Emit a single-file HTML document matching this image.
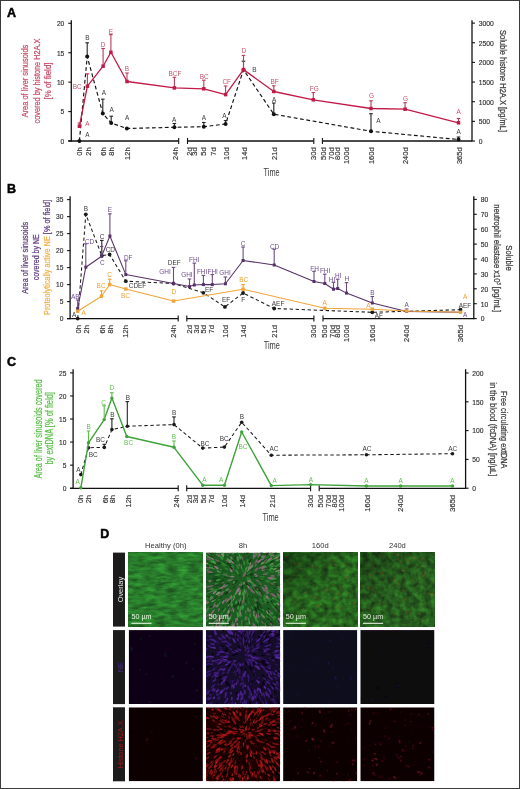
<!DOCTYPE html>
<html><head><meta charset="utf-8"><style>
html,body{margin:0;padding:0;background:#fff;}
body{width:520px;height:789px;overflow:hidden;position:relative;}
svg{display:block;position:absolute;left:0;top:0;will-change:transform;}
.frame{position:absolute;left:0;top:0;width:518px;height:787px;border:1px solid #3a3a3a;}
</style></head><body>
<svg width="520" height="789" viewBox="0 0 520 789" font-family='"Liberation Sans", sans-serif'>
<rect width="520" height="789" fill="#fff"/>
<text x="11.5" y="16.5" font-size="12.5" fill="#000" text-anchor="middle" font-weight="bold" stroke="#000" stroke-width="0.5">A</text>
<line x1="71.3" y1="20.3" x2="71.3" y2="141.6" stroke="#111" stroke-width="1.3" stroke-linecap="butt"/>
<line x1="68.3" y1="23.3" x2="71.3" y2="23.3" stroke="#111" stroke-width="1.1" stroke-linecap="butt"/>
<text x="64.3" y="26.1" font-size="8" fill="#2a2a2a" text-anchor="end" textLength="7.4" lengthAdjust="spacingAndGlyphs" stroke="#2a2a2a" stroke-width="0.15">20</text>
<line x1="68.3" y1="52.73" x2="71.3" y2="52.73" stroke="#111" stroke-width="1.1" stroke-linecap="butt"/>
<text x="64.3" y="55.53" font-size="8" fill="#2a2a2a" text-anchor="end" textLength="7.4" lengthAdjust="spacingAndGlyphs" stroke="#2a2a2a" stroke-width="0.15">15</text>
<line x1="68.3" y1="82.15" x2="71.3" y2="82.15" stroke="#111" stroke-width="1.1" stroke-linecap="butt"/>
<text x="64.3" y="84.95" font-size="8" fill="#2a2a2a" text-anchor="end" textLength="7.4" lengthAdjust="spacingAndGlyphs" stroke="#2a2a2a" stroke-width="0.15">10</text>
<line x1="68.3" y1="111.58" x2="71.3" y2="111.58" stroke="#111" stroke-width="1.1" stroke-linecap="butt"/>
<text x="64.3" y="114.38" font-size="8" fill="#2a2a2a" text-anchor="end" textLength="3.7" lengthAdjust="spacingAndGlyphs" stroke="#2a2a2a" stroke-width="0.15">5</text>
<line x1="68.3" y1="141" x2="71.3" y2="141" stroke="#111" stroke-width="1.1" stroke-linecap="butt"/>
<text x="64.3" y="143.8" font-size="8" fill="#2a2a2a" text-anchor="end" textLength="3.7" lengthAdjust="spacingAndGlyphs" stroke="#2a2a2a" stroke-width="0.15">0</text>
<line x1="472" y1="20.3" x2="472" y2="141.6" stroke="#111" stroke-width="1.3" stroke-linecap="butt"/>
<line x1="472" y1="23.1" x2="475" y2="23.1" stroke="#111" stroke-width="1.1" stroke-linecap="butt"/>
<text x="478.7" y="25.9" font-size="8" fill="#2a2a2a" text-anchor="start" textLength="15" lengthAdjust="spacingAndGlyphs" stroke="#2a2a2a" stroke-width="0.15">3000</text>
<line x1="472" y1="42.75" x2="475" y2="42.75" stroke="#111" stroke-width="1.1" stroke-linecap="butt"/>
<text x="478.7" y="45.55" font-size="8" fill="#2a2a2a" text-anchor="start" textLength="15" lengthAdjust="spacingAndGlyphs" stroke="#2a2a2a" stroke-width="0.15">2500</text>
<line x1="472" y1="62.4" x2="475" y2="62.4" stroke="#111" stroke-width="1.1" stroke-linecap="butt"/>
<text x="478.7" y="65.2" font-size="8" fill="#2a2a2a" text-anchor="start" textLength="15" lengthAdjust="spacingAndGlyphs" stroke="#2a2a2a" stroke-width="0.15">2000</text>
<line x1="472" y1="82.05" x2="475" y2="82.05" stroke="#111" stroke-width="1.1" stroke-linecap="butt"/>
<text x="478.7" y="84.85" font-size="8" fill="#2a2a2a" text-anchor="start" textLength="15" lengthAdjust="spacingAndGlyphs" stroke="#2a2a2a" stroke-width="0.15">1500</text>
<line x1="472" y1="101.7" x2="475" y2="101.7" stroke="#111" stroke-width="1.1" stroke-linecap="butt"/>
<text x="478.7" y="104.5" font-size="8" fill="#2a2a2a" text-anchor="start" textLength="15" lengthAdjust="spacingAndGlyphs" stroke="#2a2a2a" stroke-width="0.15">1000</text>
<line x1="472" y1="121.35" x2="475" y2="121.35" stroke="#111" stroke-width="1.1" stroke-linecap="butt"/>
<text x="478.7" y="124.15" font-size="8" fill="#2a2a2a" text-anchor="start" textLength="11.25" lengthAdjust="spacingAndGlyphs" stroke="#2a2a2a" stroke-width="0.15">500</text>
<line x1="472" y1="141" x2="475" y2="141" stroke="#111" stroke-width="1.1" stroke-linecap="butt"/>
<text x="478.7" y="143.8" font-size="8" fill="#2a2a2a" text-anchor="start" textLength="3.75" lengthAdjust="spacingAndGlyphs" stroke="#2a2a2a" stroke-width="0.15">0</text>
<line x1="68.2" y1="141" x2="178.7" y2="141" stroke="#111" stroke-width="1.3" stroke-linecap="butt"/>
<line x1="187.5" y1="141" x2="313.8" y2="141" stroke="#111" stroke-width="1.3" stroke-linecap="butt"/>
<line x1="322.4" y1="141" x2="472" y2="141" stroke="#111" stroke-width="1.3" stroke-linecap="butt"/>
<line x1="178.7" y1="138" x2="178.7" y2="144" stroke="#111" stroke-width="1.1" stroke-linecap="butt"/>
<line x1="187.5" y1="138" x2="187.5" y2="144" stroke="#111" stroke-width="1.1" stroke-linecap="butt"/>
<line x1="313.8" y1="138" x2="313.8" y2="144" stroke="#111" stroke-width="1.1" stroke-linecap="butt"/>
<line x1="322.4" y1="138" x2="322.4" y2="144" stroke="#111" stroke-width="1.1" stroke-linecap="butt"/>
<text transform="translate(81.8,147.4) rotate(-90)" font-size="7.5" fill="#333" text-anchor="end" stroke="#333" stroke-width="0.15">0h</text>
<text transform="translate(91,147.4) rotate(-90)" font-size="7.5" fill="#333" text-anchor="end" stroke="#333" stroke-width="0.15">2h</text>
<text transform="translate(106.1,147.4) rotate(-90)" font-size="7.5" fill="#333" text-anchor="end" stroke="#333" stroke-width="0.15">6h</text>
<text transform="translate(113.8,147.4) rotate(-90)" font-size="7.5" fill="#333" text-anchor="end" stroke="#333" stroke-width="0.15">8h</text>
<text transform="translate(129.9,147.4) rotate(-90)" font-size="7.5" fill="#333" text-anchor="end" stroke="#333" stroke-width="0.15">12h</text>
<text transform="translate(178,147.4) rotate(-90)" font-size="7.5" fill="#333" text-anchor="end" stroke="#333" stroke-width="0.15">24h</text>
<text transform="translate(191.8,147.4) rotate(-90)" font-size="7.5" fill="#333" text-anchor="end" stroke="#333" stroke-width="0.15">2d</text>
<text transform="translate(197.2,147.4) rotate(-90)" font-size="7.5" fill="#333" text-anchor="end" stroke="#333" stroke-width="0.15">3d</text>
<text transform="translate(206.4,147.4) rotate(-90)" font-size="7.5" fill="#333" text-anchor="end" stroke="#333" stroke-width="0.15">5d</text>
<text transform="translate(215.5,147.4) rotate(-90)" font-size="7.5" fill="#333" text-anchor="end" stroke="#333" stroke-width="0.15">7d</text>
<text transform="translate(228.9,147.4) rotate(-90)" font-size="7.5" fill="#333" text-anchor="end" stroke="#333" stroke-width="0.15">10d</text>
<text transform="translate(247,147.4) rotate(-90)" font-size="7.5" fill="#333" text-anchor="end" stroke="#333" stroke-width="0.15">14d</text>
<text transform="translate(277.2,147.4) rotate(-90)" font-size="7.5" fill="#333" text-anchor="end" stroke="#333" stroke-width="0.15">21d</text>
<text transform="translate(316,147.4) rotate(-90)" font-size="7.5" fill="#333" text-anchor="end" stroke="#333" stroke-width="0.15">30d</text>
<text transform="translate(326.1,147.4) rotate(-90)" font-size="7.5" fill="#333" text-anchor="end" stroke="#333" stroke-width="0.15">50d</text>
<text transform="translate(333.8,147.4) rotate(-90)" font-size="7.5" fill="#333" text-anchor="end" stroke="#333" stroke-width="0.15">70d</text>
<text transform="translate(339.6,147.4) rotate(-90)" font-size="7.5" fill="#333" text-anchor="end" stroke="#333" stroke-width="0.15">80d</text>
<text transform="translate(348.8,147.4) rotate(-90)" font-size="7.5" fill="#333" text-anchor="end" stroke="#333" stroke-width="0.15">100d</text>
<text transform="translate(373.8,147.4) rotate(-90)" font-size="7.5" fill="#333" text-anchor="end" stroke="#333" stroke-width="0.15">160d</text>
<text transform="translate(408.2,147.4) rotate(-90)" font-size="7.5" fill="#333" text-anchor="end" stroke="#333" stroke-width="0.15">240d</text>
<text transform="translate(461.5,147.4) rotate(-90)" font-size="7.5" fill="#333" text-anchor="end" stroke="#333" stroke-width="0.15">365d</text>
<text x="271.6" y="176" font-size="10" fill="#3a3a3a" text-anchor="middle" textLength="16" lengthAdjust="spacingAndGlyphs">Time</text>
<text transform="translate(28.2,81) rotate(-90)" font-size="9" fill="#c8506a" text-anchor="middle" textLength="72.6" lengthAdjust="spacingAndGlyphs" stroke="#c8506a" stroke-width="0.25">Area of liver sinusoids</text>
<text transform="translate(39.5,81) rotate(-90)" font-size="9" fill="#c8506a" text-anchor="middle" textLength="85" lengthAdjust="spacingAndGlyphs" stroke="#c8506a" stroke-width="0.25">covered by histone H2A.X</text>
<text transform="translate(50.6,81) rotate(-90)" font-size="9" fill="#c8506a" text-anchor="middle" textLength="37" lengthAdjust="spacingAndGlyphs" stroke="#c8506a" stroke-width="0.25">[% of field]</text>
<text transform="translate(500.1,81) rotate(90)" font-size="9.8" fill="#3a3a3a" text-anchor="middle" textLength="102" lengthAdjust="spacingAndGlyphs" stroke="#3a3a3a" stroke-width="0.25">Soluble histone H2A.X [pg/mL]</text>
<polyline points="79.4,141 87.2,56.5 102.8,113.5 111.2,123 126.9,128.5 174.4,127.3 203.8,126.7 225.6,124 243.5,69.8 273.8,114.2 371,131.3 458.5,139.5" fill="none" stroke="#111" stroke-width="1.15" stroke-linejoin="round" stroke-dasharray="3.8 2.6"/>
<line x1="87.2" y1="56.5" x2="87.2" y2="42.8" stroke="#222" stroke-width="1.1" stroke-linecap="butt"/>
<line x1="85.4" y1="42.8" x2="89" y2="42.8" stroke="#222" stroke-width="1.1" stroke-linecap="butt"/>
<line x1="102.8" y1="113.5" x2="102.8" y2="99.2" stroke="#222" stroke-width="1.1" stroke-linecap="butt"/>
<line x1="101" y1="99.2" x2="104.6" y2="99.2" stroke="#222" stroke-width="1.1" stroke-linecap="butt"/>
<line x1="111.2" y1="123" x2="111.2" y2="116.2" stroke="#222" stroke-width="1.1" stroke-linecap="butt"/>
<line x1="109.4" y1="116.2" x2="113" y2="116.2" stroke="#222" stroke-width="1.1" stroke-linecap="butt"/>
<line x1="174.4" y1="127.3" x2="174.4" y2="123.5" stroke="#222" stroke-width="1.1" stroke-linecap="butt"/>
<line x1="172.6" y1="123.5" x2="176.2" y2="123.5" stroke="#222" stroke-width="1.1" stroke-linecap="butt"/>
<line x1="203.8" y1="126.7" x2="203.8" y2="122.5" stroke="#222" stroke-width="1.1" stroke-linecap="butt"/>
<line x1="202" y1="122.5" x2="205.6" y2="122.5" stroke="#222" stroke-width="1.1" stroke-linecap="butt"/>
<line x1="225.6" y1="124" x2="225.6" y2="120.6" stroke="#222" stroke-width="1.1" stroke-linecap="butt"/>
<line x1="223.8" y1="120.6" x2="227.4" y2="120.6" stroke="#222" stroke-width="1.1" stroke-linecap="butt"/>
<line x1="243.5" y1="69.8" x2="243.5" y2="61.2" stroke="#222" stroke-width="1.1" stroke-linecap="butt"/>
<line x1="241.7" y1="61.2" x2="245.3" y2="61.2" stroke="#222" stroke-width="1.1" stroke-linecap="butt"/>
<line x1="273.8" y1="114.2" x2="273.8" y2="103" stroke="#222" stroke-width="1.1" stroke-linecap="butt"/>
<line x1="272" y1="103" x2="275.6" y2="103" stroke="#222" stroke-width="1.1" stroke-linecap="butt"/>
<line x1="371" y1="131.3" x2="371" y2="113.7" stroke="#222" stroke-width="1.1" stroke-linecap="butt"/>
<line x1="369.2" y1="113.7" x2="372.8" y2="113.7" stroke="#222" stroke-width="1.1" stroke-linecap="butt"/>
<line x1="458.5" y1="139.5" x2="458.5" y2="137" stroke="#222" stroke-width="1.1" stroke-linecap="butt"/>
<line x1="456.7" y1="137" x2="460.3" y2="137" stroke="#222" stroke-width="1.1" stroke-linecap="butt"/>
<circle cx="79.4" cy="141" r="2" fill="#111"/>
<circle cx="87.2" cy="56.5" r="2" fill="#111"/>
<circle cx="102.8" cy="113.5" r="2" fill="#111"/>
<circle cx="111.2" cy="123" r="2" fill="#111"/>
<circle cx="126.9" cy="128.5" r="2" fill="#111"/>
<circle cx="174.4" cy="127.3" r="2" fill="#111"/>
<circle cx="203.8" cy="126.7" r="2" fill="#111"/>
<circle cx="225.6" cy="124" r="2" fill="#111"/>
<circle cx="243.5" cy="69.8" r="2" fill="#111"/>
<circle cx="273.8" cy="114.2" r="2" fill="#111"/>
<circle cx="371" cy="131.3" r="2" fill="#111"/>
<circle cx="458.5" cy="139.5" r="2" fill="#111"/>
<text x="87.5" y="137.2" font-size="7.5" fill="#3a3a3a" text-anchor="middle" textLength="4.3" lengthAdjust="spacingAndGlyphs">A</text>
<text x="87.5" y="40" font-size="7.5" fill="#3a3a3a" text-anchor="middle" textLength="4.3" lengthAdjust="spacingAndGlyphs">B</text>
<text x="103.8" y="95" font-size="7.5" fill="#3a3a3a" text-anchor="middle" textLength="4.3" lengthAdjust="spacingAndGlyphs">A</text>
<text x="111.7" y="111.8" font-size="7.5" fill="#3a3a3a" text-anchor="middle" textLength="4.3" lengthAdjust="spacingAndGlyphs">A</text>
<text x="127.1" y="120" font-size="7.5" fill="#3a3a3a" text-anchor="middle" textLength="4.3" lengthAdjust="spacingAndGlyphs">A</text>
<text x="174.2" y="121.5" font-size="7.5" fill="#3a3a3a" text-anchor="middle" textLength="4.3" lengthAdjust="spacingAndGlyphs">A</text>
<text x="203.8" y="119.6" font-size="7.5" fill="#3a3a3a" text-anchor="middle" textLength="4.3" lengthAdjust="spacingAndGlyphs">A</text>
<text x="224.5" y="117.7" font-size="7.5" fill="#3a3a3a" text-anchor="middle" textLength="4.3" lengthAdjust="spacingAndGlyphs">A</text>
<text x="254.5" y="71.5" font-size="7.5" fill="#3a3a3a" text-anchor="middle" textLength="4.3" lengthAdjust="spacingAndGlyphs">B</text>
<text x="274.2" y="101.5" font-size="7.5" fill="#3a3a3a" text-anchor="middle" textLength="4.3" lengthAdjust="spacingAndGlyphs">A</text>
<text x="378.5" y="123.3" font-size="7.5" fill="#3a3a3a" text-anchor="middle" textLength="4.3" lengthAdjust="spacingAndGlyphs">A</text>
<text x="458.6" y="133.8" font-size="7.5" fill="#3a3a3a" text-anchor="middle" textLength="4.3" lengthAdjust="spacingAndGlyphs">A</text>
<polyline points="79.4,126.2 87.4,86.2 103.1,66.2 110.9,52.3 127,81.5 174.4,87.9 203.8,88.8 225.6,94.6 243.5,69.6 273.8,91.5 313.3,99.8 371,108.5 405.1,109.2 458.5,122.8" fill="none" stroke="#c01a46" stroke-width="1.3" stroke-linejoin="round"/>
<line x1="79.4" y1="126.2" x2="79.4" y2="123" stroke="#b83a5a" stroke-width="1.1" stroke-linecap="butt"/>
<line x1="77.6" y1="123" x2="81.2" y2="123" stroke="#b83a5a" stroke-width="1.1" stroke-linecap="butt"/>
<line x1="87.4" y1="86.2" x2="87.4" y2="73.8" stroke="#b83a5a" stroke-width="1.1" stroke-linecap="butt"/>
<line x1="85.6" y1="73.8" x2="89.2" y2="73.8" stroke="#b83a5a" stroke-width="1.1" stroke-linecap="butt"/>
<line x1="103.1" y1="66.2" x2="103.1" y2="48.5" stroke="#b83a5a" stroke-width="1.1" stroke-linecap="butt"/>
<line x1="101.3" y1="48.5" x2="104.9" y2="48.5" stroke="#b83a5a" stroke-width="1.1" stroke-linecap="butt"/>
<line x1="110.9" y1="52.3" x2="110.9" y2="34.6" stroke="#b83a5a" stroke-width="1.1" stroke-linecap="butt"/>
<line x1="109.1" y1="34.6" x2="112.7" y2="34.6" stroke="#b83a5a" stroke-width="1.1" stroke-linecap="butt"/>
<line x1="127" y1="81.5" x2="127" y2="73" stroke="#b83a5a" stroke-width="1.1" stroke-linecap="butt"/>
<line x1="125.2" y1="73" x2="128.8" y2="73" stroke="#b83a5a" stroke-width="1.1" stroke-linecap="butt"/>
<line x1="174.4" y1="87.9" x2="174.4" y2="77.3" stroke="#b83a5a" stroke-width="1.1" stroke-linecap="butt"/>
<line x1="172.6" y1="77.3" x2="176.2" y2="77.3" stroke="#b83a5a" stroke-width="1.1" stroke-linecap="butt"/>
<line x1="203.8" y1="88.8" x2="203.8" y2="80.2" stroke="#b83a5a" stroke-width="1.1" stroke-linecap="butt"/>
<line x1="202" y1="80.2" x2="205.6" y2="80.2" stroke="#b83a5a" stroke-width="1.1" stroke-linecap="butt"/>
<line x1="225.6" y1="94.6" x2="225.6" y2="86" stroke="#b83a5a" stroke-width="1.1" stroke-linecap="butt"/>
<line x1="223.8" y1="86" x2="227.4" y2="86" stroke="#b83a5a" stroke-width="1.1" stroke-linecap="butt"/>
<line x1="243.5" y1="69.6" x2="243.5" y2="55.4" stroke="#b83a5a" stroke-width="1.1" stroke-linecap="butt"/>
<line x1="241.7" y1="55.4" x2="245.3" y2="55.4" stroke="#b83a5a" stroke-width="1.1" stroke-linecap="butt"/>
<line x1="273.8" y1="91.5" x2="273.8" y2="85.8" stroke="#b83a5a" stroke-width="1.1" stroke-linecap="butt"/>
<line x1="272" y1="85.8" x2="275.6" y2="85.8" stroke="#b83a5a" stroke-width="1.1" stroke-linecap="butt"/>
<line x1="313.3" y1="99.8" x2="313.3" y2="92.5" stroke="#b83a5a" stroke-width="1.1" stroke-linecap="butt"/>
<line x1="311.5" y1="92.5" x2="315.1" y2="92.5" stroke="#b83a5a" stroke-width="1.1" stroke-linecap="butt"/>
<line x1="371" y1="108.5" x2="371" y2="100.8" stroke="#b83a5a" stroke-width="1.1" stroke-linecap="butt"/>
<line x1="369.2" y1="100.8" x2="372.8" y2="100.8" stroke="#b83a5a" stroke-width="1.1" stroke-linecap="butt"/>
<line x1="405.1" y1="109.2" x2="405.1" y2="102.7" stroke="#b83a5a" stroke-width="1.1" stroke-linecap="butt"/>
<line x1="403.3" y1="102.7" x2="406.9" y2="102.7" stroke="#b83a5a" stroke-width="1.1" stroke-linecap="butt"/>
<line x1="458.5" y1="122.8" x2="458.5" y2="118.5" stroke="#b83a5a" stroke-width="1.1" stroke-linecap="butt"/>
<line x1="456.7" y1="118.5" x2="460.3" y2="118.5" stroke="#b83a5a" stroke-width="1.1" stroke-linecap="butt"/>
<rect x="77.65" y="124.45" width="3.5" height="3.5" fill="#c01a46"/>
<rect x="85.65" y="84.45" width="3.5" height="3.5" fill="#c01a46"/>
<rect x="101.35" y="64.45" width="3.5" height="3.5" fill="#c01a46"/>
<rect x="109.15" y="50.55" width="3.5" height="3.5" fill="#c01a46"/>
<rect x="125.25" y="79.75" width="3.5" height="3.5" fill="#c01a46"/>
<rect x="172.65" y="86.15" width="3.5" height="3.5" fill="#c01a46"/>
<rect x="202.05" y="87.05" width="3.5" height="3.5" fill="#c01a46"/>
<rect x="223.85" y="92.85" width="3.5" height="3.5" fill="#c01a46"/>
<rect x="241.75" y="67.85" width="3.5" height="3.5" fill="#c01a46"/>
<rect x="272.05" y="89.75" width="3.5" height="3.5" fill="#c01a46"/>
<rect x="311.55" y="98.05" width="3.5" height="3.5" fill="#c01a46"/>
<rect x="369.25" y="106.75" width="3.5" height="3.5" fill="#c01a46"/>
<rect x="403.35" y="107.45" width="3.5" height="3.5" fill="#c01a46"/>
<rect x="456.75" y="121.05" width="3.5" height="3.5" fill="#c01a46"/>
<text x="87.5" y="126" font-size="7.5" fill="#c8506a" text-anchor="middle" textLength="4.3" lengthAdjust="spacingAndGlyphs">A</text>
<text x="77.2" y="88.5" font-size="7.5" fill="#c8506a" text-anchor="middle" textLength="8.96" lengthAdjust="spacingAndGlyphs">BC</text>
<text x="103.1" y="46.9" font-size="7.5" fill="#c8506a" text-anchor="middle" textLength="4.66" lengthAdjust="spacingAndGlyphs">D</text>
<text x="110.8" y="33.5" font-size="7.5" fill="#c8506a" text-anchor="middle" textLength="4.3" lengthAdjust="spacingAndGlyphs">E</text>
<text x="127" y="71" font-size="7.5" fill="#c8506a" text-anchor="middle" textLength="4.3" lengthAdjust="spacingAndGlyphs">B</text>
<text x="175" y="75.8" font-size="7.5" fill="#c8506a" text-anchor="middle" textLength="12.9" lengthAdjust="spacingAndGlyphs">BCF</text>
<text x="204.3" y="78.8" font-size="7.5" fill="#c8506a" text-anchor="middle" textLength="8.96" lengthAdjust="spacingAndGlyphs">BC</text>
<text x="226.7" y="84" font-size="7.5" fill="#c8506a" text-anchor="middle" textLength="8.6" lengthAdjust="spacingAndGlyphs">CF</text>
<text x="244" y="52.7" font-size="7.5" fill="#c8506a" text-anchor="middle" textLength="4.66" lengthAdjust="spacingAndGlyphs">D</text>
<text x="274.7" y="83.8" font-size="7.5" fill="#c8506a" text-anchor="middle" textLength="8.24" lengthAdjust="spacingAndGlyphs">BF</text>
<text x="314.3" y="90.6" font-size="7.5" fill="#c8506a" text-anchor="middle" textLength="8.96" lengthAdjust="spacingAndGlyphs">FG</text>
<text x="371.4" y="97.7" font-size="7.5" fill="#c8506a" text-anchor="middle" textLength="5.02" lengthAdjust="spacingAndGlyphs">G</text>
<text x="405.5" y="101.2" font-size="7.5" fill="#c8506a" text-anchor="middle" textLength="5.02" lengthAdjust="spacingAndGlyphs">G</text>
<text x="458.6" y="113.8" font-size="7.5" fill="#c8506a" text-anchor="middle" textLength="4.3" lengthAdjust="spacingAndGlyphs">A</text>
<text x="11.4" y="192.6" font-size="12.5" fill="#000" text-anchor="middle" font-weight="bold" stroke="#000" stroke-width="0.5">B</text>
<line x1="70.1" y1="196.2" x2="70.1" y2="319.2" stroke="#111" stroke-width="1.3" stroke-linecap="butt"/>
<line x1="67.1" y1="199.6" x2="70.1" y2="199.6" stroke="#111" stroke-width="1.1" stroke-linecap="butt"/>
<text x="63.5" y="202.4" font-size="8" fill="#2a2a2a" text-anchor="end" textLength="7.4" lengthAdjust="spacingAndGlyphs" stroke="#2a2a2a" stroke-width="0.15">35</text>
<line x1="67.1" y1="216.6" x2="70.1" y2="216.6" stroke="#111" stroke-width="1.1" stroke-linecap="butt"/>
<text x="63.5" y="219.4" font-size="8" fill="#2a2a2a" text-anchor="end" textLength="7.4" lengthAdjust="spacingAndGlyphs" stroke="#2a2a2a" stroke-width="0.15">30</text>
<line x1="67.1" y1="233.6" x2="70.1" y2="233.6" stroke="#111" stroke-width="1.1" stroke-linecap="butt"/>
<text x="63.5" y="236.4" font-size="8" fill="#2a2a2a" text-anchor="end" textLength="7.4" lengthAdjust="spacingAndGlyphs" stroke="#2a2a2a" stroke-width="0.15">25</text>
<line x1="67.1" y1="250.6" x2="70.1" y2="250.6" stroke="#111" stroke-width="1.1" stroke-linecap="butt"/>
<text x="63.5" y="253.4" font-size="8" fill="#2a2a2a" text-anchor="end" textLength="7.4" lengthAdjust="spacingAndGlyphs" stroke="#2a2a2a" stroke-width="0.15">20</text>
<line x1="67.1" y1="267.6" x2="70.1" y2="267.6" stroke="#111" stroke-width="1.1" stroke-linecap="butt"/>
<text x="63.5" y="270.4" font-size="8" fill="#2a2a2a" text-anchor="end" textLength="7.4" lengthAdjust="spacingAndGlyphs" stroke="#2a2a2a" stroke-width="0.15">15</text>
<line x1="67.1" y1="284.6" x2="70.1" y2="284.6" stroke="#111" stroke-width="1.1" stroke-linecap="butt"/>
<text x="63.5" y="287.4" font-size="8" fill="#2a2a2a" text-anchor="end" textLength="7.4" lengthAdjust="spacingAndGlyphs" stroke="#2a2a2a" stroke-width="0.15">10</text>
<line x1="67.1" y1="301.6" x2="70.1" y2="301.6" stroke="#111" stroke-width="1.1" stroke-linecap="butt"/>
<text x="63.5" y="304.4" font-size="8" fill="#2a2a2a" text-anchor="end" textLength="3.7" lengthAdjust="spacingAndGlyphs" stroke="#2a2a2a" stroke-width="0.15">5</text>
<line x1="67.1" y1="318.6" x2="70.1" y2="318.6" stroke="#111" stroke-width="1.1" stroke-linecap="butt"/>
<text x="63.5" y="321.4" font-size="8" fill="#2a2a2a" text-anchor="end" textLength="3.7" lengthAdjust="spacingAndGlyphs" stroke="#2a2a2a" stroke-width="0.15">0</text>
<line x1="473.8" y1="196.2" x2="473.8" y2="319.2" stroke="#111" stroke-width="1.3" stroke-linecap="butt"/>
<line x1="473.8" y1="199.4" x2="476.8" y2="199.4" stroke="#111" stroke-width="1.1" stroke-linecap="butt"/>
<text x="480.8" y="202.2" font-size="8" fill="#2a2a2a" text-anchor="start" textLength="7.5" lengthAdjust="spacingAndGlyphs" stroke="#2a2a2a" stroke-width="0.15">80</text>
<line x1="473.8" y1="214.3" x2="476.8" y2="214.3" stroke="#111" stroke-width="1.1" stroke-linecap="butt"/>
<text x="480.8" y="217.1" font-size="8" fill="#2a2a2a" text-anchor="start" textLength="7.5" lengthAdjust="spacingAndGlyphs" stroke="#2a2a2a" stroke-width="0.15">70</text>
<line x1="473.8" y1="229.2" x2="476.8" y2="229.2" stroke="#111" stroke-width="1.1" stroke-linecap="butt"/>
<text x="480.8" y="232" font-size="8" fill="#2a2a2a" text-anchor="start" textLength="7.5" lengthAdjust="spacingAndGlyphs" stroke="#2a2a2a" stroke-width="0.15">60</text>
<line x1="473.8" y1="244.1" x2="476.8" y2="244.1" stroke="#111" stroke-width="1.1" stroke-linecap="butt"/>
<text x="480.8" y="246.9" font-size="8" fill="#2a2a2a" text-anchor="start" textLength="7.5" lengthAdjust="spacingAndGlyphs" stroke="#2a2a2a" stroke-width="0.15">50</text>
<line x1="473.8" y1="259" x2="476.8" y2="259" stroke="#111" stroke-width="1.1" stroke-linecap="butt"/>
<text x="480.8" y="261.8" font-size="8" fill="#2a2a2a" text-anchor="start" textLength="7.5" lengthAdjust="spacingAndGlyphs" stroke="#2a2a2a" stroke-width="0.15">40</text>
<line x1="473.8" y1="273.9" x2="476.8" y2="273.9" stroke="#111" stroke-width="1.1" stroke-linecap="butt"/>
<text x="480.8" y="276.7" font-size="8" fill="#2a2a2a" text-anchor="start" textLength="7.5" lengthAdjust="spacingAndGlyphs" stroke="#2a2a2a" stroke-width="0.15">30</text>
<line x1="473.8" y1="288.8" x2="476.8" y2="288.8" stroke="#111" stroke-width="1.1" stroke-linecap="butt"/>
<text x="480.8" y="291.6" font-size="8" fill="#2a2a2a" text-anchor="start" textLength="7.5" lengthAdjust="spacingAndGlyphs" stroke="#2a2a2a" stroke-width="0.15">20</text>
<line x1="473.8" y1="303.7" x2="476.8" y2="303.7" stroke="#111" stroke-width="1.1" stroke-linecap="butt"/>
<text x="480.8" y="306.5" font-size="8" fill="#2a2a2a" text-anchor="start" textLength="7.5" lengthAdjust="spacingAndGlyphs" stroke="#2a2a2a" stroke-width="0.15">10</text>
<line x1="473.8" y1="318.6" x2="476.8" y2="318.6" stroke="#111" stroke-width="1.1" stroke-linecap="butt"/>
<text x="480.8" y="321.4" font-size="8" fill="#2a2a2a" text-anchor="start" textLength="3.75" lengthAdjust="spacingAndGlyphs" stroke="#2a2a2a" stroke-width="0.15">0</text>
<line x1="67" y1="318.6" x2="178.2" y2="318.6" stroke="#111" stroke-width="1.3" stroke-linecap="butt"/>
<line x1="186.8" y1="318.6" x2="313.9" y2="318.6" stroke="#111" stroke-width="1.3" stroke-linecap="butt"/>
<line x1="323" y1="318.6" x2="473.8" y2="318.6" stroke="#111" stroke-width="1.3" stroke-linecap="butt"/>
<line x1="178.2" y1="315.6" x2="178.2" y2="321.6" stroke="#111" stroke-width="1.1" stroke-linecap="butt"/>
<line x1="186.8" y1="315.6" x2="186.8" y2="321.6" stroke="#111" stroke-width="1.1" stroke-linecap="butt"/>
<line x1="313.9" y1="315.6" x2="313.9" y2="321.6" stroke="#111" stroke-width="1.1" stroke-linecap="butt"/>
<line x1="323" y1="315.6" x2="323" y2="321.6" stroke="#111" stroke-width="1.1" stroke-linecap="butt"/>
<text transform="translate(80.6,325.2) rotate(-90)" font-size="7.5" fill="#333" text-anchor="end" stroke="#333" stroke-width="0.15">0h</text>
<text transform="translate(88.9,325.2) rotate(-90)" font-size="7.5" fill="#333" text-anchor="end" stroke="#333" stroke-width="0.15">2h</text>
<text transform="translate(105.1,325.2) rotate(-90)" font-size="7.5" fill="#333" text-anchor="end" stroke="#333" stroke-width="0.15">6h</text>
<text transform="translate(112.6,325.2) rotate(-90)" font-size="7.5" fill="#333" text-anchor="end" stroke="#333" stroke-width="0.15">8h</text>
<text transform="translate(128.4,325.2) rotate(-90)" font-size="7.5" fill="#333" text-anchor="end" stroke="#333" stroke-width="0.15">12h</text>
<text transform="translate(176.4,325.2) rotate(-90)" font-size="7.5" fill="#333" text-anchor="end" stroke="#333" stroke-width="0.15">24h</text>
<text transform="translate(191.6,325.2) rotate(-90)" font-size="7.5" fill="#333" text-anchor="end" stroke="#333" stroke-width="0.15">2d</text>
<text transform="translate(198.5,325.2) rotate(-90)" font-size="7.5" fill="#333" text-anchor="end" stroke="#333" stroke-width="0.15">3d</text>
<text transform="translate(205.9,325.2) rotate(-90)" font-size="7.5" fill="#333" text-anchor="end" stroke="#333" stroke-width="0.15">5d</text>
<text transform="translate(214.3,325.2) rotate(-90)" font-size="7.5" fill="#333" text-anchor="end" stroke="#333" stroke-width="0.15">7d</text>
<text transform="translate(227.9,325.2) rotate(-90)" font-size="7.5" fill="#333" text-anchor="end" stroke="#333" stroke-width="0.15">10d</text>
<text transform="translate(245.6,325.2) rotate(-90)" font-size="7.5" fill="#333" text-anchor="end" stroke="#333" stroke-width="0.15">14d</text>
<text transform="translate(277.4,325.2) rotate(-90)" font-size="7.5" fill="#333" text-anchor="end" stroke="#333" stroke-width="0.15">21d</text>
<text transform="translate(316.4,325.2) rotate(-90)" font-size="7.5" fill="#333" text-anchor="end" stroke="#333" stroke-width="0.15">30d</text>
<text transform="translate(327.2,325.2) rotate(-90)" font-size="7.5" fill="#333" text-anchor="end" stroke="#333" stroke-width="0.15">50d</text>
<text transform="translate(335.1,325.2) rotate(-90)" font-size="7.5" fill="#333" text-anchor="end" stroke="#333" stroke-width="0.15">70d</text>
<text transform="translate(340.2,325.2) rotate(-90)" font-size="7.5" fill="#333" text-anchor="end" stroke="#333" stroke-width="0.15">80d</text>
<text transform="translate(348.6,325.2) rotate(-90)" font-size="7.5" fill="#333" text-anchor="end" stroke="#333" stroke-width="0.15">100d</text>
<text transform="translate(374.9,325.2) rotate(-90)" font-size="7.5" fill="#333" text-anchor="end" stroke="#333" stroke-width="0.15">160d</text>
<text transform="translate(409.2,325.2) rotate(-90)" font-size="7.5" fill="#333" text-anchor="end" stroke="#333" stroke-width="0.15">240d</text>
<text transform="translate(463.1,325.2) rotate(-90)" font-size="7.5" fill="#333" text-anchor="end" stroke="#333" stroke-width="0.15">365d</text>
<text x="271.8" y="349" font-size="10" fill="#3a3a3a" text-anchor="middle" textLength="16.3" lengthAdjust="spacingAndGlyphs">Time</text>
<text transform="translate(27.8,257.8) rotate(-90)" font-size="9" fill="#5e3d7e" text-anchor="middle" textLength="72" lengthAdjust="spacingAndGlyphs" stroke="#5e3d7e" stroke-width="0.25">Area of liver sinusoids</text>
<text transform="translate(39.3,257.3) rotate(-90)" font-size="9" fill="#5e3d7e" text-anchor="middle" textLength="46" lengthAdjust="spacingAndGlyphs" stroke="#5e3d7e" stroke-width="0.25">covered by NE</text>
<text transform="translate(49.6,315) rotate(-90)" font-size="9" text-anchor="start" stroke-width="0.25" textLength="115.2" lengthAdjust="spacingAndGlyphs"><tspan fill="#f4b04a" stroke="#f4b04a">Proteolytically active NE</tspan><tspan fill="#5e3d7e" stroke="#5e3d7e"> [% of field]</tspan></text>
<text transform="translate(494.1,258.2) rotate(90)" font-size="9.8" fill="#3a3a3a" text-anchor="middle" textLength="108" lengthAdjust="spacingAndGlyphs" stroke="#3a3a3a" stroke-width="0.25">neutrophil elastase x10<tspan font-size="5" dy="-3">3</tspan><tspan dy="3"> [pg/mL]</tspan></text>
<text transform="translate(505.6,258) rotate(90)" font-size="9.8" fill="#3a3a3a" text-anchor="middle" textLength="25.4" lengthAdjust="spacingAndGlyphs" stroke="#3a3a3a" stroke-width="0.25">Soluble</text>
<polyline points="77.7,318.6 85.8,214.3 101.8,255.7 109.6,254.5 125.8,281.2 173.5,283.5 203.4,292.8 224.9,306.9 243.1,293 274.2,308.5 372.3,312.3 460.5,309.7" fill="none" stroke="#1a1a1a" stroke-width="1.05" stroke-linejoin="round" stroke-dasharray="3.4 2.6"/>
<line x1="101.8" y1="255.7" x2="101.8" y2="240.4" stroke="#222" stroke-width="1.1" stroke-linecap="butt"/>
<line x1="100" y1="240.4" x2="103.6" y2="240.4" stroke="#222" stroke-width="1.1" stroke-linecap="butt"/>
<circle cx="77.7" cy="318.6" r="1.9" fill="#1a1a1a"/>
<circle cx="85.8" cy="214.3" r="1.9" fill="#1a1a1a"/>
<circle cx="101.8" cy="255.7" r="1.9" fill="#1a1a1a"/>
<circle cx="109.6" cy="254.5" r="1.9" fill="#1a1a1a"/>
<circle cx="125.8" cy="281.2" r="1.9" fill="#1a1a1a"/>
<circle cx="173.5" cy="283.5" r="1.9" fill="#1a1a1a"/>
<circle cx="203.4" cy="292.8" r="1.9" fill="#1a1a1a"/>
<circle cx="224.9" cy="306.9" r="1.9" fill="#1a1a1a"/>
<circle cx="243.1" cy="293" r="1.9" fill="#1a1a1a"/>
<circle cx="274.2" cy="308.5" r="1.9" fill="#1a1a1a"/>
<circle cx="372.3" cy="312.3" r="1.9" fill="#1a1a1a"/>
<circle cx="460.5" cy="309.7" r="1.9" fill="#1a1a1a"/>
<text x="74.2" y="316.5" font-size="7.5" fill="#3a3a3a" text-anchor="middle" textLength="4.3" lengthAdjust="spacingAndGlyphs">A</text>
<text x="85.9" y="211" font-size="7.5" fill="#3a3a3a" text-anchor="middle" textLength="4.3" lengthAdjust="spacingAndGlyphs">B</text>
<text x="102" y="239" font-size="7.5" fill="#3a3a3a" text-anchor="middle" textLength="4.66" lengthAdjust="spacingAndGlyphs">C</text>
<text x="110.3" y="251.8" font-size="7.5" fill="#3a3a3a" text-anchor="middle" textLength="9.31" lengthAdjust="spacingAndGlyphs">CD</text>
<text x="137.5" y="288" font-size="7.5" fill="#3a3a3a" text-anchor="middle" textLength="17.56" lengthAdjust="spacingAndGlyphs">CDEF</text>
<text x="174.2" y="265.4" font-size="7.5" fill="#3a3a3a" text-anchor="middle" textLength="12.9" lengthAdjust="spacingAndGlyphs">DEF</text>
<text x="209.2" y="291.8" font-size="7.5" fill="#3a3a3a" text-anchor="middle" textLength="8.24" lengthAdjust="spacingAndGlyphs">EF</text>
<text x="226.1" y="302.3" font-size="7.5" fill="#3a3a3a" text-anchor="middle" textLength="8.24" lengthAdjust="spacingAndGlyphs">EF</text>
<text x="243.2" y="301.5" font-size="7.5" fill="#3a3a3a" text-anchor="middle" textLength="3.94" lengthAdjust="spacingAndGlyphs">F</text>
<text x="278.1" y="306" font-size="7.5" fill="#3a3a3a" text-anchor="middle" textLength="12.55" lengthAdjust="spacingAndGlyphs">AEF</text>
<text x="378.8" y="317.7" font-size="7.5" fill="#3a3a3a" text-anchor="middle" textLength="8.24" lengthAdjust="spacingAndGlyphs">AF</text>
<text x="465" y="307.7" font-size="7.5" fill="#3a3a3a" text-anchor="middle" textLength="12.55" lengthAdjust="spacingAndGlyphs">AEF</text>
<polyline points="77.7,308.5 85.8,267.2 101.6,256.2 109.9,236 125.8,274.6 173.5,283.5 189.5,286.6 194.3,285 203.4,284.6 212.3,284.6 225.4,283.8 243.1,260.5 274.2,265 314,281.5 324.8,283.5 333.5,289.2 337.7,288.5 346.5,293.1 372.3,303 406.6,311.5 460.5,312.3" fill="none" stroke="#553068" stroke-width="1.05" stroke-linejoin="round"/>
<line x1="77.7" y1="308.5" x2="77.7" y2="300" stroke="#6a4a84" stroke-width="1.1" stroke-linecap="butt"/>
<line x1="75.9" y1="300" x2="79.5" y2="300" stroke="#6a4a84" stroke-width="1.1" stroke-linecap="butt"/>
<line x1="85.8" y1="267.2" x2="85.8" y2="243.8" stroke="#6a4a84" stroke-width="1.1" stroke-linecap="butt"/>
<line x1="84" y1="243.8" x2="87.6" y2="243.8" stroke="#6a4a84" stroke-width="1.1" stroke-linecap="butt"/>
<line x1="101.6" y1="256.2" x2="101.6" y2="246.5" stroke="#6a4a84" stroke-width="1.1" stroke-linecap="butt"/>
<line x1="99.8" y1="246.5" x2="103.4" y2="246.5" stroke="#6a4a84" stroke-width="1.1" stroke-linecap="butt"/>
<line x1="109.9" y1="236" x2="109.9" y2="213.8" stroke="#6a4a84" stroke-width="1.1" stroke-linecap="butt"/>
<line x1="108.1" y1="213.8" x2="111.7" y2="213.8" stroke="#6a4a84" stroke-width="1.1" stroke-linecap="butt"/>
<line x1="125.8" y1="274.6" x2="125.8" y2="260.8" stroke="#6a4a84" stroke-width="1.1" stroke-linecap="butt"/>
<line x1="124" y1="260.8" x2="127.6" y2="260.8" stroke="#6a4a84" stroke-width="1.1" stroke-linecap="butt"/>
<line x1="173.5" y1="283.5" x2="173.5" y2="267.4" stroke="#6a4a84" stroke-width="1.1" stroke-linecap="butt"/>
<line x1="171.7" y1="267.4" x2="175.3" y2="267.4" stroke="#6a4a84" stroke-width="1.1" stroke-linecap="butt"/>
<line x1="189.5" y1="286.6" x2="189.5" y2="279" stroke="#6a4a84" stroke-width="1.1" stroke-linecap="butt"/>
<line x1="187.7" y1="279" x2="191.3" y2="279" stroke="#6a4a84" stroke-width="1.1" stroke-linecap="butt"/>
<line x1="194.3" y1="285" x2="194.3" y2="263.1" stroke="#6a4a84" stroke-width="1.1" stroke-linecap="butt"/>
<line x1="192.5" y1="263.1" x2="196.1" y2="263.1" stroke="#6a4a84" stroke-width="1.1" stroke-linecap="butt"/>
<line x1="203.4" y1="284.6" x2="203.4" y2="275.4" stroke="#6a4a84" stroke-width="1.1" stroke-linecap="butt"/>
<line x1="201.6" y1="275.4" x2="205.2" y2="275.4" stroke="#6a4a84" stroke-width="1.1" stroke-linecap="butt"/>
<line x1="212.3" y1="284.6" x2="212.3" y2="274.6" stroke="#6a4a84" stroke-width="1.1" stroke-linecap="butt"/>
<line x1="210.5" y1="274.6" x2="214.1" y2="274.6" stroke="#6a4a84" stroke-width="1.1" stroke-linecap="butt"/>
<line x1="225.4" y1="283.8" x2="225.4" y2="277" stroke="#6a4a84" stroke-width="1.1" stroke-linecap="butt"/>
<line x1="223.6" y1="277" x2="227.2" y2="277" stroke="#6a4a84" stroke-width="1.1" stroke-linecap="butt"/>
<line x1="243.1" y1="260.5" x2="243.1" y2="247" stroke="#6a4a84" stroke-width="1.1" stroke-linecap="butt"/>
<line x1="241.3" y1="247" x2="244.9" y2="247" stroke="#6a4a84" stroke-width="1.1" stroke-linecap="butt"/>
<line x1="274.2" y1="265" x2="274.2" y2="249.2" stroke="#6a4a84" stroke-width="1.1" stroke-linecap="butt"/>
<line x1="272.4" y1="249.2" x2="276" y2="249.2" stroke="#6a4a84" stroke-width="1.1" stroke-linecap="butt"/>
<line x1="314" y1="281.5" x2="314" y2="271.3" stroke="#6a4a84" stroke-width="1.1" stroke-linecap="butt"/>
<line x1="312.2" y1="271.3" x2="315.8" y2="271.3" stroke="#6a4a84" stroke-width="1.1" stroke-linecap="butt"/>
<line x1="324.8" y1="283.5" x2="324.8" y2="274.2" stroke="#6a4a84" stroke-width="1.1" stroke-linecap="butt"/>
<line x1="323" y1="274.2" x2="326.6" y2="274.2" stroke="#6a4a84" stroke-width="1.1" stroke-linecap="butt"/>
<line x1="333.5" y1="289.2" x2="333.5" y2="282.3" stroke="#6a4a84" stroke-width="1.1" stroke-linecap="butt"/>
<line x1="331.7" y1="282.3" x2="335.3" y2="282.3" stroke="#6a4a84" stroke-width="1.1" stroke-linecap="butt"/>
<line x1="337.7" y1="288.5" x2="337.7" y2="279.2" stroke="#6a4a84" stroke-width="1.1" stroke-linecap="butt"/>
<line x1="335.9" y1="279.2" x2="339.5" y2="279.2" stroke="#6a4a84" stroke-width="1.1" stroke-linecap="butt"/>
<line x1="346.5" y1="293.1" x2="346.5" y2="282.6" stroke="#6a4a84" stroke-width="1.1" stroke-linecap="butt"/>
<line x1="344.7" y1="282.6" x2="348.3" y2="282.6" stroke="#6a4a84" stroke-width="1.1" stroke-linecap="butt"/>
<line x1="372.3" y1="303" x2="372.3" y2="296.5" stroke="#6a4a84" stroke-width="1.1" stroke-linecap="butt"/>
<line x1="370.5" y1="296.5" x2="374.1" y2="296.5" stroke="#6a4a84" stroke-width="1.1" stroke-linecap="butt"/>
<line x1="406.6" y1="311.5" x2="406.6" y2="309" stroke="#6a4a84" stroke-width="1.1" stroke-linecap="butt"/>
<line x1="404.8" y1="309" x2="408.4" y2="309" stroke="#6a4a84" stroke-width="1.1" stroke-linecap="butt"/>
<rect x="76.2" y="307" width="3" height="3" fill="#553068"/>
<rect x="84.3" y="265.7" width="3" height="3" fill="#553068"/>
<rect x="100.1" y="254.7" width="3" height="3" fill="#553068"/>
<rect x="108.4" y="234.5" width="3" height="3" fill="#553068"/>
<rect x="124.3" y="273.1" width="3" height="3" fill="#553068"/>
<rect x="172" y="282" width="3" height="3" fill="#553068"/>
<rect x="188" y="285.1" width="3" height="3" fill="#553068"/>
<rect x="192.8" y="283.5" width="3" height="3" fill="#553068"/>
<rect x="201.9" y="283.1" width="3" height="3" fill="#553068"/>
<rect x="210.8" y="283.1" width="3" height="3" fill="#553068"/>
<rect x="223.9" y="282.3" width="3" height="3" fill="#553068"/>
<rect x="241.6" y="259" width="3" height="3" fill="#553068"/>
<rect x="272.7" y="263.5" width="3" height="3" fill="#553068"/>
<rect x="312.5" y="280" width="3" height="3" fill="#553068"/>
<rect x="323.3" y="282" width="3" height="3" fill="#553068"/>
<rect x="332" y="287.7" width="3" height="3" fill="#553068"/>
<rect x="336.2" y="287" width="3" height="3" fill="#553068"/>
<rect x="345" y="291.6" width="3" height="3" fill="#553068"/>
<rect x="370.8" y="301.5" width="3" height="3" fill="#553068"/>
<rect x="405.1" y="310" width="3" height="3" fill="#553068"/>
<rect x="459" y="310.8" width="3" height="3" fill="#553068"/>
<text x="75.3" y="298.5" font-size="7.5" fill="#6e4e8c" text-anchor="middle" textLength="8.6" lengthAdjust="spacingAndGlyphs">AB</text>
<text x="89.6" y="244.2" font-size="7.5" fill="#6e4e8c" text-anchor="middle" textLength="9.31" lengthAdjust="spacingAndGlyphs">CD</text>
<text x="102.3" y="264.6" font-size="7.5" fill="#6e4e8c" text-anchor="middle" textLength="4.66" lengthAdjust="spacingAndGlyphs">C</text>
<text x="109.8" y="212.3" font-size="7.5" fill="#6e4e8c" text-anchor="middle" textLength="4.3" lengthAdjust="spacingAndGlyphs">E</text>
<text x="128.2" y="259.7" font-size="7.5" fill="#6e4e8c" text-anchor="middle" textLength="8.6" lengthAdjust="spacingAndGlyphs">DF</text>
<text x="165" y="274.2" font-size="7.5" fill="#6e4e8c" text-anchor="middle" textLength="11.47" lengthAdjust="spacingAndGlyphs">GHI</text>
<text x="186.9" y="277.4" font-size="7.5" fill="#6e4e8c" text-anchor="middle" textLength="11.47" lengthAdjust="spacingAndGlyphs">GHI</text>
<text x="194.3" y="262" font-size="7.5" fill="#6e4e8c" text-anchor="middle" textLength="10.39" lengthAdjust="spacingAndGlyphs">FHI</text>
<text x="202.1" y="274.3" font-size="7.5" fill="#6e4e8c" text-anchor="middle" textLength="10.39" lengthAdjust="spacingAndGlyphs">FHI</text>
<text x="212.7" y="274.3" font-size="7.5" fill="#6e4e8c" text-anchor="middle" textLength="10.39" lengthAdjust="spacingAndGlyphs">FHI</text>
<text x="225" y="275.4" font-size="7.5" fill="#6e4e8c" text-anchor="middle" textLength="11.47" lengthAdjust="spacingAndGlyphs">GHI</text>
<text x="243.1" y="246.2" font-size="7.5" fill="#6e4e8c" text-anchor="middle" textLength="4.66" lengthAdjust="spacingAndGlyphs">C</text>
<text x="274.6" y="249.2" font-size="7.5" fill="#6e4e8c" text-anchor="middle" textLength="9.31" lengthAdjust="spacingAndGlyphs">CD</text>
<text x="314.5" y="271.3" font-size="7.5" fill="#6e4e8c" text-anchor="middle" textLength="8.6" lengthAdjust="spacingAndGlyphs">FH</text>
<text x="325.1" y="273.1" font-size="7.5" fill="#6e4e8c" text-anchor="middle" textLength="10.39" lengthAdjust="spacingAndGlyphs">FHI</text>
<text x="332" y="281.5" font-size="7.5" fill="#6e4e8c" text-anchor="middle" textLength="6.45" lengthAdjust="spacingAndGlyphs">HI</text>
<text x="338.3" y="278" font-size="7.5" fill="#6e4e8c" text-anchor="middle" textLength="6.45" lengthAdjust="spacingAndGlyphs">HI</text>
<text x="347" y="280.8" font-size="7.5" fill="#6e4e8c" text-anchor="middle" textLength="4.66" lengthAdjust="spacingAndGlyphs">H</text>
<text x="372.3" y="295" font-size="7.5" fill="#6e4e8c" text-anchor="middle" textLength="4.3" lengthAdjust="spacingAndGlyphs">B</text>
<text x="406.7" y="307" font-size="7.5" fill="#6e4e8c" text-anchor="middle" textLength="4.3" lengthAdjust="spacingAndGlyphs">A</text>
<text x="465.2" y="316.5" font-size="7.5" fill="#6e4e8c" text-anchor="middle" textLength="4.3" lengthAdjust="spacingAndGlyphs">A</text>
<polyline points="77.7,311.2 101.5,296.2 109.7,284.6 125.8,289 173.5,301.1 243.1,289.2 324.8,308.2 372.3,309.2 406.6,311 460.5,312.3" fill="none" stroke="#f0a43a" stroke-width="1.05" stroke-linejoin="round"/>
<line x1="101.5" y1="296.2" x2="101.5" y2="290.8" stroke="#f0a030" stroke-width="1.1" stroke-linecap="butt"/>
<line x1="99.7" y1="290.8" x2="103.3" y2="290.8" stroke="#f0a030" stroke-width="1.1" stroke-linecap="butt"/>
<line x1="109.7" y1="284.6" x2="109.7" y2="279.2" stroke="#f0a030" stroke-width="1.1" stroke-linecap="butt"/>
<line x1="107.9" y1="279.2" x2="111.5" y2="279.2" stroke="#f0a030" stroke-width="1.1" stroke-linecap="butt"/>
<line x1="243.1" y1="289.2" x2="243.1" y2="284.6" stroke="#f0a030" stroke-width="1.1" stroke-linecap="butt"/>
<line x1="241.3" y1="284.6" x2="244.9" y2="284.6" stroke="#f0a030" stroke-width="1.1" stroke-linecap="butt"/>
<rect x="76" y="309.5" width="3.4" height="3.4" fill="#f0a43a"/>
<rect x="99.8" y="294.5" width="3.4" height="3.4" fill="#f0a43a"/>
<rect x="108" y="282.9" width="3.4" height="3.4" fill="#f0a43a"/>
<rect x="124.1" y="287.3" width="3.4" height="3.4" fill="#f0a43a"/>
<rect x="171.8" y="299.4" width="3.4" height="3.4" fill="#f0a43a"/>
<rect x="241.4" y="287.5" width="3.4" height="3.4" fill="#f0a43a"/>
<rect x="323.1" y="306.5" width="3.4" height="3.4" fill="#f0a43a"/>
<rect x="370.6" y="307.5" width="3.4" height="3.4" fill="#f0a43a"/>
<rect x="404.9" y="309.3" width="3.4" height="3.4" fill="#f0a43a"/>
<rect x="458.8" y="310.6" width="3.4" height="3.4" fill="#f0a43a"/>
<text x="83.6" y="314.6" font-size="7.5" fill="#f0a030" text-anchor="middle" textLength="4.3" lengthAdjust="spacingAndGlyphs">A</text>
<text x="101.1" y="287.7" font-size="7.5" fill="#f0a030" text-anchor="middle" textLength="8.96" lengthAdjust="spacingAndGlyphs">BC</text>
<text x="109.7" y="277" font-size="7.5" fill="#f0a030" text-anchor="middle" textLength="4.66" lengthAdjust="spacingAndGlyphs">C</text>
<text x="125.4" y="298.2" font-size="7.5" fill="#f0a030" text-anchor="middle" textLength="8.96" lengthAdjust="spacingAndGlyphs">BC</text>
<text x="173.8" y="293.8" font-size="7.5" fill="#f0a030" text-anchor="middle" textLength="4.66" lengthAdjust="spacingAndGlyphs">D</text>
<text x="243.8" y="282.3" font-size="7.5" fill="#f0a030" text-anchor="middle" textLength="8.96" lengthAdjust="spacingAndGlyphs">BC</text>
<text x="324.6" y="304.6" font-size="7.5" fill="#f0a030" text-anchor="middle" textLength="4.3" lengthAdjust="spacingAndGlyphs">A</text>
<text x="368.3" y="307.7" font-size="7.5" fill="#f0a030" text-anchor="middle" textLength="4.3" lengthAdjust="spacingAndGlyphs">A</text>
<text x="465.2" y="299" font-size="7.5" fill="#f0a030" text-anchor="middle" textLength="4.3" lengthAdjust="spacingAndGlyphs">A</text>
<text x="11.4" y="366.1" font-size="12.5" fill="#000" text-anchor="middle" font-weight="bold" stroke="#000" stroke-width="0.5">C</text>
<line x1="73.1" y1="369.2" x2="73.1" y2="488.8" stroke="#111" stroke-width="1.3" stroke-linecap="butt"/>
<line x1="70.1" y1="372.9" x2="73.1" y2="372.9" stroke="#111" stroke-width="1.1" stroke-linecap="butt"/>
<text x="66.5" y="375.7" font-size="8" fill="#2a2a2a" text-anchor="end" textLength="7.4" lengthAdjust="spacingAndGlyphs" stroke="#2a2a2a" stroke-width="0.15">25</text>
<line x1="70.1" y1="395.96" x2="73.1" y2="395.96" stroke="#111" stroke-width="1.1" stroke-linecap="butt"/>
<text x="66.5" y="398.76" font-size="8" fill="#2a2a2a" text-anchor="end" textLength="7.4" lengthAdjust="spacingAndGlyphs" stroke="#2a2a2a" stroke-width="0.15">20</text>
<line x1="70.1" y1="419.02" x2="73.1" y2="419.02" stroke="#111" stroke-width="1.1" stroke-linecap="butt"/>
<text x="66.5" y="421.82" font-size="8" fill="#2a2a2a" text-anchor="end" textLength="7.4" lengthAdjust="spacingAndGlyphs" stroke="#2a2a2a" stroke-width="0.15">15</text>
<line x1="70.1" y1="442.08" x2="73.1" y2="442.08" stroke="#111" stroke-width="1.1" stroke-linecap="butt"/>
<text x="66.5" y="444.88" font-size="8" fill="#2a2a2a" text-anchor="end" textLength="7.4" lengthAdjust="spacingAndGlyphs" stroke="#2a2a2a" stroke-width="0.15">10</text>
<line x1="70.1" y1="465.14" x2="73.1" y2="465.14" stroke="#111" stroke-width="1.1" stroke-linecap="butt"/>
<text x="66.5" y="467.94" font-size="8" fill="#2a2a2a" text-anchor="end" textLength="3.7" lengthAdjust="spacingAndGlyphs" stroke="#2a2a2a" stroke-width="0.15">5</text>
<line x1="70.1" y1="488.2" x2="73.1" y2="488.2" stroke="#111" stroke-width="1.1" stroke-linecap="butt"/>
<text x="66.5" y="491" font-size="8" fill="#2a2a2a" text-anchor="end" textLength="3.7" lengthAdjust="spacingAndGlyphs" stroke="#2a2a2a" stroke-width="0.15">0</text>
<line x1="465.6" y1="369.2" x2="465.6" y2="488.8" stroke="#111" stroke-width="1.3" stroke-linecap="butt"/>
<line x1="465.6" y1="373" x2="468.6" y2="373" stroke="#111" stroke-width="1.1" stroke-linecap="butt"/>
<text x="472.2" y="375.8" font-size="8" fill="#2a2a2a" text-anchor="start" textLength="11.25" lengthAdjust="spacingAndGlyphs" stroke="#2a2a2a" stroke-width="0.15">200</text>
<line x1="465.6" y1="401.8" x2="468.6" y2="401.8" stroke="#111" stroke-width="1.1" stroke-linecap="butt"/>
<text x="472.2" y="404.6" font-size="8" fill="#2a2a2a" text-anchor="start" textLength="11.25" lengthAdjust="spacingAndGlyphs" stroke="#2a2a2a" stroke-width="0.15">150</text>
<line x1="465.6" y1="430.6" x2="468.6" y2="430.6" stroke="#111" stroke-width="1.1" stroke-linecap="butt"/>
<text x="472.2" y="433.4" font-size="8" fill="#2a2a2a" text-anchor="start" textLength="11.25" lengthAdjust="spacingAndGlyphs" stroke="#2a2a2a" stroke-width="0.15">100</text>
<line x1="465.6" y1="459.4" x2="468.6" y2="459.4" stroke="#111" stroke-width="1.1" stroke-linecap="butt"/>
<text x="472.2" y="462.2" font-size="8" fill="#2a2a2a" text-anchor="start" textLength="7.5" lengthAdjust="spacingAndGlyphs" stroke="#2a2a2a" stroke-width="0.15">50</text>
<line x1="465.6" y1="488.2" x2="468.6" y2="488.2" stroke="#111" stroke-width="1.1" stroke-linecap="butt"/>
<text x="472.2" y="491" font-size="8" fill="#2a2a2a" text-anchor="start" textLength="3.75" lengthAdjust="spacingAndGlyphs" stroke="#2a2a2a" stroke-width="0.15">0</text>
<line x1="70" y1="488.3" x2="178.2" y2="488.3" stroke="#111" stroke-width="1.3" stroke-linecap="butt"/>
<line x1="186.7" y1="488.3" x2="310.6" y2="488.3" stroke="#111" stroke-width="1.3" stroke-linecap="butt"/>
<line x1="319.2" y1="488.3" x2="465.6" y2="488.3" stroke="#111" stroke-width="1.3" stroke-linecap="butt"/>
<line x1="178.2" y1="485.3" x2="178.2" y2="491.3" stroke="#111" stroke-width="1.1" stroke-linecap="butt"/>
<line x1="186.7" y1="485.3" x2="186.7" y2="491.3" stroke="#111" stroke-width="1.1" stroke-linecap="butt"/>
<line x1="310.6" y1="485.3" x2="310.6" y2="491.3" stroke="#111" stroke-width="1.1" stroke-linecap="butt"/>
<line x1="319.2" y1="485.3" x2="319.2" y2="491.3" stroke="#111" stroke-width="1.1" stroke-linecap="butt"/>
<text transform="translate(83.1,495) rotate(-90)" font-size="7.5" fill="#333" text-anchor="end" stroke="#333" stroke-width="0.15">0h</text>
<text transform="translate(90.6,495) rotate(-90)" font-size="7.5" fill="#333" text-anchor="end" stroke="#333" stroke-width="0.15">2h</text>
<text transform="translate(107.6,495) rotate(-90)" font-size="7.5" fill="#333" text-anchor="end" stroke="#333" stroke-width="0.15">6h</text>
<text transform="translate(115.1,495) rotate(-90)" font-size="7.5" fill="#333" text-anchor="end" stroke="#333" stroke-width="0.15">8h</text>
<text transform="translate(131.3,495) rotate(-90)" font-size="7.5" fill="#333" text-anchor="end" stroke="#333" stroke-width="0.15">12h</text>
<text transform="translate(178.8,495) rotate(-90)" font-size="7.5" fill="#333" text-anchor="end" stroke="#333" stroke-width="0.15">24h</text>
<text transform="translate(192.1,495) rotate(-90)" font-size="7.5" fill="#333" text-anchor="end" stroke="#333" stroke-width="0.15">2d</text>
<text transform="translate(198.1,495) rotate(-90)" font-size="7.5" fill="#333" text-anchor="end" stroke="#333" stroke-width="0.15">3d</text>
<text transform="translate(205.6,495) rotate(-90)" font-size="7.5" fill="#333" text-anchor="end" stroke="#333" stroke-width="0.15">5d</text>
<text transform="translate(213.8,495) rotate(-90)" font-size="7.5" fill="#333" text-anchor="end" stroke="#333" stroke-width="0.15">7d</text>
<text transform="translate(227.1,495) rotate(-90)" font-size="7.5" fill="#333" text-anchor="end" stroke="#333" stroke-width="0.15">10d</text>
<text transform="translate(244.6,495) rotate(-90)" font-size="7.5" fill="#333" text-anchor="end" stroke="#333" stroke-width="0.15">14d</text>
<text transform="translate(275.1,495) rotate(-90)" font-size="7.5" fill="#333" text-anchor="end" stroke="#333" stroke-width="0.15">21d</text>
<text transform="translate(313.2,495) rotate(-90)" font-size="7.5" fill="#333" text-anchor="end" stroke="#333" stroke-width="0.15">30d</text>
<text transform="translate(322.5,495) rotate(-90)" font-size="7.5" fill="#333" text-anchor="end" stroke="#333" stroke-width="0.15">50d</text>
<text transform="translate(330.5,495) rotate(-90)" font-size="7.5" fill="#333" text-anchor="end" stroke="#333" stroke-width="0.15">70d</text>
<text transform="translate(337.4,495) rotate(-90)" font-size="7.5" fill="#333" text-anchor="end" stroke="#333" stroke-width="0.15">80d</text>
<text transform="translate(344.3,495) rotate(-90)" font-size="7.5" fill="#333" text-anchor="end" stroke="#333" stroke-width="0.15">100d</text>
<text transform="translate(369.6,495) rotate(-90)" font-size="7.5" fill="#333" text-anchor="end" stroke="#333" stroke-width="0.15">160d</text>
<text transform="translate(403.2,495) rotate(-90)" font-size="7.5" fill="#333" text-anchor="end" stroke="#333" stroke-width="0.15">240d</text>
<text transform="translate(455.1,495) rotate(-90)" font-size="7.5" fill="#333" text-anchor="end" stroke="#333" stroke-width="0.15">365d</text>
<text x="270.6" y="521.3" font-size="10" fill="#3a3a3a" text-anchor="middle" textLength="16.3" lengthAdjust="spacingAndGlyphs">Time</text>
<text transform="translate(41.9,429) rotate(-90)" font-size="10" fill="#5cbf4a" text-anchor="middle" textLength="99" lengthAdjust="spacingAndGlyphs" stroke="#5cbf4a" stroke-width="0.25">Area of liver sinusoids covered</text>
<text transform="translate(52.6,428.4) rotate(-90)" font-size="10" fill="#5cbf4a" text-anchor="middle" textLength="72.4" lengthAdjust="spacingAndGlyphs" stroke="#5cbf4a" stroke-width="0.25">by extDNA [% of field]</text>
<text transform="translate(489.9,429.3) rotate(90)" font-size="9.8" fill="#3a3a3a" text-anchor="middle" textLength="94.2" lengthAdjust="spacingAndGlyphs" stroke="#3a3a3a" stroke-width="0.25">in the blood (fcDNA) [ng/µL]</text>
<text transform="translate(501.3,429.7) rotate(90)" font-size="9.8" fill="#3a3a3a" text-anchor="middle" textLength="77.4" lengthAdjust="spacingAndGlyphs" stroke="#3a3a3a" stroke-width="0.25">Free circulating extDNA</text>
<polyline points="80.8,474.6 88.5,447.7 104.3,447.4 111.9,429.6 127.3,426.2 174,424.6 202.7,448.1 224.4,447.1 241.7,422.3 271.3,455.2 366.4,454.8 452.5,453.7" fill="none" stroke="#1a1a1a" stroke-width="1.05" stroke-linejoin="round" stroke-dasharray="3.4 2.6"/>
<line x1="104.3" y1="447.4" x2="104.3" y2="444.3" stroke="#222" stroke-width="1.1" stroke-linecap="butt"/>
<line x1="102.5" y1="444.3" x2="106.1" y2="444.3" stroke="#222" stroke-width="1.1" stroke-linecap="butt"/>
<line x1="111.9" y1="429.6" x2="111.9" y2="418.8" stroke="#222" stroke-width="1.1" stroke-linecap="butt"/>
<line x1="110.1" y1="418.8" x2="113.7" y2="418.8" stroke="#222" stroke-width="1.1" stroke-linecap="butt"/>
<line x1="127.3" y1="426.2" x2="127.3" y2="401.6" stroke="#222" stroke-width="1.1" stroke-linecap="butt"/>
<line x1="125.5" y1="401.6" x2="129.1" y2="401.6" stroke="#222" stroke-width="1.1" stroke-linecap="butt"/>
<line x1="174" y1="424.6" x2="174" y2="416.9" stroke="#222" stroke-width="1.1" stroke-linecap="butt"/>
<line x1="172.2" y1="416.9" x2="175.8" y2="416.9" stroke="#222" stroke-width="1.1" stroke-linecap="butt"/>
<circle cx="80.8" cy="474.6" r="1.8" fill="#1a1a1a"/>
<circle cx="88.5" cy="447.7" r="1.8" fill="#1a1a1a"/>
<circle cx="104.3" cy="447.4" r="1.8" fill="#1a1a1a"/>
<circle cx="111.9" cy="429.6" r="1.8" fill="#1a1a1a"/>
<circle cx="127.3" cy="426.2" r="1.8" fill="#1a1a1a"/>
<circle cx="174" cy="424.6" r="1.8" fill="#1a1a1a"/>
<circle cx="202.7" cy="448.1" r="1.8" fill="#1a1a1a"/>
<circle cx="224.4" cy="447.1" r="1.8" fill="#1a1a1a"/>
<circle cx="241.7" cy="422.3" r="1.8" fill="#1a1a1a"/>
<circle cx="271.3" cy="455.2" r="1.8" fill="#1a1a1a"/>
<circle cx="366.4" cy="454.8" r="1.8" fill="#1a1a1a"/>
<circle cx="452.5" cy="453.7" r="1.8" fill="#1a1a1a"/>
<text x="78.5" y="471.5" font-size="7.5" fill="#3a3a3a" text-anchor="middle" textLength="4.3" lengthAdjust="spacingAndGlyphs">A</text>
<text x="93.3" y="457" font-size="7.5" fill="#3a3a3a" text-anchor="middle" textLength="8.96" lengthAdjust="spacingAndGlyphs">BC</text>
<text x="100.4" y="442.3" font-size="7.5" fill="#3a3a3a" text-anchor="middle" textLength="8.96" lengthAdjust="spacingAndGlyphs">BC</text>
<text x="112.3" y="417.3" font-size="7.5" fill="#3a3a3a" text-anchor="middle" textLength="4.3" lengthAdjust="spacingAndGlyphs">B</text>
<text x="127.9" y="400" font-size="7.5" fill="#3a3a3a" text-anchor="middle" textLength="4.3" lengthAdjust="spacingAndGlyphs">B</text>
<text x="174.1" y="415" font-size="7.5" fill="#3a3a3a" text-anchor="middle" textLength="4.3" lengthAdjust="spacingAndGlyphs">B</text>
<text x="205" y="445.8" font-size="7.5" fill="#3a3a3a" text-anchor="middle" textLength="8.96" lengthAdjust="spacingAndGlyphs">BC</text>
<text x="224.2" y="441" font-size="7.5" fill="#3a3a3a" text-anchor="middle" textLength="8.96" lengthAdjust="spacingAndGlyphs">BC</text>
<text x="241.9" y="418.5" font-size="7.5" fill="#3a3a3a" text-anchor="middle" textLength="4.3" lengthAdjust="spacingAndGlyphs">B</text>
<text x="274" y="451" font-size="7.5" fill="#3a3a3a" text-anchor="middle" textLength="8.96" lengthAdjust="spacingAndGlyphs">AC</text>
<text x="366.9" y="451" font-size="7.5" fill="#3a3a3a" text-anchor="middle" textLength="8.96" lengthAdjust="spacingAndGlyphs">AC</text>
<text x="452.7" y="451" font-size="7.5" fill="#3a3a3a" text-anchor="middle" textLength="8.96" lengthAdjust="spacingAndGlyphs">AC</text>
<polyline points="80.8,487.8 88.5,442.8 104.2,419.6 111.9,398.1 126.8,436.5 174,447.3 202.7,485.2 224.4,485.2 241.7,432 271.3,485.6 310.6,484.6 366.4,486 400.6,486 452.5,486" fill="none" stroke="#3fa23a" stroke-width="1.4" stroke-linejoin="round"/>
<line x1="88.5" y1="442.8" x2="88.5" y2="431" stroke="#5cbf4a" stroke-width="1.1" stroke-linecap="butt"/>
<line x1="86.7" y1="431" x2="90.3" y2="431" stroke="#5cbf4a" stroke-width="1.1" stroke-linecap="butt"/>
<line x1="104.2" y1="419.6" x2="104.2" y2="405.8" stroke="#5cbf4a" stroke-width="1.1" stroke-linecap="butt"/>
<line x1="102.4" y1="405.8" x2="106" y2="405.8" stroke="#5cbf4a" stroke-width="1.1" stroke-linecap="butt"/>
<line x1="111.9" y1="398.1" x2="111.9" y2="392.7" stroke="#5cbf4a" stroke-width="1.1" stroke-linecap="butt"/>
<line x1="110.1" y1="392.7" x2="113.7" y2="392.7" stroke="#5cbf4a" stroke-width="1.1" stroke-linecap="butt"/>
<line x1="174" y1="447.3" x2="174" y2="441" stroke="#5cbf4a" stroke-width="1.1" stroke-linecap="butt"/>
<line x1="172.2" y1="441" x2="175.8" y2="441" stroke="#5cbf4a" stroke-width="1.1" stroke-linecap="butt"/>
<circle cx="80.8" cy="487.8" r="1.7" fill="#3fa23a"/>
<circle cx="88.5" cy="442.8" r="1.7" fill="#3fa23a"/>
<circle cx="104.2" cy="419.6" r="1.7" fill="#3fa23a"/>
<circle cx="111.9" cy="398.1" r="1.7" fill="#3fa23a"/>
<circle cx="126.8" cy="436.5" r="1.7" fill="#3fa23a"/>
<circle cx="174" cy="447.3" r="1.7" fill="#3fa23a"/>
<circle cx="202.7" cy="485.2" r="1.7" fill="#3fa23a"/>
<circle cx="224.4" cy="485.2" r="1.7" fill="#3fa23a"/>
<circle cx="241.7" cy="432" r="1.7" fill="#3fa23a"/>
<circle cx="271.3" cy="485.6" r="1.7" fill="#3fa23a"/>
<circle cx="310.6" cy="484.6" r="1.7" fill="#3fa23a"/>
<circle cx="366.4" cy="486" r="1.7" fill="#3fa23a"/>
<circle cx="400.6" cy="486" r="1.7" fill="#3fa23a"/>
<circle cx="452.5" cy="486" r="1.7" fill="#3fa23a"/>
<text x="77.7" y="483.8" font-size="7.5" fill="#5cbf4a" text-anchor="middle" textLength="4.3" lengthAdjust="spacingAndGlyphs">A</text>
<text x="88.6" y="429" font-size="7.5" fill="#5cbf4a" text-anchor="middle" textLength="4.3" lengthAdjust="spacingAndGlyphs">B</text>
<text x="103.5" y="405.3" font-size="7.5" fill="#5cbf4a" text-anchor="middle" textLength="4.66" lengthAdjust="spacingAndGlyphs">C</text>
<text x="111.9" y="390" font-size="7.5" fill="#5cbf4a" text-anchor="middle" textLength="4.66" lengthAdjust="spacingAndGlyphs">D</text>
<text x="128.6" y="445.4" font-size="7.5" fill="#5cbf4a" text-anchor="middle" textLength="8.96" lengthAdjust="spacingAndGlyphs">BC</text>
<text x="174" y="439" font-size="7.5" fill="#5cbf4a" text-anchor="middle" textLength="4.3" lengthAdjust="spacingAndGlyphs">B</text>
<text x="204.5" y="482.3" font-size="7.5" fill="#5cbf4a" text-anchor="middle" textLength="4.3" lengthAdjust="spacingAndGlyphs">A</text>
<text x="221.1" y="482.3" font-size="7.5" fill="#5cbf4a" text-anchor="middle" textLength="4.3" lengthAdjust="spacingAndGlyphs">A</text>
<text x="243" y="449.2" font-size="7.5" fill="#5cbf4a" text-anchor="middle" textLength="8.96" lengthAdjust="spacingAndGlyphs">BC</text>
<text x="274.6" y="483" font-size="7.5" fill="#5cbf4a" text-anchor="middle" textLength="4.3" lengthAdjust="spacingAndGlyphs">A</text>
<text x="310.9" y="481.7" font-size="7.5" fill="#5cbf4a" text-anchor="middle" textLength="4.3" lengthAdjust="spacingAndGlyphs">A</text>
<text x="366.4" y="482.5" font-size="7.5" fill="#5cbf4a" text-anchor="middle" textLength="4.3" lengthAdjust="spacingAndGlyphs">A</text>
<text x="400.6" y="482.5" font-size="7.5" fill="#5cbf4a" text-anchor="middle" textLength="4.3" lengthAdjust="spacingAndGlyphs">A</text>
<text x="452.5" y="482.5" font-size="7.5" fill="#5cbf4a" text-anchor="middle" textLength="4.3" lengthAdjust="spacingAndGlyphs">A</text>
<text x="104.8" y="538.2" font-size="12.5" fill="#000" text-anchor="middle" font-weight="bold" stroke="#000" stroke-width="0.5">D</text>
<text x="165.8" y="547.8" font-size="7.6" fill="#333" text-anchor="middle">Healthy (0h)</text>
<text x="243.1" y="547.8" font-size="7.6" fill="#333" text-anchor="middle">8h</text>
<text x="320.2" y="547.8" font-size="7.6" fill="#333" text-anchor="middle">160d</text>
<text x="397.4" y="547.8" font-size="7.6" fill="#333" text-anchor="middle">240d</text>
<rect x="113" y="552.6" width="12" height="74" fill="#1c1c1c"/>
<rect x="113" y="630.1" width="12" height="74" fill="#1c1c1c"/>
<rect x="113" y="707.3" width="12" height="74" fill="#1c1c1c"/>
<text transform="translate(123.2,589.6) rotate(-90)" font-size="7.4" fill="#e8e8e8" text-anchor="middle">Overlay</text>
<text transform="translate(123.2,667.1) rotate(-90)" font-size="7.4" fill="#4a2a80" text-anchor="middle">NE</text>
<text transform="translate(123.2,744.3) rotate(-90)" font-size="7.4" fill="#a01818" text-anchor="middle" textLength="47.8" lengthAdjust="spacingAndGlyphs">Histone H2A.X</text>
<defs><clipPath id="c00"><rect x="128.7" y="552.6" width="74.2" height="74"/></clipPath><clipPath id="c01"><rect x="128.7" y="630.1" width="74.2" height="74"/></clipPath><clipPath id="c02"><rect x="128.7" y="707.3" width="74.2" height="74"/></clipPath><clipPath id="c10"><rect x="206" y="552.6" width="74.2" height="74"/></clipPath><clipPath id="c11"><rect x="206" y="630.1" width="74.2" height="74"/></clipPath><clipPath id="c12"><rect x="206" y="707.3" width="74.2" height="74"/></clipPath><clipPath id="c20"><rect x="283.1" y="552.6" width="74.2" height="74"/></clipPath><clipPath id="c21"><rect x="283.1" y="630.1" width="74.2" height="74"/></clipPath><clipPath id="c22"><rect x="283.1" y="707.3" width="74.2" height="74"/></clipPath><clipPath id="c30"><rect x="360.3" y="552.6" width="74.2" height="74"/></clipPath><clipPath id="c31"><rect x="360.3" y="630.1" width="74.2" height="74"/></clipPath><clipPath id="c32"><rect x="360.3" y="707.3" width="74.2" height="74"/></clipPath><filter id="soft" x="-5%" y="-5%" width="110%" height="110%"><feGaussianBlur stdDeviation="0.35"/></filter></defs>
<filter id="t00" x="0" y="0" width="1" height="1" filterUnits="objectBoundingBox" color-interpolation-filters="sRGB"><feTurbulence type="fractalNoise" baseFrequency="0.09 0.28" numOctaves="3" seed="4"/><feColorMatrix type="matrix" values="0.12 0 0 0 0.1  0.45 0 0 0 0.26  0.12 0 0 0 0.11  0 0 0 0 1"/></filter>
<rect x="128.7" y="552.6" width="74.2" height="74" filter="url(#t00)"/>
<g clip-path="url(#c10)"><g filter="url(#soft)"><rect x="206" y="552.6" width="74.2" height="74" fill="#1f5c23"/><ellipse cx="229" cy="561.7" rx="2.5" ry="0.6" transform="rotate(-130 229 561.7)" fill="#8a6074" fill-opacity="0.8"/><ellipse cx="276" cy="566.8" rx="1.5" ry="0.7" transform="rotate(-25 276 566.8)" fill="#a87898" fill-opacity="0.7"/><ellipse cx="269.3" cy="559.5" rx="1.7" ry="0.8" transform="rotate(-21 269.3 559.5)" fill="#40a842" fill-opacity="0.8"/><ellipse cx="207" cy="567.3" rx="2.4" ry="0.6" transform="rotate(-166 207 567.3)" fill="#a87898" fill-opacity="0.6"/><ellipse cx="227.7" cy="614.9" rx="1.6" ry="0.8" transform="rotate(116 227.7 614.9)" fill="#8a6074" fill-opacity="0.6"/><ellipse cx="260.1" cy="594.7" rx="2.5" ry="0.8" transform="rotate(46 260.1 594.7)" fill="#8a6074" fill-opacity="0.7"/><ellipse cx="277.1" cy="578.5" rx="1.8" ry="0.6" transform="rotate(9 277.1 578.5)" fill="#174a1a" fill-opacity="0.8"/><ellipse cx="245.1" cy="619.6" rx="2.7" ry="0.7" transform="rotate(101 245.1 619.6)" fill="#174a1a" fill-opacity="0.7"/><ellipse cx="216.2" cy="577" rx="3.1" ry="0.7" transform="rotate(-164 216.2 577)" fill="#174a1a" fill-opacity="0.8"/><ellipse cx="249" cy="619.6" rx="1.9" ry="0.9" transform="rotate(84 249 619.6)" fill="#40a842" fill-opacity="0.8"/><ellipse cx="208.5" cy="557.1" rx="1.8" ry="0.9" transform="rotate(-162 208.5 557.1)" fill="#9a6a80" fill-opacity="0.8"/><ellipse cx="282.6" cy="615.4" rx="1.8" ry="0.7" transform="rotate(48 282.6 615.4)" fill="#123a16" fill-opacity="0.9"/><ellipse cx="231.5" cy="598.5" rx="2.2" ry="0.6" transform="rotate(112 231.5 598.5)" fill="#34943a" fill-opacity="0.7"/><ellipse cx="276.5" cy="589.3" rx="1.6" ry="0.7" transform="rotate(12 276.5 589.3)" fill="#3a9e3c" fill-opacity="0.8"/><ellipse cx="272.3" cy="571.9" rx="2.1" ry="0.7" transform="rotate(0 272.3 571.9)" fill="#34943a" fill-opacity="0.6"/><ellipse cx="217.1" cy="568.2" rx="1.7" ry="0.8" transform="rotate(-157 217.1 568.2)" fill="#9a6a80" fill-opacity="0.6"/><ellipse cx="214.7" cy="592.4" rx="2.5" ry="0.7" transform="rotate(141 214.7 592.4)" fill="#a87898" fill-opacity="0.9"/><ellipse cx="255.5" cy="608.8" rx="2.2" ry="0.9" transform="rotate(81 255.5 608.8)" fill="#0e2c10" fill-opacity="0.8"/><ellipse cx="234.5" cy="581.5" rx="1.5" ry="0.8" transform="rotate(142 234.5 581.5)" fill="#174a1a" fill-opacity="0.9"/><ellipse cx="238.3" cy="558.4" rx="2.4" ry="0.6" transform="rotate(-101 238.3 558.4)" fill="#a87898" fill-opacity="0.6"/><ellipse cx="232.2" cy="551.6" rx="3" ry="0.8" transform="rotate(-123 232.2 551.6)" fill="#9a6a80" fill-opacity="0.9"/><ellipse cx="251.3" cy="587.5" rx="1.5" ry="0.8" transform="rotate(64 251.3 587.5)" fill="#2a8030" fill-opacity="0.7"/><ellipse cx="209.9" cy="557.8" rx="2" ry="0.7" transform="rotate(-139 209.9 557.8)" fill="#3a9e3c" fill-opacity="0.7"/><ellipse cx="219.5" cy="625.8" rx="2" ry="0.9" transform="rotate(128 219.5 625.8)" fill="#a87898" fill-opacity="0.7"/><ellipse cx="254.6" cy="556.9" rx="2.9" ry="0.8" transform="rotate(-48 254.6 556.9)" fill="#8a6074" fill-opacity="0.8"/><ellipse cx="245.7" cy="611.9" rx="1.9" ry="0.7" transform="rotate(94 245.7 611.9)" fill="#34943a" fill-opacity="0.8"/><ellipse cx="268.6" cy="608.8" rx="1.7" ry="0.8" transform="rotate(46 268.6 608.8)" fill="#123a16" fill-opacity="0.9"/><ellipse cx="266.4" cy="587.4" rx="1.7" ry="0.8" transform="rotate(18 266.4 587.4)" fill="#8a6074" fill-opacity="0.9"/><ellipse cx="232.2" cy="567.2" rx="1.7" ry="0.6" transform="rotate(-144 232.2 567.2)" fill="#40a842" fill-opacity="0.9"/><ellipse cx="251.9" cy="549.8" rx="3" ry="0.7" transform="rotate(-67 251.9 549.8)" fill="#0e2c10" fill-opacity="0.6"/><ellipse cx="234.2" cy="606.5" rx="1.7" ry="1" transform="rotate(105 234.2 606.5)" fill="#0e2c10" fill-opacity="0.7"/><ellipse cx="267.2" cy="627.3" rx="2.1" ry="0.7" transform="rotate(77 267.2 627.3)" fill="#3a9e3c" fill-opacity="0.6"/><ellipse cx="213.2" cy="561.7" rx="3" ry="0.9" transform="rotate(-162 213.2 561.7)" fill="#40a842" fill-opacity="0.9"/><ellipse cx="255.7" cy="577.6" rx="2.3" ry="0.6" transform="rotate(-14 255.7 577.6)" fill="#0e2c10" fill-opacity="0.6"/><ellipse cx="263.1" cy="560.7" rx="3.2" ry="0.6" transform="rotate(-28 263.1 560.7)" fill="#123a16" fill-opacity="0.6"/><ellipse cx="226.5" cy="568.8" rx="2.4" ry="0.7" transform="rotate(-154 226.5 568.8)" fill="#3a9e3c" fill-opacity="0.6"/><ellipse cx="262.3" cy="621.4" rx="2.6" ry="0.9" transform="rotate(66 262.3 621.4)" fill="#a87898" fill-opacity="0.6"/><ellipse cx="215.2" cy="590.4" rx="3" ry="0.9" transform="rotate(158 215.2 590.4)" fill="#3a9e3c" fill-opacity="0.6"/><ellipse cx="241" cy="607.6" rx="2.4" ry="0.7" transform="rotate(94 241 607.6)" fill="#a87898" fill-opacity="0.7"/><ellipse cx="265.3" cy="620.3" rx="1.4" ry="0.6" transform="rotate(48 265.3 620.3)" fill="#174a1a" fill-opacity="0.7"/><ellipse cx="248.1" cy="610.4" rx="3" ry="0.7" transform="rotate(84 248.1 610.4)" fill="#a87898" fill-opacity="0.8"/><ellipse cx="219" cy="571.8" rx="2.3" ry="0.9" transform="rotate(-166 219 571.8)" fill="#34943a" fill-opacity="0.8"/><ellipse cx="273.3" cy="625" rx="1.8" ry="0.8" transform="rotate(70 273.3 625)" fill="#2a8030" fill-opacity="0.6"/><ellipse cx="212.8" cy="585" rx="1.4" ry="0.7" transform="rotate(153 212.8 585)" fill="#0e2c10" fill-opacity="0.7"/><ellipse cx="212.8" cy="611.8" rx="3.1" ry="0.8" transform="rotate(127 212.8 611.8)" fill="#9a6a80" fill-opacity="0.9"/><ellipse cx="280.6" cy="567.2" rx="3.1" ry="0.7" transform="rotate(-15 280.6 567.2)" fill="#0e2c10" fill-opacity="0.8"/><ellipse cx="215.9" cy="584.1" rx="2.3" ry="0.7" transform="rotate(157 215.9 584.1)" fill="#8a6074" fill-opacity="0.6"/><ellipse cx="232.3" cy="576.6" rx="2.2" ry="0.9" transform="rotate(-178 232.3 576.6)" fill="#a87898" fill-opacity="0.8"/><ellipse cx="244.1" cy="554.7" rx="3.2" ry="0.9" transform="rotate(-73 244.1 554.7)" fill="#174a1a" fill-opacity="0.6"/><ellipse cx="224.8" cy="622.1" rx="1.6" ry="0.9" transform="rotate(121 224.8 622.1)" fill="#0e2c10" fill-opacity="0.8"/><ellipse cx="223.7" cy="561.5" rx="3" ry="0.8" transform="rotate(-134 223.7 561.5)" fill="#174a1a" fill-opacity="0.6"/><ellipse cx="267.1" cy="564.3" rx="3" ry="0.7" transform="rotate(-43 267.1 564.3)" fill="#174a1a" fill-opacity="0.8"/><ellipse cx="209.7" cy="618.1" rx="1.4" ry="0.9" transform="rotate(128 209.7 618.1)" fill="#8a6074" fill-opacity="0.9"/><ellipse cx="236.5" cy="622.8" rx="2.5" ry="0.6" transform="rotate(104 236.5 622.8)" fill="#174a1a" fill-opacity="0.9"/><ellipse cx="224" cy="564.1" rx="3.1" ry="0.8" transform="rotate(-143 224 564.1)" fill="#34943a" fill-opacity="0.7"/><ellipse cx="243.1" cy="563.8" rx="2" ry="0.6" transform="rotate(-97 243.1 563.8)" fill="#123a16" fill-opacity="0.6"/><ellipse cx="243.6" cy="627.8" rx="2.3" ry="0.7" transform="rotate(87 243.6 627.8)" fill="#0e2c10" fill-opacity="0.8"/><ellipse cx="237.7" cy="589.2" rx="2.9" ry="0.7" transform="rotate(114 237.7 589.2)" fill="#34943a" fill-opacity="0.9"/><ellipse cx="230.5" cy="616.2" rx="2.6" ry="0.8" transform="rotate(105 230.5 616.2)" fill="#8a6074" fill-opacity="0.9"/><ellipse cx="270.1" cy="550.7" rx="2.5" ry="0.9" transform="rotate(-46 270.1 550.7)" fill="#123a16" fill-opacity="0.6"/><ellipse cx="270.5" cy="619.2" rx="2.6" ry="0.7" transform="rotate(48 270.5 619.2)" fill="#9a6a80" fill-opacity="0.6"/><ellipse cx="217.9" cy="571.1" rx="1.3" ry="0.7" transform="rotate(-170 217.9 571.1)" fill="#a87898" fill-opacity="0.7"/><ellipse cx="205.8" cy="620.2" rx="1.7" ry="0.6" transform="rotate(126 205.8 620.2)" fill="#174a1a" fill-opacity="0.7"/><ellipse cx="243.3" cy="565.7" rx="2.3" ry="0.6" transform="rotate(-95 243.3 565.7)" fill="#174a1a" fill-opacity="0.6"/><ellipse cx="250.1" cy="581.1" rx="1.9" ry="0.8" transform="rotate(14 250.1 581.1)" fill="#a87898" fill-opacity="0.8"/><ellipse cx="215.5" cy="621" rx="2.8" ry="0.8" transform="rotate(130 215.5 621)" fill="#2a8030" fill-opacity="0.6"/><ellipse cx="261.1" cy="601.1" rx="1.4" ry="0.9" transform="rotate(64 261.1 601.1)" fill="#0e2c10" fill-opacity="0.7"/><ellipse cx="259.2" cy="590" rx="3" ry="0.9" transform="rotate(39 259.2 590)" fill="#123a16" fill-opacity="0.8"/><ellipse cx="249.8" cy="621" rx="2.6" ry="0.9" transform="rotate(72 249.8 621)" fill="#123a16" fill-opacity="0.6"/><ellipse cx="254.1" cy="626.4" rx="2" ry="0.8" transform="rotate(63 254.1 626.4)" fill="#123a16" fill-opacity="0.8"/><ellipse cx="257.6" cy="588.7" rx="1.3" ry="0.9" transform="rotate(44 257.6 588.7)" fill="#a87898" fill-opacity="0.9"/><ellipse cx="210.4" cy="591.7" rx="2.7" ry="0.8" transform="rotate(165 210.4 591.7)" fill="#9a6a80" fill-opacity="0.6"/><ellipse cx="263.7" cy="568.1" rx="2.5" ry="0.8" transform="rotate(-14 263.7 568.1)" fill="#174a1a" fill-opacity="0.7"/><ellipse cx="257.8" cy="611" rx="2.5" ry="0.8" transform="rotate(53 257.8 611)" fill="#3a9e3c" fill-opacity="0.7"/><ellipse cx="255.3" cy="605" rx="2.5" ry="0.6" transform="rotate(65 255.3 605)" fill="#2a8030" fill-opacity="0.6"/><ellipse cx="256.9" cy="605" rx="2.6" ry="0.7" transform="rotate(63 256.9 605)" fill="#2a8030" fill-opacity="0.7"/><ellipse cx="264.5" cy="629.1" rx="2.3" ry="0.7" transform="rotate(54 264.5 629.1)" fill="#2a8030" fill-opacity="0.6"/><ellipse cx="239.8" cy="615.2" rx="3.1" ry="0.8" transform="rotate(87 239.8 615.2)" fill="#34943a" fill-opacity="0.9"/><ellipse cx="277.6" cy="555.6" rx="1.5" ry="0.9" transform="rotate(-39 277.6 555.6)" fill="#8a6074" fill-opacity="0.6"/><ellipse cx="268.8" cy="590.3" rx="3" ry="0.9" transform="rotate(18 268.8 590.3)" fill="#2a8030" fill-opacity="0.7"/><ellipse cx="215.8" cy="625.6" rx="2.6" ry="0.7" transform="rotate(126 215.8 625.6)" fill="#9a9a7a" fill-opacity="0.7"/><ellipse cx="228.3" cy="616.8" rx="1.3" ry="0.9" transform="rotate(120 228.3 616.8)" fill="#174a1a" fill-opacity="0.9"/><ellipse cx="218.7" cy="550.5" rx="2.7" ry="0.7" transform="rotate(-144 218.7 550.5)" fill="#9a9a7a" fill-opacity="0.9"/><ellipse cx="250.3" cy="578.5" rx="2.1" ry="0.7" transform="rotate(-6 250.3 578.5)" fill="#174a1a" fill-opacity="0.6"/><ellipse cx="256.1" cy="600.4" rx="1.6" ry="1" transform="rotate(58 256.1 600.4)" fill="#8a6074" fill-opacity="0.6"/><ellipse cx="232.9" cy="626.1" rx="3" ry="0.9" transform="rotate(105 232.9 626.1)" fill="#a87898" fill-opacity="0.7"/><ellipse cx="260.7" cy="553.6" rx="2.7" ry="0.8" transform="rotate(-46 260.7 553.6)" fill="#0e2c10" fill-opacity="0.9"/><ellipse cx="241.9" cy="622.6" rx="2.3" ry="0.6" transform="rotate(88 241.9 622.6)" fill="#9a6a80" fill-opacity="0.7"/><ellipse cx="262.3" cy="627.7" rx="1.8" ry="0.8" transform="rotate(62 262.3 627.7)" fill="#a87898" fill-opacity="0.8"/><ellipse cx="212.6" cy="601.1" rx="1.4" ry="0.8" transform="rotate(151 212.6 601.1)" fill="#a87898" fill-opacity="0.6"/><ellipse cx="275.7" cy="629.3" rx="2.2" ry="0.6" transform="rotate(48 275.7 629.3)" fill="#174a1a" fill-opacity="0.6"/><ellipse cx="247.6" cy="575.1" rx="2" ry="0.9" transform="rotate(-37 247.6 575.1)" fill="#123a16" fill-opacity="0.8"/><ellipse cx="236.1" cy="582.7" rx="2.3" ry="0.7" transform="rotate(138 236.1 582.7)" fill="#123a16" fill-opacity="0.7"/><ellipse cx="249.1" cy="578.4" rx="2.6" ry="0.8" transform="rotate(16 249.1 578.4)" fill="#34943a" fill-opacity="0.6"/><ellipse cx="274.9" cy="580.4" rx="2.5" ry="0.7" transform="rotate(0 274.9 580.4)" fill="#123a16" fill-opacity="0.6"/><ellipse cx="237.1" cy="610.7" rx="2.8" ry="1" transform="rotate(99 237.1 610.7)" fill="#174a1a" fill-opacity="0.7"/><ellipse cx="277.3" cy="615.6" rx="2.9" ry="1" transform="rotate(40 277.3 615.6)" fill="#174a1a" fill-opacity="0.6"/><ellipse cx="215.2" cy="627.4" rx="1.5" ry="0.9" transform="rotate(125 215.2 627.4)" fill="#2a8030" fill-opacity="0.6"/><ellipse cx="265.3" cy="549.7" rx="1.5" ry="0.8" transform="rotate(-65 265.3 549.7)" fill="#9a6a80" fill-opacity="0.9"/><ellipse cx="253.2" cy="591.9" rx="2.1" ry="0.9" transform="rotate(42 253.2 591.9)" fill="#9a6a80" fill-opacity="0.7"/><ellipse cx="249.7" cy="580.6" rx="1.7" ry="0.8" transform="rotate(9 249.7 580.6)" fill="#9a6a80" fill-opacity="0.9"/><ellipse cx="225.3" cy="574.9" rx="2.9" ry="0.7" transform="rotate(-170 225.3 574.9)" fill="#a87898" fill-opacity="0.6"/><ellipse cx="280" cy="606" rx="1.9" ry="0.6" transform="rotate(37 280 606)" fill="#0e2c10" fill-opacity="0.8"/><ellipse cx="209.5" cy="567.8" rx="2.1" ry="0.7" transform="rotate(-163 209.5 567.8)" fill="#8a6074" fill-opacity="0.8"/><ellipse cx="232.1" cy="581.3" rx="1.3" ry="0.7" transform="rotate(171 232.1 581.3)" fill="#174a1a" fill-opacity="0.6"/><ellipse cx="280.8" cy="574.5" rx="2.9" ry="0.7" transform="rotate(-12 280.8 574.5)" fill="#9a6a80" fill-opacity="0.6"/><ellipse cx="253" cy="598.4" rx="3" ry="0.8" transform="rotate(76 253 598.4)" fill="#123a16" fill-opacity="0.9"/><ellipse cx="214.7" cy="581.1" rx="1.7" ry="1" transform="rotate(162 214.7 581.1)" fill="#123a16" fill-opacity="0.8"/><ellipse cx="217.8" cy="585.6" rx="2.7" ry="0.7" transform="rotate(150 217.8 585.6)" fill="#174a1a" fill-opacity="0.9"/><ellipse cx="229.4" cy="564.4" rx="3.1" ry="0.9" transform="rotate(-149 229.4 564.4)" fill="#0e2c10" fill-opacity="0.8"/><ellipse cx="270.3" cy="628.4" rx="2.1" ry="0.6" transform="rotate(49 270.3 628.4)" fill="#174a1a" fill-opacity="0.7"/><ellipse cx="279.6" cy="559.5" rx="3.1" ry="0.6" transform="rotate(-30 279.6 559.5)" fill="#9a6a80" fill-opacity="0.8"/><ellipse cx="237.7" cy="553.5" rx="2.2" ry="0.7" transform="rotate(-89 237.7 553.5)" fill="#34943a" fill-opacity="0.7"/><ellipse cx="262.1" cy="587.6" rx="2.5" ry="0.7" transform="rotate(31 262.1 587.6)" fill="#9a9a7a" fill-opacity="0.6"/><ellipse cx="205.8" cy="554.6" rx="3" ry="0.7" transform="rotate(-140 205.8 554.6)" fill="#40a842" fill-opacity="0.7"/><ellipse cx="224.8" cy="626.2" rx="2.5" ry="0.7" transform="rotate(116 224.8 626.2)" fill="#8a6074" fill-opacity="0.9"/><ellipse cx="226.9" cy="607.3" rx="2.4" ry="0.9" transform="rotate(131 226.9 607.3)" fill="#174a1a" fill-opacity="0.6"/><ellipse cx="221.8" cy="587.6" rx="3.1" ry="1" transform="rotate(151 221.8 587.6)" fill="#9a6a80" fill-opacity="0.9"/><ellipse cx="268.3" cy="560.2" rx="2.2" ry="0.6" transform="rotate(-21 268.3 560.2)" fill="#9a6a80" fill-opacity="0.8"/><ellipse cx="265" cy="598.2" rx="1.9" ry="0.7" transform="rotate(38 265 598.2)" fill="#40a842" fill-opacity="0.6"/><ellipse cx="218.8" cy="609.8" rx="1.8" ry="0.6" transform="rotate(112 218.8 609.8)" fill="#a87898" fill-opacity="0.7"/><ellipse cx="215.9" cy="583.7" rx="1.5" ry="0.6" transform="rotate(171 215.9 583.7)" fill="#34943a" fill-opacity="0.6"/><ellipse cx="243" cy="606.4" rx="2.1" ry="0.7" transform="rotate(87 243 606.4)" fill="#40a842" fill-opacity="0.9"/><ellipse cx="221.8" cy="592.7" rx="2.8" ry="0.9" transform="rotate(152 221.8 592.7)" fill="#9a6a80" fill-opacity="0.7"/><ellipse cx="248.5" cy="579.4" rx="2.7" ry="0.6" transform="rotate(11 248.5 579.4)" fill="#34943a" fill-opacity="0.6"/><ellipse cx="225.6" cy="622.2" rx="1.7" ry="0.6" transform="rotate(103 225.6 622.2)" fill="#34943a" fill-opacity="0.7"/><ellipse cx="221.6" cy="614.3" rx="2.5" ry="1" transform="rotate(108 221.6 614.3)" fill="#2a8030" fill-opacity="0.9"/><ellipse cx="221.5" cy="585.5" rx="2" ry="0.9" transform="rotate(151 221.5 585.5)" fill="#123a16" fill-opacity="0.6"/><ellipse cx="281" cy="596.3" rx="3.1" ry="0.7" transform="rotate(37 281 596.3)" fill="#2a8030" fill-opacity="0.8"/><ellipse cx="265.2" cy="602.8" rx="1.3" ry="0.8" transform="rotate(54 265.2 602.8)" fill="#8a6074" fill-opacity="0.6"/><ellipse cx="232.6" cy="560.9" rx="1.7" ry="0.7" transform="rotate(-119 232.6 560.9)" fill="#0e2c10" fill-opacity="0.9"/><ellipse cx="268.3" cy="615.1" rx="2.1" ry="0.7" transform="rotate(59 268.3 615.1)" fill="#174a1a" fill-opacity="0.6"/><ellipse cx="266.8" cy="593.4" rx="1.4" ry="0.6" transform="rotate(30 266.8 593.4)" fill="#a87898" fill-opacity="0.6"/><ellipse cx="245.8" cy="601.8" rx="2.1" ry="0.7" transform="rotate(97 245.8 601.8)" fill="#0e2c10" fill-opacity="0.7"/><ellipse cx="279.4" cy="574.6" rx="2.4" ry="0.7" transform="rotate(-7 279.4 574.6)" fill="#8a6074" fill-opacity="0.8"/><ellipse cx="234.3" cy="582" rx="3.1" ry="0.7" transform="rotate(142 234.3 582)" fill="#174a1a" fill-opacity="0.8"/><ellipse cx="235.6" cy="620.2" rx="2.2" ry="0.6" transform="rotate(85 235.6 620.2)" fill="#a87898" fill-opacity="0.6"/><ellipse cx="267.7" cy="581.3" rx="2.4" ry="1" transform="rotate(15 267.7 581.3)" fill="#3a9e3c" fill-opacity="0.6"/><ellipse cx="225.7" cy="591.3" rx="3.1" ry="0.6" transform="rotate(141 225.7 591.3)" fill="#34943a" fill-opacity="0.7"/><ellipse cx="270.2" cy="553.1" rx="3" ry="0.7" transform="rotate(-38 270.2 553.1)" fill="#0e2c10" fill-opacity="0.7"/><ellipse cx="275.5" cy="599.2" rx="2.9" ry="0.6" transform="rotate(42 275.5 599.2)" fill="#34943a" fill-opacity="0.8"/><ellipse cx="252.3" cy="565.3" rx="2.2" ry="0.8" transform="rotate(-66 252.3 565.3)" fill="#a87898" fill-opacity="0.6"/><ellipse cx="231.8" cy="561.6" rx="3.1" ry="0.9" transform="rotate(-134 231.8 561.6)" fill="#a87898" fill-opacity="0.8"/><ellipse cx="256.9" cy="603" rx="1.9" ry="0.7" transform="rotate(59 256.9 603)" fill="#0e2c10" fill-opacity="0.8"/><ellipse cx="255.1" cy="574.3" rx="1.8" ry="0.7" transform="rotate(-19 255.1 574.3)" fill="#a87898" fill-opacity="0.7"/><ellipse cx="204.9" cy="599.1" rx="2.2" ry="0.7" transform="rotate(158 204.9 599.1)" fill="#2a8030" fill-opacity="0.8"/><ellipse cx="268" cy="581.6" rx="1.4" ry="0.7" transform="rotate(5 268 581.6)" fill="#2a8030" fill-opacity="0.7"/><ellipse cx="255.7" cy="552.9" rx="1.5" ry="1" transform="rotate(-68 255.7 552.9)" fill="#a87898" fill-opacity="0.6"/><ellipse cx="263.3" cy="621.2" rx="2.5" ry="0.9" transform="rotate(50 263.3 621.2)" fill="#174a1a" fill-opacity="0.9"/><ellipse cx="261.7" cy="614.8" rx="1.7" ry="1" transform="rotate(63 261.7 614.8)" fill="#3a9e3c" fill-opacity="0.8"/><ellipse cx="260.8" cy="567.3" rx="2.9" ry="0.8" transform="rotate(-37 260.8 567.3)" fill="#8a6074" fill-opacity="0.9"/><ellipse cx="225.1" cy="614.9" rx="1.6" ry="0.8" transform="rotate(128 225.1 614.9)" fill="#34943a" fill-opacity="0.8"/><ellipse cx="252.4" cy="568.6" rx="2" ry="0.6" transform="rotate(-46 252.4 568.6)" fill="#0e2c10" fill-opacity="0.9"/><ellipse cx="257.5" cy="621.2" rx="1.6" ry="0.9" transform="rotate(60 257.5 621.2)" fill="#a87898" fill-opacity="0.6"/><ellipse cx="271.8" cy="626.9" rx="2.2" ry="0.8" transform="rotate(65 271.8 626.9)" fill="#174a1a" fill-opacity="0.6"/><ellipse cx="246" cy="618.1" rx="2.7" ry="0.7" transform="rotate(82 246 618.1)" fill="#8a6074" fill-opacity="0.8"/><ellipse cx="231.9" cy="610.8" rx="2.1" ry="0.6" transform="rotate(115 231.9 610.8)" fill="#123a16" fill-opacity="0.7"/><ellipse cx="244.4" cy="574.4" rx="3.1" ry="0.9" transform="rotate(-53 244.4 574.4)" fill="#8a6074" fill-opacity="0.8"/><ellipse cx="262.9" cy="567.3" rx="1.9" ry="0.8" transform="rotate(-29 262.9 567.3)" fill="#8a6074" fill-opacity="0.9"/><ellipse cx="213.6" cy="567.8" rx="2.5" ry="0.6" transform="rotate(-176 213.6 567.8)" fill="#8a6074" fill-opacity="0.7"/><ellipse cx="245" cy="592.3" rx="2.1" ry="0.7" transform="rotate(71 245 592.3)" fill="#8a6074" fill-opacity="0.8"/><ellipse cx="241.1" cy="560.4" rx="3.1" ry="0.7" transform="rotate(-106 241.1 560.4)" fill="#174a1a" fill-opacity="0.6"/><ellipse cx="214.6" cy="602.8" rx="1.8" ry="0.9" transform="rotate(152 214.6 602.8)" fill="#123a16" fill-opacity="0.8"/><ellipse cx="248.1" cy="577.6" rx="2.5" ry="0.7" transform="rotate(13 248.1 577.6)" fill="#2a8030" fill-opacity="0.6"/><ellipse cx="275.5" cy="553.1" rx="2.3" ry="0.7" transform="rotate(-44 275.5 553.1)" fill="#123a16" fill-opacity="0.9"/><ellipse cx="211.4" cy="598.6" rx="2.5" ry="0.6" transform="rotate(143 211.4 598.6)" fill="#a87898" fill-opacity="0.8"/><ellipse cx="243.7" cy="600.9" rx="2.8" ry="0.6" transform="rotate(82 243.7 600.9)" fill="#9a6a80" fill-opacity="0.8"/><ellipse cx="282.7" cy="607.5" rx="2.2" ry="0.8" transform="rotate(33 282.7 607.5)" fill="#9a9a7a" fill-opacity="0.8"/><ellipse cx="240.3" cy="608.9" rx="2.2" ry="0.7" transform="rotate(83 240.3 608.9)" fill="#34943a" fill-opacity="0.8"/><ellipse cx="212.9" cy="620.9" rx="3.1" ry="1" transform="rotate(117 212.9 620.9)" fill="#123a16" fill-opacity="0.6"/><ellipse cx="247.4" cy="584.5" rx="2.8" ry="0.8" transform="rotate(50 247.4 584.5)" fill="#0e2c10" fill-opacity="0.9"/><ellipse cx="274.7" cy="556.4" rx="2.3" ry="0.6" transform="rotate(-21 274.7 556.4)" fill="#34943a" fill-opacity="0.9"/><ellipse cx="262.8" cy="575.7" rx="3" ry="0.7" transform="rotate(-13 262.8 575.7)" fill="#0e2c10" fill-opacity="0.9"/><ellipse cx="281.7" cy="616.9" rx="2.3" ry="0.8" transform="rotate(46 281.7 616.9)" fill="#123a16" fill-opacity="0.9"/><ellipse cx="238.1" cy="607.6" rx="2.4" ry="0.7" transform="rotate(90 238.1 607.6)" fill="#40a842" fill-opacity="0.8"/><ellipse cx="248.3" cy="563.3" rx="1.4" ry="0.6" transform="rotate(-65 248.3 563.3)" fill="#3a9e3c" fill-opacity="0.7"/><ellipse cx="214.4" cy="551.9" rx="1.4" ry="0.9" transform="rotate(-134 214.4 551.9)" fill="#174a1a" fill-opacity="0.8"/><ellipse cx="208.3" cy="596.8" rx="2" ry="0.9" transform="rotate(160 208.3 596.8)" fill="#0e2c10" fill-opacity="0.6"/><ellipse cx="272.6" cy="622.8" rx="3.1" ry="0.6" transform="rotate(47 272.6 622.8)" fill="#174a1a" fill-opacity="0.6"/><ellipse cx="279.1" cy="622.5" rx="2.7" ry="0.6" transform="rotate(58 279.1 622.5)" fill="#0e2c10" fill-opacity="0.7"/><ellipse cx="211" cy="557.4" rx="2.7" ry="0.6" transform="rotate(-153 211 557.4)" fill="#9a9a7a" fill-opacity="0.6"/><ellipse cx="231.1" cy="624" rx="1.4" ry="0.9" transform="rotate(116 231.1 624)" fill="#40a842" fill-opacity="0.7"/><ellipse cx="271.3" cy="599.1" rx="1.4" ry="0.7" transform="rotate(35 271.3 599.1)" fill="#174a1a" fill-opacity="0.7"/><ellipse cx="259.5" cy="592.6" rx="1.7" ry="0.9" transform="rotate(30 259.5 592.6)" fill="#9a6a80" fill-opacity="0.6"/><ellipse cx="203.1" cy="565.8" rx="2.7" ry="1" transform="rotate(-178 203.1 565.8)" fill="#2a8030" fill-opacity="0.6"/><ellipse cx="258.8" cy="615.6" rx="3.1" ry="0.8" transform="rotate(81 258.8 615.6)" fill="#a87898" fill-opacity="0.6"/><ellipse cx="278.7" cy="572.3" rx="1.7" ry="0.9" transform="rotate(-8 278.7 572.3)" fill="#174a1a" fill-opacity="0.9"/><ellipse cx="264.5" cy="588.8" rx="3.2" ry="0.8" transform="rotate(15 264.5 588.8)" fill="#8a6074" fill-opacity="0.7"/><ellipse cx="235.2" cy="581.2" rx="3" ry="0.6" transform="rotate(167 235.2 581.2)" fill="#123a16" fill-opacity="0.7"/><ellipse cx="227.3" cy="583.8" rx="2.3" ry="0.6" transform="rotate(172 227.3 583.8)" fill="#0e2c10" fill-opacity="0.6"/><ellipse cx="240" cy="592.1" rx="2.7" ry="0.9" transform="rotate(106 240 592.1)" fill="#8a6074" fill-opacity="0.8"/><ellipse cx="244.8" cy="619" rx="2.2" ry="0.8" transform="rotate(82 244.8 619)" fill="#2a8030" fill-opacity="0.7"/><ellipse cx="265" cy="595.9" rx="1.5" ry="0.8" transform="rotate(51 265 595.9)" fill="#34943a" fill-opacity="0.7"/><ellipse cx="224.5" cy="610" rx="2.9" ry="0.8" transform="rotate(126 224.5 610)" fill="#34943a" fill-opacity="0.8"/><ellipse cx="251.4" cy="577.5" rx="1.7" ry="1" transform="rotate(-7 251.4 577.5)" fill="#174a1a" fill-opacity="0.6"/><ellipse cx="255.8" cy="565.2" rx="1.6" ry="0.6" transform="rotate(-50 255.8 565.2)" fill="#9a6a80" fill-opacity="0.7"/><ellipse cx="218.7" cy="600.6" rx="1.5" ry="0.6" transform="rotate(133 218.7 600.6)" fill="#123a16" fill-opacity="0.6"/><ellipse cx="271.5" cy="584.5" rx="1.7" ry="1" transform="rotate(7 271.5 584.5)" fill="#123a16" fill-opacity="0.6"/><ellipse cx="251.4" cy="582" rx="2.7" ry="1" transform="rotate(25 251.4 582)" fill="#40a842" fill-opacity="0.8"/><ellipse cx="254.9" cy="617.3" rx="2.6" ry="0.8" transform="rotate(84 254.9 617.3)" fill="#0e2c10" fill-opacity="0.8"/><ellipse cx="271.4" cy="604" rx="2.5" ry="0.8" transform="rotate(37 271.4 604)" fill="#0e2c10" fill-opacity="0.8"/><ellipse cx="274.8" cy="569" rx="2.1" ry="0.9" transform="rotate(-25 274.8 569)" fill="#9a9a7a" fill-opacity="0.7"/><ellipse cx="204.6" cy="618.3" rx="2.3" ry="0.8" transform="rotate(144 204.6 618.3)" fill="#0e2c10" fill-opacity="0.7"/><ellipse cx="203.9" cy="616.1" rx="3" ry="0.6" transform="rotate(127 203.9 616.1)" fill="#34943a" fill-opacity="0.6"/><ellipse cx="265.7" cy="624.8" rx="2.3" ry="0.6" transform="rotate(66 265.7 624.8)" fill="#a87898" fill-opacity="0.6"/><ellipse cx="241.2" cy="550.9" rx="2.8" ry="0.7" transform="rotate(-98 241.2 550.9)" fill="#2a8030" fill-opacity="0.6"/><ellipse cx="257.9" cy="581" rx="2.7" ry="0.6" transform="rotate(27 257.9 581)" fill="#8a6074" fill-opacity="0.8"/><ellipse cx="223.2" cy="580.1" rx="1.4" ry="0.6" transform="rotate(185 223.2 580.1)" fill="#0e2c10" fill-opacity="0.8"/><ellipse cx="231.2" cy="570.8" rx="1.7" ry="0.9" transform="rotate(-136 231.2 570.8)" fill="#a87898" fill-opacity="0.9"/><ellipse cx="282.7" cy="626.5" rx="2.2" ry="0.6" transform="rotate(63 282.7 626.5)" fill="#174a1a" fill-opacity="0.8"/><ellipse cx="253.9" cy="587.1" rx="2.4" ry="0.7" transform="rotate(55 253.9 587.1)" fill="#8a6074" fill-opacity="0.8"/><ellipse cx="269.6" cy="613.2" rx="2.1" ry="1" transform="rotate(61 269.6 613.2)" fill="#0e2c10" fill-opacity="0.6"/><ellipse cx="269.9" cy="578" rx="2.9" ry="0.7" transform="rotate(-2 269.9 578)" fill="#9a6a80" fill-opacity="0.9"/><ellipse cx="257.4" cy="588.1" rx="2.8" ry="0.9" transform="rotate(31 257.4 588.1)" fill="#0e2c10" fill-opacity="0.7"/><ellipse cx="241.5" cy="583.9" rx="2.5" ry="0.8" transform="rotate(99 241.5 583.9)" fill="#9a6a80" fill-opacity="0.8"/><ellipse cx="207.6" cy="615.8" rx="3" ry="0.9" transform="rotate(122 207.6 615.8)" fill="#8a6074" fill-opacity="0.8"/><ellipse cx="204.2" cy="550.5" rx="3.1" ry="0.8" transform="rotate(-152 204.2 550.5)" fill="#174a1a" fill-opacity="0.8"/><ellipse cx="271.5" cy="564.5" rx="2.2" ry="0.9" transform="rotate(-33 271.5 564.5)" fill="#9a9a7a" fill-opacity="0.8"/><ellipse cx="216.5" cy="620.9" rx="2.5" ry="0.9" transform="rotate(126 216.5 620.9)" fill="#a87898" fill-opacity="0.8"/><ellipse cx="270.3" cy="565.4" rx="2.6" ry="0.8" transform="rotate(-16 270.3 565.4)" fill="#2a8030" fill-opacity="0.8"/><ellipse cx="212.4" cy="559.1" rx="2.1" ry="0.9" transform="rotate(-149 212.4 559.1)" fill="#a87898" fill-opacity="0.6"/><ellipse cx="240.5" cy="561.2" rx="2.2" ry="0.8" transform="rotate(-97 240.5 561.2)" fill="#123a16" fill-opacity="0.6"/><ellipse cx="228.7" cy="605.3" rx="2.2" ry="0.7" transform="rotate(116 228.7 605.3)" fill="#9a9a7a" fill-opacity="0.7"/><ellipse cx="280" cy="555.6" rx="2.5" ry="0.8" transform="rotate(-44 280 555.6)" fill="#40a842" fill-opacity="0.6"/><ellipse cx="262.1" cy="629.5" rx="2.8" ry="0.6" transform="rotate(69 262.1 629.5)" fill="#3a9e3c" fill-opacity="0.6"/><ellipse cx="260.6" cy="599.6" rx="1.9" ry="0.9" transform="rotate(47 260.6 599.6)" fill="#2a8030" fill-opacity="0.8"/><ellipse cx="247.4" cy="622.6" rx="1.8" ry="0.7" transform="rotate(76 247.4 622.6)" fill="#123a16" fill-opacity="0.8"/><ellipse cx="226.5" cy="615.8" rx="2.1" ry="0.8" transform="rotate(106 226.5 615.8)" fill="#a87898" fill-opacity="0.7"/><ellipse cx="219.3" cy="589" rx="1.5" ry="0.6" transform="rotate(160 219.3 589)" fill="#3a9e3c" fill-opacity="0.8"/><ellipse cx="253.9" cy="612.3" rx="1.4" ry="0.9" transform="rotate(84 253.9 612.3)" fill="#a87898" fill-opacity="0.8"/><ellipse cx="235" cy="558.3" rx="1.4" ry="0.9" transform="rotate(-113 235 558.3)" fill="#0e2c10" fill-opacity="0.6"/><ellipse cx="243.2" cy="593.1" rx="2" ry="0.6" transform="rotate(94 243.2 593.1)" fill="#40a842" fill-opacity="0.9"/><ellipse cx="209.7" cy="552.8" rx="2.5" ry="0.8" transform="rotate(-153 209.7 552.8)" fill="#0e2c10" fill-opacity="0.6"/><ellipse cx="206" cy="611.6" rx="3" ry="0.8" transform="rotate(133 206 611.6)" fill="#3a9e3c" fill-opacity="0.8"/><ellipse cx="248.1" cy="570.2" rx="1.9" ry="0.7" transform="rotate(-60 248.1 570.2)" fill="#9a9a7a" fill-opacity="0.7"/><ellipse cx="249.4" cy="622.7" rx="2.2" ry="0.8" transform="rotate(91 249.4 622.7)" fill="#9a9a7a" fill-opacity="0.8"/><ellipse cx="276.7" cy="585.3" rx="1.3" ry="0.7" transform="rotate(15 276.7 585.3)" fill="#0e2c10" fill-opacity="0.9"/><ellipse cx="241.1" cy="582.6" rx="1.5" ry="0.8" transform="rotate(101 241.1 582.6)" fill="#3a9e3c" fill-opacity="0.8"/><ellipse cx="237.2" cy="550.3" rx="2.6" ry="1" transform="rotate(-91 237.2 550.3)" fill="#34943a" fill-opacity="0.9"/><ellipse cx="213.3" cy="551" rx="2.7" ry="0.7" transform="rotate(-131 213.3 551)" fill="#3a9e3c" fill-opacity="0.9"/><ellipse cx="232.3" cy="609.4" rx="2.6" ry="0.6" transform="rotate(116 232.3 609.4)" fill="#9a6a80" fill-opacity="0.8"/><ellipse cx="259.9" cy="586.4" rx="3.1" ry="0.7" transform="rotate(41 259.9 586.4)" fill="#123a16" fill-opacity="0.6"/><ellipse cx="204.2" cy="601.7" rx="2.9" ry="0.6" transform="rotate(142 204.2 601.7)" fill="#40a842" fill-opacity="0.6"/><ellipse cx="272" cy="588.5" rx="1.4" ry="0.7" transform="rotate(22 272 588.5)" fill="#2a8030" fill-opacity="0.7"/><ellipse cx="216.4" cy="626.9" rx="1.5" ry="1" transform="rotate(108 216.4 626.9)" fill="#9a9a7a" fill-opacity="0.7"/><ellipse cx="265.4" cy="585.8" rx="1.8" ry="0.9" transform="rotate(15 265.4 585.8)" fill="#9a6a80" fill-opacity="0.6"/><ellipse cx="281.1" cy="605.9" rx="2.9" ry="0.7" transform="rotate(39 281.1 605.9)" fill="#123a16" fill-opacity="0.8"/><ellipse cx="251.2" cy="574.3" rx="2.1" ry="0.9" transform="rotate(-25 251.2 574.3)" fill="#0e2c10" fill-opacity="0.7"/><ellipse cx="264.9" cy="568.3" rx="2.2" ry="0.9" transform="rotate(-28 264.9 568.3)" fill="#9a6a80" fill-opacity="0.7"/><ellipse cx="250" cy="614.9" rx="3" ry="0.6" transform="rotate(89 250 614.9)" fill="#40a842" fill-opacity="0.6"/><ellipse cx="281.2" cy="613.4" rx="2.3" ry="0.9" transform="rotate(43 281.2 613.4)" fill="#a87898" fill-opacity="0.6"/><ellipse cx="247.4" cy="613.4" rx="1.7" ry="0.9" transform="rotate(95 247.4 613.4)" fill="#34943a" fill-opacity="0.7"/><ellipse cx="207.6" cy="581.2" rx="2.6" ry="1" transform="rotate(176 207.6 581.2)" fill="#123a16" fill-opacity="0.8"/><ellipse cx="239.9" cy="556.6" rx="2.8" ry="0.9" transform="rotate(-106 239.9 556.6)" fill="#40a842" fill-opacity="0.7"/><ellipse cx="223.8" cy="616.3" rx="1.9" ry="0.8" transform="rotate(107 223.8 616.3)" fill="#34943a" fill-opacity="0.6"/><ellipse cx="217.5" cy="605.7" rx="2" ry="0.8" transform="rotate(129 217.5 605.7)" fill="#a87898" fill-opacity="0.8"/><ellipse cx="222.8" cy="623.4" rx="2.2" ry="0.9" transform="rotate(109 222.8 623.4)" fill="#2a8030" fill-opacity="0.8"/><ellipse cx="215.5" cy="597.4" rx="2" ry="0.8" transform="rotate(129 215.5 597.4)" fill="#123a16" fill-opacity="0.6"/><ellipse cx="272.8" cy="594.8" rx="2.4" ry="0.6" transform="rotate(42 272.8 594.8)" fill="#9a6a80" fill-opacity="0.7"/><ellipse cx="278.9" cy="611" rx="2.9" ry="1" transform="rotate(35 278.9 611)" fill="#123a16" fill-opacity="0.7"/><ellipse cx="282.8" cy="579.9" rx="1.4" ry="0.6" transform="rotate(0 282.8 579.9)" fill="#2a8030" fill-opacity="0.7"/><ellipse cx="270.8" cy="621.2" rx="2.9" ry="0.8" transform="rotate(70 270.8 621.2)" fill="#174a1a" fill-opacity="0.6"/><ellipse cx="248.3" cy="600.9" rx="3.1" ry="0.9" transform="rotate(74 248.3 600.9)" fill="#2a8030" fill-opacity="0.8"/><ellipse cx="232.7" cy="568.4" rx="2.7" ry="0.6" transform="rotate(-124 232.7 568.4)" fill="#8a6074" fill-opacity="0.6"/><ellipse cx="247.3" cy="551.8" rx="3" ry="0.7" transform="rotate(-80 247.3 551.8)" fill="#0e2c10" fill-opacity="0.8"/><ellipse cx="241.8" cy="557.7" rx="1.9" ry="0.6" transform="rotate(-102 241.8 557.7)" fill="#9a6a80" fill-opacity="0.8"/><ellipse cx="238.4" cy="601.8" rx="2.2" ry="0.7" transform="rotate(97 238.4 601.8)" fill="#8a6074" fill-opacity="0.7"/><ellipse cx="216.5" cy="568.7" rx="1.6" ry="0.9" transform="rotate(-175 216.5 568.7)" fill="#34943a" fill-opacity="0.8"/><ellipse cx="215.6" cy="616.2" rx="1.4" ry="0.8" transform="rotate(121 215.6 616.2)" fill="#3a9e3c" fill-opacity="0.8"/><ellipse cx="279.8" cy="623.7" rx="2" ry="0.6" transform="rotate(38 279.8 623.7)" fill="#8a6074" fill-opacity="0.7"/><ellipse cx="221.8" cy="558.8" rx="2" ry="0.7" transform="rotate(-131 221.8 558.8)" fill="#3a9e3c" fill-opacity="0.8"/><ellipse cx="247.4" cy="561.2" rx="3" ry="0.7" transform="rotate(-77 247.4 561.2)" fill="#3a9e3c" fill-opacity="0.6"/><ellipse cx="248.8" cy="573.3" rx="2.8" ry="0.7" transform="rotate(-48 248.8 573.3)" fill="#2a8030" fill-opacity="0.9"/><ellipse cx="212.2" cy="627.9" rx="1.4" ry="1" transform="rotate(126 212.2 627.9)" fill="#34943a" fill-opacity="0.7"/><ellipse cx="270" cy="559.1" rx="2.7" ry="1" transform="rotate(-36 270 559.1)" fill="#9a6a80" fill-opacity="0.9"/><ellipse cx="277.2" cy="557.4" rx="1.8" ry="1" transform="rotate(-43 277.2 557.4)" fill="#9a6a80" fill-opacity="0.6"/><ellipse cx="254.3" cy="585" rx="2.3" ry="0.8" transform="rotate(31 254.3 585)" fill="#a87898" fill-opacity="0.7"/><ellipse cx="231.9" cy="552.8" rx="2.1" ry="0.7" transform="rotate(-123 231.9 552.8)" fill="#3a9e3c" fill-opacity="0.7"/><ellipse cx="221.5" cy="563.7" rx="2.4" ry="0.9" transform="rotate(-135 221.5 563.7)" fill="#2a8030" fill-opacity="0.8"/><ellipse cx="217.1" cy="560.6" rx="2.6" ry="0.8" transform="rotate(-155 217.1 560.6)" fill="#9a6a80" fill-opacity="0.6"/><ellipse cx="208.3" cy="608.2" rx="2.1" ry="0.9" transform="rotate(125 208.3 608.2)" fill="#8a6074" fill-opacity="0.7"/><ellipse cx="270.5" cy="618.8" rx="2.2" ry="0.6" transform="rotate(68 270.5 618.8)" fill="#2a8030" fill-opacity="0.6"/><ellipse cx="256.4" cy="569.5" rx="2.4" ry="1" transform="rotate(-45 256.4 569.5)" fill="#8a6074" fill-opacity="0.8"/><ellipse cx="271.8" cy="578.1" rx="3.1" ry="1" transform="rotate(-11 271.8 578.1)" fill="#8a6074" fill-opacity="0.8"/><ellipse cx="268.5" cy="618.8" rx="1.9" ry="0.9" transform="rotate(54 268.5 618.8)" fill="#123a16" fill-opacity="0.7"/><ellipse cx="211.6" cy="608.1" rx="2.1" ry="0.6" transform="rotate(144 211.6 608.1)" fill="#3a9e3c" fill-opacity="0.6"/><ellipse cx="280.6" cy="567.5" rx="1.6" ry="0.6" transform="rotate(-22 280.6 567.5)" fill="#123a16" fill-opacity="0.6"/><ellipse cx="277.3" cy="608.7" rx="1.8" ry="0.9" transform="rotate(46 277.3 608.7)" fill="#2a8030" fill-opacity="0.7"/><ellipse cx="259.4" cy="557.8" rx="3" ry="0.9" transform="rotate(-64 259.4 557.8)" fill="#174a1a" fill-opacity="0.7"/><ellipse cx="250" cy="610.5" rx="1.5" ry="0.6" transform="rotate(89 250 610.5)" fill="#a87898" fill-opacity="0.8"/><ellipse cx="272.1" cy="561.4" rx="2.4" ry="0.9" transform="rotate(-39 272.1 561.4)" fill="#123a16" fill-opacity="0.9"/><ellipse cx="234.2" cy="583.2" rx="2.9" ry="0.8" transform="rotate(144 234.2 583.2)" fill="#123a16" fill-opacity="0.8"/><ellipse cx="230.2" cy="568.8" rx="1.9" ry="0.7" transform="rotate(-131 230.2 568.8)" fill="#8a6074" fill-opacity="0.8"/><ellipse cx="271" cy="553.9" rx="2.3" ry="1" transform="rotate(-27 271 553.9)" fill="#34943a" fill-opacity="0.9"/><ellipse cx="256.2" cy="550.5" rx="1.5" ry="0.6" transform="rotate(-69 256.2 550.5)" fill="#34943a" fill-opacity="0.7"/><ellipse cx="204.7" cy="560.8" rx="3.1" ry="0.9" transform="rotate(-143 204.7 560.8)" fill="#0e2c10" fill-opacity="0.6"/><ellipse cx="281.6" cy="627.5" rx="1.4" ry="0.9" transform="rotate(55 281.6 627.5)" fill="#0e2c10" fill-opacity="0.8"/><ellipse cx="253.4" cy="614.1" rx="1.4" ry="0.6" transform="rotate(62 253.4 614.1)" fill="#123a16" fill-opacity="0.7"/><ellipse cx="279.3" cy="572.6" rx="1.9" ry="0.8" transform="rotate(-19 279.3 572.6)" fill="#40a842" fill-opacity="0.9"/><ellipse cx="276.9" cy="621.7" rx="1.5" ry="0.8" transform="rotate(65 276.9 621.7)" fill="#2a8030" fill-opacity="0.6"/><ellipse cx="213.5" cy="573.1" rx="2.1" ry="0.7" transform="rotate(-178 213.5 573.1)" fill="#174a1a" fill-opacity="0.8"/><ellipse cx="226" cy="585.9" rx="2.6" ry="0.6" transform="rotate(150 226 585.9)" fill="#a87898" fill-opacity="0.8"/><ellipse cx="240" cy="593.4" rx="2.5" ry="0.8" transform="rotate(95 240 593.4)" fill="#34943a" fill-opacity="0.7"/><ellipse cx="218.1" cy="593.3" rx="3.1" ry="0.7" transform="rotate(160 218.1 593.3)" fill="#3a9e3c" fill-opacity="0.9"/><ellipse cx="222.1" cy="594.1" rx="2.2" ry="0.7" transform="rotate(156 222.1 594.1)" fill="#9a6a80" fill-opacity="0.6"/><ellipse cx="204.7" cy="593.7" rx="2.5" ry="0.7" transform="rotate(161 204.7 593.7)" fill="#a87898" fill-opacity="0.7"/><ellipse cx="238.3" cy="608.4" rx="1.5" ry="0.7" transform="rotate(112 238.3 608.4)" fill="#3a9e3c" fill-opacity="0.7"/><ellipse cx="256.6" cy="560.8" rx="1.7" ry="0.8" transform="rotate(-57 256.6 560.8)" fill="#a87898" fill-opacity="0.6"/><ellipse cx="271.7" cy="623.4" rx="3.2" ry="0.7" transform="rotate(61 271.7 623.4)" fill="#0e2c10" fill-opacity="0.9"/><ellipse cx="213.2" cy="619.3" rx="1.3" ry="0.9" transform="rotate(128 213.2 619.3)" fill="#2a8030" fill-opacity="0.7"/><ellipse cx="282.6" cy="561.6" rx="2.9" ry="0.7" transform="rotate(-18 282.6 561.6)" fill="#174a1a" fill-opacity="0.7"/><ellipse cx="239.3" cy="586.2" rx="2.7" ry="0.7" transform="rotate(110 239.3 586.2)" fill="#a87898" fill-opacity="0.8"/><ellipse cx="255" cy="550.1" rx="2.7" ry="1" transform="rotate(-69 255 550.1)" fill="#9a6a80" fill-opacity="0.6"/><ellipse cx="227.4" cy="561.2" rx="2.4" ry="0.8" transform="rotate(-145 227.4 561.2)" fill="#8a6074" fill-opacity="0.7"/><ellipse cx="270.6" cy="616.7" rx="3.1" ry="0.6" transform="rotate(52 270.6 616.7)" fill="#123a16" fill-opacity="0.6"/><ellipse cx="223.6" cy="621.3" rx="1.9" ry="0.8" transform="rotate(108 223.6 621.3)" fill="#40a842" fill-opacity="0.9"/><ellipse cx="244.5" cy="591" rx="2.6" ry="0.7" transform="rotate(79 244.5 591)" fill="#40a842" fill-opacity="0.8"/><ellipse cx="239.3" cy="550.4" rx="1.4" ry="0.7" transform="rotate(-100 239.3 550.4)" fill="#a87898" fill-opacity="0.7"/><ellipse cx="248" cy="595.5" rx="3" ry="1" transform="rotate(73 248 595.5)" fill="#2a8030" fill-opacity="0.8"/><ellipse cx="275.1" cy="596.6" rx="2.6" ry="0.9" transform="rotate(18 275.1 596.6)" fill="#8a6074" fill-opacity="0.7"/><ellipse cx="281.5" cy="615.7" rx="2.3" ry="0.6" transform="rotate(56 281.5 615.7)" fill="#8a6074" fill-opacity="0.8"/><ellipse cx="282.4" cy="620.7" rx="2.1" ry="0.6" transform="rotate(41 282.4 620.7)" fill="#a87898" fill-opacity="0.6"/><ellipse cx="274.6" cy="582.6" rx="1.4" ry="0.8" transform="rotate(-2 274.6 582.6)" fill="#40a842" fill-opacity="0.9"/><ellipse cx="254" cy="553" rx="2.1" ry="0.9" transform="rotate(-71 254 553)" fill="#a87898" fill-opacity="0.6"/><ellipse cx="227.4" cy="617" rx="2.4" ry="0.9" transform="rotate(102 227.4 617)" fill="#2a8030" fill-opacity="0.8"/><ellipse cx="248.5" cy="619.3" rx="3" ry="0.8" transform="rotate(71 248.5 619.3)" fill="#34943a" fill-opacity="0.7"/><ellipse cx="212.7" cy="562.1" rx="2.7" ry="0.6" transform="rotate(-164 212.7 562.1)" fill="#3a9e3c" fill-opacity="0.9"/><ellipse cx="242.3" cy="587" rx="2.1" ry="0.9" transform="rotate(98 242.3 587)" fill="#0e2c10" fill-opacity="0.8"/><ellipse cx="228.9" cy="606.8" rx="2" ry="0.6" transform="rotate(108 228.9 606.8)" fill="#174a1a" fill-opacity="0.9"/><ellipse cx="279" cy="554.6" rx="1.7" ry="0.8" transform="rotate(-46 279 554.6)" fill="#34943a" fill-opacity="0.9"/><ellipse cx="249.7" cy="626.4" rx="2.1" ry="0.8" transform="rotate(74 249.7 626.4)" fill="#123a16" fill-opacity="0.6"/><ellipse cx="250.1" cy="563.5" rx="1.3" ry="0.9" transform="rotate(-64 250.1 563.5)" fill="#9a9a7a" fill-opacity="0.8"/><ellipse cx="280" cy="589.2" rx="3.1" ry="0.7" transform="rotate(14 280 589.2)" fill="#40a842" fill-opacity="0.6"/><ellipse cx="227.8" cy="619.6" rx="2.2" ry="0.9" transform="rotate(102 227.8 619.6)" fill="#3a9e3c" fill-opacity="0.6"/><ellipse cx="233.4" cy="550.2" rx="3" ry="0.7" transform="rotate(-113 233.4 550.2)" fill="#8a6074" fill-opacity="0.7"/><ellipse cx="233.9" cy="581.9" rx="1.4" ry="0.6" transform="rotate(164 233.9 581.9)" fill="#8a6074" fill-opacity="0.7"/><ellipse cx="234.1" cy="587" rx="2" ry="0.7" transform="rotate(127 234.1 587)" fill="#123a16" fill-opacity="0.7"/><ellipse cx="215.5" cy="606.1" rx="1.5" ry="0.7" transform="rotate(144 215.5 606.1)" fill="#3a9e3c" fill-opacity="0.7"/><ellipse cx="240.5" cy="613.2" rx="1.8" ry="0.7" transform="rotate(85 240.5 613.2)" fill="#9a9a7a" fill-opacity="0.7"/><ellipse cx="279.9" cy="566.2" rx="3.1" ry="0.8" transform="rotate(-25 279.9 566.2)" fill="#2a8030" fill-opacity="0.8"/><ellipse cx="278.6" cy="629.4" rx="2.4" ry="0.7" transform="rotate(70 278.6 629.4)" fill="#a87898" fill-opacity="0.6"/><ellipse cx="251.8" cy="566.6" rx="3" ry="0.6" transform="rotate(-51 251.8 566.6)" fill="#a87898" fill-opacity="0.8"/><ellipse cx="262" cy="610.8" rx="1.4" ry="0.9" transform="rotate(49 262 610.8)" fill="#123a16" fill-opacity="0.7"/><ellipse cx="209.9" cy="563.8" rx="2.9" ry="0.7" transform="rotate(-152 209.9 563.8)" fill="#174a1a" fill-opacity="0.6"/><ellipse cx="276.3" cy="614" rx="2.7" ry="0.6" transform="rotate(54 276.3 614)" fill="#174a1a" fill-opacity="0.6"/><ellipse cx="213.1" cy="606.9" rx="1.8" ry="0.7" transform="rotate(147 213.1 606.9)" fill="#0e2c10" fill-opacity="0.9"/><ellipse cx="272.1" cy="560.2" rx="1.8" ry="0.6" transform="rotate(-25 272.1 560.2)" fill="#0e2c10" fill-opacity="0.8"/><ellipse cx="274.9" cy="551.6" rx="2.6" ry="0.8" transform="rotate(-24 274.9 551.6)" fill="#9a9a7a" fill-opacity="0.7"/><ellipse cx="253.4" cy="564.1" rx="1.5" ry="1" transform="rotate(-45 253.4 564.1)" fill="#0e2c10" fill-opacity="0.6"/><ellipse cx="206.2" cy="562.6" rx="1.7" ry="0.7" transform="rotate(-161 206.2 562.6)" fill="#123a16" fill-opacity="0.7"/><ellipse cx="253.5" cy="624.9" rx="2.4" ry="0.7" transform="rotate(77 253.5 624.9)" fill="#a87898" fill-opacity="0.6"/><ellipse cx="237.9" cy="604.3" rx="2" ry="0.6" transform="rotate(110 237.9 604.3)" fill="#0e2c10" fill-opacity="0.7"/><ellipse cx="206.4" cy="617.9" rx="2.5" ry="0.6" transform="rotate(124 206.4 617.9)" fill="#174a1a" fill-opacity="0.6"/><ellipse cx="228.5" cy="611.8" rx="2" ry="1" transform="rotate(110 228.5 611.8)" fill="#9a9a7a" fill-opacity="0.9"/><ellipse cx="252.3" cy="567.3" rx="2.3" ry="0.7" transform="rotate(-34 252.3 567.3)" fill="#2a8030" fill-opacity="0.9"/><ellipse cx="258.5" cy="608.7" rx="2.9" ry="0.8" transform="rotate(62 258.5 608.7)" fill="#123a16" fill-opacity="0.8"/><ellipse cx="219.5" cy="603.4" rx="2.9" ry="0.9" transform="rotate(131 219.5 603.4)" fill="#34943a" fill-opacity="0.6"/><ellipse cx="259.4" cy="614.1" rx="1.8" ry="0.8" transform="rotate(79 259.4 614.1)" fill="#0e2c10" fill-opacity="0.6"/><ellipse cx="223.9" cy="626.7" rx="1.6" ry="0.7" transform="rotate(99 223.9 626.7)" fill="#0e2c10" fill-opacity="0.7"/><ellipse cx="214" cy="606.2" rx="2.6" ry="0.7" transform="rotate(127 214 606.2)" fill="#a87898" fill-opacity="0.8"/><ellipse cx="213.7" cy="600.9" rx="2.6" ry="0.6" transform="rotate(147 213.7 600.9)" fill="#40a842" fill-opacity="0.7"/><ellipse cx="229.8" cy="614.8" rx="2.3" ry="0.9" transform="rotate(99 229.8 614.8)" fill="#0e2c10" fill-opacity="0.6"/><ellipse cx="281.5" cy="616.8" rx="2.1" ry="0.6" transform="rotate(51 281.5 616.8)" fill="#123a16" fill-opacity="0.7"/><ellipse cx="219.6" cy="554.4" rx="1.8" ry="0.6" transform="rotate(-129 219.6 554.4)" fill="#2a8030" fill-opacity="0.9"/><ellipse cx="215.9" cy="585.2" rx="2.4" ry="0.7" transform="rotate(166 215.9 585.2)" fill="#123a16" fill-opacity="0.6"/><ellipse cx="282.6" cy="609.6" rx="1.5" ry="0.9" transform="rotate(53 282.6 609.6)" fill="#40a842" fill-opacity="0.6"/><ellipse cx="254.7" cy="626.1" rx="2.2" ry="0.9" transform="rotate(71 254.7 626.1)" fill="#8a6074" fill-opacity="0.9"/><ellipse cx="254.7" cy="599.8" rx="3.1" ry="0.8" transform="rotate(54 254.7 599.8)" fill="#34943a" fill-opacity="0.6"/><ellipse cx="262.9" cy="551.6" rx="2.1" ry="0.6" transform="rotate(-56 262.9 551.6)" fill="#0e2c10" fill-opacity="0.7"/><ellipse cx="274.8" cy="604.2" rx="1.5" ry="0.9" transform="rotate(34 274.8 604.2)" fill="#40a842" fill-opacity="0.7"/><ellipse cx="217.8" cy="615.6" rx="1.9" ry="0.7" transform="rotate(125 217.8 615.6)" fill="#8a6074" fill-opacity="0.8"/><ellipse cx="223.3" cy="554.2" rx="1.5" ry="0.9" transform="rotate(-117 223.3 554.2)" fill="#9a9a7a" fill-opacity="0.9"/><ellipse cx="278.8" cy="589.2" rx="2.2" ry="0.6" transform="rotate(11 278.8 589.2)" fill="#40a842" fill-opacity="0.8"/><ellipse cx="214.4" cy="567.8" rx="1.6" ry="0.8" transform="rotate(-164 214.4 567.8)" fill="#123a16" fill-opacity="0.8"/><ellipse cx="241.4" cy="567.1" rx="2" ry="0.6" transform="rotate(-95 241.4 567.1)" fill="#a87898" fill-opacity="0.7"/><ellipse cx="225.7" cy="602.5" rx="2.3" ry="0.7" transform="rotate(119 225.7 602.5)" fill="#2a8030" fill-opacity="0.6"/><ellipse cx="279.7" cy="563.7" rx="2.7" ry="0.7" transform="rotate(-35 279.7 563.7)" fill="#40a842" fill-opacity="0.8"/><ellipse cx="248.5" cy="587.1" rx="2.3" ry="0.8" transform="rotate(57 248.5 587.1)" fill="#a87898" fill-opacity="0.9"/><ellipse cx="272.4" cy="627.5" rx="3.1" ry="0.8" transform="rotate(68 272.4 627.5)" fill="#123a16" fill-opacity="0.8"/><ellipse cx="229.6" cy="602.3" rx="2.4" ry="0.7" transform="rotate(114 229.6 602.3)" fill="#0e2c10" fill-opacity="0.8"/><ellipse cx="227" cy="577.1" rx="3" ry="0.6" transform="rotate(-187 227 577.1)" fill="#0e2c10" fill-opacity="0.8"/><ellipse cx="258.4" cy="561.4" rx="2.4" ry="0.8" transform="rotate(-33 258.4 561.4)" fill="#8a6074" fill-opacity="0.7"/><ellipse cx="248.3" cy="581.3" rx="1.5" ry="0.6" transform="rotate(46 248.3 581.3)" fill="#a87898" fill-opacity="0.8"/><ellipse cx="220.7" cy="616.6" rx="2.5" ry="0.6" transform="rotate(124 220.7 616.6)" fill="#2a8030" fill-opacity="0.6"/><ellipse cx="239.7" cy="592.9" rx="2.6" ry="0.9" transform="rotate(114 239.7 592.9)" fill="#40a842" fill-opacity="0.6"/><ellipse cx="235.7" cy="555.5" rx="2.1" ry="0.9" transform="rotate(-106 235.7 555.5)" fill="#174a1a" fill-opacity="0.8"/><ellipse cx="280" cy="590.8" rx="2.2" ry="0.9" transform="rotate(20 280 590.8)" fill="#34943a" fill-opacity="0.7"/><ellipse cx="265.2" cy="560.5" rx="2.8" ry="0.6" transform="rotate(-45 265.2 560.5)" fill="#8a6074" fill-opacity="0.6"/><ellipse cx="259.3" cy="626.1" rx="2.2" ry="0.6" transform="rotate(60 259.3 626.1)" fill="#174a1a" fill-opacity="0.8"/><ellipse cx="272.9" cy="594.6" rx="3" ry="0.9" transform="rotate(19 272.9 594.6)" fill="#8a6074" fill-opacity="0.8"/><ellipse cx="262" cy="550.5" rx="1.8" ry="0.7" transform="rotate(-54 262 550.5)" fill="#a87898" fill-opacity="0.9"/><ellipse cx="260.9" cy="553.1" rx="2.4" ry="0.6" transform="rotate(-52 260.9 553.1)" fill="#40a842" fill-opacity="0.6"/><ellipse cx="277.2" cy="603.6" rx="1.8" ry="0.6" transform="rotate(35 277.2 603.6)" fill="#40a842" fill-opacity="0.7"/><ellipse cx="266.5" cy="588.6" rx="1.4" ry="0.7" transform="rotate(14 266.5 588.6)" fill="#9a6a80" fill-opacity="0.9"/><ellipse cx="256.7" cy="616.5" rx="2.4" ry="0.7" transform="rotate(85 256.7 616.5)" fill="#9a6a80" fill-opacity="0.9"/><ellipse cx="204.1" cy="577" rx="1.6" ry="0.8" transform="rotate(-167 204.1 577)" fill="#123a16" fill-opacity="0.6"/><ellipse cx="252.8" cy="601.2" rx="2.4" ry="0.9" transform="rotate(81 252.8 601.2)" fill="#2a8030" fill-opacity="0.7"/><ellipse cx="273" cy="598.5" rx="1.4" ry="0.7" transform="rotate(26 273 598.5)" fill="#3a9e3c" fill-opacity="0.8"/><ellipse cx="206.5" cy="563.2" rx="2" ry="0.8" transform="rotate(-156 206.5 563.2)" fill="#9a9a7a" fill-opacity="0.9"/><ellipse cx="228.2" cy="576.4" rx="2.2" ry="0.7" transform="rotate(-183 228.2 576.4)" fill="#40a842" fill-opacity="0.6"/><ellipse cx="214.7" cy="603.3" rx="1.8" ry="0.7" transform="rotate(137 214.7 603.3)" fill="#9a6a80" fill-opacity="0.7"/><ellipse cx="249" cy="596.4" rx="1.6" ry="0.9" transform="rotate(84 249 596.4)" fill="#174a1a" fill-opacity="0.9"/><ellipse cx="265.1" cy="600.2" rx="2.5" ry="0.7" transform="rotate(39 265.1 600.2)" fill="#34943a" fill-opacity="0.9"/><ellipse cx="278.3" cy="604.1" rx="1.9" ry="0.9" transform="rotate(44 278.3 604.1)" fill="#a87898" fill-opacity="0.8"/><ellipse cx="222.7" cy="619.4" rx="2.7" ry="0.7" transform="rotate(122 222.7 619.4)" fill="#0e2c10" fill-opacity="0.7"/><ellipse cx="282.3" cy="588.1" rx="2" ry="0.7" transform="rotate(7 282.3 588.1)" fill="#8a6074" fill-opacity="0.6"/><ellipse cx="219.5" cy="620.7" rx="2.6" ry="0.7" transform="rotate(115 219.5 620.7)" fill="#9a6a80" fill-opacity="0.9"/><ellipse cx="250.1" cy="561.1" rx="2.7" ry="0.7" transform="rotate(-64 250.1 561.1)" fill="#0e2c10" fill-opacity="0.9"/><ellipse cx="230.3" cy="623.3" rx="2.4" ry="0.6" transform="rotate(95 230.3 623.3)" fill="#40a842" fill-opacity="0.7"/><ellipse cx="240.5" cy="627.2" rx="2.6" ry="0.9" transform="rotate(105 240.5 627.2)" fill="#2a8030" fill-opacity="0.7"/><ellipse cx="217.1" cy="621.4" rx="2.3" ry="0.9" transform="rotate(124 217.1 621.4)" fill="#34943a" fill-opacity="0.8"/><ellipse cx="220.5" cy="581.6" rx="1.7" ry="0.8" transform="rotate(180 220.5 581.6)" fill="#0e2c10" fill-opacity="0.6"/><ellipse cx="222.4" cy="554.1" rx="1.5" ry="0.6" transform="rotate(-144 222.4 554.1)" fill="#40a842" fill-opacity="0.7"/><ellipse cx="214" cy="564.7" rx="2.3" ry="0.9" transform="rotate(-151 214 564.7)" fill="#123a16" fill-opacity="0.6"/><ellipse cx="229.2" cy="609.5" rx="2.5" ry="0.7" transform="rotate(118 229.2 609.5)" fill="#8a6074" fill-opacity="0.6"/><ellipse cx="272.2" cy="613.3" rx="1.5" ry="0.8" transform="rotate(58 272.2 613.3)" fill="#40a842" fill-opacity="0.7"/><ellipse cx="278.4" cy="619.5" rx="1.3" ry="0.7" transform="rotate(54 278.4 619.5)" fill="#8a6074" fill-opacity="0.6"/><ellipse cx="252.2" cy="607.5" rx="1.9" ry="0.6" transform="rotate(62 252.2 607.5)" fill="#3a9e3c" fill-opacity="0.7"/><ellipse cx="270.4" cy="578.2" rx="2" ry="0.7" transform="rotate(6 270.4 578.2)" fill="#a87898" fill-opacity="0.6"/><ellipse cx="281.7" cy="595.6" rx="1.7" ry="0.8" transform="rotate(34 281.7 595.6)" fill="#2a8030" fill-opacity="0.8"/><ellipse cx="265.2" cy="574.3" rx="2.8" ry="1" transform="rotate(-9 265.2 574.3)" fill="#9a6a80" fill-opacity="0.7"/><ellipse cx="245.5" cy="571.5" rx="1.8" ry="0.8" transform="rotate(-79 245.5 571.5)" fill="#8a6074" fill-opacity="0.6"/><ellipse cx="253.4" cy="581.7" rx="3.2" ry="1" transform="rotate(25 253.4 581.7)" fill="#174a1a" fill-opacity="0.6"/><ellipse cx="243.2" cy="594" rx="1.6" ry="1" transform="rotate(85 243.2 594)" fill="#3a9e3c" fill-opacity="0.9"/><ellipse cx="272.8" cy="618.1" rx="2.8" ry="0.8" transform="rotate(49 272.8 618.1)" fill="#34943a" fill-opacity="0.7"/><ellipse cx="272" cy="566.7" rx="3" ry="1" transform="rotate(-24 272 566.7)" fill="#34943a" fill-opacity="0.7"/><ellipse cx="275.5" cy="558.2" rx="2.7" ry="0.6" transform="rotate(-26 275.5 558.2)" fill="#9a9a7a" fill-opacity="0.8"/><ellipse cx="231.1" cy="567.8" rx="2" ry="1" transform="rotate(-144 231.1 567.8)" fill="#0e2c10" fill-opacity="0.8"/><ellipse cx="221" cy="569.8" rx="1.8" ry="0.7" transform="rotate(-168 221 569.8)" fill="#34943a" fill-opacity="0.7"/><ellipse cx="237.1" cy="571.9" rx="3" ry="0.8" transform="rotate(-121 237.1 571.9)" fill="#3a9e3c" fill-opacity="0.7"/><ellipse cx="277.9" cy="611.1" rx="3.1" ry="0.6" transform="rotate(37 277.9 611.1)" fill="#174a1a" fill-opacity="0.7"/><ellipse cx="241.9" cy="620.9" rx="1.6" ry="0.9" transform="rotate(94 241.9 620.9)" fill="#2a8030" fill-opacity="0.6"/><ellipse cx="207.2" cy="612.2" rx="2.9" ry="0.9" transform="rotate(122 207.2 612.2)" fill="#2a8030" fill-opacity="0.6"/><ellipse cx="272.3" cy="629.2" rx="1.9" ry="0.6" transform="rotate(48 272.3 629.2)" fill="#123a16" fill-opacity="0.6"/><ellipse cx="227.3" cy="589.8" rx="2" ry="0.9" transform="rotate(141 227.3 589.8)" fill="#9a9a7a" fill-opacity="0.6"/><ellipse cx="230.2" cy="623.1" rx="2.7" ry="0.9" transform="rotate(120 230.2 623.1)" fill="#123a16" fill-opacity="0.8"/><ellipse cx="219.2" cy="599.8" rx="1.3" ry="0.6" transform="rotate(139 219.2 599.8)" fill="#40a842" fill-opacity="0.7"/><ellipse cx="211.4" cy="551.2" rx="3.2" ry="0.7" transform="rotate(-128 211.4 551.2)" fill="#174a1a" fill-opacity="0.9"/><ellipse cx="280.8" cy="591.6" rx="1.3" ry="0.7" transform="rotate(21 280.8 591.6)" fill="#0e2c10" fill-opacity="0.8"/><ellipse cx="243.2" cy="558.6" rx="2" ry="0.8" transform="rotate(-76 243.2 558.6)" fill="#8a6074" fill-opacity="0.9"/><ellipse cx="271.4" cy="627.4" rx="1.7" ry="0.6" transform="rotate(66 271.4 627.4)" fill="#123a16" fill-opacity="0.6"/><ellipse cx="208.5" cy="553.1" rx="2.3" ry="0.7" transform="rotate(-142 208.5 553.1)" fill="#8a6074" fill-opacity="0.6"/><ellipse cx="229.1" cy="552.9" rx="2.2" ry="0.7" transform="rotate(-124 229.1 552.9)" fill="#9a9a7a" fill-opacity="0.9"/><ellipse cx="273.1" cy="607" rx="2.1" ry="0.7" transform="rotate(41 273.1 607)" fill="#3a9e3c" fill-opacity="0.7"/><ellipse cx="233.9" cy="582.4" rx="1.6" ry="1" transform="rotate(137 233.9 582.4)" fill="#40a842" fill-opacity="0.7"/><ellipse cx="282.3" cy="605.1" rx="2.7" ry="1" transform="rotate(44 282.3 605.1)" fill="#0e2c10" fill-opacity="0.6"/><ellipse cx="270.6" cy="612.3" rx="3" ry="0.6" transform="rotate(57 270.6 612.3)" fill="#8a6074" fill-opacity="0.8"/><ellipse cx="238.5" cy="603" rx="2.2" ry="0.8" transform="rotate(99 238.5 603)" fill="#0e2c10" fill-opacity="0.8"/><ellipse cx="243.9" cy="597" rx="3.2" ry="0.7" transform="rotate(91 243.9 597)" fill="#9a9a7a" fill-opacity="0.7"/><ellipse cx="208.1" cy="627.7" rx="1.8" ry="0.8" transform="rotate(134 208.1 627.7)" fill="#174a1a" fill-opacity="0.8"/><ellipse cx="246.6" cy="567.5" rx="2.5" ry="0.7" transform="rotate(-58 246.6 567.5)" fill="#2a8030" fill-opacity="0.9"/><ellipse cx="230.9" cy="596.8" rx="2.4" ry="1" transform="rotate(109 230.9 596.8)" fill="#a87898" fill-opacity="0.7"/><ellipse cx="219.4" cy="563.1" rx="2" ry="0.9" transform="rotate(-158 219.4 563.1)" fill="#0e2c10" fill-opacity="0.7"/><ellipse cx="254.4" cy="615.8" rx="3" ry="0.9" transform="rotate(59 254.4 615.8)" fill="#9a9a7a" fill-opacity="0.7"/><ellipse cx="272.3" cy="583.8" rx="2.1" ry="0.9" transform="rotate(8 272.3 583.8)" fill="#8a6074" fill-opacity="0.7"/><ellipse cx="267.4" cy="591.3" rx="2.2" ry="0.6" transform="rotate(26 267.4 591.3)" fill="#2a8030" fill-opacity="0.8"/><ellipse cx="239" cy="587.9" rx="2.8" ry="0.9" transform="rotate(100 239 587.9)" fill="#0e2c10" fill-opacity="0.6"/><ellipse cx="242.2" cy="602.4" rx="2.5" ry="0.8" transform="rotate(100 242.2 602.4)" fill="#9a6a80" fill-opacity="0.6"/><ellipse cx="219.1" cy="595.2" rx="1.4" ry="0.6" transform="rotate(150 219.1 595.2)" fill="#9a6a80" fill-opacity="0.9"/><ellipse cx="223.5" cy="570.8" rx="2.1" ry="0.8" transform="rotate(-161 223.5 570.8)" fill="#174a1a" fill-opacity="0.6"/><ellipse cx="236.9" cy="613" rx="2.5" ry="0.7" transform="rotate(86 236.9 613)" fill="#2a8030" fill-opacity="0.7"/><ellipse cx="206.3" cy="609.8" rx="3.1" ry="0.7" transform="rotate(141 206.3 609.8)" fill="#9a6a80" fill-opacity="0.7"/><ellipse cx="233.9" cy="595.9" rx="3.1" ry="0.6" transform="rotate(130 233.9 595.9)" fill="#40a842" fill-opacity="0.7"/><ellipse cx="256.4" cy="576" rx="1.4" ry="0.9" transform="rotate(-10 256.4 576)" fill="#a87898" fill-opacity="0.7"/><ellipse cx="278" cy="601" rx="2.8" ry="0.6" transform="rotate(35 278 601)" fill="#2a8030" fill-opacity="0.8"/><ellipse cx="238" cy="629.2" rx="1.6" ry="0.6" transform="rotate(92 238 629.2)" fill="#3a9e3c" fill-opacity="0.7"/><ellipse cx="269.1" cy="603.2" rx="2.7" ry="0.7" transform="rotate(30 269.1 603.2)" fill="#0e2c10" fill-opacity="0.7"/><ellipse cx="229.5" cy="580.6" rx="2.2" ry="0.6" transform="rotate(177 229.5 580.6)" fill="#40a842" fill-opacity="0.8"/><ellipse cx="211.2" cy="556.7" rx="2.7" ry="0.8" transform="rotate(-160 211.2 556.7)" fill="#0e2c10" fill-opacity="0.6"/><ellipse cx="229.9" cy="618.6" rx="2.3" ry="0.9" transform="rotate(117 229.9 618.6)" fill="#3a9e3c" fill-opacity="0.9"/><ellipse cx="268.5" cy="619.4" rx="1.6" ry="0.7" transform="rotate(59 268.5 619.4)" fill="#123a16" fill-opacity="0.6"/><ellipse cx="246.2" cy="591.2" rx="1.5" ry="0.7" transform="rotate(81 246.2 591.2)" fill="#9a6a80" fill-opacity="0.7"/><ellipse cx="244" cy="583.2" rx="1.4" ry="0.7" transform="rotate(91 244 583.2)" fill="#9a9a7a" fill-opacity="0.8"/><ellipse cx="223.6" cy="565.8" rx="1.4" ry="0.8" transform="rotate(-152 223.6 565.8)" fill="#2a8030" fill-opacity="0.8"/><ellipse cx="259.9" cy="560.9" rx="3.1" ry="0.7" transform="rotate(-45 259.9 560.9)" fill="#a87898" fill-opacity="0.8"/><ellipse cx="261.5" cy="550.3" rx="1.4" ry="1" transform="rotate(-46 261.5 550.3)" fill="#123a16" fill-opacity="0.6"/><ellipse cx="266.8" cy="572.9" rx="2.7" ry="0.9" transform="rotate(-8 266.8 572.9)" fill="#2a8030" fill-opacity="0.7"/><ellipse cx="261.4" cy="565.9" rx="1.7" ry="0.6" transform="rotate(-21 261.4 565.9)" fill="#174a1a" fill-opacity="0.6"/><ellipse cx="272.2" cy="555.4" rx="2.4" ry="0.6" transform="rotate(-24 272.2 555.4)" fill="#a87898" fill-opacity="0.8"/><ellipse cx="216.2" cy="567.3" rx="2.7" ry="0.9" transform="rotate(-149 216.2 567.3)" fill="#a87898" fill-opacity="0.8"/><ellipse cx="214.7" cy="623" rx="1.7" ry="0.6" transform="rotate(109 214.7 623)" fill="#174a1a" fill-opacity="0.9"/><ellipse cx="236.3" cy="602.3" rx="1.8" ry="1" transform="rotate(110 236.3 602.3)" fill="#3a9e3c" fill-opacity="0.9"/><ellipse cx="277.1" cy="560.3" rx="1.6" ry="0.8" transform="rotate(-19 277.1 560.3)" fill="#40a842" fill-opacity="0.8"/><ellipse cx="259.7" cy="607.1" rx="1.9" ry="0.7" transform="rotate(61 259.7 607.1)" fill="#34943a" fill-opacity="0.6"/><ellipse cx="267.1" cy="628" rx="2" ry="0.6" transform="rotate(60 267.1 628)" fill="#0e2c10" fill-opacity="0.7"/><ellipse cx="255.5" cy="605.1" rx="1.7" ry="0.6" transform="rotate(56 255.5 605.1)" fill="#8a6074" fill-opacity="0.8"/><ellipse cx="212.2" cy="615.9" rx="1.5" ry="1" transform="rotate(143 212.2 615.9)" fill="#a87898" fill-opacity="0.7"/><ellipse cx="226.3" cy="577.4" rx="2.7" ry="0.8" transform="rotate(-166 226.3 577.4)" fill="#174a1a" fill-opacity="0.6"/><ellipse cx="225.5" cy="573.8" rx="2.4" ry="0.9" transform="rotate(-176 225.5 573.8)" fill="#2a8030" fill-opacity="0.6"/><ellipse cx="274.6" cy="617.2" rx="1.7" ry="1" transform="rotate(37 274.6 617.2)" fill="#40a842" fill-opacity="0.6"/><ellipse cx="203.1" cy="565.1" rx="1.6" ry="0.7" transform="rotate(-172 203.1 565.1)" fill="#8a6074" fill-opacity="0.7"/><ellipse cx="222.8" cy="609" rx="1.6" ry="0.9" transform="rotate(116 222.8 609)" fill="#174a1a" fill-opacity="0.8"/><ellipse cx="239.5" cy="609.4" rx="1.5" ry="0.6" transform="rotate(93 239.5 609.4)" fill="#123a16" fill-opacity="0.6"/><ellipse cx="244.2" cy="557.4" rx="2.5" ry="0.6" transform="rotate(-84 244.2 557.4)" fill="#8a6074" fill-opacity="0.6"/><ellipse cx="261.4" cy="608.3" rx="2" ry="0.8" transform="rotate(46 261.4 608.3)" fill="#123a16" fill-opacity="0.8"/><ellipse cx="273" cy="588" rx="1.6" ry="0.6" transform="rotate(30 273 588)" fill="#174a1a" fill-opacity="0.6"/><ellipse cx="224.7" cy="592.9" rx="1.9" ry="0.7" transform="rotate(142 224.7 592.9)" fill="#123a16" fill-opacity="0.7"/><ellipse cx="232.4" cy="565.4" rx="2.1" ry="0.6" transform="rotate(-142 232.4 565.4)" fill="#34943a" fill-opacity="0.8"/><ellipse cx="245.9" cy="568.8" rx="1.5" ry="0.6" transform="rotate(-85 245.9 568.8)" fill="#40a842" fill-opacity="0.6"/><ellipse cx="262.6" cy="556.6" rx="1.6" ry="0.9" transform="rotate(-32 262.6 556.6)" fill="#9a9a7a" fill-opacity="0.7"/><ellipse cx="244.6" cy="573" rx="3" ry="0.6" transform="rotate(-69 244.6 573)" fill="#34943a" fill-opacity="0.6"/><ellipse cx="265.2" cy="590.6" rx="2.9" ry="0.9" transform="rotate(17 265.2 590.6)" fill="#8a6074" fill-opacity="0.9"/><ellipse cx="206.3" cy="599.1" rx="2.6" ry="0.9" transform="rotate(144 206.3 599.1)" fill="#2a8030" fill-opacity="0.8"/><ellipse cx="217.7" cy="575" rx="3.1" ry="0.9" transform="rotate(-188 217.7 575)" fill="#34943a" fill-opacity="0.6"/><ellipse cx="244" cy="563" rx="2.8" ry="0.9" transform="rotate(-94 244 563)" fill="#34943a" fill-opacity="0.8"/><ellipse cx="259.8" cy="555" rx="1.3" ry="0.9" transform="rotate(-67 259.8 555)" fill="#a87898" fill-opacity="0.8"/><ellipse cx="275.8" cy="609.7" rx="2.5" ry="0.6" transform="rotate(48 275.8 609.7)" fill="#8a6074" fill-opacity="0.8"/><ellipse cx="210.4" cy="607" rx="2" ry="0.6" transform="rotate(151 210.4 607)" fill="#0e2c10" fill-opacity="0.8"/><ellipse cx="242.8" cy="570.3" rx="2.6" ry="0.7" transform="rotate(-105 242.8 570.3)" fill="#2a8030" fill-opacity="0.8"/><ellipse cx="267.3" cy="596.8" rx="2.1" ry="0.9" transform="rotate(46 267.3 596.8)" fill="#a87898" fill-opacity="0.7"/><ellipse cx="280.1" cy="592.1" rx="3.1" ry="0.6" transform="rotate(35 280.1 592.1)" fill="#9a6a80" fill-opacity="0.8"/><ellipse cx="271" cy="568.8" rx="2.4" ry="0.8" transform="rotate(-6 271 568.8)" fill="#40a842" fill-opacity="0.9"/><ellipse cx="258" cy="606.4" rx="2" ry="0.9" transform="rotate(71 258 606.4)" fill="#0e2c10" fill-opacity="0.8"/><ellipse cx="230.5" cy="579.9" rx="3.1" ry="0.7" transform="rotate(174 230.5 579.9)" fill="#8a6074" fill-opacity="0.8"/><ellipse cx="275.5" cy="583.7" rx="1.9" ry="0.7" transform="rotate(13 275.5 583.7)" fill="#174a1a" fill-opacity="0.9"/><ellipse cx="241.1" cy="582.5" rx="1.9" ry="0.6" transform="rotate(112 241.1 582.5)" fill="#174a1a" fill-opacity="0.7"/><ellipse cx="270.7" cy="599.1" rx="1.9" ry="0.6" transform="rotate(30 270.7 599.1)" fill="#2a8030" fill-opacity="0.7"/><ellipse cx="246.2" cy="568.9" rx="1.7" ry="0.8" transform="rotate(-73 246.2 568.9)" fill="#3a9e3c" fill-opacity="0.7"/><ellipse cx="229.7" cy="561.7" rx="1.6" ry="0.7" transform="rotate(-120 229.7 561.7)" fill="#9a9a7a" fill-opacity="0.7"/><ellipse cx="228.5" cy="619.7" rx="2.8" ry="0.8" transform="rotate(119 228.5 619.7)" fill="#3a9e3c" fill-opacity="0.7"/><ellipse cx="203.7" cy="617.9" rx="1.5" ry="0.7" transform="rotate(136 203.7 617.9)" fill="#0e2c10" fill-opacity="0.6"/><ellipse cx="231.3" cy="557.7" rx="2.4" ry="0.9" transform="rotate(-120 231.3 557.7)" fill="#9a9a7a" fill-opacity="0.6"/><ellipse cx="263.4" cy="569.9" rx="2.1" ry="0.8" transform="rotate(-25 263.4 569.9)" fill="#9a6a80" fill-opacity="0.9"/><ellipse cx="232" cy="602.5" rx="2.5" ry="0.7" transform="rotate(114 232 602.5)" fill="#0e2c10" fill-opacity="0.6"/><ellipse cx="255.5" cy="589.1" rx="2.6" ry="0.6" transform="rotate(53 255.5 589.1)" fill="#0e2c10" fill-opacity="0.6"/><ellipse cx="233.2" cy="574.5" rx="2.3" ry="0.6" transform="rotate(-159 233.2 574.5)" fill="#2a8030" fill-opacity="0.6"/><ellipse cx="229.1" cy="560.6" rx="3.1" ry="1" transform="rotate(-139 229.1 560.6)" fill="#40a842" fill-opacity="0.9"/><ellipse cx="243.7" cy="629.4" rx="1.6" ry="0.8" transform="rotate(103 243.7 629.4)" fill="#0e2c10" fill-opacity="0.8"/><ellipse cx="226.4" cy="593.1" rx="2.1" ry="1" transform="rotate(141 226.4 593.1)" fill="#0e2c10" fill-opacity="0.8"/><ellipse cx="242.5" cy="627.6" rx="2" ry="1" transform="rotate(85 242.5 627.6)" fill="#40a842" fill-opacity="0.7"/><ellipse cx="206.9" cy="592.2" rx="3" ry="0.6" transform="rotate(167 206.9 592.2)" fill="#123a16" fill-opacity="0.6"/><ellipse cx="262.2" cy="563.3" rx="1.9" ry="0.6" transform="rotate(-42 262.2 563.3)" fill="#9a9a7a" fill-opacity="0.8"/><ellipse cx="231.9" cy="605.1" rx="1.8" ry="1" transform="rotate(111 231.9 605.1)" fill="#40a842" fill-opacity="0.7"/><ellipse cx="238.2" cy="558.3" rx="1.8" ry="0.7" transform="rotate(-107 238.2 558.3)" fill="#2a8030" fill-opacity="0.6"/><ellipse cx="219.4" cy="622.3" rx="2.2" ry="0.9" transform="rotate(121 219.4 622.3)" fill="#8a6074" fill-opacity="0.6"/><ellipse cx="225.4" cy="592.5" rx="2.6" ry="0.9" transform="rotate(137 225.4 592.5)" fill="#174a1a" fill-opacity="0.6"/><ellipse cx="232.1" cy="623" rx="2.3" ry="0.7" transform="rotate(107 232.1 623)" fill="#9a6a80" fill-opacity="0.7"/><ellipse cx="203.9" cy="592.2" rx="2.6" ry="0.7" transform="rotate(162 203.9 592.2)" fill="#8a6074" fill-opacity="0.6"/><ellipse cx="222.5" cy="555.2" rx="2.3" ry="0.9" transform="rotate(-127 222.5 555.2)" fill="#9a9a7a" fill-opacity="0.8"/><ellipse cx="260.1" cy="624" rx="1.6" ry="0.6" transform="rotate(76 260.1 624)" fill="#174a1a" fill-opacity="0.8"/><ellipse cx="234.6" cy="624.8" rx="2.7" ry="0.7" transform="rotate(96 234.6 624.8)" fill="#8a6074" fill-opacity="0.7"/><ellipse cx="217.9" cy="619.3" rx="2.3" ry="0.8" transform="rotate(126 217.9 619.3)" fill="#9a6a80" fill-opacity="0.6"/><ellipse cx="230.2" cy="554.9" rx="2.1" ry="0.8" transform="rotate(-108 230.2 554.9)" fill="#0e2c10" fill-opacity="0.6"/><ellipse cx="237.7" cy="566.7" rx="2.7" ry="0.9" transform="rotate(-110 237.7 566.7)" fill="#3a9e3c" fill-opacity="0.6"/><ellipse cx="256.9" cy="609.9" rx="2.3" ry="1" transform="rotate(78 256.9 609.9)" fill="#0e2c10" fill-opacity="0.7"/><ellipse cx="226.1" cy="601.4" rx="3" ry="0.7" transform="rotate(137 226.1 601.4)" fill="#174a1a" fill-opacity="0.8"/><ellipse cx="251.5" cy="590.3" rx="2.5" ry="1" transform="rotate(50 251.5 590.3)" fill="#8a6074" fill-opacity="0.8"/><ellipse cx="281.2" cy="613.8" rx="2" ry="0.9" transform="rotate(30 281.2 613.8)" fill="#8a6074" fill-opacity="0.6"/><ellipse cx="239.7" cy="610.7" rx="2.1" ry="0.8" transform="rotate(109 239.7 610.7)" fill="#40a842" fill-opacity="0.7"/><ellipse cx="267.8" cy="552.8" rx="2.9" ry="0.6" transform="rotate(-53 267.8 552.8)" fill="#0e2c10" fill-opacity="0.9"/><ellipse cx="280.4" cy="592.1" rx="1.7" ry="0.8" transform="rotate(30 280.4 592.1)" fill="#9a6a80" fill-opacity="0.8"/><ellipse cx="267.9" cy="592.6" rx="1.4" ry="0.9" transform="rotate(16 267.9 592.6)" fill="#a87898" fill-opacity="0.6"/><ellipse cx="233" cy="626" rx="1.8" ry="0.6" transform="rotate(90 233 626)" fill="#9a9a7a" fill-opacity="0.7"/><ellipse cx="250.2" cy="567.7" rx="2.9" ry="1" transform="rotate(-44 250.2 567.7)" fill="#a87898" fill-opacity="0.7"/><ellipse cx="282.1" cy="555.3" rx="2.2" ry="0.6" transform="rotate(-31 282.1 555.3)" fill="#0e2c10" fill-opacity="0.9"/><ellipse cx="252.5" cy="564.9" rx="2.5" ry="0.6" transform="rotate(-63 252.5 564.9)" fill="#34943a" fill-opacity="0.6"/><ellipse cx="275" cy="550.9" rx="2.8" ry="0.9" transform="rotate(-32 275 550.9)" fill="#9a6a80" fill-opacity="0.6"/><ellipse cx="263.6" cy="616.6" rx="1.9" ry="0.9" transform="rotate(47 263.6 616.6)" fill="#40a842" fill-opacity="0.8"/><ellipse cx="208" cy="566.1" rx="1.3" ry="0.9" transform="rotate(-155 208 566.1)" fill="#0e2c10" fill-opacity="0.7"/><ellipse cx="247.7" cy="599.8" rx="2.4" ry="0.7" transform="rotate(73 247.7 599.8)" fill="#174a1a" fill-opacity="0.6"/><ellipse cx="217" cy="578" rx="3" ry="0.9" transform="rotate(177 217 578)" fill="#174a1a" fill-opacity="0.7"/><ellipse cx="271.8" cy="578.7" rx="3" ry="0.8" transform="rotate(-10 271.8 578.7)" fill="#8a6074" fill-opacity="0.8"/><ellipse cx="241.2" cy="615.4" rx="1.5" ry="0.6" transform="rotate(94 241.2 615.4)" fill="#a87898" fill-opacity="0.7"/><ellipse cx="231.4" cy="602.1" rx="3.1" ry="0.6" transform="rotate(108 231.4 602.1)" fill="#a87898" fill-opacity="0.7"/><ellipse cx="261.7" cy="580.3" rx="2.8" ry="0.9" transform="rotate(-2 261.7 580.3)" fill="#123a16" fill-opacity="0.6"/><ellipse cx="261.4" cy="592.1" rx="1.4" ry="0.9" transform="rotate(52 261.4 592.1)" fill="#174a1a" fill-opacity="0.7"/><ellipse cx="206.5" cy="620.7" rx="2.3" ry="0.6" transform="rotate(124 206.5 620.7)" fill="#40a842" fill-opacity="0.7"/><ellipse cx="240" cy="611.1" rx="3" ry="0.6" transform="rotate(86 240 611.1)" fill="#8a6074" fill-opacity="0.7"/><ellipse cx="211.3" cy="596.9" rx="1.5" ry="0.6" transform="rotate(147 211.3 596.9)" fill="#40a842" fill-opacity="0.9"/><ellipse cx="258" cy="622.7" rx="2.7" ry="0.8" transform="rotate(78 258 622.7)" fill="#2a8030" fill-opacity="0.6"/><ellipse cx="255.3" cy="618.6" rx="3.2" ry="0.9" transform="rotate(72 255.3 618.6)" fill="#2a8030" fill-opacity="0.8"/><ellipse cx="212.5" cy="589.4" rx="2" ry="0.9" transform="rotate(167 212.5 589.4)" fill="#34943a" fill-opacity="0.6"/><ellipse cx="248.4" cy="609.2" rx="1.7" ry="0.9" transform="rotate(84 248.4 609.2)" fill="#34943a" fill-opacity="0.6"/><ellipse cx="281.3" cy="613.8" rx="1.4" ry="0.6" transform="rotate(35 281.3 613.8)" fill="#34943a" fill-opacity="0.8"/><ellipse cx="206.5" cy="594.1" rx="2.4" ry="0.7" transform="rotate(141 206.5 594.1)" fill="#2a8030" fill-opacity="0.6"/><ellipse cx="263.7" cy="557.9" rx="3.1" ry="0.9" transform="rotate(-52 263.7 557.9)" fill="#a87898" fill-opacity="0.6"/><ellipse cx="244.1" cy="558.1" rx="2.8" ry="1" transform="rotate(-74 244.1 558.1)" fill="#123a16" fill-opacity="0.6"/><ellipse cx="205.4" cy="601.5" rx="1.5" ry="0.8" transform="rotate(150 205.4 601.5)" fill="#a87898" fill-opacity="0.6"/><ellipse cx="207.3" cy="593.2" rx="1.9" ry="0.7" transform="rotate(141 207.3 593.2)" fill="#34943a" fill-opacity="0.6"/><ellipse cx="269.5" cy="614.5" rx="2.2" ry="0.6" transform="rotate(58 269.5 614.5)" fill="#34943a" fill-opacity="0.8"/><ellipse cx="281.9" cy="598.6" rx="1.5" ry="0.8" transform="rotate(33 281.9 598.6)" fill="#174a1a" fill-opacity="0.8"/><ellipse cx="271.1" cy="617.5" rx="1.5" ry="0.7" transform="rotate(48 271.1 617.5)" fill="#9a6a80" fill-opacity="0.6"/><ellipse cx="251.6" cy="627.9" rx="2.8" ry="0.6" transform="rotate(67 251.6 627.9)" fill="#174a1a" fill-opacity="0.8"/><ellipse cx="264.5" cy="566.7" rx="2" ry="1" transform="rotate(-14 264.5 566.7)" fill="#40a842" fill-opacity="0.8"/><ellipse cx="276.5" cy="608.2" rx="2.8" ry="1" transform="rotate(52 276.5 608.2)" fill="#123a16" fill-opacity="0.8"/><ellipse cx="213.8" cy="622.5" rx="2.8" ry="0.6" transform="rotate(126 213.8 622.5)" fill="#9a6a80" fill-opacity="0.7"/><ellipse cx="259.7" cy="569.8" rx="1.9" ry="0.7" transform="rotate(-30 259.7 569.8)" fill="#174a1a" fill-opacity="0.6"/><ellipse cx="216.1" cy="625.3" rx="2.5" ry="0.8" transform="rotate(123 216.1 625.3)" fill="#8a6074" fill-opacity="0.6"/><ellipse cx="223" cy="582.6" rx="1.3" ry="0.7" transform="rotate(177 223 582.6)" fill="#8a6074" fill-opacity="0.6"/><ellipse cx="264.8" cy="568.7" rx="2" ry="0.6" transform="rotate(-32 264.8 568.7)" fill="#123a16" fill-opacity="0.8"/><ellipse cx="228.2" cy="599.8" rx="2" ry="0.8" transform="rotate(137 228.2 599.8)" fill="#3a9e3c" fill-opacity="0.6"/><ellipse cx="207.3" cy="602.7" rx="1.8" ry="1" transform="rotate(157 207.3 602.7)" fill="#a87898" fill-opacity="0.8"/><ellipse cx="280.6" cy="556.8" rx="1.7" ry="0.7" transform="rotate(-16 280.6 556.8)" fill="#123a16" fill-opacity="0.8"/><ellipse cx="237.6" cy="559.1" rx="3.1" ry="0.8" transform="rotate(-102 237.6 559.1)" fill="#3a9e3c" fill-opacity="0.8"/><ellipse cx="262.8" cy="609.9" rx="1.8" ry="0.7" transform="rotate(44 262.8 609.9)" fill="#34943a" fill-opacity="0.8"/><ellipse cx="252.6" cy="602.1" rx="2.7" ry="0.6" transform="rotate(55 252.6 602.1)" fill="#174a1a" fill-opacity="0.8"/><ellipse cx="227.4" cy="554.7" rx="1.4" ry="0.6" transform="rotate(-128 227.4 554.7)" fill="#3a9e3c" fill-opacity="0.7"/><ellipse cx="260.9" cy="601.5" rx="2.3" ry="0.9" transform="rotate(65 260.9 601.5)" fill="#2a8030" fill-opacity="0.6"/><ellipse cx="211" cy="573.9" rx="2.1" ry="0.9" transform="rotate(-174 211 573.9)" fill="#174a1a" fill-opacity="0.9"/><ellipse cx="239.9" cy="575.4" rx="1.7" ry="0.7" transform="rotate(-135 239.9 575.4)" fill="#174a1a" fill-opacity="0.8"/><ellipse cx="267.4" cy="603.3" rx="1.8" ry="0.6" transform="rotate(37 267.4 603.3)" fill="#174a1a" fill-opacity="0.6"/><ellipse cx="255.9" cy="596.6" rx="2.6" ry="0.6" transform="rotate(45 255.9 596.6)" fill="#174a1a" fill-opacity="0.8"/><ellipse cx="207.6" cy="569.9" rx="1.5" ry="0.8" transform="rotate(-180 207.6 569.9)" fill="#9a6a80" fill-opacity="0.6"/><ellipse cx="271.4" cy="560" rx="3.1" ry="0.7" transform="rotate(-25 271.4 560)" fill="#3a9e3c" fill-opacity="0.7"/><ellipse cx="262.1" cy="579.2" rx="1.6" ry="0.8" transform="rotate(16 262.1 579.2)" fill="#3a9e3c" fill-opacity="0.6"/><ellipse cx="233.5" cy="610.8" rx="1.7" ry="0.6" transform="rotate(97 233.5 610.8)" fill="#9a9a7a" fill-opacity="0.8"/><ellipse cx="222.3" cy="621" rx="1.8" ry="0.6" transform="rotate(103 222.3 621)" fill="#9a9a7a" fill-opacity="0.8"/><ellipse cx="221.8" cy="552" rx="2.1" ry="0.6" transform="rotate(-130 221.8 552)" fill="#2a8030" fill-opacity="0.6"/><ellipse cx="212.4" cy="588" rx="1.6" ry="0.7" transform="rotate(159 212.4 588)" fill="#174a1a" fill-opacity="0.6"/><ellipse cx="224.3" cy="585.1" rx="1.8" ry="0.7" transform="rotate(144 224.3 585.1)" fill="#a87898" fill-opacity="0.6"/><ellipse cx="262.7" cy="594.6" rx="3" ry="1" transform="rotate(51 262.7 594.6)" fill="#174a1a" fill-opacity="0.6"/><ellipse cx="237.6" cy="554.1" rx="2.3" ry="0.8" transform="rotate(-108 237.6 554.1)" fill="#174a1a" fill-opacity="0.6"/><ellipse cx="224.3" cy="623.5" rx="2.2" ry="0.9" transform="rotate(99 224.3 623.5)" fill="#2a8030" fill-opacity="0.8"/><ellipse cx="210.9" cy="572.1" rx="2.8" ry="0.6" transform="rotate(-164 210.9 572.1)" fill="#2a8030" fill-opacity="0.7"/><ellipse cx="217.4" cy="550.5" rx="2.5" ry="0.8" transform="rotate(-147 217.4 550.5)" fill="#2a8030" fill-opacity="0.8"/><ellipse cx="205.6" cy="601.5" rx="2.8" ry="0.8" transform="rotate(136 205.6 601.5)" fill="#8a6074" fill-opacity="0.6"/><ellipse cx="267.5" cy="625.2" rx="2.7" ry="0.9" transform="rotate(58 267.5 625.2)" fill="#0e2c10" fill-opacity="0.6"/><ellipse cx="221.2" cy="597.4" rx="3" ry="0.6" transform="rotate(129 221.2 597.4)" fill="#123a16" fill-opacity="0.6"/><ellipse cx="281.2" cy="616.7" rx="1.9" ry="0.7" transform="rotate(36 281.2 616.7)" fill="#174a1a" fill-opacity="0.7"/><ellipse cx="257.5" cy="550.6" rx="3.1" ry="0.7" transform="rotate(-62 257.5 550.6)" fill="#a87898" fill-opacity="0.8"/><ellipse cx="262.5" cy="603.4" rx="1.7" ry="1" transform="rotate(43 262.5 603.4)" fill="#2a8030" fill-opacity="0.6"/><ellipse cx="283.2" cy="586.1" rx="1.7" ry="1" transform="rotate(6 283.2 586.1)" fill="#9a9a7a" fill-opacity="0.6"/><ellipse cx="236.1" cy="606.3" rx="2.4" ry="0.9" transform="rotate(95 236.1 606.3)" fill="#123a16" fill-opacity="0.6"/><ellipse cx="268.1" cy="598.1" rx="2.2" ry="0.8" transform="rotate(35 268.1 598.1)" fill="#9a6a80" fill-opacity="0.6"/><ellipse cx="212.7" cy="626.4" rx="1.6" ry="0.6" transform="rotate(122 212.7 626.4)" fill="#40a842" fill-opacity="0.7"/><ellipse cx="263.4" cy="563" rx="2.1" ry="0.6" transform="rotate(-25 263.4 563)" fill="#9a9a7a" fill-opacity="0.6"/><ellipse cx="248.7" cy="567.4" rx="1.6" ry="0.9" transform="rotate(-46 248.7 567.4)" fill="#9a9a7a" fill-opacity="0.6"/><ellipse cx="237.9" cy="615.2" rx="3.1" ry="1" transform="rotate(84 237.9 615.2)" fill="#3a9e3c" fill-opacity="0.9"/><ellipse cx="236.7" cy="592" rx="2.9" ry="0.9" transform="rotate(118 236.7 592)" fill="#a87898" fill-opacity="0.8"/><ellipse cx="238.8" cy="589.6" rx="2.3" ry="0.9" transform="rotate(105 238.8 589.6)" fill="#a87898" fill-opacity="0.9"/><ellipse cx="218.5" cy="555.7" rx="3" ry="0.8" transform="rotate(-147 218.5 555.7)" fill="#9a6a80" fill-opacity="0.8"/><ellipse cx="236" cy="626.1" rx="1.8" ry="0.9" transform="rotate(104 236 626.1)" fill="#123a16" fill-opacity="0.8"/><ellipse cx="240.8" cy="603.4" rx="2.8" ry="0.6" transform="rotate(94 240.8 603.4)" fill="#0e2c10" fill-opacity="0.8"/><ellipse cx="279.7" cy="620.8" rx="2.2" ry="0.7" transform="rotate(63 279.7 620.8)" fill="#9a9a7a" fill-opacity="0.6"/><ellipse cx="280.9" cy="593" rx="2.1" ry="0.6" transform="rotate(29 280.9 593)" fill="#8a6074" fill-opacity="0.8"/><ellipse cx="231.8" cy="602.7" rx="2.8" ry="0.6" transform="rotate(105 231.8 602.7)" fill="#34943a" fill-opacity="0.9"/><ellipse cx="212.1" cy="590.4" rx="3" ry="0.8" transform="rotate(161 212.1 590.4)" fill="#2a8030" fill-opacity="0.8"/><ellipse cx="278.6" cy="595.8" rx="2" ry="0.9" transform="rotate(25 278.6 595.8)" fill="#3a9e3c" fill-opacity="0.8"/><ellipse cx="258.6" cy="603.7" rx="2.8" ry="0.7" transform="rotate(47 258.6 603.7)" fill="#0e2c10" fill-opacity="0.8"/><ellipse cx="270" cy="601" rx="2.5" ry="0.9" transform="rotate(54 270 601)" fill="#34943a" fill-opacity="0.7"/><ellipse cx="271.2" cy="601.5" rx="1.6" ry="0.6" transform="rotate(38 271.2 601.5)" fill="#0e2c10" fill-opacity="0.9"/><ellipse cx="250.2" cy="565.5" rx="1.3" ry="0.8" transform="rotate(-52 250.2 565.5)" fill="#9a6a80" fill-opacity="0.6"/><ellipse cx="267" cy="616.6" rx="1.5" ry="0.7" transform="rotate(48 267 616.6)" fill="#3a9e3c" fill-opacity="0.6"/><ellipse cx="260" cy="628.6" rx="1.3" ry="0.6" transform="rotate(84 260 628.6)" fill="#34943a" fill-opacity="0.6"/><ellipse cx="229.9" cy="591.4" rx="1.9" ry="0.7" transform="rotate(132 229.9 591.4)" fill="#9a6a80" fill-opacity="0.7"/><ellipse cx="277.4" cy="570.7" rx="1.8" ry="0.6" transform="rotate(-24 277.4 570.7)" fill="#9a6a80" fill-opacity="0.6"/><ellipse cx="272.6" cy="575.9" rx="2.3" ry="0.6" transform="rotate(0 272.6 575.9)" fill="#a87898" fill-opacity="0.8"/><ellipse cx="263.3" cy="616.7" rx="2.1" ry="0.7" transform="rotate(48 263.3 616.7)" fill="#9a6a80" fill-opacity="0.8"/><ellipse cx="267.3" cy="557.1" rx="2.4" ry="0.6" transform="rotate(-33 267.3 557.1)" fill="#2a8030" fill-opacity="0.8"/><ellipse cx="221.5" cy="557.1" rx="2.6" ry="0.8" transform="rotate(-147 221.5 557.1)" fill="#34943a" fill-opacity="0.9"/><ellipse cx="220.3" cy="616.8" rx="2.2" ry="0.9" transform="rotate(120 220.3 616.8)" fill="#a87898" fill-opacity="0.7"/><ellipse cx="261.1" cy="552.1" rx="2.7" ry="0.6" transform="rotate(-60 261.1 552.1)" fill="#0e2c10" fill-opacity="0.8"/><ellipse cx="239.4" cy="565" rx="1.6" ry="1" transform="rotate(-90 239.4 565)" fill="#9a6a80" fill-opacity="0.6"/><ellipse cx="208" cy="586.6" rx="1.9" ry="0.9" transform="rotate(170 208 586.6)" fill="#9a6a80" fill-opacity="0.7"/><ellipse cx="244.9" cy="574.1" rx="2.8" ry="0.7" transform="rotate(-67 244.9 574.1)" fill="#8a6074" fill-opacity="0.7"/><ellipse cx="215.1" cy="624.1" rx="3" ry="0.8" transform="rotate(111 215.1 624.1)" fill="#174a1a" fill-opacity="0.8"/><ellipse cx="260.6" cy="619.2" rx="2.6" ry="0.8" transform="rotate(61 260.6 619.2)" fill="#174a1a" fill-opacity="0.6"/><ellipse cx="208.6" cy="580.6" rx="2.2" ry="0.7" transform="rotate(180 208.6 580.6)" fill="#34943a" fill-opacity="0.7"/><ellipse cx="271.4" cy="624.6" rx="2.1" ry="0.9" transform="rotate(59 271.4 624.6)" fill="#8a6074" fill-opacity="0.8"/><ellipse cx="211.4" cy="586.1" rx="2.5" ry="0.7" transform="rotate(151 211.4 586.1)" fill="#a87898" fill-opacity="0.6"/><ellipse cx="240.4" cy="599.1" rx="1.9" ry="0.6" transform="rotate(104 240.4 599.1)" fill="#8a6074" fill-opacity="0.7"/><ellipse cx="209.9" cy="581.1" rx="1.5" ry="1" transform="rotate(160 209.9 581.1)" fill="#9a6a80" fill-opacity="0.9"/><ellipse cx="256.8" cy="592" rx="2.6" ry="0.7" transform="rotate(55 256.8 592)" fill="#40a842" fill-opacity="0.8"/><ellipse cx="216.6" cy="563.5" rx="2.8" ry="0.7" transform="rotate(-156 216.6 563.5)" fill="#174a1a" fill-opacity="0.9"/><ellipse cx="239.7" cy="593.8" rx="1.5" ry="1" transform="rotate(114 239.7 593.8)" fill="#9a9a7a" fill-opacity="0.7"/><ellipse cx="279.7" cy="597.9" rx="1.8" ry="0.8" transform="rotate(35 279.7 597.9)" fill="#3a9e3c" fill-opacity="0.8"/><ellipse cx="276.4" cy="588.9" rx="2.9" ry="0.8" transform="rotate(27 276.4 588.9)" fill="#123a16" fill-opacity="0.6"/><ellipse cx="240.6" cy="628.8" rx="1.6" ry="0.9" transform="rotate(87 240.6 628.8)" fill="#3a9e3c" fill-opacity="0.8"/><ellipse cx="271.1" cy="604.2" rx="2.6" ry="0.6" transform="rotate(28 271.1 604.2)" fill="#34943a" fill-opacity="0.8"/><ellipse cx="203.8" cy="610.7" rx="2.5" ry="1" transform="rotate(153 203.8 610.7)" fill="#8a6074" fill-opacity="0.6"/><ellipse cx="228.5" cy="620.1" rx="3.1" ry="0.7" transform="rotate(112 228.5 620.1)" fill="#9a9a7a" fill-opacity="0.7"/><ellipse cx="211.8" cy="567.8" rx="3" ry="0.7" transform="rotate(-158 211.8 567.8)" fill="#40a842" fill-opacity="0.8"/><ellipse cx="222.6" cy="623.2" rx="2.8" ry="1" transform="rotate(120 222.6 623.2)" fill="#3a9e3c" fill-opacity="0.8"/><ellipse cx="223.3" cy="602.1" rx="2" ry="0.9" transform="rotate(117 223.3 602.1)" fill="#a87898" fill-opacity="0.8"/><ellipse cx="256.8" cy="554" rx="3" ry="0.6" transform="rotate(-65 256.8 554)" fill="#3a9e3c" fill-opacity="0.9"/><ellipse cx="279.6" cy="619.5" rx="2.3" ry="1" transform="rotate(57 279.6 619.5)" fill="#a87898" fill-opacity="0.9"/><ellipse cx="278.9" cy="587.2" rx="2.2" ry="0.9" transform="rotate(25 278.9 587.2)" fill="#8a6074" fill-opacity="0.7"/><ellipse cx="208.1" cy="559.1" rx="3" ry="1" transform="rotate(-166 208.1 559.1)" fill="#8a6074" fill-opacity="0.6"/><ellipse cx="208.4" cy="608.9" rx="1.7" ry="0.8" transform="rotate(134 208.4 608.9)" fill="#2a8030" fill-opacity="0.9"/><ellipse cx="227.9" cy="600.2" rx="3" ry="0.8" transform="rotate(135 227.9 600.2)" fill="#9a6a80" fill-opacity="0.8"/><ellipse cx="231.3" cy="622.8" rx="2.4" ry="1" transform="rotate(116 231.3 622.8)" fill="#174a1a" fill-opacity="0.7"/><ellipse cx="236.4" cy="620" rx="2.6" ry="0.6" transform="rotate(94 236.4 620)" fill="#8a6074" fill-opacity="0.9"/><ellipse cx="255.8" cy="618.7" rx="2.5" ry="0.8" transform="rotate(71 255.8 618.7)" fill="#40a842" fill-opacity="0.7"/><ellipse cx="260.5" cy="583.9" rx="1.5" ry="0.8" transform="rotate(29 260.5 583.9)" fill="#8a6074" fill-opacity="0.6"/><ellipse cx="266.7" cy="597.9" rx="1.4" ry="0.7" transform="rotate(53 266.7 597.9)" fill="#9a9a7a" fill-opacity="0.6"/><ellipse cx="254.1" cy="555.8" rx="2.1" ry="0.7" transform="rotate(-48 254.1 555.8)" fill="#a87898" fill-opacity="0.8"/><ellipse cx="218" cy="593.3" rx="2.3" ry="0.9" transform="rotate(137 218 593.3)" fill="#9a9a7a" fill-opacity="0.9"/><ellipse cx="248" cy="613.2" rx="1.6" ry="1" transform="rotate(83 248 613.2)" fill="#174a1a" fill-opacity="0.9"/><ellipse cx="232" cy="623.5" rx="1.7" ry="0.6" transform="rotate(103 232 623.5)" fill="#34943a" fill-opacity="0.7"/><ellipse cx="277.8" cy="594.4" rx="1.6" ry="0.8" transform="rotate(34 277.8 594.4)" fill="#9a9a7a" fill-opacity="0.6"/><ellipse cx="258.1" cy="597.9" rx="1.7" ry="0.6" transform="rotate(57 258.1 597.9)" fill="#123a16" fill-opacity="0.6"/><ellipse cx="203.5" cy="576.8" rx="2.7" ry="0.9" transform="rotate(-186 203.5 576.8)" fill="#9a6a80" fill-opacity="0.6"/><ellipse cx="268.9" cy="568.2" rx="1.6" ry="0.9" transform="rotate(-5 268.9 568.2)" fill="#174a1a" fill-opacity="0.8"/><ellipse cx="260.1" cy="606.4" rx="1.8" ry="0.9" transform="rotate(72 260.1 606.4)" fill="#123a16" fill-opacity="0.7"/><ellipse cx="203.1" cy="619.1" rx="3" ry="1" transform="rotate(135 203.1 619.1)" fill="#9a9a7a" fill-opacity="0.6"/><ellipse cx="239.9" cy="600.7" rx="3.2" ry="0.7" transform="rotate(105 239.9 600.7)" fill="#34943a" fill-opacity="0.9"/><ellipse cx="221.3" cy="619.1" rx="2" ry="0.7" transform="rotate(111 221.3 619.1)" fill="#0e2c10" fill-opacity="0.6"/><ellipse cx="209.8" cy="565" rx="1.9" ry="0.8" transform="rotate(-168 209.8 565)" fill="#2a8030" fill-opacity="0.8"/><ellipse cx="264.6" cy="597" rx="2.2" ry="0.7" transform="rotate(42 264.6 597)" fill="#2a8030" fill-opacity="0.8"/><ellipse cx="214.6" cy="563.1" rx="1.4" ry="0.9" transform="rotate(-138 214.6 563.1)" fill="#9a9a7a" fill-opacity="0.6"/><ellipse cx="261.9" cy="576.4" rx="2.6" ry="0.9" transform="rotate(0 261.9 576.4)" fill="#2a8030" fill-opacity="0.9"/><ellipse cx="248.9" cy="550.1" rx="2.9" ry="0.9" transform="rotate(-82 248.9 550.1)" fill="#0e2c10" fill-opacity="0.8"/><ellipse cx="257.4" cy="625.8" rx="2.5" ry="0.6" transform="rotate(77 257.4 625.8)" fill="#123a16" fill-opacity="0.9"/><ellipse cx="214.7" cy="578.9" rx="2.9" ry="0.9" transform="rotate(180 214.7 578.9)" fill="#0e2c10" fill-opacity="0.6"/><ellipse cx="267.2" cy="562.1" rx="2.3" ry="0.8" transform="rotate(-39 267.2 562.1)" fill="#3a9e3c" fill-opacity="0.9"/><ellipse cx="267.2" cy="551.7" rx="1.9" ry="0.8" transform="rotate(-47 267.2 551.7)" fill="#8a6074" fill-opacity="0.7"/><ellipse cx="204.6" cy="593.5" rx="2.8" ry="0.7" transform="rotate(170 204.6 593.5)" fill="#174a1a" fill-opacity="0.7"/><ellipse cx="234" cy="598.3" rx="2.8" ry="0.7" transform="rotate(109 234 598.3)" fill="#9a9a7a" fill-opacity="0.6"/><ellipse cx="268" cy="599.9" rx="1.3" ry="1" transform="rotate(35 268 599.9)" fill="#2a8030" fill-opacity="0.6"/><ellipse cx="258.3" cy="551.3" rx="1.7" ry="0.6" transform="rotate(-50 258.3 551.3)" fill="#3a9e3c" fill-opacity="0.7"/><ellipse cx="220.6" cy="584.5" rx="1.5" ry="1" transform="rotate(175 220.6 584.5)" fill="#174a1a" fill-opacity="0.9"/><ellipse cx="247.2" cy="623.4" rx="1.5" ry="1" transform="rotate(82 247.2 623.4)" fill="#34943a" fill-opacity="0.6"/><ellipse cx="242.8" cy="608" rx="2.1" ry="0.8" transform="rotate(96 242.8 608)" fill="#3a9e3c" fill-opacity="0.8"/><ellipse cx="281.3" cy="552.6" rx="1.4" ry="0.6" transform="rotate(-47 281.3 552.6)" fill="#0e2c10" fill-opacity="0.6"/><ellipse cx="240.2" cy="558.2" rx="1.7" ry="0.7" transform="rotate(-85 240.2 558.2)" fill="#34943a" fill-opacity="0.7"/><ellipse cx="281.5" cy="584.4" rx="2" ry="0.7" transform="rotate(1 281.5 584.4)" fill="#123a16" fill-opacity="0.9"/><ellipse cx="259.6" cy="563.6" rx="1.6" ry="0.6" transform="rotate(-44 259.6 563.6)" fill="#0e2c10" fill-opacity="0.6"/><ellipse cx="245.5" cy="604.1" rx="1.4" ry="0.7" transform="rotate(93 245.5 604.1)" fill="#40a842" fill-opacity="0.6"/><ellipse cx="238.2" cy="551.4" rx="2.5" ry="0.8" transform="rotate(-100 238.2 551.4)" fill="#3a9e3c" fill-opacity="0.9"/><ellipse cx="276.4" cy="594.5" rx="1.6" ry="0.6" transform="rotate(23 276.4 594.5)" fill="#0e2c10" fill-opacity="0.6"/><ellipse cx="267.3" cy="612.5" rx="2.3" ry="0.6" transform="rotate(64 267.3 612.5)" fill="#9a9a7a" fill-opacity="0.8"/><ellipse cx="218.2" cy="580" rx="2.6" ry="0.7" transform="rotate(173 218.2 580)" fill="#40a842" fill-opacity="0.9"/><ellipse cx="252.3" cy="574.9" rx="2" ry="0.7" transform="rotate(-3 252.3 574.9)" fill="#0e2c10" fill-opacity="0.8"/><ellipse cx="268.9" cy="628.9" rx="2.6" ry="0.7" transform="rotate(70 268.9 628.9)" fill="#9a6a80" fill-opacity="0.8"/><ellipse cx="230" cy="595.5" rx="2.3" ry="1" transform="rotate(136 230 595.5)" fill="#174a1a" fill-opacity="0.7"/><ellipse cx="269.5" cy="553.3" rx="2.1" ry="0.6" transform="rotate(-45 269.5 553.3)" fill="#9a6a80" fill-opacity="0.8"/><ellipse cx="237.3" cy="624.3" rx="1.5" ry="0.9" transform="rotate(85 237.3 624.3)" fill="#9a6a80" fill-opacity="0.9"/><ellipse cx="251.6" cy="584.4" rx="3" ry="0.9" transform="rotate(25 251.6 584.4)" fill="#2a8030" fill-opacity="0.8"/><ellipse cx="210.8" cy="589.1" rx="2.7" ry="0.6" transform="rotate(164 210.8 589.1)" fill="#9a6a80" fill-opacity="0.8"/><ellipse cx="219.5" cy="590.2" rx="2.3" ry="0.8" transform="rotate(159 219.5 590.2)" fill="#0e2c10" fill-opacity="0.8"/><ellipse cx="239.6" cy="618.7" rx="2.1" ry="1" transform="rotate(93 239.6 618.7)" fill="#174a1a" fill-opacity="0.6"/><ellipse cx="270.1" cy="614.5" rx="1.9" ry="0.8" transform="rotate(64 270.1 614.5)" fill="#3a9e3c" fill-opacity="0.7"/><ellipse cx="271.3" cy="618.2" rx="1.8" ry="0.8" transform="rotate(53 271.3 618.2)" fill="#123a16" fill-opacity="0.6"/><ellipse cx="271.3" cy="621.1" rx="1.4" ry="0.8" transform="rotate(56 271.3 621.1)" fill="#174a1a" fill-opacity="0.8"/><ellipse cx="230.5" cy="624.2" rx="1.7" ry="0.6" transform="rotate(114 230.5 624.2)" fill="#174a1a" fill-opacity="0.8"/><ellipse cx="270.2" cy="570.4" rx="1.6" ry="1" transform="rotate(-23 270.2 570.4)" fill="#34943a" fill-opacity="0.6"/><ellipse cx="276.2" cy="567.3" rx="3" ry="0.8" transform="rotate(-3 276.2 567.3)" fill="#174a1a" fill-opacity="0.8"/><ellipse cx="245.7" cy="618" rx="2.1" ry="0.6" transform="rotate(98 245.7 618)" fill="#8a6074" fill-opacity="0.8"/><ellipse cx="262.7" cy="568.2" rx="2.2" ry="0.9" transform="rotate(-11 262.7 568.2)" fill="#9a6a80" fill-opacity="0.6"/><ellipse cx="257.8" cy="593.9" rx="2.1" ry="0.6" transform="rotate(36 257.8 593.9)" fill="#2a8030" fill-opacity="0.7"/><ellipse cx="277.8" cy="594.7" rx="1.5" ry="0.8" transform="rotate(40 277.8 594.7)" fill="#8a6074" fill-opacity="0.6"/><ellipse cx="274.1" cy="579" rx="3.1" ry="1" transform="rotate(-8 274.1 579)" fill="#40a842" fill-opacity="0.6"/><ellipse cx="229.5" cy="595.8" rx="1.6" ry="0.9" transform="rotate(121 229.5 595.8)" fill="#2a8030" fill-opacity="0.6"/><ellipse cx="225.8" cy="600" rx="2.4" ry="1" transform="rotate(133 225.8 600)" fill="#8a6074" fill-opacity="0.7"/><ellipse cx="277.6" cy="565.4" rx="3.1" ry="0.8" transform="rotate(-29 277.6 565.4)" fill="#34943a" fill-opacity="0.8"/><ellipse cx="227.1" cy="627.1" rx="1.8" ry="1" transform="rotate(94 227.1 627.1)" fill="#123a16" fill-opacity="0.6"/><ellipse cx="208.7" cy="590.8" rx="2.6" ry="0.9" transform="rotate(151 208.7 590.8)" fill="#174a1a" fill-opacity="0.8"/><ellipse cx="277.3" cy="629" rx="2.6" ry="0.9" transform="rotate(41 277.3 629)" fill="#123a16" fill-opacity="0.9"/><ellipse cx="210" cy="572" rx="3" ry="0.9" transform="rotate(-169 210 572)" fill="#8a6074" fill-opacity="0.9"/><ellipse cx="250.3" cy="615.5" rx="1.3" ry="0.6" transform="rotate(69 250.3 615.5)" fill="#34943a" fill-opacity="0.6"/><ellipse cx="277.8" cy="571" rx="3" ry="0.8" transform="rotate(-16 277.8 571)" fill="#9a9a7a" fill-opacity="0.7"/><ellipse cx="258.9" cy="555" rx="2.9" ry="1" transform="rotate(-66 258.9 555)" fill="#9a6a80" fill-opacity="0.7"/><ellipse cx="237.3" cy="619.3" rx="1.3" ry="0.6" transform="rotate(84 237.3 619.3)" fill="#9a9a7a" fill-opacity="0.8"/><ellipse cx="255.4" cy="562.5" rx="2.7" ry="0.8" transform="rotate(-54 255.4 562.5)" fill="#8a6074" fill-opacity="0.6"/><ellipse cx="214.4" cy="562.3" rx="1.6" ry="0.8" transform="rotate(-142 214.4 562.3)" fill="#3a9e3c" fill-opacity="0.7"/><ellipse cx="248.5" cy="557.3" rx="2.2" ry="0.8" transform="rotate(-67 248.5 557.3)" fill="#123a16" fill-opacity="0.6"/><ellipse cx="214.3" cy="623.7" rx="1.3" ry="1" transform="rotate(117 214.3 623.7)" fill="#174a1a" fill-opacity="0.8"/><ellipse cx="250.2" cy="583.9" rx="2.2" ry="0.6" transform="rotate(55 250.2 583.9)" fill="#123a16" fill-opacity="0.7"/><ellipse cx="243.3" cy="623.5" rx="2.4" ry="0.6" transform="rotate(76 243.3 623.5)" fill="#174a1a" fill-opacity="0.8"/><ellipse cx="263.5" cy="576.7" rx="1.4" ry="0.9" transform="rotate(-15 263.5 576.7)" fill="#2a8030" fill-opacity="0.6"/></g></g>
<filter id="t20" x="0" y="0" width="1" height="1" filterUnits="objectBoundingBox" color-interpolation-filters="sRGB"><feTurbulence type="fractalNoise" baseFrequency="0.14 0.16" numOctaves="3" seed="11"/><feColorMatrix type="matrix" values="0.14 0 0 0 0.08  0.5 0 0 0 0.15  0.1 0 0 0 0.07  0 0 0 0 1"/></filter>
<rect x="283.1" y="552.6" width="74.2" height="74" filter="url(#t20)"/>
<linearGradient id="vig" x1="0" y1="0" x2="1" y2="1"><stop offset="0" stop-color="#000" stop-opacity="0.4"/><stop offset="0.5" stop-color="#000" stop-opacity="0"/></linearGradient>
<g clip-path="url(#c20)"><ellipse cx="294.6" cy="575.2" rx="1" ry="0.6" transform="rotate(127 294.6 575.2)" fill="#6a5a20" fill-opacity="0.7"/><ellipse cx="326.7" cy="589.4" rx="1.6" ry="1" transform="rotate(133 326.7 589.4)" fill="#7a5a28" fill-opacity="0.5"/><ellipse cx="286" cy="556.1" rx="1.1" ry="0.7" transform="rotate(34 286 556.1)" fill="#6a5a20" fill-opacity="0.5"/><ellipse cx="332.8" cy="584.7" rx="0.9" ry="0.8" transform="rotate(162 332.8 584.7)" fill="#7a5a28" fill-opacity="0.6"/><ellipse cx="332.2" cy="560.1" rx="0.9" ry="0.6" transform="rotate(51 332.2 560.1)" fill="#9a6030" fill-opacity="0.5"/><ellipse cx="302.9" cy="602.2" rx="0.7" ry="0.5" transform="rotate(123 302.9 602.2)" fill="#6a5a20" fill-opacity="0.4"/><ellipse cx="289.4" cy="556.8" rx="0.6" ry="0.5" transform="rotate(113 289.4 556.8)" fill="#6a5a20" fill-opacity="0.6"/><ellipse cx="319.3" cy="567" rx="1.1" ry="0.8" transform="rotate(145 319.3 567)" fill="#9a6030" fill-opacity="0.4"/><ellipse cx="326.8" cy="618.6" rx="0.5" ry="0.5" transform="rotate(78 326.8 618.6)" fill="#7a5a28" fill-opacity="0.6"/><ellipse cx="326" cy="624.8" rx="0.7" ry="0.4" transform="rotate(144 326 624.8)" fill="#7a5a28" fill-opacity="0.6"/><ellipse cx="300.9" cy="569" rx="1.2" ry="1" transform="rotate(30 300.9 569)" fill="#9a6030" fill-opacity="0.5"/><ellipse cx="344.5" cy="564.6" rx="0.8" ry="0.7" transform="rotate(23 344.5 564.6)" fill="#6a5a20" fill-opacity="0.7"/><ellipse cx="330.3" cy="564.1" rx="1.5" ry="0.9" transform="rotate(20 330.3 564.1)" fill="#6a5a20" fill-opacity="0.4"/><ellipse cx="299.5" cy="563.9" rx="1" ry="0.9" transform="rotate(55 299.5 563.9)" fill="#9a6030" fill-opacity="0.7"/><ellipse cx="338.7" cy="594" rx="1.3" ry="1" transform="rotate(171 338.7 594)" fill="#8a5020" fill-opacity="0.5"/><ellipse cx="298.2" cy="606.4" rx="0.6" ry="0.5" transform="rotate(100 298.2 606.4)" fill="#8a5020" fill-opacity="0.6"/><ellipse cx="332" cy="562.1" rx="0.6" ry="0.4" transform="rotate(107 332 562.1)" fill="#7a5a28" fill-opacity="0.6"/><ellipse cx="303.6" cy="609.6" rx="1.3" ry="0.8" transform="rotate(93 303.6 609.6)" fill="#8a5020" fill-opacity="0.6"/><ellipse cx="347.8" cy="592.7" rx="0.9" ry="0.7" transform="rotate(149 347.8 592.7)" fill="#7a5a28" fill-opacity="0.6"/><ellipse cx="318.9" cy="606.7" rx="0.7" ry="0.5" transform="rotate(64 318.9 606.7)" fill="#9a6030" fill-opacity="0.5"/><ellipse cx="289.5" cy="579.3" rx="1.3" ry="0.8" transform="rotate(176 289.5 579.3)" fill="#6a5a20" fill-opacity="0.6"/><ellipse cx="333.3" cy="599.6" rx="1" ry="0.8" transform="rotate(10 333.3 599.6)" fill="#9a6030" fill-opacity="0.5"/><ellipse cx="315.6" cy="597.6" rx="1.6" ry="0.9" transform="rotate(54 315.6 597.6)" fill="#8a5020" fill-opacity="0.5"/><ellipse cx="318.1" cy="605.9" rx="1" ry="0.8" transform="rotate(18 318.1 605.9)" fill="#8a5020" fill-opacity="0.5"/><ellipse cx="319.3" cy="605.3" rx="1.6" ry="0.9" transform="rotate(156 319.3 605.3)" fill="#6a5a20" fill-opacity="0.5"/><ellipse cx="294.6" cy="564" rx="1.2" ry="0.8" transform="rotate(63 294.6 564)" fill="#7a5a28" fill-opacity="0.7"/><ellipse cx="346.4" cy="577.1" rx="1.6" ry="0.9" transform="rotate(76 346.4 577.1)" fill="#8a5020" fill-opacity="0.4"/><ellipse cx="341.3" cy="590.3" rx="0.6" ry="0.5" transform="rotate(91 341.3 590.3)" fill="#9a6030" fill-opacity="0.7"/><ellipse cx="312.2" cy="566.4" rx="1.4" ry="0.9" transform="rotate(20 312.2 566.4)" fill="#9a6030" fill-opacity="0.5"/><ellipse cx="333.5" cy="598.8" rx="0.5" ry="0.5" transform="rotate(121 333.5 598.8)" fill="#8a5020" fill-opacity="0.5"/><ellipse cx="298" cy="615.9" rx="1.1" ry="0.9" transform="rotate(105 298 615.9)" fill="#9a6030" fill-opacity="0.4"/><ellipse cx="325.5" cy="590.8" rx="1" ry="0.9" transform="rotate(82 325.5 590.8)" fill="#8a5020" fill-opacity="0.5"/><ellipse cx="306.2" cy="583.4" rx="1.1" ry="0.6" transform="rotate(20 306.2 583.4)" fill="#6a5a20" fill-opacity="0.5"/><ellipse cx="346.7" cy="570.6" rx="1" ry="0.8" transform="rotate(6 346.7 570.6)" fill="#9a6030" fill-opacity="0.5"/><ellipse cx="340.7" cy="588.1" rx="1" ry="1" transform="rotate(68 340.7 588.1)" fill="#8a5020" fill-opacity="0.6"/><ellipse cx="296.1" cy="596.9" rx="1.2" ry="0.7" transform="rotate(28 296.1 596.9)" fill="#7a5a28" fill-opacity="0.7"/><ellipse cx="339.4" cy="607.9" rx="1.6" ry="1" transform="rotate(55 339.4 607.9)" fill="#8a5020" fill-opacity="0.6"/><ellipse cx="288.1" cy="619.6" rx="0.5" ry="0.5" transform="rotate(73 288.1 619.6)" fill="#6a5a20" fill-opacity="0.5"/><ellipse cx="335.2" cy="590.8" rx="1.1" ry="1" transform="rotate(91 335.2 590.8)" fill="#6a5a20" fill-opacity="0.4"/><ellipse cx="304.6" cy="592.6" rx="0.7" ry="0.5" transform="rotate(152 304.6 592.6)" fill="#9a6030" fill-opacity="0.5"/><ellipse cx="289.4" cy="623.3" rx="0.7" ry="0.6" transform="rotate(118 289.4 623.3)" fill="#9a6030" fill-opacity="0.4"/><ellipse cx="333.1" cy="561" rx="0.5" ry="0.5" transform="rotate(161 333.1 561)" fill="#8a5020" fill-opacity="0.5"/><ellipse cx="295.1" cy="601.6" rx="1.1" ry="0.8" transform="rotate(73 295.1 601.6)" fill="#8a5020" fill-opacity="0.5"/><ellipse cx="335.4" cy="564.8" rx="1.6" ry="1" transform="rotate(10 335.4 564.8)" fill="#6a5a20" fill-opacity="0.5"/><ellipse cx="354.4" cy="603.1" rx="1.1" ry="0.8" transform="rotate(85 354.4 603.1)" fill="#8a5020" fill-opacity="0.6"/><rect x="283.1" y="552.6" width="74.2" height="74" fill="url(#vig)"/></g>
<filter id="t30" x="0" y="0" width="1" height="1" filterUnits="objectBoundingBox" color-interpolation-filters="sRGB"><feTurbulence type="fractalNoise" baseFrequency="0.16 0.16" numOctaves="3" seed="23"/><feColorMatrix type="matrix" values="0.14 0 0 0 0.08  0.45 0 0 0 0.14  0.1 0 0 0 0.07  0 0 0 0 1"/></filter>
<rect x="360.3" y="552.6" width="74.2" height="74" filter="url(#t30)"/>
<g clip-path="url(#c30)"><ellipse cx="365.3" cy="565.5" rx="0.8" ry="0.5" transform="rotate(90 365.3 565.5)" fill="#8a5020" fill-opacity="0.6"/><ellipse cx="424.8" cy="574.1" rx="1.1" ry="0.7" transform="rotate(131 424.8 574.1)" fill="#7a5a28" fill-opacity="0.4"/><ellipse cx="383.2" cy="602.8" rx="1.1" ry="0.7" transform="rotate(140 383.2 602.8)" fill="#8a5020" fill-opacity="0.6"/><ellipse cx="415.4" cy="576.3" rx="0.8" ry="0.5" transform="rotate(88 415.4 576.3)" fill="#8a5020" fill-opacity="0.6"/><ellipse cx="408.7" cy="560.5" rx="0.8" ry="0.8" transform="rotate(168 408.7 560.5)" fill="#8a5020" fill-opacity="0.5"/><ellipse cx="423.1" cy="565.7" rx="1.3" ry="0.9" transform="rotate(2 423.1 565.7)" fill="#8a5020" fill-opacity="0.5"/><ellipse cx="421.9" cy="603.5" rx="1.2" ry="0.7" transform="rotate(36 421.9 603.5)" fill="#9a6030" fill-opacity="0.6"/><ellipse cx="370.1" cy="580.2" rx="1" ry="0.9" transform="rotate(129 370.1 580.2)" fill="#7a5a28" fill-opacity="0.4"/><ellipse cx="382" cy="573.2" rx="1.6" ry="1" transform="rotate(156 382 573.2)" fill="#8a4020" fill-opacity="0.6"/><ellipse cx="432.3" cy="593.5" rx="0.4" ry="0.4" transform="rotate(51 432.3 593.5)" fill="#9a6030" fill-opacity="0.4"/><ellipse cx="428.9" cy="593.5" rx="1.3" ry="0.8" transform="rotate(25 428.9 593.5)" fill="#8a4020" fill-opacity="0.5"/><ellipse cx="420.1" cy="614" rx="1.1" ry="1" transform="rotate(48 420.1 614)" fill="#8a5020" fill-opacity="0.4"/><ellipse cx="383" cy="556" rx="0.6" ry="0.5" transform="rotate(142 383 556)" fill="#8a4020" fill-opacity="0.6"/><ellipse cx="397.5" cy="554.6" rx="1.4" ry="0.9" transform="rotate(157 397.5 554.6)" fill="#9a6030" fill-opacity="0.5"/><ellipse cx="372.2" cy="589.3" rx="1.7" ry="0.9" transform="rotate(28 372.2 589.3)" fill="#8a5020" fill-opacity="0.5"/><ellipse cx="374" cy="624.4" rx="0.9" ry="0.5" transform="rotate(117 374 624.4)" fill="#8a5020" fill-opacity="0.5"/><ellipse cx="420.6" cy="559.6" rx="0.9" ry="0.6" transform="rotate(86 420.6 559.6)" fill="#8a4020" fill-opacity="0.6"/><ellipse cx="422.8" cy="576" rx="1.5" ry="0.9" transform="rotate(54 422.8 576)" fill="#8a5020" fill-opacity="0.6"/><ellipse cx="404.9" cy="598.9" rx="0.8" ry="0.5" transform="rotate(52 404.9 598.9)" fill="#7a5a28" fill-opacity="0.6"/><ellipse cx="410.6" cy="612.9" rx="1" ry="0.7" transform="rotate(171 410.6 612.9)" fill="#8a5020" fill-opacity="0.7"/><ellipse cx="371.9" cy="565.4" rx="1.2" ry="0.9" transform="rotate(115 371.9 565.4)" fill="#8a4020" fill-opacity="0.5"/><ellipse cx="371.3" cy="566.1" rx="0.9" ry="0.7" transform="rotate(85 371.3 566.1)" fill="#8a5020" fill-opacity="0.5"/><ellipse cx="397.7" cy="614.5" rx="0.7" ry="0.4" transform="rotate(35 397.7 614.5)" fill="#7a5a28" fill-opacity="0.7"/><ellipse cx="408.2" cy="560.1" rx="1.1" ry="0.7" transform="rotate(177 408.2 560.1)" fill="#8a5020" fill-opacity="0.7"/><ellipse cx="373.1" cy="578.3" rx="0.8" ry="0.5" transform="rotate(176 373.1 578.3)" fill="#8a5020" fill-opacity="0.6"/><ellipse cx="371.7" cy="593.4" rx="0.9" ry="0.8" transform="rotate(151 371.7 593.4)" fill="#7a5a28" fill-opacity="0.5"/><ellipse cx="375.6" cy="571.5" rx="1.1" ry="0.9" transform="rotate(32 375.6 571.5)" fill="#7a5a28" fill-opacity="0.5"/><ellipse cx="394.5" cy="580.1" rx="1.4" ry="0.9" transform="rotate(20 394.5 580.1)" fill="#8a5020" fill-opacity="0.7"/><ellipse cx="368.8" cy="608.1" rx="0.9" ry="0.7" transform="rotate(4 368.8 608.1)" fill="#8a5020" fill-opacity="0.5"/><ellipse cx="363" cy="608.6" rx="1.1" ry="0.6" transform="rotate(70 363 608.6)" fill="#9a6030" fill-opacity="0.5"/><ellipse cx="406.2" cy="612.4" rx="1.3" ry="0.8" transform="rotate(105 406.2 612.4)" fill="#8a4020" fill-opacity="0.5"/><ellipse cx="421.7" cy="619.6" rx="1" ry="0.9" transform="rotate(8 421.7 619.6)" fill="#8a5020" fill-opacity="0.5"/><ellipse cx="403" cy="570.7" rx="1.2" ry="0.7" transform="rotate(14 403 570.7)" fill="#9a6030" fill-opacity="0.7"/><ellipse cx="392.3" cy="553.3" rx="0.8" ry="0.6" transform="rotate(28 392.3 553.3)" fill="#8a5020" fill-opacity="0.5"/><ellipse cx="370" cy="574.8" rx="1.3" ry="0.8" transform="rotate(36 370 574.8)" fill="#8a4020" fill-opacity="0.6"/><ellipse cx="409.1" cy="554.2" rx="0.8" ry="0.7" transform="rotate(107 409.1 554.2)" fill="#9a6030" fill-opacity="0.4"/><ellipse cx="363.9" cy="558.4" rx="0.5" ry="0.4" transform="rotate(143 363.9 558.4)" fill="#8a5020" fill-opacity="0.4"/><ellipse cx="414.6" cy="557.6" rx="1" ry="1" transform="rotate(130 414.6 557.6)" fill="#9a6030" fill-opacity="0.6"/><ellipse cx="406" cy="599.7" rx="1.4" ry="0.8" transform="rotate(21 406 599.7)" fill="#8a4020" fill-opacity="0.5"/><ellipse cx="432.1" cy="580.9" rx="0.8" ry="0.7" transform="rotate(174 432.1 580.9)" fill="#9a6030" fill-opacity="0.5"/><ellipse cx="413.1" cy="580.6" rx="1" ry="0.7" transform="rotate(150 413.1 580.6)" fill="#7a5a28" fill-opacity="0.6"/><ellipse cx="379.8" cy="621" rx="0.6" ry="0.5" transform="rotate(109 379.8 621)" fill="#9a6030" fill-opacity="0.4"/><ellipse cx="398.8" cy="584.1" rx="1.7" ry="1" transform="rotate(42 398.8 584.1)" fill="#7a5a28" fill-opacity="0.5"/><ellipse cx="362.8" cy="585.5" rx="1.2" ry="0.9" transform="rotate(105 362.8 585.5)" fill="#7a5a28" fill-opacity="0.4"/><ellipse cx="419.7" cy="582.6" rx="1.2" ry="0.7" transform="rotate(145 419.7 582.6)" fill="#9a6030" fill-opacity="0.4"/><ellipse cx="395.4" cy="553.8" rx="0.6" ry="0.5" transform="rotate(14 395.4 553.8)" fill="#7a5a28" fill-opacity="0.6"/><ellipse cx="405.1" cy="557.8" rx="1" ry="0.6" transform="rotate(79 405.1 557.8)" fill="#8a5020" fill-opacity="0.5"/><ellipse cx="431.9" cy="594.3" rx="1.4" ry="1" transform="rotate(118 431.9 594.3)" fill="#9a6030" fill-opacity="0.6"/><ellipse cx="424.4" cy="560" rx="0.7" ry="0.4" transform="rotate(105 424.4 560)" fill="#9a6030" fill-opacity="0.6"/><ellipse cx="381.8" cy="595.1" rx="0.6" ry="0.4" transform="rotate(58 381.8 595.1)" fill="#9a6030" fill-opacity="0.6"/><ellipse cx="398.1" cy="559.6" rx="0.9" ry="0.7" transform="rotate(66 398.1 559.6)" fill="#9a6030" fill-opacity="0.6"/><ellipse cx="397.7" cy="605.8" rx="0.8" ry="0.6" transform="rotate(160 397.7 605.8)" fill="#9a6030" fill-opacity="0.6"/><ellipse cx="404.7" cy="570.4" rx="0.9" ry="0.7" transform="rotate(170 404.7 570.4)" fill="#8a5020" fill-opacity="0.4"/><ellipse cx="400.9" cy="562.1" rx="0.9" ry="0.9" transform="rotate(46 400.9 562.1)" fill="#8a5020" fill-opacity="0.5"/><ellipse cx="411.5" cy="621.4" rx="0.7" ry="0.6" transform="rotate(117 411.5 621.4)" fill="#9a6030" fill-opacity="0.6"/><ellipse cx="368.1" cy="587.8" rx="1.2" ry="0.8" transform="rotate(7 368.1 587.8)" fill="#8a5020" fill-opacity="0.7"/><ellipse cx="389.4" cy="603.3" rx="0.8" ry="0.5" transform="rotate(101 389.4 603.3)" fill="#9a6030" fill-opacity="0.5"/><ellipse cx="402.6" cy="590.7" rx="0.9" ry="0.5" transform="rotate(173 402.6 590.7)" fill="#9a6030" fill-opacity="0.7"/><ellipse cx="394.8" cy="614.7" rx="0.9" ry="0.5" transform="rotate(128 394.8 614.7)" fill="#8a5020" fill-opacity="0.7"/><ellipse cx="425.5" cy="572.4" rx="1.2" ry="0.9" transform="rotate(56 425.5 572.4)" fill="#9a6030" fill-opacity="0.7"/><rect x="360.3" y="552.6" width="74.2" height="74" fill="url(#vig)" opacity="0.7"/></g>
<g clip-path="url(#c01)"><g filter="url(#soft)"><rect x="128.7" y="630.1" width="74.2" height="74" fill="#0a0612"/><ellipse cx="194.8" cy="643.7" rx="1.2" ry="1" transform="rotate(15 194.8 643.7)" fill="#181030" fill-opacity="0.4"/><ellipse cx="192.9" cy="668.9" rx="1" ry="0.7" transform="rotate(176 192.9 668.9)" fill="#1c1438" fill-opacity="0.6"/><ellipse cx="150.1" cy="636.2" rx="1.3" ry="0.8" transform="rotate(170 150.1 636.2)" fill="#181030" fill-opacity="0.4"/><ellipse cx="129.6" cy="693.9" rx="0.9" ry="0.9" transform="rotate(172 129.6 693.9)" fill="#181030" fill-opacity="0.4"/><ellipse cx="146.5" cy="674" rx="1.3" ry="1" transform="rotate(120 146.5 674)" fill="#181030" fill-opacity="0.4"/><ellipse cx="150" cy="701.9" rx="1.6" ry="0.9" transform="rotate(159 150 701.9)" fill="#181030" fill-opacity="0.5"/><ellipse cx="172.5" cy="676.6" rx="1.8" ry="1.1" transform="rotate(87 172.5 676.6)" fill="#181030" fill-opacity="0.5"/><ellipse cx="140.2" cy="670" rx="1.1" ry="0.8" transform="rotate(34 140.2 670)" fill="#1c1438" fill-opacity="0.5"/><ellipse cx="197.1" cy="690.2" rx="1.3" ry="1.1" transform="rotate(167 197.1 690.2)" fill="#1c1438" fill-opacity="0.5"/><ellipse cx="131.5" cy="648.9" rx="2.1" ry="1.2" transform="rotate(46 131.5 648.9)" fill="#1c1438" fill-opacity="0.6"/><ellipse cx="186.4" cy="663.1" rx="1.6" ry="1" transform="rotate(57 186.4 663.1)" fill="#181030" fill-opacity="0.5"/><ellipse cx="141.7" cy="638.5" rx="1.8" ry="1.2" transform="rotate(127 141.7 638.5)" fill="#181030" fill-opacity="0.3"/><ellipse cx="165.3" cy="654.8" rx="2.4" ry="1.4" transform="rotate(80 165.3 654.8)" fill="#181030" fill-opacity="0.5"/><ellipse cx="141.6" cy="702" rx="0.8" ry="0.7" transform="rotate(81 141.6 702)" fill="#181030" fill-opacity="0.6"/><ellipse cx="183.8" cy="667.4" rx="0.8" ry="0.7" transform="rotate(24 183.8 667.4)" fill="#181030" fill-opacity="0.5"/></g></g>
<g clip-path="url(#c11)"><g filter="url(#soft)"><rect x="206" y="630.1" width="74.2" height="74" fill="#170a2c"/><ellipse cx="222.1" cy="651.5" rx="2" ry="0.8" transform="rotate(-166 222.1 651.5)" fill="#0c0418" fill-opacity="0.5"/><ellipse cx="206" cy="690.1" rx="1.9" ry="0.7" transform="rotate(152 206 690.1)" fill="#48208a" fill-opacity="0.5"/><ellipse cx="207.4" cy="660.9" rx="2.5" ry="1" transform="rotate(185 207.4 660.9)" fill="#4a2498" fill-opacity="0.5"/><ellipse cx="233.4" cy="652.3" rx="2.7" ry="1" transform="rotate(-169 233.4 652.3)" fill="#48208a" fill-opacity="0.6"/><ellipse cx="245.3" cy="635.4" rx="1.4" ry="1" transform="rotate(-89 245.3 635.4)" fill="#381870" fill-opacity="0.8"/><ellipse cx="251" cy="636.4" rx="2.2" ry="1.1" transform="rotate(-57 251 636.4)" fill="#4a2498" fill-opacity="0.6"/><ellipse cx="251.6" cy="660.8" rx="2.2" ry="1" transform="rotate(26 251.6 660.8)" fill="#381870" fill-opacity="0.8"/><ellipse cx="222.9" cy="673.3" rx="1.8" ry="0.8" transform="rotate(148 222.9 673.3)" fill="#0c0418" fill-opacity="0.5"/><ellipse cx="227.6" cy="645.9" rx="2.5" ry="0.8" transform="rotate(-140 227.6 645.9)" fill="#4a2498" fill-opacity="0.8"/><ellipse cx="205.3" cy="663.9" rx="2.1" ry="1" transform="rotate(181 205.3 663.9)" fill="#0c0418" fill-opacity="0.7"/><ellipse cx="227.4" cy="699.3" rx="1.3" ry="0.8" transform="rotate(116 227.4 699.3)" fill="#5428a0" fill-opacity="0.6"/><ellipse cx="273.3" cy="631.9" rx="2.5" ry="0.6" transform="rotate(-34 273.3 631.9)" fill="#4a2498" fill-opacity="0.6"/><ellipse cx="261.8" cy="694.1" rx="2.4" ry="1" transform="rotate(81 261.8 694.1)" fill="#4a2498" fill-opacity="0.6"/><ellipse cx="250.1" cy="703.5" rx="2.4" ry="1.2" transform="rotate(76 250.1 703.5)" fill="#0c0418" fill-opacity="0.8"/><ellipse cx="279.3" cy="639.4" rx="1.9" ry="1.1" transform="rotate(-10 279.3 639.4)" fill="#5e30aa" fill-opacity="0.8"/><ellipse cx="204.5" cy="648.8" rx="2" ry="1.2" transform="rotate(-181 204.5 648.8)" fill="#4a2498" fill-opacity="0.5"/><ellipse cx="270" cy="681.6" rx="2.4" ry="0.8" transform="rotate(33 270 681.6)" fill="#381870" fill-opacity="0.5"/><ellipse cx="227.3" cy="683.2" rx="2.1" ry="0.7" transform="rotate(131 227.3 683.2)" fill="#0c0418" fill-opacity="0.8"/><ellipse cx="242.1" cy="694.1" rx="1.4" ry="1.1" transform="rotate(83 242.1 694.1)" fill="#5e30aa" fill-opacity="0.5"/><ellipse cx="203.1" cy="696.5" rx="2.5" ry="0.7" transform="rotate(143 203.1 696.5)" fill="#4a2498" fill-opacity="0.6"/><ellipse cx="244.8" cy="691.7" rx="2.8" ry="1.2" transform="rotate(79 244.8 691.7)" fill="#5428a0" fill-opacity="0.6"/><ellipse cx="257.8" cy="681.8" rx="2.6" ry="0.9" transform="rotate(57 257.8 681.8)" fill="#5e30aa" fill-opacity="0.7"/><ellipse cx="217.7" cy="676.3" rx="1.8" ry="0.7" transform="rotate(148 217.7 676.3)" fill="#48208a" fill-opacity="0.7"/><ellipse cx="212.8" cy="689.4" rx="2.4" ry="0.8" transform="rotate(121 212.8 689.4)" fill="#5e30aa" fill-opacity="0.8"/><ellipse cx="257.4" cy="691.6" rx="2.1" ry="0.9" transform="rotate(59 257.4 691.6)" fill="#381870" fill-opacity="0.8"/><ellipse cx="216" cy="633" rx="2.4" ry="0.7" transform="rotate(-137 216 633)" fill="#48208a" fill-opacity="0.5"/><ellipse cx="239.4" cy="631.3" rx="2.7" ry="1" transform="rotate(-114 239.4 631.3)" fill="#381870" fill-opacity="0.6"/><ellipse cx="222.4" cy="690.2" rx="2.3" ry="1.1" transform="rotate(123 222.4 690.2)" fill="#080312" fill-opacity="0.8"/><ellipse cx="273.3" cy="632.5" rx="1.9" ry="0.8" transform="rotate(-50 273.3 632.5)" fill="#381870" fill-opacity="0.6"/><ellipse cx="225.6" cy="696.2" rx="2.2" ry="0.9" transform="rotate(111 225.6 696.2)" fill="#48208a" fill-opacity="0.8"/><ellipse cx="239.1" cy="672.4" rx="2.6" ry="0.8" transform="rotate(101 239.1 672.4)" fill="#48208a" fill-opacity="0.5"/><ellipse cx="259.2" cy="678.4" rx="2" ry="0.7" transform="rotate(43 259.2 678.4)" fill="#381870" fill-opacity="0.8"/><ellipse cx="280.3" cy="654.5" rx="2.2" ry="0.9" transform="rotate(5 280.3 654.5)" fill="#48208a" fill-opacity="0.8"/><ellipse cx="255.9" cy="651.7" rx="2" ry="0.8" transform="rotate(-18 255.9 651.7)" fill="#381870" fill-opacity="0.6"/><ellipse cx="272.9" cy="689.1" rx="2.1" ry="1" transform="rotate(54 272.9 689.1)" fill="#5428a0" fill-opacity="0.8"/><ellipse cx="254.3" cy="696.9" rx="1.9" ry="1.2" transform="rotate(63 254.3 696.9)" fill="#4a2498" fill-opacity="0.7"/><ellipse cx="242.9" cy="697.2" rx="2.6" ry="0.9" transform="rotate(78 242.9 697.2)" fill="#381870" fill-opacity="0.7"/><ellipse cx="259" cy="681.7" rx="1.3" ry="1" transform="rotate(77 259 681.7)" fill="#5e30aa" fill-opacity="0.6"/><ellipse cx="236.3" cy="673.2" rx="2.6" ry="1.2" transform="rotate(119 236.3 673.2)" fill="#5e30aa" fill-opacity="0.6"/><ellipse cx="221.1" cy="651.8" rx="1.4" ry="1" transform="rotate(-164 221.1 651.8)" fill="#381870" fill-opacity="0.7"/><ellipse cx="248.7" cy="677.7" rx="1.6" ry="1" transform="rotate(80 248.7 677.7)" fill="#381870" fill-opacity="0.6"/><ellipse cx="233.9" cy="707.1" rx="2.4" ry="0.6" transform="rotate(102 233.9 707.1)" fill="#0c0418" fill-opacity="0.5"/><ellipse cx="207.3" cy="639.8" rx="1.8" ry="1.1" transform="rotate(-146 207.3 639.8)" fill="#5428a0" fill-opacity="0.6"/><ellipse cx="227" cy="699.1" rx="1.9" ry="0.6" transform="rotate(119 227 699.1)" fill="#5428a0" fill-opacity="0.7"/><ellipse cx="258.3" cy="657.5" rx="2.7" ry="1.1" transform="rotate(4 258.3 657.5)" fill="#48208a" fill-opacity="0.5"/><ellipse cx="229" cy="661.3" rx="1.4" ry="0.6" transform="rotate(153 229 661.3)" fill="#4a2498" fill-opacity="0.7"/><ellipse cx="253.2" cy="649.4" rx="1.9" ry="0.7" transform="rotate(-44 253.2 649.4)" fill="#5428a0" fill-opacity="0.5"/><ellipse cx="264.2" cy="702.8" rx="2.6" ry="1.1" transform="rotate(57 264.2 702.8)" fill="#080312" fill-opacity="0.7"/><ellipse cx="234.5" cy="672" rx="1.5" ry="1.2" transform="rotate(126 234.5 672)" fill="#0c0418" fill-opacity="0.5"/><ellipse cx="267.9" cy="671.5" rx="1.8" ry="1" transform="rotate(30 267.9 671.5)" fill="#48208a" fill-opacity="0.6"/><ellipse cx="272.7" cy="689.7" rx="2.4" ry="0.8" transform="rotate(43 272.7 689.7)" fill="#080312" fill-opacity="0.5"/><ellipse cx="219.7" cy="677.8" rx="2.1" ry="0.9" transform="rotate(133 219.7 677.8)" fill="#080312" fill-opacity="0.8"/><ellipse cx="233.4" cy="706" rx="1.2" ry="1.1" transform="rotate(88 233.4 706)" fill="#0c0418" fill-opacity="0.7"/><ellipse cx="253.6" cy="678.9" rx="2" ry="0.9" transform="rotate(74 253.6 678.9)" fill="#0c0418" fill-opacity="0.8"/><ellipse cx="242.2" cy="630" rx="2.4" ry="0.7" transform="rotate(-97 242.2 630)" fill="#48208a" fill-opacity="0.7"/><ellipse cx="226.4" cy="682.2" rx="1.4" ry="1.1" transform="rotate(133 226.4 682.2)" fill="#0c0418" fill-opacity="0.7"/><ellipse cx="219.5" cy="669.9" rx="2.2" ry="1" transform="rotate(140 219.5 669.9)" fill="#5e30aa" fill-opacity="0.6"/><ellipse cx="204.8" cy="650.8" rx="2.7" ry="0.7" transform="rotate(-184 204.8 650.8)" fill="#381870" fill-opacity="0.7"/><ellipse cx="212.4" cy="687.2" rx="1.4" ry="0.7" transform="rotate(128 212.4 687.2)" fill="#0c0418" fill-opacity="0.6"/><ellipse cx="254.5" cy="663.5" rx="2.6" ry="1.1" transform="rotate(46 254.5 663.5)" fill="#0c0418" fill-opacity="0.6"/><ellipse cx="255.8" cy="704.8" rx="2.4" ry="0.7" transform="rotate(69 255.8 704.8)" fill="#4a2498" fill-opacity="0.5"/><ellipse cx="237.5" cy="699" rx="1.2" ry="1.1" transform="rotate(93 237.5 699)" fill="#48208a" fill-opacity="0.7"/><ellipse cx="279.5" cy="638.1" rx="1.8" ry="1" transform="rotate(-30 279.5 638.1)" fill="#0c0418" fill-opacity="0.5"/><ellipse cx="223.1" cy="673.4" rx="1.9" ry="0.8" transform="rotate(141 223.1 673.4)" fill="#4a2498" fill-opacity="0.8"/><ellipse cx="206.4" cy="660.8" rx="2.2" ry="0.8" transform="rotate(162 206.4 660.8)" fill="#381870" fill-opacity="0.6"/><ellipse cx="213.8" cy="697.9" rx="2.2" ry="0.7" transform="rotate(138 213.8 697.9)" fill="#5428a0" fill-opacity="0.5"/><ellipse cx="259.2" cy="646.2" rx="2.1" ry="1.1" transform="rotate(-36 259.2 646.2)" fill="#381870" fill-opacity="0.6"/><ellipse cx="207.6" cy="680.3" rx="1.6" ry="0.9" transform="rotate(145 207.6 680.3)" fill="#48208a" fill-opacity="0.7"/><ellipse cx="206.3" cy="649" rx="1.4" ry="0.7" transform="rotate(-170 206.3 649)" fill="#5428a0" fill-opacity="0.8"/><ellipse cx="253.6" cy="668.5" rx="1.4" ry="0.8" transform="rotate(51 253.6 668.5)" fill="#0c0418" fill-opacity="0.8"/><ellipse cx="240.7" cy="701.7" rx="1.7" ry="0.8" transform="rotate(108 240.7 701.7)" fill="#5e30aa" fill-opacity="0.5"/><ellipse cx="242.4" cy="666.2" rx="1.5" ry="0.9" transform="rotate(117 242.4 666.2)" fill="#080312" fill-opacity="0.8"/><ellipse cx="265.1" cy="687" rx="2.2" ry="0.7" transform="rotate(71 265.1 687)" fill="#48208a" fill-opacity="0.5"/><ellipse cx="247.8" cy="678.5" rx="1.8" ry="0.6" transform="rotate(71 247.8 678.5)" fill="#0c0418" fill-opacity="0.5"/><ellipse cx="277.9" cy="657.9" rx="2.5" ry="0.9" transform="rotate(14 277.9 657.9)" fill="#5e30aa" fill-opacity="0.8"/><ellipse cx="269.6" cy="642.1" rx="1.5" ry="0.7" transform="rotate(-32 269.6 642.1)" fill="#0c0418" fill-opacity="0.6"/><ellipse cx="281.1" cy="702.8" rx="2.7" ry="0.6" transform="rotate(58 281.1 702.8)" fill="#080312" fill-opacity="0.5"/><ellipse cx="213.1" cy="669.2" rx="2" ry="1.2" transform="rotate(160 213.1 669.2)" fill="#5e30aa" fill-opacity="0.6"/><ellipse cx="205.3" cy="701" rx="1.6" ry="0.6" transform="rotate(119 205.3 701)" fill="#5428a0" fill-opacity="0.7"/><ellipse cx="219.8" cy="638.8" rx="2.6" ry="1" transform="rotate(-144 219.8 638.8)" fill="#5428a0" fill-opacity="0.6"/><ellipse cx="232" cy="698.9" rx="1.9" ry="1" transform="rotate(106 232 698.9)" fill="#48208a" fill-opacity="0.6"/><ellipse cx="249.9" cy="695" rx="2.6" ry="0.8" transform="rotate(72 249.9 695)" fill="#4a2498" fill-opacity="0.6"/><ellipse cx="214.6" cy="668.1" rx="2.5" ry="0.7" transform="rotate(168 214.6 668.1)" fill="#381870" fill-opacity="0.6"/><ellipse cx="209.8" cy="636.3" rx="2.7" ry="0.8" transform="rotate(-163 209.8 636.3)" fill="#4a2498" fill-opacity="0.7"/><ellipse cx="244.1" cy="706.2" rx="1.5" ry="0.6" transform="rotate(85 244.1 706.2)" fill="#5e30aa" fill-opacity="0.5"/><ellipse cx="206.8" cy="641.6" rx="1.3" ry="0.9" transform="rotate(-149 206.8 641.6)" fill="#080312" fill-opacity="0.7"/><ellipse cx="261.5" cy="687.8" rx="1.7" ry="1" transform="rotate(54 261.5 687.8)" fill="#0c0418" fill-opacity="0.7"/><ellipse cx="240.2" cy="664.7" rx="1.3" ry="0.9" transform="rotate(107 240.2 664.7)" fill="#5e30aa" fill-opacity="0.8"/><ellipse cx="212.5" cy="643.9" rx="1.4" ry="1" transform="rotate(-153 212.5 643.9)" fill="#080312" fill-opacity="0.7"/><ellipse cx="278.7" cy="673.4" rx="1.4" ry="1" transform="rotate(14 278.7 673.4)" fill="#5e30aa" fill-opacity="0.7"/><ellipse cx="242.6" cy="687.6" rx="2.1" ry="0.7" transform="rotate(91 242.6 687.6)" fill="#381870" fill-opacity="0.5"/><ellipse cx="222.3" cy="668.6" rx="2" ry="0.7" transform="rotate(142 222.3 668.6)" fill="#5e30aa" fill-opacity="0.8"/><ellipse cx="210.2" cy="628.5" rx="2.4" ry="0.8" transform="rotate(-144 210.2 628.5)" fill="#0c0418" fill-opacity="0.5"/><ellipse cx="206" cy="672.3" rx="1.4" ry="0.6" transform="rotate(162 206 672.3)" fill="#4a2498" fill-opacity="0.6"/><ellipse cx="229" cy="631.8" rx="2.6" ry="1.1" transform="rotate(-132 229 631.8)" fill="#5e30aa" fill-opacity="0.8"/><ellipse cx="273.2" cy="699.4" rx="1.9" ry="0.7" transform="rotate(48 273.2 699.4)" fill="#4a2498" fill-opacity="0.8"/><ellipse cx="271.8" cy="636.2" rx="2.1" ry="1.2" transform="rotate(-28 271.8 636.2)" fill="#381870" fill-opacity="0.8"/><ellipse cx="280.6" cy="661.1" rx="1.5" ry="1" transform="rotate(7 280.6 661.1)" fill="#0c0418" fill-opacity="0.6"/><ellipse cx="274.5" cy="701.7" rx="2.2" ry="0.7" transform="rotate(60 274.5 701.7)" fill="#381870" fill-opacity="0.6"/><ellipse cx="243.4" cy="684.5" rx="2.8" ry="1" transform="rotate(91 243.4 684.5)" fill="#5428a0" fill-opacity="0.7"/><ellipse cx="229" cy="662.3" rx="2.5" ry="0.7" transform="rotate(162 229 662.3)" fill="#5e30aa" fill-opacity="0.8"/><ellipse cx="261.3" cy="632.3" rx="2.6" ry="0.6" transform="rotate(-61 261.3 632.3)" fill="#0c0418" fill-opacity="0.5"/><ellipse cx="243.1" cy="694.5" rx="1.9" ry="0.8" transform="rotate(83 243.1 694.5)" fill="#4a2498" fill-opacity="0.6"/><ellipse cx="252.6" cy="699.2" rx="2" ry="0.8" transform="rotate(82 252.6 699.2)" fill="#5e30aa" fill-opacity="0.6"/><ellipse cx="261.2" cy="650.6" rx="2.3" ry="0.7" transform="rotate(-12 261.2 650.6)" fill="#0c0418" fill-opacity="0.5"/><ellipse cx="213.6" cy="644.2" rx="1.7" ry="0.8" transform="rotate(-153 213.6 644.2)" fill="#381870" fill-opacity="0.8"/><ellipse cx="281.7" cy="639.5" rx="1.8" ry="0.6" transform="rotate(-13 281.7 639.5)" fill="#080312" fill-opacity="0.6"/><ellipse cx="281.4" cy="669.1" rx="2.3" ry="0.8" transform="rotate(14 281.4 669.1)" fill="#5428a0" fill-opacity="0.5"/><ellipse cx="276.3" cy="707" rx="2.5" ry="0.9" transform="rotate(61 276.3 707)" fill="#5428a0" fill-opacity="0.5"/><ellipse cx="230" cy="681.6" rx="2.1" ry="0.6" transform="rotate(125 230 681.6)" fill="#381870" fill-opacity="0.5"/><ellipse cx="280.1" cy="634.4" rx="1.4" ry="0.8" transform="rotate(-30 280.1 634.4)" fill="#0c0418" fill-opacity="0.5"/><ellipse cx="226.4" cy="649.5" rx="1.8" ry="1.1" transform="rotate(-154 226.4 649.5)" fill="#080312" fill-opacity="0.7"/><ellipse cx="248.4" cy="679.8" rx="2.1" ry="0.6" transform="rotate(84 248.4 679.8)" fill="#4a2498" fill-opacity="0.7"/><ellipse cx="268.9" cy="674" rx="1.9" ry="0.7" transform="rotate(52 268.9 674)" fill="#4a2498" fill-opacity="0.8"/><ellipse cx="239.4" cy="695" rx="1.7" ry="1.2" transform="rotate(105 239.4 695)" fill="#381870" fill-opacity="0.7"/><ellipse cx="231.6" cy="698.2" rx="1.7" ry="0.7" transform="rotate(98 231.6 698.2)" fill="#4a2498" fill-opacity="0.8"/><ellipse cx="251.5" cy="684" rx="1.7" ry="0.8" transform="rotate(80 251.5 684)" fill="#5428a0" fill-opacity="0.8"/><ellipse cx="206.5" cy="676.1" rx="1.8" ry="0.7" transform="rotate(149 206.5 676.1)" fill="#5e30aa" fill-opacity="0.5"/><ellipse cx="216.2" cy="677.5" rx="2.3" ry="0.9" transform="rotate(132 216.2 677.5)" fill="#4a2498" fill-opacity="0.8"/><ellipse cx="247.3" cy="629.6" rx="1.8" ry="0.9" transform="rotate(-95 247.3 629.6)" fill="#080312" fill-opacity="0.6"/><ellipse cx="249.5" cy="640.3" rx="1.8" ry="0.7" transform="rotate(-68 249.5 640.3)" fill="#4a2498" fill-opacity="0.5"/><ellipse cx="251.3" cy="689.7" rx="1.4" ry="0.8" transform="rotate(90 251.3 689.7)" fill="#080312" fill-opacity="0.8"/><ellipse cx="243.6" cy="639.7" rx="2.6" ry="1" transform="rotate(-93 243.6 639.7)" fill="#5e30aa" fill-opacity="0.6"/><ellipse cx="213.7" cy="640.3" rx="1.8" ry="0.7" transform="rotate(-158 213.7 640.3)" fill="#0c0418" fill-opacity="0.6"/><ellipse cx="222.3" cy="656.7" rx="2.5" ry="0.9" transform="rotate(179 222.3 656.7)" fill="#381870" fill-opacity="0.8"/><ellipse cx="276.8" cy="688.3" rx="2.1" ry="1.1" transform="rotate(48 276.8 688.3)" fill="#48208a" fill-opacity="0.7"/><ellipse cx="251.9" cy="639.3" rx="1.7" ry="1.1" transform="rotate(-80 251.9 639.3)" fill="#48208a" fill-opacity="0.5"/><ellipse cx="259.6" cy="690.7" rx="2.5" ry="1.1" transform="rotate(62 259.6 690.7)" fill="#5428a0" fill-opacity="0.7"/><ellipse cx="224.9" cy="637.1" rx="1.8" ry="1" transform="rotate(-125 224.9 637.1)" fill="#381870" fill-opacity="0.6"/><ellipse cx="268.1" cy="654.3" rx="1.7" ry="0.9" transform="rotate(5 268.1 654.3)" fill="#48208a" fill-opacity="0.6"/><ellipse cx="258.6" cy="659.4" rx="2.6" ry="1.1" transform="rotate(19 258.6 659.4)" fill="#5e30aa" fill-opacity="0.6"/><ellipse cx="214.1" cy="632.7" rx="2.6" ry="1" transform="rotate(-138 214.1 632.7)" fill="#080312" fill-opacity="0.8"/><ellipse cx="206.1" cy="691.9" rx="2" ry="0.9" transform="rotate(137 206.1 691.9)" fill="#381870" fill-opacity="0.8"/><ellipse cx="246.2" cy="637.8" rx="1.6" ry="1" transform="rotate(-72 246.2 637.8)" fill="#381870" fill-opacity="0.7"/><ellipse cx="267.7" cy="682.5" rx="2.7" ry="0.6" transform="rotate(35 267.7 682.5)" fill="#5428a0" fill-opacity="0.8"/><ellipse cx="277.5" cy="657.3" rx="2.6" ry="0.7" transform="rotate(14 277.5 657.3)" fill="#4a2498" fill-opacity="0.8"/><ellipse cx="262.9" cy="658.9" rx="2" ry="0.8" transform="rotate(25 262.9 658.9)" fill="#4a2498" fill-opacity="0.5"/><ellipse cx="228.3" cy="671.8" rx="2.5" ry="1.2" transform="rotate(120 228.3 671.8)" fill="#381870" fill-opacity="0.8"/><ellipse cx="257.9" cy="663.2" rx="2.1" ry="1.1" transform="rotate(32 257.9 663.2)" fill="#080312" fill-opacity="0.5"/><ellipse cx="275" cy="684.2" rx="2" ry="1.1" transform="rotate(33 275 684.2)" fill="#5e30aa" fill-opacity="0.6"/><ellipse cx="269.4" cy="658.9" rx="2.1" ry="0.6" transform="rotate(8 269.4 658.9)" fill="#48208a" fill-opacity="0.6"/><ellipse cx="210.1" cy="659.1" rx="1.6" ry="1" transform="rotate(177 210.1 659.1)" fill="#381870" fill-opacity="0.8"/><ellipse cx="270.2" cy="671.8" rx="1.9" ry="0.8" transform="rotate(36 270.2 671.8)" fill="#5e30aa" fill-opacity="0.6"/><ellipse cx="271" cy="706" rx="1.5" ry="0.9" transform="rotate(60 271 706)" fill="#0c0418" fill-opacity="0.6"/><ellipse cx="213.1" cy="660.9" rx="2.8" ry="1.1" transform="rotate(183 213.1 660.9)" fill="#5428a0" fill-opacity="0.5"/><ellipse cx="230.4" cy="659.2" rx="1.7" ry="0.6" transform="rotate(161 230.4 659.2)" fill="#080312" fill-opacity="0.8"/><ellipse cx="234.2" cy="685.3" rx="2.4" ry="0.9" transform="rotate(113 234.2 685.3)" fill="#5428a0" fill-opacity="0.6"/><ellipse cx="240.2" cy="650" rx="1.3" ry="0.9" transform="rotate(-129 240.2 650)" fill="#5428a0" fill-opacity="0.7"/><ellipse cx="243.7" cy="629.3" rx="2.4" ry="1.2" transform="rotate(-81 243.7 629.3)" fill="#5428a0" fill-opacity="0.6"/><ellipse cx="262.2" cy="705.9" rx="1.4" ry="0.6" transform="rotate(66 262.2 705.9)" fill="#5e30aa" fill-opacity="0.6"/><ellipse cx="263.3" cy="702.8" rx="2.6" ry="0.8" transform="rotate(75 263.3 702.8)" fill="#4a2498" fill-opacity="0.6"/><ellipse cx="217.1" cy="704.4" rx="2.1" ry="1.1" transform="rotate(106 217.1 704.4)" fill="#0c0418" fill-opacity="0.8"/><ellipse cx="228.2" cy="644.7" rx="2" ry="0.6" transform="rotate(-156 228.2 644.7)" fill="#381870" fill-opacity="0.7"/><ellipse cx="279.7" cy="647.4" rx="1.2" ry="1.2" transform="rotate(-19 279.7 647.4)" fill="#0c0418" fill-opacity="0.7"/><ellipse cx="208.8" cy="671.6" rx="2.3" ry="0.8" transform="rotate(157 208.8 671.6)" fill="#4a2498" fill-opacity="0.8"/><ellipse cx="230.8" cy="629.1" rx="1.7" ry="0.6" transform="rotate(-132 230.8 629.1)" fill="#48208a" fill-opacity="0.5"/><ellipse cx="259.8" cy="679.3" rx="1.4" ry="1.2" transform="rotate(45 259.8 679.3)" fill="#080312" fill-opacity="0.6"/><ellipse cx="210.9" cy="703.7" rx="2.4" ry="1.1" transform="rotate(135 210.9 703.7)" fill="#381870" fill-opacity="0.8"/><ellipse cx="280.8" cy="701.2" rx="2.1" ry="0.8" transform="rotate(52 280.8 701.2)" fill="#4a2498" fill-opacity="0.7"/><ellipse cx="256.7" cy="694.5" rx="1.9" ry="0.9" transform="rotate(83 256.7 694.5)" fill="#5428a0" fill-opacity="0.5"/><ellipse cx="281.6" cy="670.5" rx="2.6" ry="0.6" transform="rotate(31 281.6 670.5)" fill="#4a2498" fill-opacity="0.6"/><ellipse cx="217.8" cy="660" rx="2.1" ry="0.9" transform="rotate(154 217.8 660)" fill="#48208a" fill-opacity="0.8"/><ellipse cx="246.7" cy="637.3" rx="1.9" ry="1" transform="rotate(-79 246.7 637.3)" fill="#080312" fill-opacity="0.5"/><ellipse cx="203.4" cy="687.4" rx="2.2" ry="0.8" transform="rotate(127 203.4 687.4)" fill="#381870" fill-opacity="0.6"/><ellipse cx="222.4" cy="635.6" rx="1.9" ry="1.2" transform="rotate(-135 222.4 635.6)" fill="#5428a0" fill-opacity="0.5"/><ellipse cx="220.9" cy="662.2" rx="2.8" ry="0.8" transform="rotate(157 220.9 662.2)" fill="#381870" fill-opacity="0.8"/><ellipse cx="266.8" cy="664.8" rx="1.5" ry="0.8" transform="rotate(22 266.8 664.8)" fill="#0c0418" fill-opacity="0.5"/><ellipse cx="253.3" cy="663.3" rx="2.7" ry="0.7" transform="rotate(52 253.3 663.3)" fill="#080312" fill-opacity="0.8"/><ellipse cx="271.4" cy="633.8" rx="2.3" ry="0.8" transform="rotate(-24 271.4 633.8)" fill="#381870" fill-opacity="0.7"/><ellipse cx="251.9" cy="661" rx="1.5" ry="0.9" transform="rotate(41 251.9 661)" fill="#0c0418" fill-opacity="0.8"/><ellipse cx="247.7" cy="653.4" rx="1.6" ry="1" transform="rotate(-25 247.7 653.4)" fill="#5428a0" fill-opacity="0.6"/><ellipse cx="268.6" cy="695.8" rx="2" ry="0.9" transform="rotate(61 268.6 695.8)" fill="#4a2498" fill-opacity="0.8"/><ellipse cx="219.3" cy="654.7" rx="2.8" ry="0.6" transform="rotate(-185 219.3 654.7)" fill="#381870" fill-opacity="0.5"/><ellipse cx="240.1" cy="704.5" rx="2.6" ry="0.9" transform="rotate(92 240.1 704.5)" fill="#0c0418" fill-opacity="0.5"/><ellipse cx="237.6" cy="629.3" rx="2" ry="1" transform="rotate(-114 237.6 629.3)" fill="#4a2498" fill-opacity="0.6"/><ellipse cx="229.1" cy="643.9" rx="2.2" ry="0.7" transform="rotate(-131 229.1 643.9)" fill="#5428a0" fill-opacity="0.8"/><ellipse cx="203.3" cy="647.1" rx="1.7" ry="1.1" transform="rotate(-169 203.3 647.1)" fill="#48208a" fill-opacity="0.7"/><ellipse cx="204.1" cy="683.7" rx="2.7" ry="0.6" transform="rotate(158 204.1 683.7)" fill="#0c0418" fill-opacity="0.8"/><ellipse cx="262.8" cy="655.6" rx="2.5" ry="0.6" transform="rotate(5 262.8 655.6)" fill="#0c0418" fill-opacity="0.7"/><ellipse cx="214.4" cy="629.9" rx="2.5" ry="1" transform="rotate(-136 214.4 629.9)" fill="#5e30aa" fill-opacity="0.7"/><ellipse cx="264.4" cy="696.2" rx="1.9" ry="0.8" transform="rotate(76 264.4 696.2)" fill="#48208a" fill-opacity="0.5"/><ellipse cx="281.4" cy="699.3" rx="2.5" ry="0.6" transform="rotate(48 281.4 699.3)" fill="#48208a" fill-opacity="0.8"/><ellipse cx="241.5" cy="694.1" rx="1.3" ry="1.1" transform="rotate(88 241.5 694.1)" fill="#381870" fill-opacity="0.5"/><ellipse cx="270.6" cy="693.4" rx="2" ry="0.7" transform="rotate(67 270.6 693.4)" fill="#48208a" fill-opacity="0.7"/><ellipse cx="251.7" cy="682.2" rx="2" ry="1" transform="rotate(90 251.7 682.2)" fill="#0c0418" fill-opacity="0.7"/><ellipse cx="282.2" cy="689.1" rx="2.7" ry="1.2" transform="rotate(29 282.2 689.1)" fill="#4a2498" fill-opacity="0.5"/><ellipse cx="217" cy="706.9" rx="1.8" ry="1.1" transform="rotate(113 217 706.9)" fill="#080312" fill-opacity="0.5"/><ellipse cx="283" cy="666.8" rx="2.3" ry="0.9" transform="rotate(25 283 666.8)" fill="#5e30aa" fill-opacity="0.8"/><ellipse cx="219.5" cy="663.1" rx="2.7" ry="0.7" transform="rotate(148 219.5 663.1)" fill="#5e30aa" fill-opacity="0.7"/><ellipse cx="249" cy="659.8" rx="2.1" ry="0.6" transform="rotate(37 249 659.8)" fill="#5e30aa" fill-opacity="0.7"/><ellipse cx="242" cy="696.2" rx="1.3" ry="1" transform="rotate(80 242 696.2)" fill="#48208a" fill-opacity="0.7"/><ellipse cx="269.2" cy="676.6" rx="1.6" ry="0.9" transform="rotate(38 269.2 676.6)" fill="#5e30aa" fill-opacity="0.6"/><ellipse cx="254.5" cy="654.3" rx="1.9" ry="1.2" transform="rotate(-6 254.5 654.3)" fill="#0c0418" fill-opacity="0.6"/><ellipse cx="271.7" cy="644.5" rx="1.6" ry="0.8" transform="rotate(-9 271.7 644.5)" fill="#080312" fill-opacity="0.7"/><ellipse cx="249.9" cy="689.9" rx="1.8" ry="0.6" transform="rotate(96 249.9 689.9)" fill="#4a2498" fill-opacity="0.7"/><ellipse cx="208.9" cy="706.5" rx="2.4" ry="1" transform="rotate(135 208.9 706.5)" fill="#5428a0" fill-opacity="0.6"/><ellipse cx="203.5" cy="647.8" rx="1.8" ry="0.7" transform="rotate(-184 203.5 647.8)" fill="#5e30aa" fill-opacity="0.7"/><ellipse cx="271.7" cy="637.9" rx="1.6" ry="0.8" transform="rotate(-43 271.7 637.9)" fill="#0c0418" fill-opacity="0.8"/><ellipse cx="262.2" cy="666.5" rx="1.2" ry="0.7" transform="rotate(45 262.2 666.5)" fill="#381870" fill-opacity="0.7"/><ellipse cx="269.8" cy="665.8" rx="1.4" ry="1.2" transform="rotate(22 269.8 665.8)" fill="#48208a" fill-opacity="0.5"/><ellipse cx="217.8" cy="670.4" rx="1.5" ry="1" transform="rotate(159 217.8 670.4)" fill="#0c0418" fill-opacity="0.5"/><ellipse cx="204.3" cy="694.1" rx="2.6" ry="1.1" transform="rotate(123 204.3 694.1)" fill="#4a2498" fill-opacity="0.5"/><ellipse cx="238.6" cy="636.4" rx="2.1" ry="1.2" transform="rotate(-95 238.6 636.4)" fill="#381870" fill-opacity="0.6"/><ellipse cx="218.8" cy="659.5" rx="1.4" ry="0.8" transform="rotate(163 218.8 659.5)" fill="#381870" fill-opacity="0.5"/><ellipse cx="266.9" cy="641.8" rx="1.4" ry="0.8" transform="rotate(-26 266.9 641.8)" fill="#080312" fill-opacity="0.5"/><ellipse cx="265.6" cy="682.8" rx="2.8" ry="0.9" transform="rotate(66 265.6 682.8)" fill="#5428a0" fill-opacity="0.5"/><ellipse cx="214.8" cy="633.3" rx="1.8" ry="1.1" transform="rotate(-139 214.8 633.3)" fill="#48208a" fill-opacity="0.8"/><ellipse cx="208.1" cy="701.4" rx="1.2" ry="1" transform="rotate(130 208.1 701.4)" fill="#0c0418" fill-opacity="0.8"/><ellipse cx="211.4" cy="656.7" rx="2.7" ry="0.9" transform="rotate(191 211.4 656.7)" fill="#5e30aa" fill-opacity="0.8"/><ellipse cx="234.7" cy="661" rx="2.1" ry="1.1" transform="rotate(164 234.7 661)" fill="#4a2498" fill-opacity="0.7"/><ellipse cx="276" cy="691.2" rx="2.7" ry="0.6" transform="rotate(43 276 691.2)" fill="#5428a0" fill-opacity="0.5"/><ellipse cx="248.6" cy="662.3" rx="1.6" ry="1.1" transform="rotate(54 248.6 662.3)" fill="#080312" fill-opacity="0.5"/><ellipse cx="266.1" cy="660.1" rx="1.6" ry="0.8" transform="rotate(27 266.1 660.1)" fill="#381870" fill-opacity="0.8"/><ellipse cx="224.2" cy="680.6" rx="2" ry="1.2" transform="rotate(127 224.2 680.6)" fill="#5e30aa" fill-opacity="0.7"/><ellipse cx="255.4" cy="640.2" rx="2.5" ry="0.8" transform="rotate(-55 255.4 640.2)" fill="#48208a" fill-opacity="0.5"/><ellipse cx="216.8" cy="662.6" rx="1.8" ry="0.9" transform="rotate(165 216.8 662.6)" fill="#381870" fill-opacity="0.7"/><ellipse cx="239.8" cy="677.2" rx="1.3" ry="0.8" transform="rotate(92 239.8 677.2)" fill="#4a2498" fill-opacity="0.6"/><ellipse cx="262.5" cy="666.6" rx="2.5" ry="0.6" transform="rotate(22 262.5 666.6)" fill="#5428a0" fill-opacity="0.8"/><ellipse cx="221" cy="653.6" rx="1.4" ry="0.9" transform="rotate(-173 221 653.6)" fill="#0c0418" fill-opacity="0.8"/><ellipse cx="254.5" cy="674.7" rx="2.5" ry="0.8" transform="rotate(50 254.5 674.7)" fill="#5428a0" fill-opacity="0.7"/><ellipse cx="249.7" cy="632.4" rx="2.4" ry="0.8" transform="rotate(-74 249.7 632.4)" fill="#5e30aa" fill-opacity="0.6"/><ellipse cx="243.5" cy="643.3" rx="2" ry="0.7" transform="rotate(-97 243.5 643.3)" fill="#5428a0" fill-opacity="0.6"/><ellipse cx="281.7" cy="636.3" rx="1.5" ry="1.1" transform="rotate(-39 281.7 636.3)" fill="#381870" fill-opacity="0.7"/><ellipse cx="258.3" cy="647.6" rx="1.3" ry="1.1" transform="rotate(-41 258.3 647.6)" fill="#381870" fill-opacity="0.8"/><ellipse cx="240.8" cy="698.4" rx="2" ry="0.8" transform="rotate(85 240.8 698.4)" fill="#381870" fill-opacity="0.5"/><ellipse cx="269.6" cy="683" rx="1.5" ry="0.9" transform="rotate(51 269.6 683)" fill="#5428a0" fill-opacity="0.6"/><ellipse cx="240.6" cy="635.7" rx="1.6" ry="1.2" transform="rotate(-96 240.6 635.7)" fill="#0c0418" fill-opacity="0.8"/><ellipse cx="225.8" cy="635.6" rx="1.7" ry="1.1" transform="rotate(-142 225.8 635.6)" fill="#080312" fill-opacity="0.5"/><ellipse cx="222.3" cy="638.1" rx="2" ry="0.9" transform="rotate(-144 222.3 638.1)" fill="#381870" fill-opacity="0.5"/><ellipse cx="219.8" cy="690.1" rx="1.8" ry="0.8" transform="rotate(138 219.8 690.1)" fill="#48208a" fill-opacity="0.8"/><ellipse cx="282" cy="632.6" rx="1.8" ry="0.9" transform="rotate(-38 282 632.6)" fill="#080312" fill-opacity="0.8"/><ellipse cx="212.1" cy="646.8" rx="2.8" ry="0.7" transform="rotate(-154 212.1 646.8)" fill="#5428a0" fill-opacity="0.5"/><ellipse cx="239.6" cy="668.5" rx="2.5" ry="0.7" transform="rotate(105 239.6 668.5)" fill="#381870" fill-opacity="0.5"/><ellipse cx="252" cy="634.7" rx="2.4" ry="0.9" transform="rotate(-58 252 634.7)" fill="#5428a0" fill-opacity="0.7"/><ellipse cx="211.4" cy="645.9" rx="1.7" ry="1" transform="rotate(-156 211.4 645.9)" fill="#0c0418" fill-opacity="0.6"/><ellipse cx="260.5" cy="629.8" rx="2" ry="0.9" transform="rotate(-70 260.5 629.8)" fill="#0c0418" fill-opacity="0.7"/><ellipse cx="270.1" cy="634.6" rx="1.7" ry="0.7" transform="rotate(-42 270.1 634.6)" fill="#5e30aa" fill-opacity="0.5"/><ellipse cx="224.1" cy="678" rx="2.7" ry="1.2" transform="rotate(143 224.1 678)" fill="#48208a" fill-opacity="0.7"/><ellipse cx="267.4" cy="693" rx="2.7" ry="0.7" transform="rotate(59 267.4 693)" fill="#5428a0" fill-opacity="0.5"/><ellipse cx="213.4" cy="675.9" rx="2.2" ry="1.1" transform="rotate(131 213.4 675.9)" fill="#48208a" fill-opacity="0.5"/><ellipse cx="217.1" cy="673" rx="1.5" ry="1.2" transform="rotate(135 217.1 673)" fill="#5e30aa" fill-opacity="0.8"/><ellipse cx="248.1" cy="675.8" rx="1.2" ry="1" transform="rotate(84 248.1 675.8)" fill="#4a2498" fill-opacity="0.7"/><ellipse cx="205.9" cy="635.2" rx="1.5" ry="0.6" transform="rotate(-145 205.9 635.2)" fill="#5e30aa" fill-opacity="0.6"/><ellipse cx="266.9" cy="670.8" rx="1.8" ry="1.2" transform="rotate(38 266.9 670.8)" fill="#5428a0" fill-opacity="0.5"/><ellipse cx="239.2" cy="631.7" rx="2.3" ry="0.9" transform="rotate(-107 239.2 631.7)" fill="#0c0418" fill-opacity="0.7"/><ellipse cx="217.5" cy="673.7" rx="1.7" ry="0.9" transform="rotate(152 217.5 673.7)" fill="#48208a" fill-opacity="0.8"/><ellipse cx="223.9" cy="669.8" rx="2" ry="1.1" transform="rotate(157 223.9 669.8)" fill="#48208a" fill-opacity="0.6"/><ellipse cx="223.5" cy="667.9" rx="2.1" ry="0.7" transform="rotate(157 223.5 667.9)" fill="#381870" fill-opacity="0.5"/><ellipse cx="229.4" cy="638" rx="1.7" ry="1" transform="rotate(-136 229.4 638)" fill="#5e30aa" fill-opacity="0.5"/><ellipse cx="253.7" cy="629.1" rx="2.6" ry="1" transform="rotate(-76 253.7 629.1)" fill="#381870" fill-opacity="0.6"/><ellipse cx="226.9" cy="657.3" rx="1.6" ry="0.7" transform="rotate(171 226.9 657.3)" fill="#4a2498" fill-opacity="0.5"/><ellipse cx="220.4" cy="647.6" rx="1.3" ry="1" transform="rotate(-160 220.4 647.6)" fill="#381870" fill-opacity="0.7"/><ellipse cx="276.7" cy="664.6" rx="2" ry="0.8" transform="rotate(15 276.7 664.6)" fill="#381870" fill-opacity="0.6"/><ellipse cx="228.8" cy="703.9" rx="1.3" ry="0.6" transform="rotate(109 228.8 703.9)" fill="#5e30aa" fill-opacity="0.8"/><ellipse cx="264.1" cy="634.1" rx="1.2" ry="1" transform="rotate(-44 264.1 634.1)" fill="#080312" fill-opacity="0.7"/><ellipse cx="206.5" cy="657.7" rx="2" ry="0.6" transform="rotate(165 206.5 657.7)" fill="#5e30aa" fill-opacity="0.5"/><ellipse cx="275.6" cy="670.7" rx="1.5" ry="1" transform="rotate(39 275.6 670.7)" fill="#4a2498" fill-opacity="0.8"/><ellipse cx="280.2" cy="705" rx="1.6" ry="1.2" transform="rotate(52 280.2 705)" fill="#080312" fill-opacity="0.5"/><ellipse cx="272.4" cy="683.5" rx="1.2" ry="0.6" transform="rotate(47 272.4 683.5)" fill="#4a2498" fill-opacity="0.7"/><ellipse cx="273.3" cy="635.5" rx="2.1" ry="0.7" transform="rotate(-39 273.3 635.5)" fill="#5428a0" fill-opacity="0.8"/><ellipse cx="260" cy="698.8" rx="2.6" ry="0.7" transform="rotate(60 260 698.8)" fill="#48208a" fill-opacity="0.5"/><ellipse cx="272.7" cy="670.5" rx="2.7" ry="0.9" transform="rotate(16 272.7 670.5)" fill="#080312" fill-opacity="0.8"/><ellipse cx="266.2" cy="693.8" rx="2.4" ry="0.7" transform="rotate(62 266.2 693.8)" fill="#5e30aa" fill-opacity="0.7"/><ellipse cx="259.9" cy="663.9" rx="1.6" ry="0.9" transform="rotate(36 259.9 663.9)" fill="#5428a0" fill-opacity="0.5"/><ellipse cx="226.8" cy="656.2" rx="1.8" ry="1.1" transform="rotate(175 226.8 656.2)" fill="#48208a" fill-opacity="0.6"/><ellipse cx="264.9" cy="651.6" rx="1.3" ry="0.9" transform="rotate(0 264.9 651.6)" fill="#4a2498" fill-opacity="0.6"/><ellipse cx="283.1" cy="703.1" rx="1.9" ry="1.1" transform="rotate(42 283.1 703.1)" fill="#0c0418" fill-opacity="0.5"/><ellipse cx="258.8" cy="637.4" rx="1.7" ry="1.1" transform="rotate(-50 258.8 637.4)" fill="#0c0418" fill-opacity="0.8"/><ellipse cx="240.3" cy="637.4" rx="2.7" ry="1" transform="rotate(-99 240.3 637.4)" fill="#381870" fill-opacity="0.5"/><ellipse cx="282.9" cy="699.7" rx="2.2" ry="0.7" transform="rotate(60 282.9 699.7)" fill="#5e30aa" fill-opacity="0.6"/><ellipse cx="212.1" cy="639.8" rx="2.8" ry="1" transform="rotate(-161 212.1 639.8)" fill="#4a2498" fill-opacity="0.7"/><ellipse cx="263.7" cy="694.3" rx="1.6" ry="0.8" transform="rotate(60 263.7 694.3)" fill="#48208a" fill-opacity="0.8"/><ellipse cx="248.8" cy="648.4" rx="1.9" ry="0.9" transform="rotate(-61 248.8 648.4)" fill="#48208a" fill-opacity="0.6"/><ellipse cx="258" cy="669.9" rx="2" ry="0.8" transform="rotate(40 258 669.9)" fill="#080312" fill-opacity="0.5"/><ellipse cx="204.8" cy="677" rx="2.3" ry="0.8" transform="rotate(154 204.8 677)" fill="#5428a0" fill-opacity="0.5"/><ellipse cx="231.8" cy="633.1" rx="2" ry="1.2" transform="rotate(-113 231.8 633.1)" fill="#5e30aa" fill-opacity="0.8"/><ellipse cx="271.6" cy="696.4" rx="2.4" ry="1" transform="rotate(49 271.6 696.4)" fill="#080312" fill-opacity="0.8"/><ellipse cx="254.8" cy="658.2" rx="1.9" ry="1" transform="rotate(18 254.8 658.2)" fill="#4a2498" fill-opacity="0.6"/><ellipse cx="246.7" cy="644" rx="2.5" ry="0.9" transform="rotate(-74 246.7 644)" fill="#0c0418" fill-opacity="0.5"/><ellipse cx="209.1" cy="699" rx="1.8" ry="0.9" transform="rotate(143 209.1 699)" fill="#5428a0" fill-opacity="0.7"/><ellipse cx="219.7" cy="652.6" rx="2" ry="0.9" transform="rotate(-185 219.7 652.6)" fill="#4a2498" fill-opacity="0.8"/><ellipse cx="269.2" cy="690.3" rx="2.7" ry="1" transform="rotate(56 269.2 690.3)" fill="#4a2498" fill-opacity="0.8"/><ellipse cx="280.7" cy="690.3" rx="2.1" ry="1.1" transform="rotate(31 280.7 690.3)" fill="#381870" fill-opacity="0.8"/><ellipse cx="265.7" cy="650.4" rx="2.8" ry="0.6" transform="rotate(-26 265.7 650.4)" fill="#5e30aa" fill-opacity="0.7"/><ellipse cx="249.4" cy="641.1" rx="2.8" ry="0.8" transform="rotate(-85 249.4 641.1)" fill="#5428a0" fill-opacity="0.7"/><ellipse cx="238.3" cy="663.9" rx="2.7" ry="0.8" transform="rotate(128 238.3 663.9)" fill="#381870" fill-opacity="0.8"/><ellipse cx="219.5" cy="669.5" rx="1.3" ry="0.8" transform="rotate(136 219.5 669.5)" fill="#381870" fill-opacity="0.8"/><ellipse cx="214" cy="697.8" rx="1.3" ry="1" transform="rotate(115 214 697.8)" fill="#5e30aa" fill-opacity="0.7"/><ellipse cx="211.7" cy="664.1" rx="2.3" ry="0.8" transform="rotate(173 211.7 664.1)" fill="#4a2498" fill-opacity="0.6"/><ellipse cx="279.4" cy="642.3" rx="1.4" ry="0.9" transform="rotate(-24 279.4 642.3)" fill="#080312" fill-opacity="0.6"/><ellipse cx="230.8" cy="693.3" rx="1.5" ry="1.2" transform="rotate(122 230.8 693.3)" fill="#5428a0" fill-opacity="0.6"/><ellipse cx="245.8" cy="649.6" rx="2.3" ry="0.8" transform="rotate(-75 245.8 649.6)" fill="#5e30aa" fill-opacity="0.5"/><ellipse cx="249.8" cy="655.4" rx="2.2" ry="1.2" transform="rotate(1 249.8 655.4)" fill="#5e30aa" fill-opacity="0.5"/><ellipse cx="214.8" cy="641.8" rx="1.5" ry="1" transform="rotate(-161 214.8 641.8)" fill="#4a2498" fill-opacity="0.5"/><ellipse cx="222.7" cy="641.7" rx="1.4" ry="1" transform="rotate(-146 222.7 641.7)" fill="#5e30aa" fill-opacity="0.5"/><ellipse cx="208.9" cy="666.6" rx="2.6" ry="1.1" transform="rotate(163 208.9 666.6)" fill="#080312" fill-opacity="0.5"/><ellipse cx="232.2" cy="702.8" rx="1.8" ry="1" transform="rotate(92 232.2 702.8)" fill="#4a2498" fill-opacity="0.5"/><ellipse cx="275.5" cy="652" rx="2.8" ry="1.2" transform="rotate(-20 275.5 652)" fill="#4a2498" fill-opacity="0.5"/><ellipse cx="258.1" cy="667.8" rx="2.7" ry="1.2" transform="rotate(55 258.1 667.8)" fill="#5428a0" fill-opacity="0.8"/><ellipse cx="205" cy="637.5" rx="2.8" ry="1.1" transform="rotate(-152 205 637.5)" fill="#0c0418" fill-opacity="0.6"/><ellipse cx="214.1" cy="673.6" rx="2.3" ry="0.9" transform="rotate(140 214.1 673.6)" fill="#5e30aa" fill-opacity="0.8"/><ellipse cx="249.1" cy="697.2" rx="1.7" ry="0.9" transform="rotate(77 249.1 697.2)" fill="#4a2498" fill-opacity="0.5"/><ellipse cx="269.8" cy="639.6" rx="2.4" ry="0.6" transform="rotate(-42 269.8 639.6)" fill="#0c0418" fill-opacity="0.8"/><ellipse cx="255.3" cy="657.2" rx="2" ry="0.7" transform="rotate(-1 255.3 657.2)" fill="#5428a0" fill-opacity="0.7"/><ellipse cx="205.6" cy="633.7" rx="2.3" ry="0.9" transform="rotate(-163 205.6 633.7)" fill="#381870" fill-opacity="0.6"/><ellipse cx="281.6" cy="683.4" rx="1.3" ry="1" transform="rotate(39 281.6 683.4)" fill="#381870" fill-opacity="0.8"/><ellipse cx="249.5" cy="654.9" rx="1.7" ry="0.7" transform="rotate(10 249.5 654.9)" fill="#4a2498" fill-opacity="0.8"/><ellipse cx="277.6" cy="631.4" rx="2.3" ry="0.9" transform="rotate(-46 277.6 631.4)" fill="#4a2498" fill-opacity="0.5"/><ellipse cx="248.3" cy="628.5" rx="1.2" ry="0.7" transform="rotate(-78 248.3 628.5)" fill="#0c0418" fill-opacity="0.5"/><ellipse cx="248" cy="662" rx="1.5" ry="0.8" transform="rotate(75 248 662)" fill="#4a2498" fill-opacity="0.8"/><ellipse cx="206.4" cy="693.9" rx="2" ry="0.7" transform="rotate(132 206.4 693.9)" fill="#48208a" fill-opacity="0.7"/><ellipse cx="240.2" cy="630.5" rx="1.9" ry="0.8" transform="rotate(-101 240.2 630.5)" fill="#48208a" fill-opacity="0.7"/><ellipse cx="279.2" cy="650.7" rx="2.3" ry="0.8" transform="rotate(4 279.2 650.7)" fill="#4a2498" fill-opacity="0.7"/><ellipse cx="247.5" cy="646.2" rx="2" ry="0.6" transform="rotate(-85 247.5 646.2)" fill="#5428a0" fill-opacity="0.6"/><ellipse cx="268.9" cy="681.4" rx="2.5" ry="1.1" transform="rotate(46 268.9 681.4)" fill="#381870" fill-opacity="0.6"/><ellipse cx="237.7" cy="694.2" rx="2.2" ry="0.7" transform="rotate(114 237.7 694.2)" fill="#5428a0" fill-opacity="0.6"/><ellipse cx="210.8" cy="694.5" rx="1.3" ry="1.1" transform="rotate(122 210.8 694.5)" fill="#5428a0" fill-opacity="0.6"/><ellipse cx="264.1" cy="701.2" rx="2.5" ry="0.6" transform="rotate(63 264.1 701.2)" fill="#080312" fill-opacity="0.7"/><ellipse cx="246.3" cy="664.1" rx="1.9" ry="1" transform="rotate(70 246.3 664.1)" fill="#080312" fill-opacity="0.6"/><ellipse cx="253.3" cy="634.6" rx="2" ry="0.8" transform="rotate(-64 253.3 634.6)" fill="#0c0418" fill-opacity="0.7"/><ellipse cx="273.6" cy="696.4" rx="1.5" ry="1" transform="rotate(64 273.6 696.4)" fill="#381870" fill-opacity="0.5"/><ellipse cx="240.6" cy="643.6" rx="2.2" ry="1.2" transform="rotate(-118 240.6 643.6)" fill="#381870" fill-opacity="0.6"/><ellipse cx="272.5" cy="658.5" rx="1.9" ry="0.7" transform="rotate(6 272.5 658.5)" fill="#080312" fill-opacity="0.6"/><ellipse cx="271.8" cy="687" rx="2.4" ry="0.7" transform="rotate(45 271.8 687)" fill="#4a2498" fill-opacity="0.7"/><ellipse cx="279.9" cy="643.6" rx="1.3" ry="0.7" transform="rotate(-28 279.9 643.6)" fill="#4a2498" fill-opacity="0.5"/><ellipse cx="214.5" cy="680.4" rx="2.7" ry="0.8" transform="rotate(145 214.5 680.4)" fill="#5428a0" fill-opacity="0.8"/><ellipse cx="238.7" cy="645.8" rx="2.2" ry="0.7" transform="rotate(-123 238.7 645.8)" fill="#080312" fill-opacity="0.7"/><ellipse cx="267.5" cy="662.7" rx="2.1" ry="1.1" transform="rotate(9 267.5 662.7)" fill="#4a2498" fill-opacity="0.7"/><ellipse cx="217.7" cy="641.9" rx="2.3" ry="1.1" transform="rotate(-167 217.7 641.9)" fill="#381870" fill-opacity="0.5"/><ellipse cx="281.5" cy="688.3" rx="2" ry="1.1" transform="rotate(27 281.5 688.3)" fill="#0c0418" fill-opacity="0.6"/><ellipse cx="252.6" cy="657.1" rx="2" ry="0.9" transform="rotate(19 252.6 657.1)" fill="#5428a0" fill-opacity="0.6"/><ellipse cx="267.2" cy="628" rx="2.4" ry="1" transform="rotate(-46 267.2 628)" fill="#0c0418" fill-opacity="0.5"/><ellipse cx="279.6" cy="643.2" rx="1.3" ry="1.1" transform="rotate(-29 279.6 643.2)" fill="#4a2498" fill-opacity="0.6"/><ellipse cx="258.9" cy="644.1" rx="1.7" ry="0.9" transform="rotate(-49 258.9 644.1)" fill="#381870" fill-opacity="0.7"/><ellipse cx="242.5" cy="704.3" rx="2.5" ry="0.7" transform="rotate(105 242.5 704.3)" fill="#5428a0" fill-opacity="0.7"/><ellipse cx="245.3" cy="640.7" rx="1.7" ry="0.7" transform="rotate(-98 245.3 640.7)" fill="#0c0418" fill-opacity="0.5"/><ellipse cx="208.4" cy="656.6" rx="2.7" ry="0.8" transform="rotate(173 208.4 656.6)" fill="#5e30aa" fill-opacity="0.7"/><ellipse cx="253.7" cy="646.2" rx="2.3" ry="0.8" transform="rotate(-39 253.7 646.2)" fill="#0c0418" fill-opacity="0.6"/><ellipse cx="221" cy="692.3" rx="2.5" ry="0.7" transform="rotate(132 221 692.3)" fill="#5e30aa" fill-opacity="0.7"/><ellipse cx="229.4" cy="665.3" rx="2" ry="1" transform="rotate(134 229.4 665.3)" fill="#0c0418" fill-opacity="0.5"/><ellipse cx="276" cy="683.1" rx="2" ry="0.7" transform="rotate(41 276 683.1)" fill="#0c0418" fill-opacity="0.6"/><ellipse cx="273.6" cy="685.9" rx="1.6" ry="0.9" transform="rotate(32 273.6 685.9)" fill="#080312" fill-opacity="0.7"/><ellipse cx="212" cy="668.6" rx="2" ry="1" transform="rotate(151 212 668.6)" fill="#0c0418" fill-opacity="0.7"/><ellipse cx="208.8" cy="692.6" rx="2.6" ry="0.8" transform="rotate(140 208.8 692.6)" fill="#4a2498" fill-opacity="0.6"/><ellipse cx="204.7" cy="691.5" rx="1.6" ry="0.6" transform="rotate(139 204.7 691.5)" fill="#5428a0" fill-opacity="0.6"/><ellipse cx="275.3" cy="691.4" rx="2.8" ry="1.2" transform="rotate(52 275.3 691.4)" fill="#080312" fill-opacity="0.7"/><ellipse cx="280.6" cy="676.5" rx="2" ry="0.9" transform="rotate(44 280.6 676.5)" fill="#381870" fill-opacity="0.8"/><ellipse cx="270.9" cy="682.9" rx="2.3" ry="0.9" transform="rotate(49 270.9 682.9)" fill="#080312" fill-opacity="0.7"/><ellipse cx="276.5" cy="650.8" rx="1.9" ry="0.8" transform="rotate(-20 276.5 650.8)" fill="#5e30aa" fill-opacity="0.6"/><ellipse cx="269.1" cy="629.7" rx="2.5" ry="1.1" transform="rotate(-35 269.1 629.7)" fill="#5e30aa" fill-opacity="0.7"/><ellipse cx="237.9" cy="669.5" rx="2.3" ry="1.2" transform="rotate(111 237.9 669.5)" fill="#48208a" fill-opacity="0.5"/><ellipse cx="203.4" cy="648.3" rx="1.4" ry="1.1" transform="rotate(-178 203.4 648.3)" fill="#080312" fill-opacity="0.7"/><ellipse cx="218.4" cy="684" rx="1.7" ry="0.9" transform="rotate(119 218.4 684)" fill="#4a2498" fill-opacity="0.5"/><ellipse cx="209.9" cy="646.6" rx="2.6" ry="0.7" transform="rotate(-155 209.9 646.6)" fill="#4a2498" fill-opacity="0.7"/><ellipse cx="248.2" cy="637.9" rx="1.6" ry="0.9" transform="rotate(-94 248.2 637.9)" fill="#48208a" fill-opacity="0.5"/><ellipse cx="256.5" cy="648.4" rx="2.4" ry="0.8" transform="rotate(-22 256.5 648.4)" fill="#4a2498" fill-opacity="0.6"/><ellipse cx="246.5" cy="706.5" rx="2.2" ry="0.8" transform="rotate(102 246.5 706.5)" fill="#5e30aa" fill-opacity="0.6"/><ellipse cx="283.1" cy="679.6" rx="2.6" ry="1.2" transform="rotate(44 283.1 679.6)" fill="#4a2498" fill-opacity="0.7"/><ellipse cx="217.6" cy="706.3" rx="2.4" ry="0.9" transform="rotate(128 217.6 706.3)" fill="#48208a" fill-opacity="0.6"/><ellipse cx="232.6" cy="685.1" rx="1.8" ry="1.1" transform="rotate(100 232.6 685.1)" fill="#5e30aa" fill-opacity="0.7"/><ellipse cx="279.8" cy="653.2" rx="1.4" ry="1.1" transform="rotate(2 279.8 653.2)" fill="#381870" fill-opacity="0.6"/><ellipse cx="225" cy="641.9" rx="1.4" ry="1.1" transform="rotate(-133 225 641.9)" fill="#5428a0" fill-opacity="0.7"/><ellipse cx="204.3" cy="695.1" rx="2.1" ry="0.8" transform="rotate(129 204.3 695.1)" fill="#381870" fill-opacity="0.5"/><ellipse cx="223" cy="667.3" rx="1.2" ry="0.8" transform="rotate(150 223 667.3)" fill="#080312" fill-opacity="0.8"/><ellipse cx="269" cy="667.8" rx="2.7" ry="0.7" transform="rotate(33 269 667.8)" fill="#4a2498" fill-opacity="0.8"/><ellipse cx="273.5" cy="630.5" rx="2.5" ry="1.1" transform="rotate(-36 273.5 630.5)" fill="#5e30aa" fill-opacity="0.5"/><ellipse cx="235.2" cy="664.8" rx="1.4" ry="0.8" transform="rotate(124 235.2 664.8)" fill="#4a2498" fill-opacity="0.8"/><ellipse cx="206.8" cy="634.7" rx="2.2" ry="0.7" transform="rotate(-146 206.8 634.7)" fill="#080312" fill-opacity="0.6"/><ellipse cx="235.1" cy="704.3" rx="1.8" ry="1.2" transform="rotate(105 235.1 704.3)" fill="#4a2498" fill-opacity="0.7"/><ellipse cx="207.9" cy="698" rx="2.4" ry="0.9" transform="rotate(133 207.9 698)" fill="#381870" fill-opacity="0.7"/><ellipse cx="247.2" cy="648.3" rx="1.5" ry="1.1" transform="rotate(-73 247.2 648.3)" fill="#381870" fill-opacity="0.7"/><ellipse cx="272.8" cy="684.7" rx="1.5" ry="0.9" transform="rotate(49 272.8 684.7)" fill="#0c0418" fill-opacity="0.5"/><ellipse cx="275.6" cy="703.6" rx="1.9" ry="0.6" transform="rotate(43 275.6 703.6)" fill="#48208a" fill-opacity="0.7"/><ellipse cx="212.6" cy="647.8" rx="1.7" ry="0.8" transform="rotate(-167 212.6 647.8)" fill="#5e30aa" fill-opacity="0.6"/><ellipse cx="222.6" cy="652" rx="2.1" ry="0.9" transform="rotate(-177 222.6 652)" fill="#4a2498" fill-opacity="0.7"/><ellipse cx="279.9" cy="657.1" rx="2.6" ry="1.1" transform="rotate(-2 279.9 657.1)" fill="#5428a0" fill-opacity="0.6"/><ellipse cx="251.2" cy="662.2" rx="1.8" ry="1.1" transform="rotate(46 251.2 662.2)" fill="#381870" fill-opacity="0.8"/><ellipse cx="264.5" cy="641.2" rx="1.8" ry="0.6" transform="rotate(-44 264.5 641.2)" fill="#5e30aa" fill-opacity="0.8"/><ellipse cx="256.4" cy="666.5" rx="2.3" ry="1" transform="rotate(36 256.4 666.5)" fill="#5e30aa" fill-opacity="0.7"/><ellipse cx="229.3" cy="629" rx="2.5" ry="1.1" transform="rotate(-109 229.3 629)" fill="#5e30aa" fill-opacity="0.8"/><ellipse cx="223" cy="659.5" rx="1.2" ry="1.1" transform="rotate(154 223 659.5)" fill="#5428a0" fill-opacity="0.5"/><ellipse cx="225.7" cy="661" rx="2.8" ry="0.7" transform="rotate(165 225.7 661)" fill="#48208a" fill-opacity="0.8"/><ellipse cx="221.3" cy="690.1" rx="2.8" ry="0.7" transform="rotate(116 221.3 690.1)" fill="#48208a" fill-opacity="0.5"/><ellipse cx="247.2" cy="633.6" rx="1.5" ry="0.7" transform="rotate(-71 247.2 633.6)" fill="#4a2498" fill-opacity="0.5"/><ellipse cx="215.3" cy="632.5" rx="2.3" ry="0.7" transform="rotate(-139 215.3 632.5)" fill="#5e30aa" fill-opacity="0.5"/><ellipse cx="266.3" cy="670.6" rx="2.5" ry="0.8" transform="rotate(22 266.3 670.6)" fill="#48208a" fill-opacity="0.7"/><ellipse cx="213.1" cy="686" rx="2.8" ry="0.8" transform="rotate(141 213.1 686)" fill="#4a2498" fill-opacity="0.8"/><ellipse cx="259.4" cy="639.5" rx="2.4" ry="0.6" transform="rotate(-48 259.4 639.5)" fill="#5e30aa" fill-opacity="0.5"/><ellipse cx="246.2" cy="701.3" rx="1.2" ry="0.8" transform="rotate(87 246.2 701.3)" fill="#5e30aa" fill-opacity="0.7"/><ellipse cx="203.7" cy="694.2" rx="2.6" ry="0.8" transform="rotate(137 203.7 694.2)" fill="#080312" fill-opacity="0.6"/><ellipse cx="281.6" cy="686.6" rx="1.9" ry="1.2" transform="rotate(54 281.6 686.6)" fill="#5428a0" fill-opacity="0.7"/><ellipse cx="236.2" cy="653.9" rx="1.8" ry="0.7" transform="rotate(-177 236.2 653.9)" fill="#080312" fill-opacity="0.5"/><ellipse cx="257.4" cy="645.1" rx="2" ry="0.7" transform="rotate(-47 257.4 645.1)" fill="#48208a" fill-opacity="0.8"/><ellipse cx="234.1" cy="640.5" rx="2.7" ry="1" transform="rotate(-122 234.1 640.5)" fill="#5e30aa" fill-opacity="0.8"/><ellipse cx="205.4" cy="641.7" rx="2.6" ry="0.8" transform="rotate(-171 205.4 641.7)" fill="#0c0418" fill-opacity="0.7"/><ellipse cx="263.4" cy="637.8" rx="2.8" ry="0.9" transform="rotate(-40 263.4 637.8)" fill="#5428a0" fill-opacity="0.8"/><ellipse cx="224.3" cy="689.3" rx="2.4" ry="1" transform="rotate(134 224.3 689.3)" fill="#4a2498" fill-opacity="0.6"/><ellipse cx="235.1" cy="704.2" rx="1.7" ry="0.6" transform="rotate(115 235.1 704.2)" fill="#5e30aa" fill-opacity="0.7"/><ellipse cx="208.9" cy="660.6" rx="2.3" ry="1.1" transform="rotate(158 208.9 660.6)" fill="#0c0418" fill-opacity="0.7"/><ellipse cx="275.8" cy="678" rx="2.4" ry="0.9" transform="rotate(37 275.8 678)" fill="#4a2498" fill-opacity="0.5"/><ellipse cx="220.6" cy="660.6" rx="2.3" ry="1.2" transform="rotate(169 220.6 660.6)" fill="#381870" fill-opacity="0.6"/><ellipse cx="255.7" cy="627.1" rx="1.9" ry="0.6" transform="rotate(-80 255.7 627.1)" fill="#4a2498" fill-opacity="0.5"/><ellipse cx="282.5" cy="673" rx="1.7" ry="0.7" transform="rotate(26 282.5 673)" fill="#5428a0" fill-opacity="0.7"/><ellipse cx="235.5" cy="634.5" rx="2" ry="0.8" transform="rotate(-99 235.5 634.5)" fill="#48208a" fill-opacity="0.7"/><ellipse cx="209.3" cy="674.3" rx="2.1" ry="0.6" transform="rotate(148 209.3 674.3)" fill="#5428a0" fill-opacity="0.7"/><ellipse cx="231.7" cy="705.3" rx="2.3" ry="1" transform="rotate(97 231.7 705.3)" fill="#381870" fill-opacity="0.6"/><ellipse cx="247.3" cy="631.6" rx="1.8" ry="1.1" transform="rotate(-95 247.3 631.6)" fill="#48208a" fill-opacity="0.6"/><ellipse cx="243.6" cy="687.4" rx="2.5" ry="1" transform="rotate(88 243.6 687.4)" fill="#080312" fill-opacity="0.7"/><ellipse cx="222.6" cy="645.6" rx="2.1" ry="1.2" transform="rotate(-162 222.6 645.6)" fill="#080312" fill-opacity="0.5"/><ellipse cx="273.4" cy="705.1" rx="1.4" ry="0.8" transform="rotate(73 273.4 705.1)" fill="#4a2498" fill-opacity="0.5"/><ellipse cx="251.5" cy="694.5" rx="1.2" ry="0.7" transform="rotate(85 251.5 694.5)" fill="#5e30aa" fill-opacity="0.8"/><ellipse cx="215" cy="633.8" rx="2" ry="1" transform="rotate(-138 215 633.8)" fill="#5428a0" fill-opacity="0.8"/><ellipse cx="231" cy="644.4" rx="1.5" ry="0.8" transform="rotate(-135 231 644.4)" fill="#381870" fill-opacity="0.8"/><ellipse cx="279.1" cy="677" rx="1.6" ry="0.9" transform="rotate(41 279.1 677)" fill="#381870" fill-opacity="0.6"/><ellipse cx="273.2" cy="672.1" rx="2.6" ry="1.1" transform="rotate(37 273.2 672.1)" fill="#381870" fill-opacity="0.6"/><ellipse cx="203.4" cy="698.6" rx="1.5" ry="1.1" transform="rotate(130 203.4 698.6)" fill="#5e30aa" fill-opacity="0.6"/><ellipse cx="262" cy="638.9" rx="2.6" ry="0.9" transform="rotate(-46 262 638.9)" fill="#0c0418" fill-opacity="0.8"/><ellipse cx="245.2" cy="672.2" rx="1.5" ry="1.1" transform="rotate(88 245.2 672.2)" fill="#4a2498" fill-opacity="0.8"/><ellipse cx="236.2" cy="654.3" rx="1.3" ry="0.7" transform="rotate(-172 236.2 654.3)" fill="#080312" fill-opacity="0.5"/><ellipse cx="217.5" cy="705.5" rx="1.8" ry="0.7" transform="rotate(116 217.5 705.5)" fill="#48208a" fill-opacity="0.8"/><ellipse cx="223.6" cy="674.4" rx="1.6" ry="0.8" transform="rotate(146 223.6 674.4)" fill="#0c0418" fill-opacity="0.7"/><ellipse cx="249.7" cy="666.1" rx="1.9" ry="0.6" transform="rotate(62 249.7 666.1)" fill="#0c0418" fill-opacity="0.6"/><ellipse cx="218.4" cy="697.4" rx="2.3" ry="0.7" transform="rotate(114 218.4 697.4)" fill="#5e30aa" fill-opacity="0.6"/><ellipse cx="243.1" cy="694.6" rx="1.4" ry="0.7" transform="rotate(78 243.1 694.6)" fill="#381870" fill-opacity="0.5"/><ellipse cx="254.1" cy="674.9" rx="2.4" ry="0.9" transform="rotate(52 254.1 674.9)" fill="#080312" fill-opacity="0.8"/><ellipse cx="244.6" cy="640.5" rx="2.6" ry="0.6" transform="rotate(-100 244.6 640.5)" fill="#381870" fill-opacity="0.6"/><ellipse cx="217.2" cy="690.4" rx="2.4" ry="0.8" transform="rotate(131 217.2 690.4)" fill="#5e30aa" fill-opacity="0.5"/><ellipse cx="222.1" cy="651.9" rx="2.6" ry="0.7" transform="rotate(-166 222.1 651.9)" fill="#4a2498" fill-opacity="0.8"/><ellipse cx="267.6" cy="631.1" rx="2" ry="0.7" transform="rotate(-57 267.6 631.1)" fill="#5428a0" fill-opacity="0.6"/><ellipse cx="271" cy="673.8" rx="1.4" ry="0.7" transform="rotate(42 271 673.8)" fill="#4a2498" fill-opacity="0.8"/><ellipse cx="205" cy="639.3" rx="1.9" ry="1" transform="rotate(-144 205 639.3)" fill="#5e30aa" fill-opacity="0.7"/><ellipse cx="250.7" cy="668.6" rx="2.4" ry="0.9" transform="rotate(61 250.7 668.6)" fill="#080312" fill-opacity="0.8"/><ellipse cx="203.4" cy="697.8" rx="1.4" ry="1" transform="rotate(124 203.4 697.8)" fill="#48208a" fill-opacity="0.8"/><ellipse cx="256.7" cy="703.8" rx="2.1" ry="1" transform="rotate(90 256.7 703.8)" fill="#4a2498" fill-opacity="0.8"/><ellipse cx="230.7" cy="649.1" rx="1.7" ry="0.9" transform="rotate(-150 230.7 649.1)" fill="#48208a" fill-opacity="0.7"/><ellipse cx="279.1" cy="675.7" rx="2.4" ry="1" transform="rotate(22 279.1 675.7)" fill="#48208a" fill-opacity="0.7"/><ellipse cx="226.3" cy="664.6" rx="1.2" ry="0.7" transform="rotate(151 226.3 664.6)" fill="#5e30aa" fill-opacity="0.8"/><ellipse cx="252.6" cy="687" rx="2.5" ry="0.9" transform="rotate(75 252.6 687)" fill="#381870" fill-opacity="0.5"/><ellipse cx="230" cy="632" rx="1.8" ry="1.1" transform="rotate(-118 230 632)" fill="#5428a0" fill-opacity="0.5"/><ellipse cx="258" cy="689.2" rx="1.7" ry="1.2" transform="rotate(75 258 689.2)" fill="#5e30aa" fill-opacity="0.7"/><ellipse cx="260.9" cy="703.5" rx="2" ry="0.7" transform="rotate(86 260.9 703.5)" fill="#080312" fill-opacity="0.6"/><ellipse cx="245.4" cy="669.3" rx="1.7" ry="0.6" transform="rotate(92 245.4 669.3)" fill="#080312" fill-opacity="0.8"/><ellipse cx="210.5" cy="698" rx="1.9" ry="0.7" transform="rotate(142 210.5 698)" fill="#5428a0" fill-opacity="0.7"/><ellipse cx="245" cy="645.3" rx="2" ry="0.6" transform="rotate(-104 245 645.3)" fill="#0c0418" fill-opacity="0.8"/><ellipse cx="208.6" cy="679.6" rx="2" ry="0.9" transform="rotate(156 208.6 679.6)" fill="#080312" fill-opacity="0.8"/><ellipse cx="214.5" cy="690.2" rx="1.9" ry="0.7" transform="rotate(119 214.5 690.2)" fill="#5e30aa" fill-opacity="0.8"/><ellipse cx="266.5" cy="704.4" rx="2.4" ry="0.8" transform="rotate(67 266.5 704.4)" fill="#4a2498" fill-opacity="0.7"/><ellipse cx="228.7" cy="685.3" rx="1.3" ry="1.1" transform="rotate(120 228.7 685.3)" fill="#080312" fill-opacity="0.7"/><ellipse cx="233.6" cy="681.6" rx="2.6" ry="0.8" transform="rotate(114 233.6 681.6)" fill="#381870" fill-opacity="0.6"/><ellipse cx="264.8" cy="687.3" rx="1.8" ry="1" transform="rotate(57 264.8 687.3)" fill="#5e30aa" fill-opacity="0.8"/><ellipse cx="243.3" cy="685.5" rx="1.9" ry="0.6" transform="rotate(89 243.3 685.5)" fill="#0c0418" fill-opacity="0.8"/><ellipse cx="226.3" cy="643.5" rx="2.6" ry="0.8" transform="rotate(-161 226.3 643.5)" fill="#080312" fill-opacity="0.6"/><ellipse cx="255.1" cy="641" rx="2" ry="0.8" transform="rotate(-52 255.1 641)" fill="#080312" fill-opacity="0.6"/><ellipse cx="214.3" cy="649.2" rx="2.3" ry="0.9" transform="rotate(-162 214.3 649.2)" fill="#0c0418" fill-opacity="0.8"/><ellipse cx="278.2" cy="655.2" rx="2.6" ry="0.7" transform="rotate(4 278.2 655.2)" fill="#48208a" fill-opacity="0.6"/><ellipse cx="216.2" cy="674.1" rx="2.4" ry="1.2" transform="rotate(134 216.2 674.1)" fill="#381870" fill-opacity="0.7"/><ellipse cx="253.3" cy="631.5" rx="1.6" ry="1.2" transform="rotate(-77 253.3 631.5)" fill="#5e30aa" fill-opacity="0.5"/><ellipse cx="206.6" cy="674.2" rx="1.5" ry="0.8" transform="rotate(149 206.6 674.2)" fill="#381870" fill-opacity="0.5"/><ellipse cx="238.7" cy="649.8" rx="2.3" ry="1.1" transform="rotate(-152 238.7 649.8)" fill="#48208a" fill-opacity="0.5"/><ellipse cx="238" cy="665.8" rx="1.4" ry="0.7" transform="rotate(122 238 665.8)" fill="#080312" fill-opacity="0.8"/><ellipse cx="281.4" cy="660.7" rx="2.2" ry="0.7" transform="rotate(12 281.4 660.7)" fill="#48208a" fill-opacity="0.8"/><ellipse cx="214.2" cy="640.4" rx="2.6" ry="1" transform="rotate(-146 214.2 640.4)" fill="#48208a" fill-opacity="0.7"/><ellipse cx="226.7" cy="635.7" rx="1.7" ry="1.2" transform="rotate(-138 226.7 635.7)" fill="#5e30aa" fill-opacity="0.7"/><ellipse cx="283.1" cy="676.7" rx="1.8" ry="0.8" transform="rotate(38 283.1 676.7)" fill="#381870" fill-opacity="0.6"/><ellipse cx="220.7" cy="706.8" rx="1.9" ry="0.9" transform="rotate(109 220.7 706.8)" fill="#080312" fill-opacity="0.5"/><ellipse cx="270.3" cy="644.8" rx="1.4" ry="0.8" transform="rotate(-15 270.3 644.8)" fill="#4a2498" fill-opacity="0.8"/><ellipse cx="263.6" cy="683.5" rx="2.5" ry="1.2" transform="rotate(70 263.6 683.5)" fill="#0c0418" fill-opacity="0.8"/><ellipse cx="217.5" cy="654.5" rx="1.7" ry="1.1" transform="rotate(-189 217.5 654.5)" fill="#48208a" fill-opacity="0.6"/><ellipse cx="277.7" cy="628.4" rx="1.8" ry="1.1" transform="rotate(-34 277.7 628.4)" fill="#080312" fill-opacity="0.6"/><ellipse cx="267.3" cy="639.5" rx="2.1" ry="1" transform="rotate(-27 267.3 639.5)" fill="#5428a0" fill-opacity="0.8"/><ellipse cx="242.6" cy="665.1" rx="2" ry="1" transform="rotate(110 242.6 665.1)" fill="#5e30aa" fill-opacity="0.7"/><ellipse cx="219.9" cy="681.6" rx="2.5" ry="0.6" transform="rotate(139 219.9 681.6)" fill="#080312" fill-opacity="0.8"/><ellipse cx="233.6" cy="655.2" rx="1.9" ry="1" transform="rotate(165 233.6 655.2)" fill="#0c0418" fill-opacity="0.6"/><ellipse cx="244.5" cy="701.2" rx="2.5" ry="0.7" transform="rotate(86 244.5 701.2)" fill="#381870" fill-opacity="0.7"/><ellipse cx="263.4" cy="660.8" rx="1.4" ry="1.1" transform="rotate(28 263.4 660.8)" fill="#080312" fill-opacity="0.8"/><ellipse cx="251.7" cy="664.1" rx="2.8" ry="1.1" transform="rotate(62 251.7 664.1)" fill="#381870" fill-opacity="0.8"/><ellipse cx="253.3" cy="705.2" rx="2.7" ry="0.7" transform="rotate(88 253.3 705.2)" fill="#381870" fill-opacity="0.7"/><ellipse cx="264.3" cy="679.1" rx="1.7" ry="1" transform="rotate(42 264.3 679.1)" fill="#4a2498" fill-opacity="0.8"/><ellipse cx="242.6" cy="678.6" rx="2.8" ry="0.8" transform="rotate(81 242.6 678.6)" fill="#48208a" fill-opacity="0.7"/><ellipse cx="254.8" cy="693.5" rx="2.6" ry="0.8" transform="rotate(90 254.8 693.5)" fill="#381870" fill-opacity="0.6"/><ellipse cx="278.4" cy="646.7" rx="2.5" ry="0.8" transform="rotate(-1 278.4 646.7)" fill="#5428a0" fill-opacity="0.6"/><ellipse cx="271" cy="632" rx="2.8" ry="1.1" transform="rotate(-39 271 632)" fill="#080312" fill-opacity="0.7"/><ellipse cx="278.4" cy="637.9" rx="2.5" ry="1.1" transform="rotate(-18 278.4 637.9)" fill="#4a2498" fill-opacity="0.6"/><ellipse cx="271.3" cy="678.5" rx="1.9" ry="1" transform="rotate(32 271.3 678.5)" fill="#48208a" fill-opacity="0.8"/><ellipse cx="259.5" cy="649.6" rx="1.3" ry="0.6" transform="rotate(-14 259.5 649.6)" fill="#0c0418" fill-opacity="0.7"/><ellipse cx="231.9" cy="686.5" rx="2.4" ry="0.8" transform="rotate(98 231.9 686.5)" fill="#4a2498" fill-opacity="0.5"/><ellipse cx="258.9" cy="660.3" rx="2.4" ry="1" transform="rotate(18 258.9 660.3)" fill="#0c0418" fill-opacity="0.8"/><ellipse cx="252.4" cy="659.7" rx="2.7" ry="1.1" transform="rotate(34 252.4 659.7)" fill="#48208a" fill-opacity="0.8"/><ellipse cx="215.8" cy="706.7" rx="2.5" ry="1.1" transform="rotate(118 215.8 706.7)" fill="#5428a0" fill-opacity="0.6"/><ellipse cx="223.2" cy="630.1" rx="1.4" ry="0.8" transform="rotate(-130 223.2 630.1)" fill="#080312" fill-opacity="0.5"/><ellipse cx="226.2" cy="656.9" rx="2.2" ry="0.8" transform="rotate(179 226.2 656.9)" fill="#5428a0" fill-opacity="0.6"/><ellipse cx="237" cy="666.9" rx="1.4" ry="1.1" transform="rotate(118 237 666.9)" fill="#5e30aa" fill-opacity="0.5"/><ellipse cx="277.2" cy="682.3" rx="1.5" ry="0.8" transform="rotate(26 277.2 682.3)" fill="#48208a" fill-opacity="0.8"/><ellipse cx="273.4" cy="629.9" rx="2.7" ry="1.2" transform="rotate(-43 273.4 629.9)" fill="#5e30aa" fill-opacity="0.7"/><ellipse cx="255.6" cy="666.8" rx="1.8" ry="1.1" transform="rotate(41 255.6 666.8)" fill="#381870" fill-opacity="0.7"/><ellipse cx="245.9" cy="654.7" rx="1.7" ry="1.1" transform="rotate(-12 245.9 654.7)" fill="#48208a" fill-opacity="0.6"/><ellipse cx="266.3" cy="642.1" rx="2" ry="0.8" transform="rotate(-28 266.3 642.1)" fill="#4a2498" fill-opacity="0.5"/><ellipse cx="253" cy="678.6" rx="1.6" ry="1" transform="rotate(81 253 678.6)" fill="#381870" fill-opacity="0.5"/><ellipse cx="227.3" cy="653.4" rx="2.6" ry="1.1" transform="rotate(-165 227.3 653.4)" fill="#381870" fill-opacity="0.8"/><ellipse cx="260.9" cy="685.3" rx="2.2" ry="0.9" transform="rotate(70 260.9 685.3)" fill="#0c0418" fill-opacity="0.5"/><ellipse cx="270.8" cy="651.2" rx="2" ry="0.6" transform="rotate(-2 270.8 651.2)" fill="#0c0418" fill-opacity="0.6"/><ellipse cx="281.5" cy="667" rx="2.6" ry="0.9" transform="rotate(11 281.5 667)" fill="#080312" fill-opacity="0.5"/><ellipse cx="278.1" cy="684.7" rx="2" ry="0.8" transform="rotate(29 278.1 684.7)" fill="#0c0418" fill-opacity="0.8"/><ellipse cx="208.9" cy="674.8" rx="2.7" ry="1.2" transform="rotate(158 208.9 674.8)" fill="#381870" fill-opacity="0.6"/><ellipse cx="281.8" cy="696.9" rx="1.7" ry="0.9" transform="rotate(51 281.8 696.9)" fill="#381870" fill-opacity="0.8"/><ellipse cx="277.6" cy="635.2" rx="2.3" ry="0.9" transform="rotate(-44 277.6 635.2)" fill="#080312" fill-opacity="0.7"/><ellipse cx="204.3" cy="692.1" rx="1.9" ry="0.7" transform="rotate(148 204.3 692.1)" fill="#0c0418" fill-opacity="0.7"/><ellipse cx="212.2" cy="644.2" rx="2.3" ry="1" transform="rotate(-174 212.2 644.2)" fill="#5428a0" fill-opacity="0.7"/><ellipse cx="233.7" cy="687.6" rx="1.4" ry="1.1" transform="rotate(123 233.7 687.6)" fill="#5e30aa" fill-opacity="0.6"/><ellipse cx="240.3" cy="628.1" rx="2" ry="0.8" transform="rotate(-112 240.3 628.1)" fill="#48208a" fill-opacity="0.5"/><ellipse cx="270.9" cy="703.3" rx="2.8" ry="1.1" transform="rotate(50 270.9 703.3)" fill="#0c0418" fill-opacity="0.8"/><ellipse cx="229" cy="632.8" rx="2.7" ry="0.7" transform="rotate(-121 229 632.8)" fill="#4a2498" fill-opacity="0.7"/><ellipse cx="280" cy="705.8" rx="2.2" ry="0.9" transform="rotate(43 280 705.8)" fill="#5e30aa" fill-opacity="0.8"/><ellipse cx="238" cy="668" rx="2.6" ry="0.8" transform="rotate(111 238 668)" fill="#48208a" fill-opacity="0.6"/><ellipse cx="244.2" cy="702.2" rx="1.5" ry="0.7" transform="rotate(95 244.2 702.2)" fill="#5428a0" fill-opacity="0.7"/><ellipse cx="237.8" cy="635.5" rx="1.8" ry="0.8" transform="rotate(-96 237.8 635.5)" fill="#381870" fill-opacity="0.8"/><ellipse cx="243.4" cy="674.8" rx="2.2" ry="0.8" transform="rotate(100 243.4 674.8)" fill="#5428a0" fill-opacity="0.7"/><ellipse cx="225.8" cy="693.8" rx="1.9" ry="1.2" transform="rotate(118 225.8 693.8)" fill="#48208a" fill-opacity="0.8"/><ellipse cx="233.2" cy="682.4" rx="2.4" ry="1" transform="rotate(99 233.2 682.4)" fill="#080312" fill-opacity="0.6"/><ellipse cx="217.1" cy="691.3" rx="1.8" ry="0.8" transform="rotate(137 217.1 691.3)" fill="#5e30aa" fill-opacity="0.8"/><ellipse cx="236.3" cy="706.7" rx="2.4" ry="0.9" transform="rotate(90 236.3 706.7)" fill="#381870" fill-opacity="0.8"/><ellipse cx="247.6" cy="654.8" rx="2.2" ry="0.6" transform="rotate(7 247.6 654.8)" fill="#5e30aa" fill-opacity="0.7"/><ellipse cx="254.9" cy="691.4" rx="2.5" ry="1" transform="rotate(84 254.9 691.4)" fill="#5428a0" fill-opacity="0.7"/><ellipse cx="259.3" cy="691.6" rx="1.7" ry="1.1" transform="rotate(56 259.3 691.6)" fill="#0c0418" fill-opacity="0.6"/><ellipse cx="242" cy="667.4" rx="2.7" ry="0.8" transform="rotate(115 242 667.4)" fill="#080312" fill-opacity="0.6"/><ellipse cx="276" cy="651" rx="1.5" ry="0.9" transform="rotate(3 276 651)" fill="#5428a0" fill-opacity="0.5"/><ellipse cx="237.1" cy="639.1" rx="2.8" ry="0.7" transform="rotate(-130 237.1 639.1)" fill="#381870" fill-opacity="0.8"/><ellipse cx="263" cy="662.8" rx="2.1" ry="1.2" transform="rotate(36 263 662.8)" fill="#0c0418" fill-opacity="0.8"/><ellipse cx="248.3" cy="688" rx="2.4" ry="1" transform="rotate(80 248.3 688)" fill="#4a2498" fill-opacity="0.8"/><ellipse cx="258.1" cy="640.3" rx="2.7" ry="1.2" transform="rotate(-43 258.1 640.3)" fill="#4a2498" fill-opacity="0.8"/><ellipse cx="240.9" cy="693.1" rx="2.7" ry="1" transform="rotate(83 240.9 693.1)" fill="#5e30aa" fill-opacity="0.6"/><ellipse cx="213.4" cy="633.3" rx="2.3" ry="1.2" transform="rotate(-143 213.4 633.3)" fill="#0c0418" fill-opacity="0.5"/><ellipse cx="261.3" cy="644.1" rx="2.7" ry="0.7" transform="rotate(-30 261.3 644.1)" fill="#080312" fill-opacity="0.5"/><ellipse cx="264.2" cy="668.6" rx="1.8" ry="1.1" transform="rotate(38 264.2 668.6)" fill="#381870" fill-opacity="0.8"/><ellipse cx="252.6" cy="646.6" rx="1.7" ry="1.1" transform="rotate(-61 252.6 646.6)" fill="#381870" fill-opacity="0.7"/><ellipse cx="275.4" cy="706.2" rx="2.7" ry="1" transform="rotate(67 275.4 706.2)" fill="#080312" fill-opacity="0.6"/><ellipse cx="239.2" cy="631.3" rx="1.3" ry="1.1" transform="rotate(-95 239.2 631.3)" fill="#5428a0" fill-opacity="0.8"/><ellipse cx="214.4" cy="647.9" rx="1.8" ry="1.2" transform="rotate(-165 214.4 647.9)" fill="#5428a0" fill-opacity="0.8"/><ellipse cx="283.1" cy="672.5" rx="1.3" ry="0.7" transform="rotate(29 283.1 672.5)" fill="#5428a0" fill-opacity="0.6"/><ellipse cx="263.5" cy="675.9" rx="2.4" ry="0.8" transform="rotate(38 263.5 675.9)" fill="#0c0418" fill-opacity="0.7"/><ellipse cx="212.5" cy="653.9" rx="1.8" ry="1" transform="rotate(-169 212.5 653.9)" fill="#080312" fill-opacity="0.5"/><ellipse cx="276.7" cy="690.7" rx="1.6" ry="0.7" transform="rotate(62 276.7 690.7)" fill="#080312" fill-opacity="0.5"/><ellipse cx="258.4" cy="664" rx="2" ry="1.1" transform="rotate(21 258.4 664)" fill="#0c0418" fill-opacity="0.6"/><ellipse cx="236.8" cy="673.4" rx="1.9" ry="1.1" transform="rotate(122 236.8 673.4)" fill="#080312" fill-opacity="0.7"/><ellipse cx="215.7" cy="675.4" rx="1.3" ry="1" transform="rotate(134 215.7 675.4)" fill="#5e30aa" fill-opacity="0.7"/><ellipse cx="264.6" cy="681" rx="2.6" ry="0.7" transform="rotate(59 264.6 681)" fill="#080312" fill-opacity="0.8"/><ellipse cx="232.7" cy="663.8" rx="2.1" ry="1.1" transform="rotate(142 232.7 663.8)" fill="#5428a0" fill-opacity="0.5"/><ellipse cx="244.8" cy="638.7" rx="1.5" ry="0.8" transform="rotate(-104 244.8 638.7)" fill="#0c0418" fill-opacity="0.8"/><ellipse cx="242" cy="678.4" rx="2.3" ry="1" transform="rotate(108 242 678.4)" fill="#381870" fill-opacity="0.6"/><ellipse cx="204.7" cy="639.9" rx="2.6" ry="0.7" transform="rotate(-156 204.7 639.9)" fill="#381870" fill-opacity="0.6"/><ellipse cx="241.8" cy="698.6" rx="1.3" ry="0.9" transform="rotate(85 241.8 698.6)" fill="#5e30aa" fill-opacity="0.8"/><ellipse cx="264.2" cy="649.3" rx="1.7" ry="0.9" transform="rotate(-6 264.2 649.3)" fill="#48208a" fill-opacity="0.6"/><ellipse cx="250.9" cy="635.8" rx="1.2" ry="1" transform="rotate(-69 250.9 635.8)" fill="#080312" fill-opacity="0.6"/><ellipse cx="210.9" cy="693.3" rx="2.1" ry="1.2" transform="rotate(126 210.9 693.3)" fill="#5e30aa" fill-opacity="0.5"/><ellipse cx="268.3" cy="659.5" rx="1.6" ry="0.6" transform="rotate(8 268.3 659.5)" fill="#0c0418" fill-opacity="0.8"/><ellipse cx="215.1" cy="673.1" rx="1.5" ry="1.1" transform="rotate(157 215.1 673.1)" fill="#381870" fill-opacity="0.6"/><ellipse cx="236.4" cy="683.8" rx="1.7" ry="0.8" transform="rotate(106 236.4 683.8)" fill="#5428a0" fill-opacity="0.8"/><ellipse cx="224.1" cy="683.7" rx="1.5" ry="0.7" transform="rotate(138 224.1 683.7)" fill="#48208a" fill-opacity="0.5"/><ellipse cx="234.1" cy="671.9" rx="1.8" ry="0.7" transform="rotate(134 234.1 671.9)" fill="#48208a" fill-opacity="0.6"/><ellipse cx="221.8" cy="691.7" rx="2.7" ry="0.7" transform="rotate(131 221.8 691.7)" fill="#5428a0" fill-opacity="0.8"/><ellipse cx="228.6" cy="631.9" rx="1.5" ry="1.1" transform="rotate(-122 228.6 631.9)" fill="#4a2498" fill-opacity="0.6"/><ellipse cx="240.2" cy="672.3" rx="2.4" ry="0.7" transform="rotate(99 240.2 672.3)" fill="#381870" fill-opacity="0.6"/><ellipse cx="258.4" cy="699.6" rx="1.9" ry="1.1" transform="rotate(61 258.4 699.6)" fill="#080312" fill-opacity="0.7"/><ellipse cx="241.1" cy="632.8" rx="2" ry="0.9" transform="rotate(-99 241.1 632.8)" fill="#381870" fill-opacity="0.7"/><ellipse cx="276.2" cy="660.2" rx="1.3" ry="1.1" transform="rotate(1 276.2 660.2)" fill="#080312" fill-opacity="0.6"/><ellipse cx="238.5" cy="695.8" rx="2.7" ry="0.6" transform="rotate(96 238.5 695.8)" fill="#5e30aa" fill-opacity="0.8"/><ellipse cx="267.7" cy="669.8" rx="2.8" ry="0.6" transform="rotate(29 267.7 669.8)" fill="#0c0418" fill-opacity="0.6"/><ellipse cx="206.2" cy="639.4" rx="1.4" ry="1.1" transform="rotate(-157 206.2 639.4)" fill="#080312" fill-opacity="0.6"/><ellipse cx="226.2" cy="640.8" rx="2.3" ry="1" transform="rotate(-155 226.2 640.8)" fill="#381870" fill-opacity="0.5"/><ellipse cx="220.9" cy="649.6" rx="1.8" ry="0.9" transform="rotate(-155 220.9 649.6)" fill="#48208a" fill-opacity="0.5"/><ellipse cx="210.5" cy="692.4" rx="2.1" ry="0.6" transform="rotate(129 210.5 692.4)" fill="#080312" fill-opacity="0.8"/><ellipse cx="241.5" cy="632.6" rx="1.8" ry="1.1" transform="rotate(-100 241.5 632.6)" fill="#381870" fill-opacity="0.7"/><ellipse cx="211.2" cy="693.3" rx="1.4" ry="1" transform="rotate(122 211.2 693.3)" fill="#080312" fill-opacity="0.8"/><ellipse cx="224" cy="669.5" rx="1.8" ry="0.9" transform="rotate(142 224 669.5)" fill="#5e30aa" fill-opacity="0.5"/><ellipse cx="252.7" cy="696.7" rx="1.9" ry="0.7" transform="rotate(79 252.7 696.7)" fill="#0c0418" fill-opacity="0.8"/><ellipse cx="232.4" cy="681.5" rx="1.5" ry="0.9" transform="rotate(108 232.4 681.5)" fill="#4a2498" fill-opacity="0.6"/><ellipse cx="279.4" cy="672.4" rx="1.7" ry="0.9" transform="rotate(39 279.4 672.4)" fill="#080312" fill-opacity="0.5"/><ellipse cx="220.9" cy="658.7" rx="1.4" ry="0.7" transform="rotate(175 220.9 658.7)" fill="#080312" fill-opacity="0.7"/><ellipse cx="227.4" cy="688.1" rx="2" ry="0.8" transform="rotate(132 227.4 688.1)" fill="#4a2498" fill-opacity="0.8"/><ellipse cx="212.8" cy="689" rx="1.3" ry="0.8" transform="rotate(118 212.8 689)" fill="#381870" fill-opacity="0.7"/><ellipse cx="237.9" cy="667.2" rx="1.3" ry="1.1" transform="rotate(130 237.9 667.2)" fill="#0c0418" fill-opacity="0.7"/><ellipse cx="237" cy="637.8" rx="2" ry="1.2" transform="rotate(-116 237 637.8)" fill="#0c0418" fill-opacity="0.6"/><ellipse cx="251.7" cy="698.9" rx="1.9" ry="0.7" transform="rotate(66 251.7 698.9)" fill="#4a2498" fill-opacity="0.6"/><ellipse cx="253.4" cy="650.5" rx="2.7" ry="1" transform="rotate(-29 253.4 650.5)" fill="#4a2498" fill-opacity="0.5"/><ellipse cx="228.8" cy="665" rx="2.1" ry="0.7" transform="rotate(153 228.8 665)" fill="#080312" fill-opacity="0.5"/><ellipse cx="237.6" cy="706.9" rx="2.4" ry="0.9" transform="rotate(90 237.6 706.9)" fill="#4a2498" fill-opacity="0.5"/><ellipse cx="267.7" cy="649.1" rx="2.4" ry="1.1" transform="rotate(-5 267.7 649.1)" fill="#48208a" fill-opacity="0.7"/><ellipse cx="207.3" cy="664.2" rx="2.7" ry="0.9" transform="rotate(154 207.3 664.2)" fill="#48208a" fill-opacity="0.7"/><ellipse cx="231.2" cy="666.8" rx="2" ry="0.7" transform="rotate(144 231.2 666.8)" fill="#4a2498" fill-opacity="0.6"/><ellipse cx="205.4" cy="641.2" rx="1.9" ry="0.9" transform="rotate(-150 205.4 641.2)" fill="#381870" fill-opacity="0.7"/><ellipse cx="245.8" cy="653.5" rx="1.2" ry="1" transform="rotate(-71 245.8 653.5)" fill="#0c0418" fill-opacity="0.5"/><ellipse cx="226.2" cy="677.5" rx="2" ry="0.6" transform="rotate(124 226.2 677.5)" fill="#5428a0" fill-opacity="0.8"/><ellipse cx="246.6" cy="640.5" rx="1.4" ry="0.7" transform="rotate(-74 246.6 640.5)" fill="#4a2498" fill-opacity="0.6"/><ellipse cx="240.5" cy="684.3" rx="1.4" ry="1.1" transform="rotate(93 240.5 684.3)" fill="#5428a0" fill-opacity="0.5"/><ellipse cx="212.9" cy="674.3" rx="1.6" ry="0.9" transform="rotate(140 212.9 674.3)" fill="#080312" fill-opacity="0.7"/><ellipse cx="264" cy="632.5" rx="1.6" ry="0.7" transform="rotate(-45 264 632.5)" fill="#5428a0" fill-opacity="0.7"/><ellipse cx="246.9" cy="701.7" rx="2.5" ry="1" transform="rotate(97 246.9 701.7)" fill="#0c0418" fill-opacity="0.5"/><ellipse cx="248.3" cy="663.4" rx="2.4" ry="1.1" transform="rotate(73 248.3 663.4)" fill="#48208a" fill-opacity="0.6"/><ellipse cx="276.7" cy="657.2" rx="1.4" ry="1.2" transform="rotate(11 276.7 657.2)" fill="#5e30aa" fill-opacity="0.8"/><ellipse cx="238" cy="639.5" rx="2" ry="0.9" transform="rotate(-117 238 639.5)" fill="#4a2498" fill-opacity="0.6"/><ellipse cx="237.8" cy="698.8" rx="1.5" ry="0.9" transform="rotate(103 237.8 698.8)" fill="#5e30aa" fill-opacity="0.7"/><ellipse cx="225" cy="659.8" rx="2" ry="0.7" transform="rotate(176 225 659.8)" fill="#5e30aa" fill-opacity="0.8"/><ellipse cx="215.8" cy="629.2" rx="1.9" ry="1" transform="rotate(-137 215.8 629.2)" fill="#0c0418" fill-opacity="0.8"/><ellipse cx="257.8" cy="648" rx="1.8" ry="0.6" transform="rotate(-32 257.8 648)" fill="#4a2498" fill-opacity="0.6"/><ellipse cx="277.2" cy="706.6" rx="1.9" ry="1.2" transform="rotate(72 277.2 706.6)" fill="#0c0418" fill-opacity="0.6"/><ellipse cx="221.4" cy="692.1" rx="1.9" ry="0.9" transform="rotate(133 221.4 692.1)" fill="#5e30aa" fill-opacity="0.8"/><ellipse cx="281.7" cy="635.6" rx="2" ry="0.6" transform="rotate(-20 281.7 635.6)" fill="#5428a0" fill-opacity="0.7"/><ellipse cx="236.8" cy="693.6" rx="2.1" ry="1" transform="rotate(104 236.8 693.6)" fill="#080312" fill-opacity="0.8"/><ellipse cx="218.5" cy="652.3" rx="1.9" ry="1" transform="rotate(-175 218.5 652.3)" fill="#381870" fill-opacity="0.7"/><ellipse cx="241.5" cy="683.5" rx="1.3" ry="0.7" transform="rotate(103 241.5 683.5)" fill="#48208a" fill-opacity="0.7"/><ellipse cx="238.9" cy="661.4" rx="1.7" ry="0.7" transform="rotate(131 238.9 661.4)" fill="#0c0418" fill-opacity="0.6"/><ellipse cx="264.7" cy="664" rx="2.4" ry="1.2" transform="rotate(31 264.7 664)" fill="#0c0418" fill-opacity="0.6"/><ellipse cx="246.1" cy="702.9" rx="1.6" ry="0.9" transform="rotate(102 246.1 702.9)" fill="#4a2498" fill-opacity="0.7"/><ellipse cx="247.8" cy="635.4" rx="2.1" ry="1.2" transform="rotate(-89 247.8 635.4)" fill="#4a2498" fill-opacity="0.5"/><ellipse cx="255.6" cy="697" rx="1.6" ry="0.9" transform="rotate(83 255.6 697)" fill="#48208a" fill-opacity="0.8"/><ellipse cx="245" cy="646.6" rx="1.7" ry="0.9" transform="rotate(-82 245 646.6)" fill="#5428a0" fill-opacity="0.6"/><ellipse cx="217.1" cy="694.3" rx="1.8" ry="0.7" transform="rotate(119 217.1 694.3)" fill="#4a2498" fill-opacity="0.6"/><ellipse cx="250.3" cy="638.8" rx="2.2" ry="1" transform="rotate(-79 250.3 638.8)" fill="#080312" fill-opacity="0.5"/><ellipse cx="204.1" cy="671.4" rx="1.5" ry="0.9" transform="rotate(157 204.1 671.4)" fill="#5428a0" fill-opacity="0.7"/><ellipse cx="252.3" cy="657.4" rx="2.3" ry="1.1" transform="rotate(22 252.3 657.4)" fill="#5428a0" fill-opacity="0.7"/><ellipse cx="266.2" cy="652.9" rx="1.4" ry="0.7" transform="rotate(-5 266.2 652.9)" fill="#381870" fill-opacity="0.5"/><ellipse cx="222.6" cy="666.3" rx="1.4" ry="0.7" transform="rotate(160 222.6 666.3)" fill="#48208a" fill-opacity="0.6"/><ellipse cx="220.1" cy="706" rx="1.8" ry="0.8" transform="rotate(115 220.1 706)" fill="#5428a0" fill-opacity="0.5"/><ellipse cx="272.3" cy="656.4" rx="1.7" ry="1.2" transform="rotate(-1 272.3 656.4)" fill="#0c0418" fill-opacity="0.5"/><ellipse cx="208.7" cy="691.3" rx="2.3" ry="0.8" transform="rotate(132 208.7 691.3)" fill="#5428a0" fill-opacity="0.5"/><ellipse cx="221.1" cy="659.1" rx="2.4" ry="0.9" transform="rotate(162 221.1 659.1)" fill="#48208a" fill-opacity="0.5"/><ellipse cx="251.8" cy="660.5" rx="1.4" ry="1.1" transform="rotate(29 251.8 660.5)" fill="#4a2498" fill-opacity="0.5"/><ellipse cx="246.7" cy="700.9" rx="1.3" ry="1" transform="rotate(82 246.7 700.9)" fill="#381870" fill-opacity="0.6"/><ellipse cx="248.1" cy="656.5" rx="1.6" ry="0.7" transform="rotate(32 248.1 656.5)" fill="#381870" fill-opacity="0.7"/><ellipse cx="205.5" cy="694" rx="1.8" ry="0.7" transform="rotate(145 205.5 694)" fill="#381870" fill-opacity="0.8"/><ellipse cx="205.5" cy="701.1" rx="2.3" ry="1.1" transform="rotate(128 205.5 701.1)" fill="#381870" fill-opacity="0.6"/><ellipse cx="216.6" cy="678.2" rx="1.5" ry="0.8" transform="rotate(127 216.6 678.2)" fill="#080312" fill-opacity="0.8"/><ellipse cx="214.3" cy="660.9" rx="2.5" ry="0.8" transform="rotate(161 214.3 660.9)" fill="#48208a" fill-opacity="0.7"/><ellipse cx="261.4" cy="635.4" rx="1.9" ry="1.1" transform="rotate(-57 261.4 635.4)" fill="#48208a" fill-opacity="0.8"/><ellipse cx="273" cy="660.7" rx="1.4" ry="0.9" transform="rotate(5 273 660.7)" fill="#48208a" fill-opacity="0.5"/><ellipse cx="256.5" cy="658.8" rx="1.9" ry="1" transform="rotate(15 256.5 658.8)" fill="#48208a" fill-opacity="0.6"/><ellipse cx="250" cy="644.8" rx="1.9" ry="0.9" transform="rotate(-70 250 644.8)" fill="#0c0418" fill-opacity="0.5"/><ellipse cx="260.5" cy="706" rx="1.8" ry="1.1" transform="rotate(79 260.5 706)" fill="#381870" fill-opacity="0.7"/><ellipse cx="253.1" cy="697.9" rx="2.2" ry="1.1" transform="rotate(67 253.1 697.9)" fill="#4a2498" fill-opacity="0.7"/><ellipse cx="251.4" cy="658.6" rx="1.6" ry="0.8" transform="rotate(37 251.4 658.6)" fill="#0c0418" fill-opacity="0.6"/><ellipse cx="260.2" cy="690.6" rx="2.6" ry="0.9" transform="rotate(80 260.2 690.6)" fill="#5e30aa" fill-opacity="0.7"/><ellipse cx="248.4" cy="676.5" rx="1.9" ry="1.1" transform="rotate(81 248.4 676.5)" fill="#381870" fill-opacity="0.7"/><ellipse cx="218.3" cy="695.2" rx="2.1" ry="0.7" transform="rotate(124 218.3 695.2)" fill="#4a2498" fill-opacity="0.8"/><ellipse cx="273.8" cy="660.1" rx="1.9" ry="0.7" transform="rotate(17 273.8 660.1)" fill="#381870" fill-opacity="0.7"/><ellipse cx="277.1" cy="643.2" rx="1.3" ry="0.9" transform="rotate(-24 277.1 643.2)" fill="#381870" fill-opacity="0.7"/><ellipse cx="278.5" cy="655.7" rx="2.1" ry="1" transform="rotate(-3 278.5 655.7)" fill="#381870" fill-opacity="0.6"/><ellipse cx="227.1" cy="642.5" rx="2.3" ry="1" transform="rotate(-148 227.1 642.5)" fill="#48208a" fill-opacity="0.5"/><ellipse cx="245.4" cy="685.8" rx="1.3" ry="1" transform="rotate(77 245.4 685.8)" fill="#5e30aa" fill-opacity="0.8"/><ellipse cx="272.6" cy="634.1" rx="1.6" ry="0.9" transform="rotate(-27 272.6 634.1)" fill="#5e30aa" fill-opacity="0.8"/><ellipse cx="240.6" cy="699.4" rx="1.2" ry="1.1" transform="rotate(101 240.6 699.4)" fill="#381870" fill-opacity="0.7"/><ellipse cx="276.3" cy="655.2" rx="2.7" ry="1.1" transform="rotate(-6 276.3 655.2)" fill="#4a2498" fill-opacity="0.7"/><ellipse cx="279.2" cy="706.3" rx="1.9" ry="1.1" transform="rotate(51 279.2 706.3)" fill="#381870" fill-opacity="0.6"/><ellipse cx="224.7" cy="656.8" rx="2.1" ry="0.8" transform="rotate(165 224.7 656.8)" fill="#4a2498" fill-opacity="0.8"/><ellipse cx="248.7" cy="651.2" rx="1.2" ry="0.7" transform="rotate(-36 248.7 651.2)" fill="#5e30aa" fill-opacity="0.8"/><ellipse cx="225.5" cy="702" rx="1.9" ry="0.8" transform="rotate(124 225.5 702)" fill="#4a2498" fill-opacity="0.8"/><ellipse cx="226.8" cy="683.7" rx="1.7" ry="0.7" transform="rotate(128 226.8 683.7)" fill="#0c0418" fill-opacity="0.6"/><ellipse cx="277.7" cy="700" rx="2.6" ry="0.9" transform="rotate(63 277.7 700)" fill="#0c0418" fill-opacity="0.7"/><ellipse cx="205.4" cy="671.7" rx="1.2" ry="0.9" transform="rotate(160 205.4 671.7)" fill="#0c0418" fill-opacity="0.6"/><ellipse cx="242.4" cy="663.7" rx="1.5" ry="0.6" transform="rotate(121 242.4 663.7)" fill="#381870" fill-opacity="0.6"/><ellipse cx="246.6" cy="660.2" rx="2.5" ry="0.7" transform="rotate(64 246.6 660.2)" fill="#381870" fill-opacity="0.8"/><ellipse cx="218.3" cy="696.3" rx="1.7" ry="1.2" transform="rotate(131 218.3 696.3)" fill="#080312" fill-opacity="0.5"/><ellipse cx="244.6" cy="675.1" rx="2.5" ry="0.8" transform="rotate(94 244.6 675.1)" fill="#5428a0" fill-opacity="0.8"/><ellipse cx="248.3" cy="654.2" rx="2.2" ry="1" transform="rotate(-10 248.3 654.2)" fill="#080312" fill-opacity="0.5"/><ellipse cx="208.6" cy="660.9" rx="1.8" ry="0.9" transform="rotate(158 208.6 660.9)" fill="#48208a" fill-opacity="0.5"/><ellipse cx="225.6" cy="650.9" rx="1.8" ry="0.8" transform="rotate(-153 225.6 650.9)" fill="#0c0418" fill-opacity="0.8"/><ellipse cx="248.2" cy="628" rx="2" ry="1" transform="rotate(-78 248.2 628)" fill="#0c0418" fill-opacity="0.6"/><ellipse cx="217.9" cy="644.1" rx="1.3" ry="0.8" transform="rotate(-171 217.9 644.1)" fill="#381870" fill-opacity="0.5"/><ellipse cx="277" cy="646.4" rx="2" ry="0.8" transform="rotate(-29 277 646.4)" fill="#4a2498" fill-opacity="0.6"/><ellipse cx="252.9" cy="697.8" rx="2.4" ry="0.7" transform="rotate(76 252.9 697.8)" fill="#5428a0" fill-opacity="0.6"/><ellipse cx="256.3" cy="662.9" rx="2.4" ry="1" transform="rotate(31 256.3 662.9)" fill="#4a2498" fill-opacity="0.6"/><ellipse cx="237.7" cy="681.5" rx="2.5" ry="1.2" transform="rotate(99 237.7 681.5)" fill="#48208a" fill-opacity="0.5"/><ellipse cx="229.3" cy="669.4" rx="2.2" ry="0.7" transform="rotate(127 229.3 669.4)" fill="#5428a0" fill-opacity="0.6"/><ellipse cx="274.3" cy="674.1" rx="1.8" ry="0.6" transform="rotate(19 274.3 674.1)" fill="#5428a0" fill-opacity="0.8"/><ellipse cx="250.3" cy="691.7" rx="2.1" ry="1" transform="rotate(75 250.3 691.7)" fill="#48208a" fill-opacity="0.6"/><ellipse cx="251.9" cy="686" rx="2.3" ry="0.9" transform="rotate(72 251.9 686)" fill="#080312" fill-opacity="0.6"/><ellipse cx="254.1" cy="671.3" rx="1.3" ry="0.9" transform="rotate(56 254.1 671.3)" fill="#381870" fill-opacity="0.8"/><ellipse cx="266.8" cy="645.9" rx="2.6" ry="0.8" transform="rotate(-18 266.8 645.9)" fill="#4a2498" fill-opacity="0.8"/><ellipse cx="247.4" cy="651.4" rx="1.5" ry="0.8" transform="rotate(-58 247.4 651.4)" fill="#381870" fill-opacity="0.5"/><ellipse cx="266.4" cy="672" rx="1.3" ry="1.2" transform="rotate(46 266.4 672)" fill="#4a2498" fill-opacity="0.5"/><ellipse cx="223" cy="630.2" rx="2" ry="1" transform="rotate(-134 223 630.2)" fill="#0c0418" fill-opacity="0.5"/><ellipse cx="278.7" cy="638.1" rx="2.5" ry="0.9" transform="rotate(-31 278.7 638.1)" fill="#0c0418" fill-opacity="0.6"/><ellipse cx="223.8" cy="637.7" rx="2.2" ry="1.1" transform="rotate(-143 223.8 637.7)" fill="#48208a" fill-opacity="0.6"/><ellipse cx="221" cy="660.8" rx="1.2" ry="0.7" transform="rotate(159 221 660.8)" fill="#5428a0" fill-opacity="0.5"/><ellipse cx="219.4" cy="698.3" rx="2.3" ry="0.7" transform="rotate(114 219.4 698.3)" fill="#381870" fill-opacity="0.8"/><ellipse cx="230.5" cy="630.5" rx="1.5" ry="0.8" transform="rotate(-129 230.5 630.5)" fill="#5428a0" fill-opacity="0.7"/><ellipse cx="277.8" cy="684.6" rx="2.6" ry="1.1" transform="rotate(46 277.8 684.6)" fill="#48208a" fill-opacity="0.5"/><ellipse cx="221.8" cy="683.4" rx="2.2" ry="0.8" transform="rotate(119 221.8 683.4)" fill="#5e30aa" fill-opacity="0.7"/><ellipse cx="227" cy="664.7" rx="2.6" ry="0.7" transform="rotate(155 227 664.7)" fill="#5428a0" fill-opacity="0.7"/><ellipse cx="265" cy="636.1" rx="1.7" ry="1.1" transform="rotate(-52 265 636.1)" fill="#381870" fill-opacity="0.6"/><ellipse cx="279.5" cy="704.7" rx="2.8" ry="1.1" transform="rotate(54 279.5 704.7)" fill="#080312" fill-opacity="0.7"/><ellipse cx="266.4" cy="637" rx="1.6" ry="1.1" transform="rotate(-39 266.4 637)" fill="#080312" fill-opacity="0.8"/><ellipse cx="220.4" cy="689.2" rx="1.3" ry="1" transform="rotate(119 220.4 689.2)" fill="#0c0418" fill-opacity="0.8"/><ellipse cx="243.4" cy="686.8" rx="2.3" ry="0.9" transform="rotate(93 243.4 686.8)" fill="#5428a0" fill-opacity="0.6"/><ellipse cx="280.7" cy="637.7" rx="2.6" ry="0.8" transform="rotate(-36 280.7 637.7)" fill="#381870" fill-opacity="0.8"/><ellipse cx="265.7" cy="701.7" rx="2.4" ry="0.7" transform="rotate(65 265.7 701.7)" fill="#4a2498" fill-opacity="0.5"/><ellipse cx="208" cy="704.9" rx="2.4" ry="1.1" transform="rotate(126 208 704.9)" fill="#381870" fill-opacity="0.7"/><ellipse cx="256.5" cy="662.9" rx="2.1" ry="0.9" transform="rotate(29 256.5 662.9)" fill="#48208a" fill-opacity="0.5"/><ellipse cx="236.6" cy="651.2" rx="2" ry="0.7" transform="rotate(-155 236.6 651.2)" fill="#5e30aa" fill-opacity="0.8"/><ellipse cx="280.5" cy="630.3" rx="2.7" ry="0.9" transform="rotate(-26 280.5 630.3)" fill="#080312" fill-opacity="0.7"/><ellipse cx="271.8" cy="699.7" rx="2.4" ry="0.8" transform="rotate(51 271.8 699.7)" fill="#381870" fill-opacity="0.6"/></g></g>
<g clip-path="url(#c21)"><g filter="url(#soft)"><rect x="283.1" y="630.1" width="74.2" height="74" fill="#0d0a1c"/><ellipse cx="343.2" cy="677.5" rx="1.3" ry="0.8" transform="rotate(33 343.2 677.5)" fill="#1c1440" fill-opacity="0.5"/><ellipse cx="328.8" cy="703" rx="1.6" ry="1.2" transform="rotate(106 328.8 703)" fill="#22184a" fill-opacity="0.3"/><ellipse cx="338.4" cy="668.4" rx="0.8" ry="0.7" transform="rotate(95 338.4 668.4)" fill="#22184a" fill-opacity="0.4"/><ellipse cx="335.4" cy="678.1" rx="2.2" ry="1.4" transform="rotate(69 335.4 678.1)" fill="#22184a" fill-opacity="0.6"/><ellipse cx="350.9" cy="654.7" rx="0.7" ry="0.6" transform="rotate(95 350.9 654.7)" fill="#1c1440" fill-opacity="0.4"/><ellipse cx="338.3" cy="686.3" rx="1.7" ry="1.1" transform="rotate(44 338.3 686.3)" fill="#22184a" fill-opacity="0.4"/><ellipse cx="350.3" cy="676.3" rx="1.3" ry="0.9" transform="rotate(27 350.3 676.3)" fill="#1c1440" fill-opacity="0.6"/><ellipse cx="351" cy="678.4" rx="2.1" ry="1.4" transform="rotate(157 351 678.4)" fill="#22184a" fill-opacity="0.5"/><ellipse cx="312.3" cy="658.6" rx="0.9" ry="0.8" transform="rotate(124 312.3 658.6)" fill="#22184a" fill-opacity="0.4"/><ellipse cx="328.1" cy="680.8" rx="1.1" ry="0.8" transform="rotate(108 328.1 680.8)" fill="#22184a" fill-opacity="0.5"/><ellipse cx="317.1" cy="659.6" rx="0.9" ry="0.8" transform="rotate(85 317.1 659.6)" fill="#1c1440" fill-opacity="0.6"/><ellipse cx="291.3" cy="670.9" rx="1.2" ry="1" transform="rotate(15 291.3 670.9)" fill="#22184a" fill-opacity="0.4"/><ellipse cx="328.6" cy="663.3" rx="1.7" ry="1.3" transform="rotate(113 328.6 663.3)" fill="#22184a" fill-opacity="0.6"/><ellipse cx="310.2" cy="670" rx="1.4" ry="1.1" transform="rotate(65 310.2 670)" fill="#22184a" fill-opacity="0.4"/><ellipse cx="315.5" cy="671.7" rx="1" ry="0.7" transform="rotate(53 315.5 671.7)" fill="#1c1440" fill-opacity="0.3"/><ellipse cx="332.7" cy="668.1" rx="1.9" ry="1.4" transform="rotate(110 332.7 668.1)" fill="#1c1440" fill-opacity="0.4"/><ellipse cx="336.5" cy="701.4" rx="1.3" ry="1" transform="rotate(83 336.5 701.4)" fill="#1c1440" fill-opacity="0.4"/><ellipse cx="341.8" cy="694" rx="1.2" ry="0.8" transform="rotate(82 341.8 694)" fill="#1c1440" fill-opacity="0.5"/><ellipse cx="329.6" cy="651" rx="1.1" ry="0.9" transform="rotate(167 329.6 651)" fill="#22184a" fill-opacity="0.3"/><ellipse cx="343.2" cy="638.1" rx="1.3" ry="1.1" transform="rotate(126 343.2 638.1)" fill="#1c1440" fill-opacity="0.5"/><ellipse cx="290.4" cy="652.6" rx="1.2" ry="0.8" transform="rotate(141 290.4 652.6)" fill="#1c1440" fill-opacity="0.3"/><ellipse cx="292.1" cy="636.7" rx="1.6" ry="1" transform="rotate(66 292.1 636.7)" fill="#22184a" fill-opacity="0.4"/><ellipse cx="297.1" cy="694.8" rx="1.3" ry="0.9" transform="rotate(146 297.1 694.8)" fill="#1c1440" fill-opacity="0.6"/><ellipse cx="321.7" cy="676" rx="1.4" ry="1" transform="rotate(27 321.7 676)" fill="#1c1440" fill-opacity="0.3"/><ellipse cx="330.5" cy="640.8" rx="1.9" ry="1.1" transform="rotate(10 330.5 640.8)" fill="#1c1440" fill-opacity="0.6"/></g></g>
<g clip-path="url(#c31)"><g filter="url(#soft)"><rect x="360.3" y="630.1" width="74.2" height="74" fill="#09070f"/><ellipse cx="385.8" cy="697.3" rx="1" ry="0.6" transform="rotate(15 385.8 697.3)" fill="#1c163a" fill-opacity="0.6"/><ellipse cx="409.5" cy="703.3" rx="1.3" ry="1" transform="rotate(9 409.5 703.3)" fill="#1c163a" fill-opacity="0.3"/><ellipse cx="383.1" cy="699.9" rx="1" ry="0.8" transform="rotate(81 383.1 699.9)" fill="#1c163a" fill-opacity="0.4"/><ellipse cx="409.7" cy="632.1" rx="0.8" ry="0.7" transform="rotate(114 409.7 632.1)" fill="#181232" fill-opacity="0.6"/><ellipse cx="397.4" cy="679.1" rx="0.9" ry="0.8" transform="rotate(44 397.4 679.1)" fill="#1c163a" fill-opacity="0.5"/><ellipse cx="380.4" cy="651.6" rx="1.6" ry="1.3" transform="rotate(37 380.4 651.6)" fill="#1c163a" fill-opacity="0.3"/><ellipse cx="406.6" cy="630.1" rx="1.6" ry="1.3" transform="rotate(99 406.6 630.1)" fill="#181232" fill-opacity="0.5"/><ellipse cx="360.7" cy="698.4" rx="0.9" ry="0.8" transform="rotate(102 360.7 698.4)" fill="#181232" fill-opacity="0.4"/><ellipse cx="401.1" cy="656.1" rx="1.2" ry="0.8" transform="rotate(175 401.1 656.1)" fill="#181232" fill-opacity="0.5"/><ellipse cx="389" cy="639.4" rx="1.5" ry="1" transform="rotate(14 389 639.4)" fill="#1c163a" fill-opacity="0.4"/><ellipse cx="408.7" cy="693.2" rx="0.8" ry="0.7" transform="rotate(158 408.7 693.2)" fill="#181232" fill-opacity="0.3"/><ellipse cx="429.4" cy="645.4" rx="1.8" ry="1.4" transform="rotate(105 429.4 645.4)" fill="#181232" fill-opacity="0.3"/><ellipse cx="397.9" cy="685.6" rx="2" ry="1.2" transform="rotate(122 397.9 685.6)" fill="#181232" fill-opacity="0.4"/><ellipse cx="377.5" cy="688" rx="0.7" ry="0.6" transform="rotate(164 377.5 688)" fill="#181232" fill-opacity="0.4"/><ellipse cx="372.4" cy="700.6" rx="1.7" ry="1.1" transform="rotate(109 372.4 700.6)" fill="#1c163a" fill-opacity="0.6"/></g></g>
<g clip-path="url(#c02)"><g filter="url(#soft)"><rect x="128.7" y="707.3" width="74.2" height="74" fill="#0a0405"/><ellipse cx="133.4" cy="735.3" rx="1" ry="0.7" transform="rotate(70 133.4 735.3)" fill="#2a0808" fill-opacity="0.5"/><ellipse cx="140.8" cy="749.7" rx="1.7" ry="1.1" transform="rotate(9 140.8 749.7)" fill="#2a0808" fill-opacity="0.4"/><ellipse cx="145.5" cy="726.1" rx="0.8" ry="0.7" transform="rotate(25 145.5 726.1)" fill="#3a0a0e" fill-opacity="0.3"/><ellipse cx="140.6" cy="775" rx="1.3" ry="1.1" transform="rotate(144 140.6 775)" fill="#2a0808" fill-opacity="0.4"/><ellipse cx="179.7" cy="738" rx="1" ry="0.6" transform="rotate(129 179.7 738)" fill="#2a0808" fill-opacity="0.4"/><ellipse cx="141.6" cy="735" rx="0.9" ry="0.7" transform="rotate(131 141.6 735)" fill="#2a0808" fill-opacity="0.3"/><ellipse cx="147.4" cy="743" rx="2.1" ry="1.2" transform="rotate(1 147.4 743)" fill="#2a0808" fill-opacity="0.3"/><ellipse cx="144.1" cy="717.3" rx="1.5" ry="0.8" transform="rotate(173 144.1 717.3)" fill="#3a0a0e" fill-opacity="0.4"/><ellipse cx="194" cy="754.8" rx="1.2" ry="1.2" transform="rotate(141 194 754.8)" fill="#2a0808" fill-opacity="0.6"/><ellipse cx="195.9" cy="758.4" rx="1.4" ry="1.2" transform="rotate(97 195.9 758.4)" fill="#3a0a0e" fill-opacity="0.5"/><ellipse cx="195.8" cy="717.2" rx="1.5" ry="1" transform="rotate(158 195.8 717.2)" fill="#3a0a0e" fill-opacity="0.5"/><ellipse cx="162.8" cy="753.9" rx="1.6" ry="1.1" transform="rotate(144 162.8 753.9)" fill="#2a0808" fill-opacity="0.4"/><ellipse cx="129.9" cy="763.8" rx="0.9" ry="0.8" transform="rotate(69 129.9 763.8)" fill="#2a0808" fill-opacity="0.3"/><ellipse cx="147" cy="739.5" rx="2" ry="1.2" transform="rotate(126 147 739.5)" fill="#3a0a0e" fill-opacity="0.6"/><ellipse cx="128.8" cy="732.6" rx="0.7" ry="0.6" transform="rotate(49 128.8 732.6)" fill="#3a0a0e" fill-opacity="0.3"/><ellipse cx="193" cy="739.1" rx="0.7" ry="0.6" transform="rotate(94 193 739.1)" fill="#3a0a0e" fill-opacity="0.4"/><ellipse cx="151.5" cy="732.1" rx="1.1" ry="0.9" transform="rotate(0 151.5 732.1)" fill="#3a0a0e" fill-opacity="0.6"/><ellipse cx="172.5" cy="716.9" rx="1" ry="0.9" transform="rotate(25 172.5 716.9)" fill="#2a0808" fill-opacity="0.4"/><ellipse cx="159.2" cy="733.5" rx="1.7" ry="0.9" transform="rotate(34 159.2 733.5)" fill="#2a0808" fill-opacity="0.5"/><ellipse cx="188.5" cy="740.6" rx="1.1" ry="0.9" transform="rotate(147 188.5 740.6)" fill="#2a0808" fill-opacity="0.3"/></g></g>
<g clip-path="url(#c12)"><g filter="url(#soft)"><rect x="206" y="707.3" width="74.2" height="74" fill="#1a0303"/><ellipse cx="256.2" cy="775.5" rx="1.7" ry="1" transform="rotate(77 256.2 775.5)" fill="#000000" fill-opacity="0.8"/><ellipse cx="229.1" cy="708.7" rx="1.9" ry="1.1" transform="rotate(-124 229.1 708.7)" fill="#c42020" fill-opacity="0.7"/><ellipse cx="215.3" cy="770.4" rx="1.5" ry="0.7" transform="rotate(128 215.3 770.4)" fill="#000000" fill-opacity="0.6"/><ellipse cx="224.2" cy="761.2" rx="2.1" ry="1" transform="rotate(135 224.2 761.2)" fill="#701010" fill-opacity="0.9"/><ellipse cx="203" cy="746.7" rx="2.1" ry="0.9" transform="rotate(169 203 746.7)" fill="#300404" fill-opacity="0.8"/><ellipse cx="253.8" cy="753.7" rx="1.3" ry="1" transform="rotate(76 253.8 753.7)" fill="#701010" fill-opacity="0.8"/><ellipse cx="254.8" cy="775.4" rx="2.4" ry="0.9" transform="rotate(64 254.8 775.4)" fill="#901010" fill-opacity="0.6"/><ellipse cx="247.2" cy="778.9" rx="1.3" ry="1.1" transform="rotate(80 247.2 778.9)" fill="#701010" fill-opacity="0.8"/><ellipse cx="213.5" cy="720.4" rx="1.5" ry="1" transform="rotate(-167 213.5 720.4)" fill="#901010" fill-opacity="0.7"/><ellipse cx="218.5" cy="737.5" rx="1.4" ry="1" transform="rotate(154 218.5 737.5)" fill="#b81818" fill-opacity="0.6"/><ellipse cx="239.1" cy="775.6" rx="2.1" ry="1" transform="rotate(92 239.1 775.6)" fill="#901010" fill-opacity="0.9"/><ellipse cx="275.8" cy="772.9" rx="2.4" ry="0.9" transform="rotate(54 275.8 772.9)" fill="#000000" fill-opacity="0.6"/><ellipse cx="273.7" cy="752.4" rx="2.4" ry="0.7" transform="rotate(46 273.7 752.4)" fill="#a81414" fill-opacity="0.8"/><ellipse cx="226" cy="735.6" rx="2.1" ry="1.1" transform="rotate(162 226 735.6)" fill="#300404" fill-opacity="0.7"/><ellipse cx="246.7" cy="715.7" rx="1.5" ry="0.9" transform="rotate(-92 246.7 715.7)" fill="#901010" fill-opacity="0.8"/><ellipse cx="270.3" cy="755" rx="2.1" ry="0.7" transform="rotate(43 270.3 755)" fill="#701010" fill-opacity="0.9"/><ellipse cx="206.4" cy="728.6" rx="1.6" ry="1" transform="rotate(-184 206.4 728.6)" fill="#300404" fill-opacity="0.7"/><ellipse cx="259" cy="765.3" rx="1.7" ry="1" transform="rotate(80 259 765.3)" fill="#a81414" fill-opacity="0.8"/><ellipse cx="208.4" cy="758.5" rx="1.6" ry="1.1" transform="rotate(140 208.4 758.5)" fill="#000000" fill-opacity="0.8"/><ellipse cx="221.8" cy="749.5" rx="1.6" ry="1" transform="rotate(149 221.8 749.5)" fill="#c42020" fill-opacity="0.8"/><ellipse cx="233.5" cy="720.4" rx="2.6" ry="0.9" transform="rotate(-140 233.5 720.4)" fill="#901010" fill-opacity="0.9"/><ellipse cx="236.4" cy="773.4" rx="1.7" ry="1.1" transform="rotate(92 236.4 773.4)" fill="#c42020" fill-opacity="0.6"/><ellipse cx="282.1" cy="726.6" rx="2.5" ry="1" transform="rotate(-4 282.1 726.6)" fill="#c42020" fill-opacity="0.7"/><ellipse cx="271.6" cy="746.9" rx="2.1" ry="0.9" transform="rotate(22 271.6 746.9)" fill="#a81414" fill-opacity="0.6"/><ellipse cx="281" cy="729.7" rx="1.6" ry="0.9" transform="rotate(-18 281 729.7)" fill="#300404" fill-opacity="0.8"/><ellipse cx="230.3" cy="741.5" rx="1.9" ry="0.8" transform="rotate(155 230.3 741.5)" fill="#b81818" fill-opacity="0.6"/><ellipse cx="279.5" cy="755.6" rx="1.3" ry="1.1" transform="rotate(40 279.5 755.6)" fill="#a81414" fill-opacity="0.7"/><ellipse cx="281.8" cy="777.1" rx="1.3" ry="1" transform="rotate(48 281.8 777.1)" fill="#b81818" fill-opacity="0.6"/><ellipse cx="218.5" cy="709.9" rx="2.1" ry="0.7" transform="rotate(-132 218.5 709.9)" fill="#b81818" fill-opacity="0.6"/><ellipse cx="282.4" cy="748.7" rx="1.5" ry="1.1" transform="rotate(23 282.4 748.7)" fill="#a81414" fill-opacity="0.7"/><ellipse cx="278.2" cy="731.2" rx="2.2" ry="0.7" transform="rotate(4 278.2 731.2)" fill="#701010" fill-opacity="0.8"/><ellipse cx="251.5" cy="712.7" rx="2.6" ry="1" transform="rotate(-62 251.5 712.7)" fill="#c42020" fill-opacity="0.8"/><ellipse cx="257.1" cy="761.7" rx="2.5" ry="0.7" transform="rotate(69 257.1 761.7)" fill="#901010" fill-opacity="0.8"/><ellipse cx="248.4" cy="777.3" rx="2.3" ry="0.8" transform="rotate(85 248.4 777.3)" fill="#701010" fill-opacity="0.8"/><ellipse cx="220.8" cy="757.4" rx="1.8" ry="0.6" transform="rotate(123 220.8 757.4)" fill="#000000" fill-opacity="0.6"/><ellipse cx="212.6" cy="764.8" rx="1.3" ry="1.1" transform="rotate(129 212.6 764.8)" fill="#c42020" fill-opacity="0.8"/><ellipse cx="245.6" cy="717.2" rx="1.6" ry="0.6" transform="rotate(-103 245.6 717.2)" fill="#b81818" fill-opacity="0.7"/><ellipse cx="282.4" cy="738.8" rx="1.7" ry="1" transform="rotate(14 282.4 738.8)" fill="#701010" fill-opacity="0.6"/><ellipse cx="250.3" cy="720.1" rx="1.3" ry="0.7" transform="rotate(-79 250.3 720.1)" fill="#901010" fill-opacity="0.7"/><ellipse cx="249.6" cy="732.9" rx="2.4" ry="0.9" transform="rotate(-3 249.6 732.9)" fill="#901010" fill-opacity="0.9"/><ellipse cx="233" cy="731.9" rx="2.3" ry="0.9" transform="rotate(-183 233 731.9)" fill="#a81414" fill-opacity="0.7"/><ellipse cx="282.3" cy="724" rx="2.7" ry="0.7" transform="rotate(-9 282.3 724)" fill="#701010" fill-opacity="0.6"/><ellipse cx="242.2" cy="744.4" rx="1.6" ry="0.7" transform="rotate(104 242.2 744.4)" fill="#300404" fill-opacity="0.9"/><ellipse cx="246.9" cy="747" rx="2.6" ry="1" transform="rotate(72 246.9 747)" fill="#701010" fill-opacity="0.8"/><ellipse cx="283" cy="728.3" rx="2" ry="0.8" transform="rotate(4 283 728.3)" fill="#c42020" fill-opacity="0.8"/><ellipse cx="270.9" cy="722.2" rx="2" ry="0.8" transform="rotate(-23 270.9 722.2)" fill="#a81414" fill-opacity="0.8"/><ellipse cx="259.1" cy="735.6" rx="1.7" ry="0.8" transform="rotate(27 259.1 735.6)" fill="#a81414" fill-opacity="0.6"/><ellipse cx="274.4" cy="737.9" rx="1.8" ry="1" transform="rotate(22 274.4 737.9)" fill="#901010" fill-opacity="0.7"/><ellipse cx="237" cy="770.4" rx="1.9" ry="0.7" transform="rotate(102 237 770.4)" fill="#701010" fill-opacity="0.9"/><ellipse cx="219" cy="751.9" rx="1.6" ry="1" transform="rotate(132 219 751.9)" fill="#300404" fill-opacity="0.6"/><ellipse cx="210.4" cy="704.3" rx="2.5" ry="0.7" transform="rotate(-156 210.4 704.3)" fill="#701010" fill-opacity="0.8"/><ellipse cx="250.4" cy="754.8" rx="1.5" ry="0.6" transform="rotate(89 250.4 754.8)" fill="#901010" fill-opacity="0.6"/><ellipse cx="216.1" cy="772" rx="2.4" ry="0.7" transform="rotate(119 216.1 772)" fill="#901010" fill-opacity="0.6"/><ellipse cx="223" cy="714.1" rx="1.7" ry="0.7" transform="rotate(-127 223 714.1)" fill="#c42020" fill-opacity="0.6"/><ellipse cx="217.6" cy="733.3" rx="1.7" ry="0.7" transform="rotate(190 217.6 733.3)" fill="#000000" fill-opacity="0.6"/><ellipse cx="214" cy="747.1" rx="1.7" ry="0.9" transform="rotate(161 214 747.1)" fill="#a81414" fill-opacity="0.7"/><ellipse cx="217.6" cy="777.1" rx="2.7" ry="1.1" transform="rotate(133 217.6 777.1)" fill="#c42020" fill-opacity="0.6"/><ellipse cx="261.3" cy="755" rx="2.3" ry="0.9" transform="rotate(56 261.3 755)" fill="#a81414" fill-opacity="0.6"/><ellipse cx="282.8" cy="777.7" rx="1.9" ry="0.7" transform="rotate(62 282.8 777.7)" fill="#c42020" fill-opacity="0.7"/><ellipse cx="267.5" cy="714.2" rx="2.2" ry="0.7" transform="rotate(-48 267.5 714.2)" fill="#701010" fill-opacity="0.6"/><ellipse cx="263.9" cy="735.5" rx="1.3" ry="1" transform="rotate(-4 263.9 735.5)" fill="#000000" fill-opacity="0.7"/><ellipse cx="266.6" cy="735.9" rx="1.6" ry="1" transform="rotate(13 266.6 735.9)" fill="#000000" fill-opacity="0.9"/><ellipse cx="210.1" cy="736.2" rx="1.6" ry="0.9" transform="rotate(159 210.1 736.2)" fill="#300404" fill-opacity="0.7"/><ellipse cx="273.8" cy="771" rx="2.6" ry="0.8" transform="rotate(51 273.8 771)" fill="#300404" fill-opacity="0.6"/><ellipse cx="216.3" cy="718.1" rx="1.7" ry="0.8" transform="rotate(-157 216.3 718.1)" fill="#b81818" fill-opacity="0.9"/><ellipse cx="268.9" cy="729.8" rx="1.4" ry="0.8" transform="rotate(0 268.9 729.8)" fill="#b81818" fill-opacity="0.8"/><ellipse cx="278.9" cy="773.1" rx="2" ry="0.6" transform="rotate(37 278.9 773.1)" fill="#c42020" fill-opacity="0.7"/><ellipse cx="266.2" cy="726.9" rx="1.9" ry="0.9" transform="rotate(-22 266.2 726.9)" fill="#300404" fill-opacity="0.6"/><ellipse cx="247.4" cy="750.2" rx="2.3" ry="1.1" transform="rotate(72 247.4 750.2)" fill="#300404" fill-opacity="0.8"/><ellipse cx="271" cy="767.8" rx="2.6" ry="0.7" transform="rotate(53 271 767.8)" fill="#300404" fill-opacity="0.7"/><ellipse cx="214.9" cy="705.6" rx="1.3" ry="0.8" transform="rotate(-140 214.9 705.6)" fill="#901010" fill-opacity="0.8"/><ellipse cx="277.2" cy="782.7" rx="1.7" ry="0.9" transform="rotate(44 277.2 782.7)" fill="#701010" fill-opacity="0.8"/><ellipse cx="234.1" cy="708.3" rx="1.4" ry="1" transform="rotate(-111 234.1 708.3)" fill="#701010" fill-opacity="0.6"/><ellipse cx="234.7" cy="733.2" rx="2.4" ry="0.7" transform="rotate(187 234.7 733.2)" fill="#a81414" fill-opacity="0.6"/><ellipse cx="217.6" cy="761.2" rx="2.7" ry="0.7" transform="rotate(126 217.6 761.2)" fill="#a81414" fill-opacity="0.8"/><ellipse cx="222.2" cy="776.5" rx="1.3" ry="0.8" transform="rotate(107 222.2 776.5)" fill="#b81818" fill-opacity="0.6"/><ellipse cx="236.6" cy="717.8" rx="1.3" ry="0.6" transform="rotate(-137 236.6 717.8)" fill="#000000" fill-opacity="0.6"/><ellipse cx="227.8" cy="720.3" rx="2.4" ry="1" transform="rotate(-137 227.8 720.3)" fill="#c42020" fill-opacity="0.7"/><ellipse cx="228.7" cy="708.6" rx="1.5" ry="0.7" transform="rotate(-134 228.7 708.6)" fill="#701010" fill-opacity="0.7"/><ellipse cx="282.7" cy="717.6" rx="1.3" ry="0.8" transform="rotate(-14 282.7 717.6)" fill="#000000" fill-opacity="0.8"/><ellipse cx="265.6" cy="740.1" rx="1.5" ry="0.6" transform="rotate(27 265.6 740.1)" fill="#701010" fill-opacity="0.8"/><ellipse cx="223.8" cy="720.2" rx="2.2" ry="0.7" transform="rotate(-159 223.8 720.2)" fill="#901010" fill-opacity="0.8"/><ellipse cx="222.9" cy="722.4" rx="2.6" ry="0.7" transform="rotate(-153 222.9 722.4)" fill="#b81818" fill-opacity="0.6"/><ellipse cx="210.1" cy="737.9" rx="2.7" ry="0.9" transform="rotate(164 210.1 737.9)" fill="#000000" fill-opacity="0.6"/><ellipse cx="204.7" cy="778.1" rx="2.1" ry="1" transform="rotate(145 204.7 778.1)" fill="#a81414" fill-opacity="0.8"/><ellipse cx="235.5" cy="768" rx="2.2" ry="0.7" transform="rotate(113 235.5 768)" fill="#701010" fill-opacity="0.8"/><ellipse cx="238.3" cy="719.2" rx="2" ry="0.9" transform="rotate(-112 238.3 719.2)" fill="#000000" fill-opacity="0.7"/><ellipse cx="277.9" cy="753.4" rx="2.6" ry="0.7" transform="rotate(33 277.9 753.4)" fill="#a81414" fill-opacity="0.7"/><ellipse cx="266.7" cy="768.9" rx="1.9" ry="0.9" transform="rotate(66 266.7 768.9)" fill="#b81818" fill-opacity="0.7"/><ellipse cx="253" cy="760.9" rx="1.8" ry="0.7" transform="rotate(82 253 760.9)" fill="#300404" fill-opacity="0.7"/><ellipse cx="271.3" cy="723.5" rx="1.9" ry="0.7" transform="rotate(-10 271.3 723.5)" fill="#000000" fill-opacity="0.7"/><ellipse cx="223.9" cy="765.8" rx="2.5" ry="0.7" transform="rotate(135 223.9 765.8)" fill="#a81414" fill-opacity="0.6"/><ellipse cx="250" cy="753.5" rx="1.9" ry="0.7" transform="rotate(74 250 753.5)" fill="#a81414" fill-opacity="0.8"/><ellipse cx="257.6" cy="736.3" rx="2.1" ry="1.1" transform="rotate(12 257.6 736.3)" fill="#000000" fill-opacity="0.6"/><ellipse cx="239.3" cy="749.4" rx="2.4" ry="0.7" transform="rotate(100 239.3 749.4)" fill="#901010" fill-opacity="0.7"/><ellipse cx="260.6" cy="777.6" rx="2.1" ry="0.7" transform="rotate(68 260.6 777.6)" fill="#a81414" fill-opacity="0.9"/><ellipse cx="205.9" cy="767.2" rx="2.8" ry="0.9" transform="rotate(144 205.9 767.2)" fill="#300404" fill-opacity="0.8"/><ellipse cx="251.2" cy="730.1" rx="1.7" ry="1" transform="rotate(-37 251.2 730.1)" fill="#000000" fill-opacity="0.7"/><ellipse cx="273.3" cy="722.1" rx="2.3" ry="1" transform="rotate(-34 273.3 722.1)" fill="#b81818" fill-opacity="0.8"/><ellipse cx="266.8" cy="726.6" rx="2.6" ry="0.8" transform="rotate(-10 266.8 726.6)" fill="#000000" fill-opacity="0.7"/><ellipse cx="258" cy="774.2" rx="2.3" ry="1.1" transform="rotate(82 258 774.2)" fill="#300404" fill-opacity="0.6"/><ellipse cx="257" cy="721.1" rx="1.4" ry="0.8" transform="rotate(-32 257 721.1)" fill="#701010" fill-opacity="0.6"/><ellipse cx="262.7" cy="718.5" rx="1.4" ry="0.9" transform="rotate(-48 262.7 718.5)" fill="#901010" fill-opacity="0.7"/><ellipse cx="227.5" cy="765.4" rx="1.7" ry="1.1" transform="rotate(131 227.5 765.4)" fill="#300404" fill-opacity="0.8"/><ellipse cx="250.6" cy="717.6" rx="1.7" ry="0.6" transform="rotate(-86 250.6 717.6)" fill="#300404" fill-opacity="0.9"/><ellipse cx="277.7" cy="712.1" rx="1.9" ry="1" transform="rotate(-42 277.7 712.1)" fill="#901010" fill-opacity="0.8"/><ellipse cx="278.1" cy="748.7" rx="1.6" ry="0.9" transform="rotate(37 278.1 748.7)" fill="#701010" fill-opacity="0.8"/><ellipse cx="266.6" cy="718.6" rx="1.3" ry="1.1" transform="rotate(-24 266.6 718.6)" fill="#901010" fill-opacity="0.7"/><ellipse cx="251.4" cy="742.4" rx="2.3" ry="0.9" transform="rotate(56 251.4 742.4)" fill="#a81414" fill-opacity="0.7"/><ellipse cx="246.5" cy="772.1" rx="1.2" ry="0.8" transform="rotate(76 246.5 772.1)" fill="#c42020" fill-opacity="0.6"/><ellipse cx="257.7" cy="740.2" rx="2.7" ry="1" transform="rotate(42 257.7 740.2)" fill="#c42020" fill-opacity="0.6"/><ellipse cx="257.9" cy="781.9" rx="1.3" ry="1" transform="rotate(71 257.9 781.9)" fill="#a81414" fill-opacity="0.6"/><ellipse cx="231.1" cy="751.8" rx="2" ry="0.7" transform="rotate(137 231.1 751.8)" fill="#701010" fill-opacity="0.7"/><ellipse cx="282.4" cy="706.4" rx="1.9" ry="0.7" transform="rotate(-45 282.4 706.4)" fill="#c42020" fill-opacity="0.8"/><ellipse cx="278.8" cy="731.5" rx="1.5" ry="1" transform="rotate(13 278.8 731.5)" fill="#701010" fill-opacity="0.6"/><ellipse cx="243.2" cy="772.9" rx="2.4" ry="1" transform="rotate(94 243.2 772.9)" fill="#901010" fill-opacity="0.6"/><ellipse cx="213.6" cy="714" rx="1.8" ry="0.8" transform="rotate(-145 213.6 714)" fill="#300404" fill-opacity="0.7"/><ellipse cx="249.4" cy="737.2" rx="1.8" ry="0.7" transform="rotate(40 249.4 737.2)" fill="#701010" fill-opacity="0.8"/><ellipse cx="226.2" cy="759.2" rx="1.3" ry="0.6" transform="rotate(133 226.2 759.2)" fill="#000000" fill-opacity="0.6"/><ellipse cx="283" cy="751.3" rx="1.8" ry="0.9" transform="rotate(26 283 751.3)" fill="#701010" fill-opacity="0.9"/><ellipse cx="206.3" cy="750.5" rx="2.8" ry="0.8" transform="rotate(165 206.3 750.5)" fill="#701010" fill-opacity="0.6"/><ellipse cx="279.4" cy="715.2" rx="2" ry="0.6" transform="rotate(-28 279.4 715.2)" fill="#b81818" fill-opacity="0.8"/><ellipse cx="219.9" cy="717.2" rx="2.4" ry="0.9" transform="rotate(-163 219.9 717.2)" fill="#300404" fill-opacity="0.7"/><ellipse cx="230.9" cy="712.6" rx="2.2" ry="0.7" transform="rotate(-126 230.9 712.6)" fill="#000000" fill-opacity="0.6"/><ellipse cx="268.5" cy="733.8" rx="2.6" ry="0.8" transform="rotate(13 268.5 733.8)" fill="#a81414" fill-opacity="0.8"/><ellipse cx="221" cy="769.4" rx="2.4" ry="0.8" transform="rotate(136 221 769.4)" fill="#901010" fill-opacity="0.8"/><ellipse cx="220.1" cy="758.5" rx="2.6" ry="0.9" transform="rotate(146 220.1 758.5)" fill="#901010" fill-opacity="0.6"/><ellipse cx="205.9" cy="780.8" rx="1.6" ry="0.8" transform="rotate(118 205.9 780.8)" fill="#c42020" fill-opacity="0.8"/><ellipse cx="225.6" cy="744.3" rx="1.4" ry="1" transform="rotate(155 225.6 744.3)" fill="#b81818" fill-opacity="0.8"/><ellipse cx="249.9" cy="729.1" rx="2.7" ry="0.6" transform="rotate(-49 249.9 729.1)" fill="#000000" fill-opacity="0.7"/><ellipse cx="206.7" cy="783.5" rx="1.7" ry="0.9" transform="rotate(136 206.7 783.5)" fill="#a81414" fill-opacity="0.8"/><ellipse cx="252.5" cy="774.7" rx="2.6" ry="0.8" transform="rotate(93 252.5 774.7)" fill="#701010" fill-opacity="0.7"/><ellipse cx="242.2" cy="767.3" rx="2.2" ry="1.1" transform="rotate(105 242.2 767.3)" fill="#b81818" fill-opacity="0.7"/><ellipse cx="250.9" cy="724.2" rx="2.7" ry="1" transform="rotate(-63 250.9 724.2)" fill="#701010" fill-opacity="0.6"/><ellipse cx="283.2" cy="712.3" rx="2.2" ry="0.9" transform="rotate(-39 283.2 712.3)" fill="#701010" fill-opacity="0.8"/><ellipse cx="252.6" cy="725.4" rx="1.4" ry="0.8" transform="rotate(-60 252.6 725.4)" fill="#a81414" fill-opacity="0.6"/><ellipse cx="258.3" cy="781.2" rx="1.7" ry="0.6" transform="rotate(88 258.3 781.2)" fill="#000000" fill-opacity="0.8"/><ellipse cx="228.2" cy="720.8" rx="1.4" ry="0.8" transform="rotate(-150 228.2 720.8)" fill="#300404" fill-opacity="0.7"/><ellipse cx="278.8" cy="757.8" rx="1.7" ry="0.8" transform="rotate(45 278.8 757.8)" fill="#b81818" fill-opacity="0.9"/><ellipse cx="228.3" cy="727" rx="1.9" ry="0.7" transform="rotate(-154 228.3 727)" fill="#300404" fill-opacity="0.8"/><ellipse cx="235" cy="771.5" rx="2.7" ry="0.7" transform="rotate(110 235 771.5)" fill="#a81414" fill-opacity="0.7"/><ellipse cx="247" cy="775.6" rx="2.4" ry="1" transform="rotate(96 247 775.6)" fill="#701010" fill-opacity="0.7"/><ellipse cx="209" cy="740.8" rx="2.6" ry="0.9" transform="rotate(159 209 740.8)" fill="#a81414" fill-opacity="0.7"/><ellipse cx="236.6" cy="725.5" rx="2.4" ry="0.7" transform="rotate(-157 236.6 725.5)" fill="#000000" fill-opacity="0.7"/><ellipse cx="217.9" cy="735" rx="2.1" ry="0.7" transform="rotate(169 217.9 735)" fill="#c42020" fill-opacity="0.6"/><ellipse cx="218.4" cy="749.2" rx="2.7" ry="1.1" transform="rotate(154 218.4 749.2)" fill="#901010" fill-opacity="0.6"/><ellipse cx="241" cy="753.6" rx="1.8" ry="1" transform="rotate(107 241 753.6)" fill="#901010" fill-opacity="0.8"/><ellipse cx="275.8" cy="740" rx="1.7" ry="0.8" transform="rotate(15 275.8 740)" fill="#a81414" fill-opacity="0.8"/><ellipse cx="234.8" cy="746.6" rx="1.6" ry="0.9" transform="rotate(127 234.8 746.6)" fill="#901010" fill-opacity="0.9"/><ellipse cx="207.7" cy="757.5" rx="1.5" ry="0.9" transform="rotate(139 207.7 757.5)" fill="#c42020" fill-opacity="0.6"/><ellipse cx="259.4" cy="737.8" rx="1.7" ry="0.7" transform="rotate(25 259.4 737.8)" fill="#000000" fill-opacity="0.7"/><ellipse cx="234.5" cy="713.9" rx="2" ry="0.8" transform="rotate(-110 234.5 713.9)" fill="#b81818" fill-opacity="0.9"/><ellipse cx="253.6" cy="725.2" rx="2.1" ry="1" transform="rotate(-47 253.6 725.2)" fill="#000000" fill-opacity="0.6"/><ellipse cx="220.7" cy="764.1" rx="2.2" ry="0.9" transform="rotate(141 220.7 764.1)" fill="#a81414" fill-opacity="0.8"/><ellipse cx="258.3" cy="729.1" rx="1.4" ry="0.9" transform="rotate(-22 258.3 729.1)" fill="#300404" fill-opacity="0.6"/><ellipse cx="274.8" cy="731" rx="1.5" ry="0.9" transform="rotate(-7 274.8 731)" fill="#c42020" fill-opacity="0.8"/><ellipse cx="211.1" cy="729.1" rx="1.4" ry="0.8" transform="rotate(-173 211.1 729.1)" fill="#701010" fill-opacity="0.6"/><ellipse cx="272.9" cy="709.9" rx="2.6" ry="1" transform="rotate(-46 272.9 709.9)" fill="#901010" fill-opacity="0.7"/><ellipse cx="206.2" cy="743" rx="1.4" ry="0.7" transform="rotate(176 206.2 743)" fill="#c42020" fill-opacity="0.6"/><ellipse cx="275.2" cy="706" rx="2.3" ry="1" transform="rotate(-45 275.2 706)" fill="#300404" fill-opacity="0.8"/><ellipse cx="242.9" cy="726.8" rx="1.5" ry="0.6" transform="rotate(-118 242.9 726.8)" fill="#c42020" fill-opacity="0.6"/><ellipse cx="238.6" cy="717.3" rx="2.4" ry="0.8" transform="rotate(-130 238.6 717.3)" fill="#000000" fill-opacity="0.7"/><ellipse cx="213.7" cy="774.9" rx="1.5" ry="1.1" transform="rotate(139 213.7 774.9)" fill="#a81414" fill-opacity="0.6"/><ellipse cx="257.7" cy="709.9" rx="2.8" ry="0.9" transform="rotate(-76 257.7 709.9)" fill="#a81414" fill-opacity="0.7"/><ellipse cx="253.8" cy="782.7" rx="2" ry="0.8" transform="rotate(66 253.8 782.7)" fill="#a81414" fill-opacity="0.6"/><ellipse cx="246.7" cy="735.4" rx="1.3" ry="1.1" transform="rotate(82 246.7 735.4)" fill="#000000" fill-opacity="0.8"/><ellipse cx="252.8" cy="714.5" rx="2" ry="1" transform="rotate(-67 252.8 714.5)" fill="#000000" fill-opacity="0.8"/><ellipse cx="263.1" cy="755.3" rx="2.3" ry="0.7" transform="rotate(54 263.1 755.3)" fill="#000000" fill-opacity="0.6"/><ellipse cx="263.6" cy="783.9" rx="2.3" ry="1" transform="rotate(62 263.6 783.9)" fill="#300404" fill-opacity="0.8"/><ellipse cx="247.9" cy="747.4" rx="2.4" ry="1.1" transform="rotate(97 247.9 747.4)" fill="#c42020" fill-opacity="0.6"/><ellipse cx="261.3" cy="767.4" rx="2.8" ry="0.9" transform="rotate(62 261.3 767.4)" fill="#b81818" fill-opacity="0.8"/><ellipse cx="275.9" cy="738.3" rx="2.1" ry="1" transform="rotate(-3 275.9 738.3)" fill="#b81818" fill-opacity="0.8"/><ellipse cx="218.5" cy="723.9" rx="2.1" ry="0.9" transform="rotate(-169 218.5 723.9)" fill="#701010" fill-opacity="0.6"/><ellipse cx="273.9" cy="777.5" rx="1.4" ry="0.9" transform="rotate(57 273.9 777.5)" fill="#901010" fill-opacity="0.7"/><ellipse cx="263.7" cy="716.6" rx="2.7" ry="0.7" transform="rotate(-31 263.7 716.6)" fill="#b81818" fill-opacity="0.8"/><ellipse cx="218.2" cy="749.7" rx="2.7" ry="1" transform="rotate(151 218.2 749.7)" fill="#c42020" fill-opacity="0.7"/><ellipse cx="265.7" cy="714" rx="2.3" ry="0.7" transform="rotate(-35 265.7 714)" fill="#000000" fill-opacity="0.8"/><ellipse cx="251.4" cy="735" rx="1.8" ry="0.9" transform="rotate(25 251.4 735)" fill="#b81818" fill-opacity="0.9"/><ellipse cx="225.4" cy="780.8" rx="1.5" ry="1" transform="rotate(101 225.4 780.8)" fill="#701010" fill-opacity="0.7"/><ellipse cx="254.1" cy="757.4" rx="1.8" ry="0.6" transform="rotate(68 254.1 757.4)" fill="#c42020" fill-opacity="0.6"/><ellipse cx="219" cy="782.7" rx="1.6" ry="1" transform="rotate(104 219 782.7)" fill="#c42020" fill-opacity="0.6"/><ellipse cx="274" cy="743.5" rx="1.9" ry="0.9" transform="rotate(23 274 743.5)" fill="#901010" fill-opacity="0.8"/><ellipse cx="236.1" cy="731.4" rx="1.6" ry="1" transform="rotate(-175 236.1 731.4)" fill="#a81414" fill-opacity="0.7"/><ellipse cx="232.2" cy="722.3" rx="1.6" ry="0.7" transform="rotate(-129 232.2 722.3)" fill="#000000" fill-opacity="0.8"/><ellipse cx="218.7" cy="745.1" rx="1.2" ry="0.7" transform="rotate(150 218.7 745.1)" fill="#000000" fill-opacity="0.7"/><ellipse cx="282" cy="739.5" rx="1.9" ry="0.6" transform="rotate(13 282 739.5)" fill="#a81414" fill-opacity="0.7"/><ellipse cx="272.1" cy="723.4" rx="2.8" ry="0.7" transform="rotate(-15 272.1 723.4)" fill="#000000" fill-opacity="0.9"/><ellipse cx="249.1" cy="733.1" rx="1.6" ry="0.7" transform="rotate(2 249.1 733.1)" fill="#701010" fill-opacity="0.6"/><ellipse cx="269.5" cy="761.4" rx="1.6" ry="1" transform="rotate(59 269.5 761.4)" fill="#701010" fill-opacity="0.8"/><ellipse cx="219.6" cy="763.8" rx="1.5" ry="1" transform="rotate(124 219.6 763.8)" fill="#901010" fill-opacity="0.6"/><ellipse cx="278.5" cy="749.4" rx="2.3" ry="0.9" transform="rotate(42 278.5 749.4)" fill="#000000" fill-opacity="0.7"/><ellipse cx="263.4" cy="710.2" rx="1.3" ry="1" transform="rotate(-56 263.4 710.2)" fill="#a81414" fill-opacity="0.7"/><ellipse cx="273.1" cy="740.2" rx="2.2" ry="0.8" transform="rotate(13 273.1 740.2)" fill="#000000" fill-opacity="0.6"/><ellipse cx="228.3" cy="731.4" rx="1.6" ry="1" transform="rotate(-189 228.3 731.4)" fill="#b81818" fill-opacity="0.6"/><ellipse cx="210.9" cy="782.4" rx="2.1" ry="1.1" transform="rotate(130 210.9 782.4)" fill="#a81414" fill-opacity="0.7"/><ellipse cx="217.6" cy="716.9" rx="1.9" ry="0.6" transform="rotate(-136 217.6 716.9)" fill="#a81414" fill-opacity="0.8"/><ellipse cx="210.6" cy="771.6" rx="2.6" ry="0.7" transform="rotate(121 210.6 771.6)" fill="#c42020" fill-opacity="0.8"/><ellipse cx="281.5" cy="748.8" rx="1.7" ry="1.1" transform="rotate(12 281.5 748.8)" fill="#000000" fill-opacity="0.6"/><ellipse cx="245.9" cy="728.3" rx="2.7" ry="1.1" transform="rotate(-84 245.9 728.3)" fill="#c42020" fill-opacity="0.7"/><ellipse cx="274.2" cy="747.1" rx="1.3" ry="1.1" transform="rotate(41 274.2 747.1)" fill="#701010" fill-opacity="0.8"/><ellipse cx="282.3" cy="763.2" rx="2.6" ry="0.8" transform="rotate(27 282.3 763.2)" fill="#a81414" fill-opacity="0.8"/><ellipse cx="253.4" cy="711.3" rx="2.1" ry="1" transform="rotate(-74 253.4 711.3)" fill="#c42020" fill-opacity="0.6"/><ellipse cx="241.7" cy="730.7" rx="2.6" ry="1.1" transform="rotate(-158 241.7 730.7)" fill="#300404" fill-opacity="0.8"/><ellipse cx="253" cy="729.7" rx="1.7" ry="0.9" transform="rotate(-7 253 729.7)" fill="#901010" fill-opacity="0.9"/><ellipse cx="214.9" cy="765.8" rx="2.1" ry="0.8" transform="rotate(121 214.9 765.8)" fill="#c42020" fill-opacity="0.8"/><ellipse cx="269" cy="704.5" rx="1.4" ry="0.7" transform="rotate(-44 269 704.5)" fill="#701010" fill-opacity="0.7"/><ellipse cx="229.9" cy="713.9" rx="1.6" ry="1.1" transform="rotate(-120 229.9 713.9)" fill="#701010" fill-opacity="0.7"/><ellipse cx="243" cy="709.2" rx="1.9" ry="0.9" transform="rotate(-82 243 709.2)" fill="#901010" fill-opacity="0.6"/><ellipse cx="278.8" cy="756.8" rx="2" ry="1.1" transform="rotate(43 278.8 756.8)" fill="#a81414" fill-opacity="0.6"/><ellipse cx="240" cy="738.1" rx="1.5" ry="0.8" transform="rotate(122 240 738.1)" fill="#000000" fill-opacity="0.7"/><ellipse cx="228.8" cy="772.1" rx="2.8" ry="0.7" transform="rotate(122 228.8 772.1)" fill="#000000" fill-opacity="0.8"/><ellipse cx="274.5" cy="720.2" rx="2.6" ry="0.8" transform="rotate(-28 274.5 720.2)" fill="#b81818" fill-opacity="0.6"/><ellipse cx="270" cy="719.7" rx="2" ry="1" transform="rotate(-14 270 719.7)" fill="#300404" fill-opacity="0.7"/><ellipse cx="271" cy="708.6" rx="2.7" ry="0.8" transform="rotate(-43 271 708.6)" fill="#901010" fill-opacity="0.6"/><ellipse cx="206.1" cy="710.6" rx="1.4" ry="0.8" transform="rotate(-147 206.1 710.6)" fill="#000000" fill-opacity="0.6"/><ellipse cx="258.2" cy="727.8" rx="1.3" ry="0.7" transform="rotate(-9 258.2 727.8)" fill="#a81414" fill-opacity="0.7"/><ellipse cx="240.2" cy="705.4" rx="2" ry="0.8" transform="rotate(-92 240.2 705.4)" fill="#300404" fill-opacity="0.8"/><ellipse cx="277.2" cy="722.4" rx="2.8" ry="0.9" transform="rotate(-8 277.2 722.4)" fill="#701010" fill-opacity="0.6"/><ellipse cx="235.3" cy="762.5" rx="2.3" ry="0.8" transform="rotate(109 235.3 762.5)" fill="#701010" fill-opacity="0.9"/><ellipse cx="273.9" cy="764.2" rx="2.4" ry="0.7" transform="rotate(58 273.9 764.2)" fill="#000000" fill-opacity="0.9"/><ellipse cx="246.4" cy="711.4" rx="1.8" ry="0.8" transform="rotate(-82 246.4 711.4)" fill="#701010" fill-opacity="0.8"/><ellipse cx="232.6" cy="779.3" rx="1.4" ry="0.7" transform="rotate(104 232.6 779.3)" fill="#701010" fill-opacity="0.8"/><ellipse cx="214.7" cy="745.3" rx="2.1" ry="1" transform="rotate(153 214.7 745.3)" fill="#b81818" fill-opacity="0.7"/><ellipse cx="245.6" cy="716.5" rx="2.6" ry="1" transform="rotate(-83 245.6 716.5)" fill="#901010" fill-opacity="0.8"/><ellipse cx="272.8" cy="735.7" rx="2.8" ry="0.9" transform="rotate(-7 272.8 735.7)" fill="#000000" fill-opacity="0.6"/><ellipse cx="241" cy="728.4" rx="1.8" ry="1" transform="rotate(-147 241 728.4)" fill="#000000" fill-opacity="0.7"/><ellipse cx="232.5" cy="774.8" rx="1.6" ry="0.8" transform="rotate(108 232.5 774.8)" fill="#b81818" fill-opacity="0.8"/><ellipse cx="282.8" cy="707.4" rx="1.9" ry="0.7" transform="rotate(-26 282.8 707.4)" fill="#701010" fill-opacity="0.7"/><ellipse cx="224.7" cy="736.2" rx="2.7" ry="0.7" transform="rotate(169 224.7 736.2)" fill="#b81818" fill-opacity="0.8"/><ellipse cx="253.7" cy="721.4" rx="2.3" ry="0.6" transform="rotate(-68 253.7 721.4)" fill="#c42020" fill-opacity="0.9"/><ellipse cx="278.9" cy="783.9" rx="2.4" ry="0.9" transform="rotate(58 278.9 783.9)" fill="#c42020" fill-opacity="0.7"/><ellipse cx="240.6" cy="732.5" rx="1.6" ry="0.6" transform="rotate(180 240.6 732.5)" fill="#000000" fill-opacity="0.8"/><ellipse cx="277" cy="753.9" rx="1.3" ry="0.9" transform="rotate(23 277 753.9)" fill="#c42020" fill-opacity="0.6"/><ellipse cx="260.4" cy="726" rx="1.5" ry="0.8" transform="rotate(-20 260.4 726)" fill="#c42020" fill-opacity="0.7"/><ellipse cx="207.2" cy="758.4" rx="1.8" ry="0.8" transform="rotate(142 207.2 758.4)" fill="#701010" fill-opacity="0.8"/><ellipse cx="205.8" cy="728.9" rx="1.6" ry="0.6" transform="rotate(-171 205.8 728.9)" fill="#701010" fill-opacity="0.6"/><ellipse cx="224.5" cy="749" rx="2.3" ry="0.9" transform="rotate(149 224.5 749)" fill="#701010" fill-opacity="0.7"/><ellipse cx="233.2" cy="779" rx="2.1" ry="0.9" transform="rotate(96 233.2 779)" fill="#b81818" fill-opacity="0.9"/><ellipse cx="268.5" cy="770.1" rx="2.1" ry="0.7" transform="rotate(53 268.5 770.1)" fill="#300404" fill-opacity="0.8"/><ellipse cx="237.4" cy="751.3" rx="1.3" ry="1" transform="rotate(101 237.4 751.3)" fill="#a81414" fill-opacity="0.8"/><ellipse cx="266" cy="711.3" rx="1.5" ry="1.1" transform="rotate(-56 266 711.3)" fill="#300404" fill-opacity="0.8"/><ellipse cx="242.3" cy="711" rx="2.4" ry="1" transform="rotate(-99 242.3 711)" fill="#300404" fill-opacity="0.6"/><ellipse cx="278.6" cy="727.7" rx="1.9" ry="0.9" transform="rotate(-6 278.6 727.7)" fill="#c42020" fill-opacity="0.6"/><ellipse cx="221.7" cy="774" rx="2.1" ry="1" transform="rotate(117 221.7 774)" fill="#300404" fill-opacity="0.7"/><ellipse cx="260.7" cy="764.6" rx="1.5" ry="0.7" transform="rotate(79 260.7 764.6)" fill="#000000" fill-opacity="0.6"/><ellipse cx="259.4" cy="719.6" rx="2.7" ry="0.7" transform="rotate(-32 259.4 719.6)" fill="#901010" fill-opacity="0.6"/><ellipse cx="257.4" cy="781.6" rx="1.3" ry="1" transform="rotate(66 257.4 781.6)" fill="#901010" fill-opacity="0.8"/><ellipse cx="250.9" cy="750.9" rx="2.3" ry="0.6" transform="rotate(75 250.9 750.9)" fill="#901010" fill-opacity="0.6"/><ellipse cx="235.6" cy="730.1" rx="1.5" ry="1" transform="rotate(-179 235.6 730.1)" fill="#000000" fill-opacity="0.7"/><ellipse cx="260" cy="708.7" rx="2.4" ry="1" transform="rotate(-58 260 708.7)" fill="#b81818" fill-opacity="0.6"/><ellipse cx="204.6" cy="765.3" rx="2.3" ry="1" transform="rotate(148 204.6 765.3)" fill="#b81818" fill-opacity="0.8"/><ellipse cx="233.9" cy="769.9" rx="1.3" ry="0.9" transform="rotate(109 233.9 769.9)" fill="#000000" fill-opacity="0.8"/><ellipse cx="222.2" cy="734.9" rx="2.2" ry="0.8" transform="rotate(160 222.2 734.9)" fill="#b81818" fill-opacity="0.7"/><ellipse cx="214.2" cy="716.5" rx="1.2" ry="1.1" transform="rotate(-164 214.2 716.5)" fill="#c42020" fill-opacity="0.6"/><ellipse cx="225.7" cy="771.9" rx="2.4" ry="0.7" transform="rotate(103 225.7 771.9)" fill="#300404" fill-opacity="0.6"/><ellipse cx="221.3" cy="737.2" rx="2.2" ry="1" transform="rotate(171 221.3 737.2)" fill="#701010" fill-opacity="0.9"/><ellipse cx="222.2" cy="751" rx="1.9" ry="0.7" transform="rotate(138 222.2 751)" fill="#300404" fill-opacity="0.7"/><ellipse cx="247.4" cy="719.3" rx="1.5" ry="0.9" transform="rotate(-86 247.4 719.3)" fill="#b81818" fill-opacity="0.8"/><ellipse cx="243.5" cy="734" rx="2.5" ry="0.7" transform="rotate(158 243.5 734)" fill="#a81414" fill-opacity="0.6"/><ellipse cx="218.1" cy="735" rx="1.5" ry="1.1" transform="rotate(168 218.1 735)" fill="#701010" fill-opacity="0.9"/><ellipse cx="281.4" cy="755.2" rx="1.7" ry="0.7" transform="rotate(32 281.4 755.2)" fill="#a81414" fill-opacity="0.8"/><ellipse cx="237.2" cy="771.1" rx="1.9" ry="0.7" transform="rotate(94 237.2 771.1)" fill="#300404" fill-opacity="0.8"/><ellipse cx="227.2" cy="721.6" rx="2.2" ry="0.9" transform="rotate(-155 227.2 721.6)" fill="#b81818" fill-opacity="0.6"/><ellipse cx="216.1" cy="763" rx="1.7" ry="0.8" transform="rotate(132 216.1 763)" fill="#b81818" fill-opacity="0.8"/><ellipse cx="281.3" cy="741.5" rx="1.9" ry="1" transform="rotate(25 281.3 741.5)" fill="#a81414" fill-opacity="0.8"/><ellipse cx="216.3" cy="762.1" rx="2.6" ry="1.1" transform="rotate(135 216.3 762.1)" fill="#b81818" fill-opacity="0.7"/><ellipse cx="272.6" cy="714.6" rx="1.8" ry="0.6" transform="rotate(-22 272.6 714.6)" fill="#b81818" fill-opacity="0.7"/><ellipse cx="240.3" cy="781.9" rx="1.8" ry="0.8" transform="rotate(85 240.3 781.9)" fill="#c42020" fill-opacity="0.8"/><ellipse cx="245.3" cy="762.7" rx="2.5" ry="0.9" transform="rotate(79 245.3 762.7)" fill="#000000" fill-opacity="0.9"/><ellipse cx="206.9" cy="741.8" rx="1.6" ry="0.9" transform="rotate(169 206.9 741.8)" fill="#000000" fill-opacity="0.7"/><ellipse cx="237.4" cy="767.4" rx="1.6" ry="0.9" transform="rotate(96 237.4 767.4)" fill="#b81818" fill-opacity="0.7"/><ellipse cx="258.5" cy="714.9" rx="1.8" ry="0.9" transform="rotate(-46 258.5 714.9)" fill="#701010" fill-opacity="0.8"/><ellipse cx="218.3" cy="749" rx="2.2" ry="0.9" transform="rotate(151 218.3 749)" fill="#b81818" fill-opacity="0.7"/><ellipse cx="275" cy="779.3" rx="1.3" ry="0.9" transform="rotate(71 275 779.3)" fill="#701010" fill-opacity="0.6"/><ellipse cx="260.8" cy="762" rx="2.6" ry="0.9" transform="rotate(64 260.8 762)" fill="#a81414" fill-opacity="0.8"/><ellipse cx="205" cy="724.7" rx="2.2" ry="1" transform="rotate(-155 205 724.7)" fill="#901010" fill-opacity="0.7"/><ellipse cx="275.1" cy="760.7" rx="1.8" ry="0.9" transform="rotate(38 275.1 760.7)" fill="#901010" fill-opacity="0.6"/><ellipse cx="211.2" cy="742.5" rx="1.5" ry="0.9" transform="rotate(152 211.2 742.5)" fill="#a81414" fill-opacity="0.8"/><ellipse cx="269.9" cy="752.3" rx="1.4" ry="0.8" transform="rotate(25 269.9 752.3)" fill="#901010" fill-opacity="0.6"/><ellipse cx="254.9" cy="713.6" rx="2" ry="1" transform="rotate(-79 254.9 713.6)" fill="#a81414" fill-opacity="0.6"/><ellipse cx="228.8" cy="706.4" rx="2.6" ry="0.8" transform="rotate(-109 228.8 706.4)" fill="#300404" fill-opacity="0.7"/><ellipse cx="261.5" cy="752.4" rx="1.3" ry="0.6" transform="rotate(42 261.5 752.4)" fill="#b81818" fill-opacity="0.9"/><ellipse cx="227.1" cy="708.1" rx="2.2" ry="0.7" transform="rotate(-116 227.1 708.1)" fill="#000000" fill-opacity="0.8"/><ellipse cx="265.3" cy="766.6" rx="2.5" ry="0.8" transform="rotate(67 265.3 766.6)" fill="#901010" fill-opacity="0.6"/><ellipse cx="214" cy="782.6" rx="2.2" ry="1.1" transform="rotate(130 214 782.6)" fill="#901010" fill-opacity="0.8"/><ellipse cx="252.5" cy="704.9" rx="1.6" ry="0.7" transform="rotate(-70 252.5 704.9)" fill="#000000" fill-opacity="0.9"/><ellipse cx="207" cy="776.4" rx="1.2" ry="0.6" transform="rotate(122 207 776.4)" fill="#c42020" fill-opacity="0.7"/><ellipse cx="258.7" cy="731" rx="1.7" ry="0.7" transform="rotate(-8 258.7 731)" fill="#c42020" fill-opacity="0.7"/><ellipse cx="218.6" cy="767.3" rx="1.9" ry="1.1" transform="rotate(130 218.6 767.3)" fill="#a81414" fill-opacity="0.7"/><ellipse cx="205.1" cy="759.5" rx="1.8" ry="1" transform="rotate(151 205.1 759.5)" fill="#b81818" fill-opacity="0.9"/><ellipse cx="238.2" cy="743" rx="2.6" ry="0.9" transform="rotate(137 238.2 743)" fill="#b81818" fill-opacity="0.6"/><ellipse cx="216" cy="738.8" rx="1.3" ry="0.9" transform="rotate(164 216 738.8)" fill="#701010" fill-opacity="0.6"/><ellipse cx="264.5" cy="748.6" rx="2.7" ry="0.7" transform="rotate(50 264.5 748.6)" fill="#a81414" fill-opacity="0.9"/><ellipse cx="221.7" cy="722" rx="1.7" ry="0.7" transform="rotate(-167 221.7 722)" fill="#701010" fill-opacity="0.6"/><ellipse cx="281.5" cy="735.8" rx="2.5" ry="0.8" transform="rotate(0 281.5 735.8)" fill="#300404" fill-opacity="0.6"/><ellipse cx="203.6" cy="773.1" rx="1.4" ry="0.7" transform="rotate(130 203.6 773.1)" fill="#300404" fill-opacity="0.6"/><ellipse cx="237.1" cy="783.1" rx="1.3" ry="1" transform="rotate(112 237.1 783.1)" fill="#b81818" fill-opacity="0.6"/><ellipse cx="214.3" cy="713.6" rx="1.4" ry="0.8" transform="rotate(-162 214.3 713.6)" fill="#701010" fill-opacity="0.9"/><ellipse cx="233.7" cy="754.9" rx="1.2" ry="0.9" transform="rotate(121 233.7 754.9)" fill="#000000" fill-opacity="0.7"/><ellipse cx="205.4" cy="775.6" rx="2.5" ry="0.7" transform="rotate(147 205.4 775.6)" fill="#c42020" fill-opacity="0.7"/><ellipse cx="273.1" cy="727.6" rx="1.7" ry="1.1" transform="rotate(-5 273.1 727.6)" fill="#300404" fill-opacity="0.6"/><ellipse cx="249.1" cy="728.9" rx="1.8" ry="1" transform="rotate(-45 249.1 728.9)" fill="#901010" fill-opacity="0.8"/><ellipse cx="272" cy="746.9" rx="1.3" ry="0.7" transform="rotate(36 272 746.9)" fill="#a81414" fill-opacity="0.6"/><ellipse cx="227.1" cy="728.3" rx="1.9" ry="0.9" transform="rotate(-179 227.1 728.3)" fill="#000000" fill-opacity="0.6"/><ellipse cx="235.2" cy="723.3" rx="1.3" ry="0.8" transform="rotate(-135 235.2 723.3)" fill="#c42020" fill-opacity="0.8"/><ellipse cx="233.1" cy="717.7" rx="2.4" ry="1" transform="rotate(-143 233.1 717.7)" fill="#b81818" fill-opacity="0.7"/><ellipse cx="245.8" cy="721.5" rx="1.2" ry="0.7" transform="rotate(-82 245.8 721.5)" fill="#b81818" fill-opacity="0.9"/><ellipse cx="257.8" cy="757.9" rx="1.7" ry="0.7" transform="rotate(61 257.8 757.9)" fill="#300404" fill-opacity="0.6"/><ellipse cx="252.3" cy="775" rx="2.4" ry="1" transform="rotate(95 252.3 775)" fill="#c42020" fill-opacity="0.8"/><ellipse cx="230.7" cy="783.6" rx="2" ry="0.9" transform="rotate(103 230.7 783.6)" fill="#c42020" fill-opacity="0.8"/><ellipse cx="254.4" cy="770.3" rx="2" ry="0.9" transform="rotate(83 254.4 770.3)" fill="#000000" fill-opacity="0.8"/><ellipse cx="241" cy="774.9" rx="1.2" ry="0.8" transform="rotate(106 241 774.9)" fill="#300404" fill-opacity="0.7"/><ellipse cx="260.7" cy="711.5" rx="2.6" ry="1.1" transform="rotate(-56 260.7 711.5)" fill="#a81414" fill-opacity="0.9"/><ellipse cx="218.4" cy="727.1" rx="2.1" ry="0.9" transform="rotate(-164 218.4 727.1)" fill="#701010" fill-opacity="0.8"/><ellipse cx="239.8" cy="738.5" rx="1.6" ry="0.8" transform="rotate(139 239.8 738.5)" fill="#c42020" fill-opacity="0.7"/><ellipse cx="215" cy="730.4" rx="1.4" ry="0.7" transform="rotate(-175 215 730.4)" fill="#701010" fill-opacity="0.6"/><ellipse cx="246" cy="763.2" rx="1.5" ry="0.9" transform="rotate(81 246 763.2)" fill="#000000" fill-opacity="0.7"/><ellipse cx="238.4" cy="759.4" rx="1.6" ry="0.8" transform="rotate(117 238.4 759.4)" fill="#000000" fill-opacity="0.6"/><ellipse cx="228.7" cy="733" rx="2.6" ry="0.9" transform="rotate(177 228.7 733)" fill="#b81818" fill-opacity="0.7"/><ellipse cx="241.4" cy="706.4" rx="1.6" ry="0.7" transform="rotate(-108 241.4 706.4)" fill="#300404" fill-opacity="0.8"/><ellipse cx="269.7" cy="714.1" rx="2.6" ry="0.7" transform="rotate(-31 269.7 714.1)" fill="#b81818" fill-opacity="0.7"/><ellipse cx="250.3" cy="767.8" rx="2" ry="0.8" transform="rotate(89 250.3 767.8)" fill="#b81818" fill-opacity="0.6"/><ellipse cx="227.7" cy="768.5" rx="1.4" ry="1.1" transform="rotate(106 227.7 768.5)" fill="#000000" fill-opacity="0.6"/><ellipse cx="218" cy="751" rx="2" ry="1.1" transform="rotate(158 218 751)" fill="#901010" fill-opacity="0.8"/><ellipse cx="217.4" cy="779" rx="1.5" ry="0.8" transform="rotate(111 217.4 779)" fill="#c42020" fill-opacity="0.8"/><ellipse cx="266.9" cy="761.6" rx="2.5" ry="0.8" transform="rotate(63 266.9 761.6)" fill="#c42020" fill-opacity="0.9"/><ellipse cx="270.7" cy="767.6" rx="2.3" ry="0.8" transform="rotate(63 270.7 767.6)" fill="#b81818" fill-opacity="0.6"/><ellipse cx="215.5" cy="729.7" rx="2.2" ry="0.6" transform="rotate(-170 215.5 729.7)" fill="#901010" fill-opacity="0.6"/><ellipse cx="250.7" cy="772.4" rx="1.3" ry="1" transform="rotate(91 250.7 772.4)" fill="#b81818" fill-opacity="0.6"/><ellipse cx="271.8" cy="751.5" rx="2.7" ry="1" transform="rotate(25 271.8 751.5)" fill="#701010" fill-opacity="0.9"/><ellipse cx="272.8" cy="706.5" rx="1.4" ry="0.8" transform="rotate(-50 272.8 706.5)" fill="#c42020" fill-opacity="0.9"/><ellipse cx="280.2" cy="735.1" rx="2.6" ry="1.1" transform="rotate(11 280.2 735.1)" fill="#701010" fill-opacity="0.8"/><ellipse cx="203.4" cy="707" rx="1.7" ry="1" transform="rotate(-164 203.4 707)" fill="#b81818" fill-opacity="0.8"/><ellipse cx="227.8" cy="760.5" rx="1.9" ry="1" transform="rotate(116 227.8 760.5)" fill="#901010" fill-opacity="0.9"/><ellipse cx="269.5" cy="777.5" rx="2.2" ry="0.9" transform="rotate(59 269.5 777.5)" fill="#000000" fill-opacity="0.8"/><ellipse cx="237.9" cy="739.6" rx="2.2" ry="0.7" transform="rotate(131 237.9 739.6)" fill="#c42020" fill-opacity="0.6"/><ellipse cx="241.6" cy="747.1" rx="1.3" ry="0.9" transform="rotate(106 241.6 747.1)" fill="#a81414" fill-opacity="0.7"/><ellipse cx="205.7" cy="765.3" rx="1.5" ry="1" transform="rotate(147 205.7 765.3)" fill="#300404" fill-opacity="0.8"/><ellipse cx="207.1" cy="764" rx="1.2" ry="0.8" transform="rotate(150 207.1 764)" fill="#701010" fill-opacity="0.8"/><ellipse cx="214.3" cy="739.3" rx="2.1" ry="0.7" transform="rotate(158 214.3 739.3)" fill="#c42020" fill-opacity="0.7"/><ellipse cx="277.3" cy="744.3" rx="2.2" ry="1" transform="rotate(6 277.3 744.3)" fill="#901010" fill-opacity="0.8"/><ellipse cx="236" cy="706.8" rx="1.6" ry="0.9" transform="rotate(-125 236 706.8)" fill="#b81818" fill-opacity="0.6"/><ellipse cx="230.9" cy="780.2" rx="1.4" ry="0.7" transform="rotate(106 230.9 780.2)" fill="#701010" fill-opacity="0.8"/><ellipse cx="214.2" cy="744.9" rx="1.8" ry="1.1" transform="rotate(147 214.2 744.9)" fill="#701010" fill-opacity="0.8"/><ellipse cx="237.7" cy="709.2" rx="1.6" ry="0.7" transform="rotate(-114 237.7 709.2)" fill="#701010" fill-opacity="0.6"/><ellipse cx="227.3" cy="708" rx="1.3" ry="0.7" transform="rotate(-113 227.3 708)" fill="#000000" fill-opacity="0.8"/><ellipse cx="217.2" cy="759.7" rx="1.3" ry="0.9" transform="rotate(128 217.2 759.7)" fill="#300404" fill-opacity="0.8"/><ellipse cx="228.7" cy="708.1" rx="1.6" ry="0.8" transform="rotate(-119 228.7 708.1)" fill="#300404" fill-opacity="0.8"/><ellipse cx="231.6" cy="759" rx="1.4" ry="0.8" transform="rotate(105 231.6 759)" fill="#901010" fill-opacity="0.8"/><ellipse cx="256.3" cy="738.5" rx="1.7" ry="0.9" transform="rotate(30 256.3 738.5)" fill="#300404" fill-opacity="0.7"/><ellipse cx="217.8" cy="783.8" rx="2.4" ry="1" transform="rotate(112 217.8 783.8)" fill="#a81414" fill-opacity="0.9"/><ellipse cx="278.5" cy="718.5" rx="1.4" ry="0.6" transform="rotate(-35 278.5 718.5)" fill="#000000" fill-opacity="0.8"/><ellipse cx="223.4" cy="780.7" rx="1.8" ry="0.6" transform="rotate(103 223.4 780.7)" fill="#b81818" fill-opacity="0.9"/><ellipse cx="226.8" cy="736.6" rx="2.4" ry="0.8" transform="rotate(177 226.8 736.6)" fill="#000000" fill-opacity="0.6"/><ellipse cx="240.7" cy="716" rx="2.1" ry="0.8" transform="rotate(-93 240.7 716)" fill="#000000" fill-opacity="0.8"/><ellipse cx="264.6" cy="740.3" rx="2.3" ry="0.6" transform="rotate(32 264.6 740.3)" fill="#300404" fill-opacity="0.7"/><ellipse cx="276.9" cy="782.7" rx="1.5" ry="0.8" transform="rotate(55 276.9 782.7)" fill="#c42020" fill-opacity="0.6"/><ellipse cx="277.1" cy="706.6" rx="1.8" ry="1" transform="rotate(-45 277.1 706.6)" fill="#000000" fill-opacity="0.9"/><ellipse cx="244.3" cy="751.4" rx="2.4" ry="0.7" transform="rotate(81 244.3 751.4)" fill="#300404" fill-opacity="0.6"/><ellipse cx="226.9" cy="733.8" rx="2.6" ry="0.6" transform="rotate(170 226.9 733.8)" fill="#a81414" fill-opacity="0.9"/><ellipse cx="247.6" cy="773.5" rx="1.3" ry="0.7" transform="rotate(89 247.6 773.5)" fill="#000000" fill-opacity="0.6"/><ellipse cx="223.3" cy="712.1" rx="2.6" ry="0.9" transform="rotate(-144 223.3 712.1)" fill="#300404" fill-opacity="0.8"/><ellipse cx="250.6" cy="723.2" rx="1.7" ry="0.7" transform="rotate(-62 250.6 723.2)" fill="#701010" fill-opacity="0.7"/><ellipse cx="256.7" cy="731.1" rx="2.4" ry="0.7" transform="rotate(-8 256.7 731.1)" fill="#901010" fill-opacity="0.7"/><ellipse cx="224" cy="761.8" rx="2.6" ry="0.8" transform="rotate(133 224 761.8)" fill="#701010" fill-opacity="0.6"/><ellipse cx="279.9" cy="712.2" rx="2" ry="1" transform="rotate(-43 279.9 712.2)" fill="#a81414" fill-opacity="0.7"/><ellipse cx="236.2" cy="737" rx="1.8" ry="0.7" transform="rotate(155 236.2 737)" fill="#000000" fill-opacity="0.7"/><ellipse cx="252" cy="751.9" rx="2.2" ry="0.7" transform="rotate(69 252 751.9)" fill="#701010" fill-opacity="0.7"/><ellipse cx="249.6" cy="736.9" rx="2" ry="0.6" transform="rotate(66 249.6 736.9)" fill="#b81818" fill-opacity="0.8"/><ellipse cx="216.9" cy="709.6" rx="2.6" ry="0.8" transform="rotate(-144 216.9 709.6)" fill="#701010" fill-opacity="0.8"/><ellipse cx="225.5" cy="720.4" rx="2.8" ry="1.1" transform="rotate(-150 225.5 720.4)" fill="#300404" fill-opacity="0.7"/><ellipse cx="223.5" cy="782.7" rx="1.9" ry="1" transform="rotate(101 223.5 782.7)" fill="#300404" fill-opacity="0.8"/><ellipse cx="220.6" cy="766.4" rx="2.7" ry="0.8" transform="rotate(140 220.6 766.4)" fill="#b81818" fill-opacity="0.7"/><ellipse cx="203.9" cy="716.7" rx="1.8" ry="1.1" transform="rotate(-158 203.9 716.7)" fill="#b81818" fill-opacity="0.6"/><ellipse cx="233.7" cy="705.4" rx="1.3" ry="1" transform="rotate(-128 233.7 705.4)" fill="#a81414" fill-opacity="0.7"/><ellipse cx="261.9" cy="716.8" rx="2.3" ry="0.7" transform="rotate(-48 261.9 716.8)" fill="#901010" fill-opacity="0.6"/><ellipse cx="277.4" cy="773.5" rx="2.7" ry="1" transform="rotate(54 277.4 773.5)" fill="#000000" fill-opacity="0.9"/><ellipse cx="231.2" cy="749.3" rx="2.8" ry="1" transform="rotate(125 231.2 749.3)" fill="#c42020" fill-opacity="0.8"/><ellipse cx="264.3" cy="705" rx="2" ry="0.6" transform="rotate(-54 264.3 705)" fill="#a81414" fill-opacity="0.6"/><ellipse cx="221.1" cy="720.9" rx="2" ry="1" transform="rotate(-142 221.1 720.9)" fill="#701010" fill-opacity="0.8"/><ellipse cx="274.2" cy="724.7" rx="2.7" ry="0.6" transform="rotate(-9 274.2 724.7)" fill="#a81414" fill-opacity="0.7"/><ellipse cx="209.9" cy="716.5" rx="2" ry="0.9" transform="rotate(-164 209.9 716.5)" fill="#a81414" fill-opacity="0.7"/><ellipse cx="275" cy="769.7" rx="1.9" ry="1" transform="rotate(48 275 769.7)" fill="#c42020" fill-opacity="0.6"/><ellipse cx="266.8" cy="760.5" rx="1.4" ry="0.8" transform="rotate(47 266.8 760.5)" fill="#a81414" fill-opacity="0.7"/><ellipse cx="260.3" cy="711.2" rx="1.3" ry="0.7" transform="rotate(-51 260.3 711.2)" fill="#b81818" fill-opacity="0.8"/><ellipse cx="255.3" cy="714" rx="2.6" ry="0.7" transform="rotate(-58 255.3 714)" fill="#a81414" fill-opacity="0.6"/><ellipse cx="235.1" cy="715.9" rx="2.2" ry="0.9" transform="rotate(-136 235.1 715.9)" fill="#901010" fill-opacity="0.6"/><ellipse cx="246.2" cy="734" rx="2.4" ry="0.8" transform="rotate(86 246.2 734)" fill="#300404" fill-opacity="0.8"/><ellipse cx="236.3" cy="718" rx="2.6" ry="0.6" transform="rotate(-133 236.3 718)" fill="#a81414" fill-opacity="0.6"/><ellipse cx="261.1" cy="743" rx="2.8" ry="1" transform="rotate(25 261.1 743)" fill="#701010" fill-opacity="0.6"/><ellipse cx="261.3" cy="725.9" rx="1.8" ry="0.7" transform="rotate(-12 261.3 725.9)" fill="#c42020" fill-opacity="0.8"/><ellipse cx="269.9" cy="752.4" rx="1.5" ry="1" transform="rotate(53 269.9 752.4)" fill="#c42020" fill-opacity="0.8"/><ellipse cx="203" cy="735.4" rx="1.3" ry="1" transform="rotate(190 203 735.4)" fill="#901010" fill-opacity="0.6"/><ellipse cx="239.2" cy="734.4" rx="2.4" ry="0.9" transform="rotate(151 239.2 734.4)" fill="#300404" fill-opacity="0.7"/><ellipse cx="256.8" cy="767.8" rx="1.8" ry="0.6" transform="rotate(69 256.8 767.8)" fill="#000000" fill-opacity="0.8"/><ellipse cx="245.2" cy="775.4" rx="2.1" ry="0.6" transform="rotate(100 245.2 775.4)" fill="#901010" fill-opacity="0.9"/><ellipse cx="279.5" cy="706.8" rx="1.2" ry="0.8" transform="rotate(-47 279.5 706.8)" fill="#300404" fill-opacity="0.6"/><ellipse cx="246.7" cy="736.4" rx="2.5" ry="1" transform="rotate(86 246.7 736.4)" fill="#b81818" fill-opacity="0.7"/><ellipse cx="218.9" cy="778" rx="2.4" ry="0.7" transform="rotate(112 218.9 778)" fill="#701010" fill-opacity="0.7"/><ellipse cx="212.5" cy="709.6" rx="1.4" ry="1" transform="rotate(-150 212.5 709.6)" fill="#b81818" fill-opacity="0.8"/><ellipse cx="220.2" cy="735.5" rx="2.3" ry="0.7" transform="rotate(174 220.2 735.5)" fill="#901010" fill-opacity="0.8"/><ellipse cx="254.3" cy="783.7" rx="1.6" ry="1.1" transform="rotate(80 254.3 783.7)" fill="#300404" fill-opacity="0.8"/><ellipse cx="207.9" cy="733.4" rx="1.5" ry="1.1" transform="rotate(175 207.9 733.4)" fill="#901010" fill-opacity="0.8"/><ellipse cx="217.9" cy="766.7" rx="1.3" ry="0.8" transform="rotate(128 217.9 766.7)" fill="#000000" fill-opacity="0.8"/><ellipse cx="273.7" cy="730.6" rx="1.6" ry="1" transform="rotate(1 273.7 730.6)" fill="#901010" fill-opacity="0.9"/><ellipse cx="227.4" cy="718.8" rx="1.6" ry="0.7" transform="rotate(-134 227.4 718.8)" fill="#000000" fill-opacity="0.8"/><ellipse cx="208.3" cy="746" rx="2.7" ry="1" transform="rotate(148 208.3 746)" fill="#a81414" fill-opacity="0.6"/><ellipse cx="283.1" cy="730" rx="2.7" ry="0.6" transform="rotate(2 283.1 730)" fill="#000000" fill-opacity="0.8"/><ellipse cx="248.9" cy="716.8" rx="1.6" ry="1.1" transform="rotate(-68 248.9 716.8)" fill="#a81414" fill-opacity="0.6"/><ellipse cx="282.7" cy="753.4" rx="1.8" ry="0.9" transform="rotate(20 282.7 753.4)" fill="#a81414" fill-opacity="0.8"/><ellipse cx="235.5" cy="741.9" rx="2.6" ry="1" transform="rotate(145 235.5 741.9)" fill="#901010" fill-opacity="0.9"/><ellipse cx="225" cy="764.3" rx="1.7" ry="0.6" transform="rotate(111 225 764.3)" fill="#000000" fill-opacity="0.7"/><ellipse cx="274.3" cy="711.3" rx="1.6" ry="1" transform="rotate(-27 274.3 711.3)" fill="#a81414" fill-opacity="0.9"/><ellipse cx="268.4" cy="744.7" rx="2.7" ry="0.9" transform="rotate(29 268.4 744.7)" fill="#901010" fill-opacity="0.8"/><ellipse cx="232" cy="761.4" rx="1.6" ry="0.9" transform="rotate(106 232 761.4)" fill="#701010" fill-opacity="0.7"/><ellipse cx="219" cy="782.8" rx="1.9" ry="0.8" transform="rotate(126 219 782.8)" fill="#a81414" fill-opacity="0.9"/><ellipse cx="271.1" cy="728" rx="1.4" ry="0.6" transform="rotate(1 271.1 728)" fill="#300404" fill-opacity="0.9"/><ellipse cx="256.1" cy="754.1" rx="1.3" ry="0.9" transform="rotate(76 256.1 754.1)" fill="#a81414" fill-opacity="0.8"/><ellipse cx="209.8" cy="739.3" rx="1.3" ry="0.7" transform="rotate(170 209.8 739.3)" fill="#000000" fill-opacity="0.8"/><ellipse cx="215.3" cy="721.9" rx="1.9" ry="1" transform="rotate(-166 215.3 721.9)" fill="#701010" fill-opacity="0.6"/><ellipse cx="212.2" cy="747.2" rx="1.9" ry="1.1" transform="rotate(155 212.2 747.2)" fill="#901010" fill-opacity="0.7"/><ellipse cx="279.8" cy="762.5" rx="1.7" ry="0.9" transform="rotate(41 279.8 762.5)" fill="#300404" fill-opacity="0.7"/><ellipse cx="237.8" cy="726.9" rx="1.4" ry="0.6" transform="rotate(-135 237.8 726.9)" fill="#000000" fill-opacity="0.9"/><ellipse cx="233.5" cy="759.3" rx="1.5" ry="0.7" transform="rotate(99 233.5 759.3)" fill="#701010" fill-opacity="0.6"/><ellipse cx="278.9" cy="718.8" rx="2.2" ry="1" transform="rotate(-7 278.9 718.8)" fill="#901010" fill-opacity="0.7"/><ellipse cx="277.5" cy="740.1" rx="2.8" ry="1" transform="rotate(2 277.5 740.1)" fill="#000000" fill-opacity="0.8"/><ellipse cx="238.5" cy="719.4" rx="2.3" ry="0.7" transform="rotate(-121 238.5 719.4)" fill="#a81414" fill-opacity="0.7"/><ellipse cx="233.4" cy="754.2" rx="1.6" ry="0.7" transform="rotate(131 233.4 754.2)" fill="#701010" fill-opacity="0.8"/><ellipse cx="225.9" cy="721.3" rx="2.2" ry="1.1" transform="rotate(-140 225.9 721.3)" fill="#b81818" fill-opacity="0.6"/><ellipse cx="225.1" cy="726.5" rx="2" ry="0.7" transform="rotate(-156 225.1 726.5)" fill="#701010" fill-opacity="0.6"/><ellipse cx="219.1" cy="742.7" rx="2.2" ry="1.1" transform="rotate(147 219.1 742.7)" fill="#a81414" fill-opacity="0.8"/><ellipse cx="278" cy="781.7" rx="1.3" ry="1" transform="rotate(47 278 781.7)" fill="#701010" fill-opacity="0.6"/><ellipse cx="208.7" cy="765.2" rx="2" ry="0.9" transform="rotate(144 208.7 765.2)" fill="#300404" fill-opacity="0.7"/><ellipse cx="203.6" cy="752.4" rx="1.2" ry="0.8" transform="rotate(147 203.6 752.4)" fill="#a81414" fill-opacity="0.7"/><ellipse cx="223.1" cy="779.7" rx="1.7" ry="0.8" transform="rotate(102 223.1 779.7)" fill="#901010" fill-opacity="0.8"/><ellipse cx="207" cy="716.1" rx="1.7" ry="0.6" transform="rotate(-157 207 716.1)" fill="#300404" fill-opacity="0.9"/><ellipse cx="278.6" cy="752.1" rx="2.8" ry="0.8" transform="rotate(42 278.6 752.1)" fill="#000000" fill-opacity="0.8"/><ellipse cx="240.4" cy="714.3" rx="2" ry="1.1" transform="rotate(-95 240.4 714.3)" fill="#c42020" fill-opacity="0.7"/><ellipse cx="258.3" cy="735.3" rx="2.5" ry="0.6" transform="rotate(0 258.3 735.3)" fill="#c42020" fill-opacity="0.7"/><ellipse cx="203.6" cy="723" rx="2.8" ry="0.7" transform="rotate(-153 203.6 723)" fill="#c42020" fill-opacity="0.6"/><ellipse cx="246.3" cy="712.1" rx="2.5" ry="0.6" transform="rotate(-79 246.3 712.1)" fill="#701010" fill-opacity="0.8"/><ellipse cx="221" cy="733.7" rx="1.7" ry="0.8" transform="rotate(181 221 733.7)" fill="#701010" fill-opacity="0.7"/><ellipse cx="224.4" cy="751.6" rx="1.6" ry="0.7" transform="rotate(125 224.4 751.6)" fill="#a81414" fill-opacity="0.8"/><ellipse cx="205.8" cy="766.4" rx="1.8" ry="0.9" transform="rotate(126 205.8 766.4)" fill="#a81414" fill-opacity="0.8"/><ellipse cx="252.2" cy="742" rx="2.6" ry="0.7" transform="rotate(50 252.2 742)" fill="#901010" fill-opacity="0.7"/><ellipse cx="237.8" cy="738" rx="1.7" ry="0.8" transform="rotate(155 237.8 738)" fill="#a81414" fill-opacity="0.9"/><ellipse cx="229.6" cy="726.6" rx="1.9" ry="1.1" transform="rotate(-161 229.6 726.6)" fill="#701010" fill-opacity="0.8"/><ellipse cx="223.9" cy="737.4" rx="2" ry="0.9" transform="rotate(162 223.9 737.4)" fill="#300404" fill-opacity="0.9"/><ellipse cx="261.8" cy="744" rx="1.7" ry="1.1" transform="rotate(45 261.8 744)" fill="#000000" fill-opacity="0.8"/><ellipse cx="276.5" cy="708.5" rx="1.7" ry="0.9" transform="rotate(-42 276.5 708.5)" fill="#c42020" fill-opacity="0.6"/><ellipse cx="211.6" cy="716.5" rx="1.9" ry="0.6" transform="rotate(-146 211.6 716.5)" fill="#b81818" fill-opacity="0.7"/><ellipse cx="227.1" cy="775" rx="2.7" ry="0.7" transform="rotate(115 227.1 775)" fill="#a81414" fill-opacity="0.8"/><ellipse cx="248.9" cy="769.2" rx="2.4" ry="1" transform="rotate(71 248.9 769.2)" fill="#701010" fill-opacity="0.9"/><ellipse cx="246" cy="704.4" rx="2.2" ry="0.9" transform="rotate(-104 246 704.4)" fill="#300404" fill-opacity="0.8"/><ellipse cx="217.9" cy="733.4" rx="1.9" ry="0.9" transform="rotate(178 217.9 733.4)" fill="#000000" fill-opacity="0.9"/><ellipse cx="279.9" cy="707.5" rx="1.9" ry="0.7" transform="rotate(-34 279.9 707.5)" fill="#300404" fill-opacity="0.8"/><ellipse cx="246.8" cy="760" rx="2.5" ry="0.9" transform="rotate(99 246.8 760)" fill="#b81818" fill-opacity="0.8"/><ellipse cx="237.4" cy="741.8" rx="1.7" ry="0.9" transform="rotate(118 237.4 741.8)" fill="#300404" fill-opacity="0.8"/><ellipse cx="281.8" cy="757.8" rx="2.1" ry="0.8" transform="rotate(29 281.8 757.8)" fill="#c42020" fill-opacity="0.6"/><ellipse cx="216.3" cy="746.5" rx="2.3" ry="0.9" transform="rotate(140 216.3 746.5)" fill="#300404" fill-opacity="0.7"/><ellipse cx="248.9" cy="736.5" rx="1.5" ry="0.9" transform="rotate(60 248.9 736.5)" fill="#701010" fill-opacity="0.7"/><ellipse cx="263.6" cy="759" rx="2.3" ry="0.9" transform="rotate(42 263.6 759)" fill="#300404" fill-opacity="0.8"/><ellipse cx="254.4" cy="772.2" rx="1.5" ry="0.7" transform="rotate(79 254.4 772.2)" fill="#c42020" fill-opacity="0.6"/><ellipse cx="229.9" cy="731.9" rx="1.4" ry="1" transform="rotate(-192 229.9 731.9)" fill="#a81414" fill-opacity="0.7"/><ellipse cx="240.8" cy="727" rx="1.7" ry="0.9" transform="rotate(-141 240.8 727)" fill="#b81818" fill-opacity="0.7"/><ellipse cx="231.5" cy="750.2" rx="2" ry="0.7" transform="rotate(130 231.5 750.2)" fill="#300404" fill-opacity="0.9"/><ellipse cx="204.2" cy="752.2" rx="2.4" ry="0.9" transform="rotate(151 204.2 752.2)" fill="#000000" fill-opacity="0.8"/><ellipse cx="233.5" cy="754.6" rx="1.3" ry="0.7" transform="rotate(111 233.5 754.6)" fill="#b81818" fill-opacity="0.8"/><ellipse cx="246.5" cy="756.7" rx="1.6" ry="1" transform="rotate(93 246.5 756.7)" fill="#c42020" fill-opacity="0.6"/><ellipse cx="235.3" cy="766.6" rx="1.6" ry="1" transform="rotate(117 235.3 766.6)" fill="#a81414" fill-opacity="0.6"/><ellipse cx="225.1" cy="708.2" rx="1.9" ry="0.6" transform="rotate(-138 225.1 708.2)" fill="#701010" fill-opacity="0.7"/><ellipse cx="257.7" cy="769.2" rx="1.5" ry="1" transform="rotate(72 257.7 769.2)" fill="#000000" fill-opacity="0.6"/><ellipse cx="272.5" cy="760.6" rx="1.3" ry="1" transform="rotate(39 272.5 760.6)" fill="#701010" fill-opacity="0.7"/><ellipse cx="239" cy="744.7" rx="2.5" ry="0.7" transform="rotate(126 239 744.7)" fill="#701010" fill-opacity="0.8"/><ellipse cx="259" cy="705.4" rx="1.7" ry="0.6" transform="rotate(-73 259 705.4)" fill="#a81414" fill-opacity="0.6"/><ellipse cx="282.9" cy="721" rx="1.9" ry="0.9" transform="rotate(-11 282.9 721)" fill="#a81414" fill-opacity="0.7"/><ellipse cx="255.1" cy="723.4" rx="2.2" ry="1" transform="rotate(-58 255.1 723.4)" fill="#000000" fill-opacity="0.8"/><ellipse cx="228" cy="769.6" rx="2.7" ry="1" transform="rotate(102 228 769.6)" fill="#b81818" fill-opacity="0.7"/><ellipse cx="280.5" cy="783" rx="1.4" ry="0.8" transform="rotate(47 280.5 783)" fill="#a81414" fill-opacity="0.7"/><ellipse cx="282.9" cy="735" rx="2.7" ry="0.9" transform="rotate(8 282.9 735)" fill="#a81414" fill-opacity="0.8"/><ellipse cx="262.3" cy="742.1" rx="2.5" ry="1" transform="rotate(16 262.3 742.1)" fill="#901010" fill-opacity="0.6"/><ellipse cx="254.3" cy="710.1" rx="2.4" ry="0.8" transform="rotate(-80 254.3 710.1)" fill="#300404" fill-opacity="0.7"/><ellipse cx="220.9" cy="769.1" rx="2.3" ry="0.9" transform="rotate(133 220.9 769.1)" fill="#901010" fill-opacity="0.7"/><ellipse cx="244.2" cy="722.7" rx="1.7" ry="0.7" transform="rotate(-107 244.2 722.7)" fill="#701010" fill-opacity="0.7"/><ellipse cx="251.1" cy="755.8" rx="1.5" ry="0.7" transform="rotate(73 251.1 755.8)" fill="#c42020" fill-opacity="0.9"/><ellipse cx="263.9" cy="753.1" rx="2.7" ry="0.9" transform="rotate(38 263.9 753.1)" fill="#901010" fill-opacity="0.9"/><ellipse cx="261.8" cy="723.1" rx="1.6" ry="0.7" transform="rotate(-39 261.8 723.1)" fill="#c42020" fill-opacity="0.6"/><ellipse cx="232.2" cy="779.2" rx="2.4" ry="0.6" transform="rotate(109 232.2 779.2)" fill="#a81414" fill-opacity="0.9"/><ellipse cx="215.9" cy="766.4" rx="2.5" ry="0.8" transform="rotate(139 215.9 766.4)" fill="#b81818" fill-opacity="0.8"/><ellipse cx="248.1" cy="762.6" rx="1.6" ry="0.6" transform="rotate(88 248.1 762.6)" fill="#701010" fill-opacity="0.7"/><ellipse cx="230.1" cy="779.4" rx="2.4" ry="0.9" transform="rotate(112 230.1 779.4)" fill="#c42020" fill-opacity="0.7"/><ellipse cx="259.1" cy="773.5" rx="2.4" ry="0.6" transform="rotate(86 259.1 773.5)" fill="#901010" fill-opacity="0.6"/><ellipse cx="212.1" cy="736.1" rx="2.2" ry="0.8" transform="rotate(183 212.1 736.1)" fill="#901010" fill-opacity="0.8"/><ellipse cx="212.5" cy="738.3" rx="1.4" ry="0.8" transform="rotate(156 212.5 738.3)" fill="#c42020" fill-opacity="0.7"/><ellipse cx="228.9" cy="751.9" rx="1.3" ry="0.6" transform="rotate(146 228.9 751.9)" fill="#701010" fill-opacity="0.8"/><ellipse cx="268.7" cy="778.9" rx="1.6" ry="0.7" transform="rotate(78 268.7 778.9)" fill="#701010" fill-opacity="0.7"/><ellipse cx="277.3" cy="711.2" rx="1.6" ry="1" transform="rotate(-45 277.3 711.2)" fill="#300404" fill-opacity="0.8"/><ellipse cx="233.8" cy="726.6" rx="2.4" ry="0.8" transform="rotate(-165 233.8 726.6)" fill="#300404" fill-opacity="0.9"/><ellipse cx="205.8" cy="761" rx="2.6" ry="0.9" transform="rotate(136 205.8 761)" fill="#300404" fill-opacity="0.7"/><ellipse cx="226.9" cy="719.4" rx="2.4" ry="0.7" transform="rotate(-155 226.9 719.4)" fill="#000000" fill-opacity="0.6"/><ellipse cx="204.9" cy="748.5" rx="1.3" ry="0.9" transform="rotate(147 204.9 748.5)" fill="#300404" fill-opacity="0.7"/><ellipse cx="221" cy="740.6" rx="1.5" ry="0.7" transform="rotate(164 221 740.6)" fill="#701010" fill-opacity="0.8"/><ellipse cx="225.7" cy="782" rx="1.7" ry="0.6" transform="rotate(105 225.7 782)" fill="#701010" fill-opacity="0.8"/><ellipse cx="219.5" cy="724.1" rx="2.4" ry="1" transform="rotate(-171 219.5 724.1)" fill="#a81414" fill-opacity="0.6"/><ellipse cx="258" cy="772.8" rx="1.5" ry="0.8" transform="rotate(64 258 772.8)" fill="#b81818" fill-opacity="0.7"/><ellipse cx="269.6" cy="724.5" rx="2.2" ry="1" transform="rotate(-23 269.6 724.5)" fill="#701010" fill-opacity="0.8"/><ellipse cx="249.1" cy="754.1" rx="1.7" ry="1" transform="rotate(84 249.1 754.1)" fill="#000000" fill-opacity="0.6"/><ellipse cx="250.6" cy="716.7" rx="1.5" ry="0.8" transform="rotate(-59 250.6 716.7)" fill="#000000" fill-opacity="0.8"/><ellipse cx="234.8" cy="767.6" rx="1.8" ry="1" transform="rotate(98 234.8 767.6)" fill="#c42020" fill-opacity="0.7"/><ellipse cx="275.5" cy="758" rx="2.2" ry="1.1" transform="rotate(39 275.5 758)" fill="#901010" fill-opacity="0.6"/><ellipse cx="211.6" cy="773.7" rx="2.3" ry="0.6" transform="rotate(137 211.6 773.7)" fill="#c42020" fill-opacity="0.6"/><ellipse cx="249" cy="706" rx="1.4" ry="0.6" transform="rotate(-89 249 706)" fill="#b81818" fill-opacity="0.9"/><ellipse cx="228.7" cy="744.4" rx="2.7" ry="0.8" transform="rotate(151 228.7 744.4)" fill="#b81818" fill-opacity="0.8"/><ellipse cx="261.4" cy="729.7" rx="2.1" ry="1" transform="rotate(-17 261.4 729.7)" fill="#701010" fill-opacity="0.8"/><ellipse cx="220.6" cy="774.1" rx="2.7" ry="1" transform="rotate(110 220.6 774.1)" fill="#701010" fill-opacity="0.9"/><ellipse cx="229.4" cy="780.9" rx="2.4" ry="0.9" transform="rotate(108 229.4 780.9)" fill="#000000" fill-opacity="0.6"/><ellipse cx="206.2" cy="737.5" rx="1.7" ry="0.7" transform="rotate(184 206.2 737.5)" fill="#901010" fill-opacity="0.8"/><ellipse cx="277.9" cy="738.9" rx="1.5" ry="0.7" transform="rotate(5 277.9 738.9)" fill="#701010" fill-opacity="0.7"/><ellipse cx="260.4" cy="724.5" rx="1.8" ry="0.9" transform="rotate(-22 260.4 724.5)" fill="#a81414" fill-opacity="0.7"/><ellipse cx="208.2" cy="728.8" rx="2.1" ry="0.9" transform="rotate(-181 208.2 728.8)" fill="#901010" fill-opacity="0.7"/><ellipse cx="213.7" cy="738.7" rx="1.7" ry="0.8" transform="rotate(183 213.7 738.7)" fill="#901010" fill-opacity="0.7"/><ellipse cx="264.8" cy="772.4" rx="2.2" ry="0.6" transform="rotate(58 264.8 772.4)" fill="#701010" fill-opacity="0.6"/><ellipse cx="204.9" cy="747.8" rx="2.8" ry="0.9" transform="rotate(164 204.9 747.8)" fill="#300404" fill-opacity="0.6"/><ellipse cx="221.7" cy="705.8" rx="2.5" ry="0.7" transform="rotate(-132 221.7 705.8)" fill="#c42020" fill-opacity="0.6"/><ellipse cx="215.3" cy="756.8" rx="2.4" ry="0.7" transform="rotate(132 215.3 756.8)" fill="#c42020" fill-opacity="0.7"/><ellipse cx="231.7" cy="745.2" rx="2.3" ry="0.8" transform="rotate(145 231.7 745.2)" fill="#000000" fill-opacity="0.7"/><ellipse cx="281.4" cy="722.8" rx="2" ry="1" transform="rotate(-18 281.4 722.8)" fill="#901010" fill-opacity="0.8"/><ellipse cx="222.8" cy="783.8" rx="2.5" ry="1.1" transform="rotate(111 222.8 783.8)" fill="#c42020" fill-opacity="0.7"/><ellipse cx="262.9" cy="771" rx="1.8" ry="1.1" transform="rotate(77 262.9 771)" fill="#c42020" fill-opacity="0.8"/><ellipse cx="225.7" cy="708.1" rx="2.5" ry="1" transform="rotate(-144 225.7 708.1)" fill="#b81818" fill-opacity="0.6"/><ellipse cx="252.4" cy="735.5" rx="1.3" ry="0.7" transform="rotate(35 252.4 735.5)" fill="#b81818" fill-opacity="0.9"/><ellipse cx="255.8" cy="755.3" rx="1.6" ry="0.9" transform="rotate(71 255.8 755.3)" fill="#000000" fill-opacity="0.6"/><ellipse cx="283.2" cy="730.2" rx="2.3" ry="0.8" transform="rotate(11 283.2 730.2)" fill="#a81414" fill-opacity="0.7"/><ellipse cx="282.5" cy="778.6" rx="2.2" ry="0.7" transform="rotate(53 282.5 778.6)" fill="#b81818" fill-opacity="0.7"/><ellipse cx="225.3" cy="714.6" rx="1.4" ry="0.6" transform="rotate(-141 225.3 714.6)" fill="#a81414" fill-opacity="0.9"/><ellipse cx="213.4" cy="776.4" rx="2.7" ry="0.7" transform="rotate(126 213.4 776.4)" fill="#901010" fill-opacity="0.7"/><ellipse cx="207.5" cy="772.2" rx="2.2" ry="1" transform="rotate(130 207.5 772.2)" fill="#b81818" fill-opacity="0.6"/><ellipse cx="270.3" cy="767.6" rx="2.1" ry="0.8" transform="rotate(57 270.3 767.6)" fill="#c42020" fill-opacity="0.6"/><ellipse cx="223.6" cy="781.3" rx="1.7" ry="0.6" transform="rotate(107 223.6 781.3)" fill="#300404" fill-opacity="0.8"/><ellipse cx="243" cy="730.3" rx="2.1" ry="0.9" transform="rotate(-155 243 730.3)" fill="#c42020" fill-opacity="0.7"/><ellipse cx="236.6" cy="745.8" rx="2.4" ry="0.7" transform="rotate(115 236.6 745.8)" fill="#b81818" fill-opacity="0.6"/><ellipse cx="222.9" cy="770.1" rx="2" ry="0.8" transform="rotate(117 222.9 770.1)" fill="#701010" fill-opacity="0.8"/><ellipse cx="225.5" cy="755.3" rx="2" ry="0.6" transform="rotate(129 225.5 755.3)" fill="#000000" fill-opacity="0.7"/><ellipse cx="228" cy="705.5" rx="2.2" ry="0.9" transform="rotate(-137 228 705.5)" fill="#901010" fill-opacity="0.8"/><ellipse cx="238" cy="747.7" rx="2.4" ry="1" transform="rotate(119 238 747.7)" fill="#c42020" fill-opacity="0.6"/><ellipse cx="239.4" cy="739.9" rx="1.2" ry="0.6" transform="rotate(133 239.4 739.9)" fill="#000000" fill-opacity="0.8"/><ellipse cx="273.1" cy="772.2" rx="1.8" ry="0.8" transform="rotate(56 273.1 772.2)" fill="#b81818" fill-opacity="0.8"/><ellipse cx="261.1" cy="704.9" rx="1.5" ry="0.6" transform="rotate(-62 261.1 704.9)" fill="#701010" fill-opacity="0.8"/><ellipse cx="278.5" cy="725.4" rx="1.3" ry="0.7" transform="rotate(0 278.5 725.4)" fill="#000000" fill-opacity="0.6"/><ellipse cx="234.5" cy="770.3" rx="2.5" ry="0.8" transform="rotate(103 234.5 770.3)" fill="#a81414" fill-opacity="0.7"/><ellipse cx="277.8" cy="712.5" rx="2.4" ry="0.6" transform="rotate(-39 277.8 712.5)" fill="#a81414" fill-opacity="0.6"/><ellipse cx="262.7" cy="754.1" rx="1.8" ry="0.6" transform="rotate(47 262.7 754.1)" fill="#000000" fill-opacity="0.9"/><ellipse cx="218.5" cy="754.6" rx="1.5" ry="1" transform="rotate(154 218.5 754.6)" fill="#300404" fill-opacity="0.8"/><ellipse cx="251.8" cy="776.9" rx="1.8" ry="0.9" transform="rotate(81 251.8 776.9)" fill="#300404" fill-opacity="0.9"/><ellipse cx="282.2" cy="746.3" rx="2.7" ry="1.1" transform="rotate(31 282.2 746.3)" fill="#b81818" fill-opacity="0.8"/><ellipse cx="282.2" cy="731.3" rx="2.5" ry="0.9" transform="rotate(1 282.2 731.3)" fill="#a81414" fill-opacity="0.8"/><ellipse cx="261.3" cy="770.3" rx="2.1" ry="1" transform="rotate(81 261.3 770.3)" fill="#000000" fill-opacity="0.8"/><ellipse cx="261.2" cy="769.9" rx="2.7" ry="1.1" transform="rotate(79 261.2 769.9)" fill="#701010" fill-opacity="0.8"/><ellipse cx="271.7" cy="759" rx="1.5" ry="0.9" transform="rotate(48 271.7 759)" fill="#b81818" fill-opacity="0.7"/><ellipse cx="208.3" cy="716.3" rx="2.6" ry="1" transform="rotate(-159 208.3 716.3)" fill="#000000" fill-opacity="0.9"/><ellipse cx="220.8" cy="729.1" rx="1.7" ry="0.8" transform="rotate(-166 220.8 729.1)" fill="#c42020" fill-opacity="0.7"/><ellipse cx="260.6" cy="719" rx="2.5" ry="0.8" transform="rotate(-45 260.6 719)" fill="#b81818" fill-opacity="0.8"/><ellipse cx="261.4" cy="767.8" rx="1.9" ry="0.8" transform="rotate(67 261.4 767.8)" fill="#300404" fill-opacity="0.8"/><ellipse cx="255.9" cy="722" rx="2.4" ry="0.9" transform="rotate(-44 255.9 722)" fill="#b81818" fill-opacity="0.7"/><ellipse cx="260.9" cy="733.6" rx="2.6" ry="0.9" transform="rotate(10 260.9 733.6)" fill="#a81414" fill-opacity="0.7"/><ellipse cx="262.1" cy="764.4" rx="2.8" ry="0.9" transform="rotate(66 262.1 764.4)" fill="#c42020" fill-opacity="0.7"/><ellipse cx="248.1" cy="769.1" rx="2.3" ry="1.1" transform="rotate(96 248.1 769.1)" fill="#000000" fill-opacity="0.7"/><ellipse cx="256.7" cy="783.3" rx="2.1" ry="1.1" transform="rotate(72 256.7 783.3)" fill="#c42020" fill-opacity="0.9"/><ellipse cx="208.5" cy="772.4" rx="2.5" ry="0.9" transform="rotate(133 208.5 772.4)" fill="#300404" fill-opacity="0.8"/><ellipse cx="241.4" cy="732" rx="1.7" ry="1.1" transform="rotate(-181 241.4 732)" fill="#c42020" fill-opacity="0.7"/><ellipse cx="228.8" cy="756" rx="2.1" ry="0.7" transform="rotate(134 228.8 756)" fill="#000000" fill-opacity="0.8"/><ellipse cx="211.8" cy="753" rx="1.5" ry="0.7" transform="rotate(149 211.8 753)" fill="#000000" fill-opacity="0.6"/><ellipse cx="229.6" cy="756" rx="2.3" ry="1" transform="rotate(138 229.6 756)" fill="#c42020" fill-opacity="0.6"/><ellipse cx="258.8" cy="753.1" rx="1.4" ry="1" transform="rotate(60 258.8 753.1)" fill="#701010" fill-opacity="0.6"/><ellipse cx="257.4" cy="780.1" rx="1.8" ry="0.9" transform="rotate(80 257.4 780.1)" fill="#300404" fill-opacity="0.7"/><ellipse cx="232.1" cy="766.3" rx="2.2" ry="0.9" transform="rotate(122 232.1 766.3)" fill="#c42020" fill-opacity="0.7"/><ellipse cx="229" cy="769.5" rx="2.2" ry="0.7" transform="rotate(126 229 769.5)" fill="#000000" fill-opacity="0.6"/><ellipse cx="216.9" cy="723.2" rx="2.4" ry="0.9" transform="rotate(-172 216.9 723.2)" fill="#300404" fill-opacity="0.8"/><ellipse cx="217" cy="760.1" rx="2.1" ry="0.9" transform="rotate(146 217 760.1)" fill="#b81818" fill-opacity="0.6"/><ellipse cx="234.6" cy="728.7" rx="2.5" ry="1" transform="rotate(-161 234.6 728.7)" fill="#c42020" fill-opacity="0.6"/><ellipse cx="224.8" cy="741.5" rx="1.7" ry="1" transform="rotate(147 224.8 741.5)" fill="#b81818" fill-opacity="0.7"/><ellipse cx="249.9" cy="734.7" rx="2.7" ry="0.7" transform="rotate(30 249.9 734.7)" fill="#000000" fill-opacity="0.6"/><ellipse cx="257.7" cy="752.9" rx="1.6" ry="0.9" transform="rotate(48 257.7 752.9)" fill="#000000" fill-opacity="0.6"/><ellipse cx="273.6" cy="769.5" rx="2" ry="1" transform="rotate(61 273.6 769.5)" fill="#000000" fill-opacity="0.8"/><ellipse cx="273.8" cy="727.3" rx="1.8" ry="1" transform="rotate(-11 273.8 727.3)" fill="#000000" fill-opacity="0.9"/><ellipse cx="233.7" cy="733.4" rx="2.6" ry="1" transform="rotate(189 233.7 733.4)" fill="#901010" fill-opacity="0.8"/><ellipse cx="229.5" cy="735.7" rx="1.3" ry="0.9" transform="rotate(163 229.5 735.7)" fill="#300404" fill-opacity="0.8"/><ellipse cx="258.7" cy="711.4" rx="2.7" ry="0.6" transform="rotate(-49 258.7 711.4)" fill="#c42020" fill-opacity="0.8"/><ellipse cx="205.2" cy="770.4" rx="2.3" ry="0.6" transform="rotate(151 205.2 770.4)" fill="#b81818" fill-opacity="0.7"/><ellipse cx="272" cy="722.9" rx="1.8" ry="0.7" transform="rotate(-33 272 722.9)" fill="#a81414" fill-opacity="0.8"/><ellipse cx="261.6" cy="734.5" rx="2.5" ry="0.7" transform="rotate(22 261.6 734.5)" fill="#c42020" fill-opacity="0.9"/><ellipse cx="273.7" cy="752.2" rx="1.8" ry="0.8" transform="rotate(44 273.7 752.2)" fill="#b81818" fill-opacity="0.8"/><ellipse cx="269.8" cy="781.3" rx="1.2" ry="0.9" transform="rotate(51 269.8 781.3)" fill="#c42020" fill-opacity="0.9"/><ellipse cx="274.6" cy="767.8" rx="2" ry="0.7" transform="rotate(51 274.6 767.8)" fill="#a81414" fill-opacity="0.8"/><ellipse cx="203.1" cy="783.3" rx="2.7" ry="0.9" transform="rotate(115 203.1 783.3)" fill="#000000" fill-opacity="0.8"/><ellipse cx="243.4" cy="744.7" rx="2.7" ry="0.7" transform="rotate(97 243.4 744.7)" fill="#c42020" fill-opacity="0.8"/><ellipse cx="229.1" cy="716.8" rx="1.6" ry="0.7" transform="rotate(-135 229.1 716.8)" fill="#701010" fill-opacity="0.8"/><ellipse cx="230.5" cy="743" rx="2.1" ry="0.7" transform="rotate(144 230.5 743)" fill="#901010" fill-opacity="0.7"/><ellipse cx="225.5" cy="768.2" rx="1.6" ry="0.9" transform="rotate(124 225.5 768.2)" fill="#b81818" fill-opacity="0.7"/><ellipse cx="222.8" cy="716.7" rx="2.3" ry="0.7" transform="rotate(-148 222.8 716.7)" fill="#901010" fill-opacity="0.6"/><ellipse cx="205.5" cy="706.8" rx="2.5" ry="1" transform="rotate(-154 205.5 706.8)" fill="#701010" fill-opacity="0.8"/><ellipse cx="266.9" cy="715.3" rx="2" ry="1.1" transform="rotate(-37 266.9 715.3)" fill="#a81414" fill-opacity="0.7"/><ellipse cx="233.4" cy="776.2" rx="1.7" ry="0.7" transform="rotate(109 233.4 776.2)" fill="#000000" fill-opacity="0.8"/><ellipse cx="281.3" cy="720.5" rx="1.8" ry="0.7" transform="rotate(-6 281.3 720.5)" fill="#c42020" fill-opacity="0.7"/><ellipse cx="215" cy="770.6" rx="2.2" ry="0.9" transform="rotate(117 215 770.6)" fill="#901010" fill-opacity="0.8"/><ellipse cx="265.3" cy="723.9" rx="2.4" ry="0.9" transform="rotate(-19 265.3 723.9)" fill="#901010" fill-opacity="0.7"/><ellipse cx="203.6" cy="778.9" rx="1.6" ry="1" transform="rotate(131 203.6 778.9)" fill="#a81414" fill-opacity="0.8"/><ellipse cx="247.8" cy="782.7" rx="2.5" ry="0.9" transform="rotate(83 247.8 782.7)" fill="#901010" fill-opacity="0.6"/><ellipse cx="239" cy="751.6" rx="1.7" ry="0.7" transform="rotate(98 239 751.6)" fill="#300404" fill-opacity="0.7"/><ellipse cx="230.3" cy="731.6" rx="1.6" ry="1" transform="rotate(-178 230.3 731.6)" fill="#c42020" fill-opacity="0.8"/><ellipse cx="281.7" cy="760.2" rx="1.6" ry="0.9" transform="rotate(33 281.7 760.2)" fill="#a81414" fill-opacity="0.7"/><ellipse cx="209.4" cy="782.9" rx="1.8" ry="1.1" transform="rotate(111 209.4 782.9)" fill="#300404" fill-opacity="0.8"/><ellipse cx="238.8" cy="752.4" rx="1.9" ry="0.8" transform="rotate(118 238.8 752.4)" fill="#701010" fill-opacity="0.9"/><ellipse cx="254.6" cy="744.2" rx="1.9" ry="1" transform="rotate(61 254.6 744.2)" fill="#701010" fill-opacity="0.8"/><ellipse cx="272.6" cy="707" rx="1.3" ry="0.7" transform="rotate(-38 272.6 707)" fill="#a81414" fill-opacity="0.7"/><ellipse cx="229.1" cy="721.7" rx="1.6" ry="0.7" transform="rotate(-136 229.1 721.7)" fill="#b81818" fill-opacity="0.7"/><ellipse cx="237.1" cy="771" rx="2" ry="0.9" transform="rotate(104 237.1 771)" fill="#701010" fill-opacity="0.6"/><ellipse cx="282.8" cy="763.6" rx="1.5" ry="0.8" transform="rotate(52 282.8 763.6)" fill="#300404" fill-opacity="0.7"/><ellipse cx="245.8" cy="719.2" rx="2.7" ry="0.7" transform="rotate(-77 245.8 719.2)" fill="#901010" fill-opacity="0.6"/><ellipse cx="245.2" cy="777.7" rx="1.7" ry="0.9" transform="rotate(79 245.2 777.7)" fill="#a81414" fill-opacity="0.9"/><ellipse cx="227.1" cy="761.8" rx="2.4" ry="0.8" transform="rotate(134 227.1 761.8)" fill="#901010" fill-opacity="0.9"/><ellipse cx="247.5" cy="738.7" rx="1.3" ry="0.8" transform="rotate(89 247.5 738.7)" fill="#701010" fill-opacity="0.7"/><ellipse cx="248.5" cy="737.6" rx="2.1" ry="0.9" transform="rotate(59 248.5 737.6)" fill="#701010" fill-opacity="0.7"/><ellipse cx="272.8" cy="761.5" rx="2.1" ry="0.9" transform="rotate(46 272.8 761.5)" fill="#c42020" fill-opacity="0.6"/><ellipse cx="208" cy="707.3" rx="2.4" ry="0.7" transform="rotate(-153 208 707.3)" fill="#c42020" fill-opacity="0.6"/><ellipse cx="233.9" cy="713.2" rx="2.5" ry="1.1" transform="rotate(-119 233.9 713.2)" fill="#b81818" fill-opacity="0.9"/><ellipse cx="229.9" cy="766.4" rx="2.2" ry="0.9" transform="rotate(101 229.9 766.4)" fill="#701010" fill-opacity="0.7"/><ellipse cx="276.6" cy="733.6" rx="2.3" ry="0.8" transform="rotate(11 276.6 733.6)" fill="#c42020" fill-opacity="0.6"/><ellipse cx="245.2" cy="735.6" rx="1.6" ry="0.8" transform="rotate(96 245.2 735.6)" fill="#b81818" fill-opacity="0.7"/><ellipse cx="213.2" cy="763.7" rx="1.5" ry="1" transform="rotate(144 213.2 763.7)" fill="#c42020" fill-opacity="0.7"/><ellipse cx="259.2" cy="735.2" rx="2" ry="0.9" transform="rotate(19 259.2 735.2)" fill="#300404" fill-opacity="0.7"/><ellipse cx="232.6" cy="771.5" rx="2.7" ry="0.8" transform="rotate(121 232.6 771.5)" fill="#300404" fill-opacity="0.6"/><ellipse cx="262.7" cy="720.6" rx="1.8" ry="1.1" transform="rotate(-43 262.7 720.6)" fill="#701010" fill-opacity="0.6"/><ellipse cx="214.7" cy="769.1" rx="1.5" ry="0.7" transform="rotate(131 214.7 769.1)" fill="#901010" fill-opacity="0.6"/><ellipse cx="208.1" cy="776.5" rx="1.8" ry="1" transform="rotate(144 208.1 776.5)" fill="#300404" fill-opacity="0.6"/><ellipse cx="270.7" cy="779.9" rx="1.2" ry="0.9" transform="rotate(71 270.7 779.9)" fill="#300404" fill-opacity="0.8"/><ellipse cx="261.2" cy="765.9" rx="2.7" ry="0.9" transform="rotate(76 261.2 765.9)" fill="#b81818" fill-opacity="0.8"/><ellipse cx="273.4" cy="725.2" rx="1.9" ry="0.7" transform="rotate(-15 273.4 725.2)" fill="#a81414" fill-opacity="0.8"/><ellipse cx="239.9" cy="729.5" rx="1.5" ry="0.8" transform="rotate(-161 239.9 729.5)" fill="#b81818" fill-opacity="0.8"/><ellipse cx="245" cy="725.5" rx="2.1" ry="0.8" transform="rotate(-113 245 725.5)" fill="#000000" fill-opacity="0.8"/><ellipse cx="274.8" cy="751.1" rx="2.4" ry="0.8" transform="rotate(23 274.8 751.1)" fill="#701010" fill-opacity="0.9"/><ellipse cx="245.9" cy="777" rx="2.2" ry="0.8" transform="rotate(97 245.9 777)" fill="#000000" fill-opacity="0.8"/><ellipse cx="249" cy="715.9" rx="2.8" ry="1" transform="rotate(-65 249 715.9)" fill="#c42020" fill-opacity="0.8"/><ellipse cx="277.5" cy="779.8" rx="1.5" ry="0.8" transform="rotate(57 277.5 779.8)" fill="#000000" fill-opacity="0.8"/><ellipse cx="228.9" cy="718.8" rx="2.3" ry="1" transform="rotate(-156 228.9 718.8)" fill="#000000" fill-opacity="0.9"/><ellipse cx="275.3" cy="719.4" rx="1.8" ry="0.9" transform="rotate(-14 275.3 719.4)" fill="#300404" fill-opacity="0.8"/><ellipse cx="261" cy="723.9" rx="1.7" ry="0.7" transform="rotate(-16 261 723.9)" fill="#701010" fill-opacity="0.6"/><ellipse cx="255.9" cy="736.9" rx="2.5" ry="0.8" transform="rotate(39 255.9 736.9)" fill="#901010" fill-opacity="0.6"/><ellipse cx="211.8" cy="762" rx="2.7" ry="0.8" transform="rotate(149 211.8 762)" fill="#a81414" fill-opacity="0.6"/><ellipse cx="271.7" cy="751.3" rx="1.3" ry="1" transform="rotate(44 271.7 751.3)" fill="#701010" fill-opacity="0.7"/><ellipse cx="211.7" cy="733.1" rx="1.2" ry="0.8" transform="rotate(170 211.7 733.1)" fill="#701010" fill-opacity="0.7"/><ellipse cx="249.4" cy="735.3" rx="2.3" ry="0.8" transform="rotate(54 249.4 735.3)" fill="#701010" fill-opacity="0.7"/><ellipse cx="277.6" cy="762.4" rx="1.6" ry="0.7" transform="rotate(45 277.6 762.4)" fill="#300404" fill-opacity="0.6"/><ellipse cx="223.7" cy="734.7" rx="1.5" ry="0.6" transform="rotate(163 223.7 734.7)" fill="#701010" fill-opacity="0.8"/><ellipse cx="250.4" cy="735.3" rx="2" ry="1.1" transform="rotate(33 250.4 735.3)" fill="#c42020" fill-opacity="0.6"/><ellipse cx="247.6" cy="778.1" rx="1.7" ry="1" transform="rotate(101 247.6 778.1)" fill="#c42020" fill-opacity="0.7"/><ellipse cx="210.1" cy="706.3" rx="2.4" ry="0.7" transform="rotate(-154 210.1 706.3)" fill="#b81818" fill-opacity="0.6"/><ellipse cx="221.4" cy="743.1" rx="2.7" ry="0.8" transform="rotate(147 221.4 743.1)" fill="#c42020" fill-opacity="0.7"/><ellipse cx="243.2" cy="777.7" rx="1.3" ry="0.6" transform="rotate(80 243.2 777.7)" fill="#b81818" fill-opacity="0.7"/><ellipse cx="212.4" cy="772" rx="1.9" ry="0.9" transform="rotate(116 212.4 772)" fill="#b81818" fill-opacity="0.6"/><ellipse cx="236" cy="717.6" rx="1.4" ry="0.9" transform="rotate(-109 236 717.6)" fill="#b81818" fill-opacity="0.6"/><ellipse cx="218.9" cy="709.8" rx="2.1" ry="0.8" transform="rotate(-136 218.9 709.8)" fill="#a81414" fill-opacity="0.6"/><ellipse cx="218.5" cy="729.9" rx="1.3" ry="0.8" transform="rotate(-181 218.5 729.9)" fill="#701010" fill-opacity="0.9"/><ellipse cx="259.1" cy="755" rx="1.3" ry="0.9" transform="rotate(65 259.1 755)" fill="#000000" fill-opacity="0.8"/><ellipse cx="274.4" cy="780.3" rx="1.8" ry="1" transform="rotate(62 274.4 780.3)" fill="#b81818" fill-opacity="0.7"/><ellipse cx="252.3" cy="741.4" rx="1.9" ry="0.8" transform="rotate(58 252.3 741.4)" fill="#300404" fill-opacity="0.7"/><ellipse cx="257.2" cy="712" rx="2.3" ry="0.9" transform="rotate(-70 257.2 712)" fill="#701010" fill-opacity="0.9"/><ellipse cx="207" cy="717.8" rx="2.4" ry="0.8" transform="rotate(-165 207 717.8)" fill="#b81818" fill-opacity="0.9"/><ellipse cx="228.9" cy="745.6" rx="1.2" ry="0.8" transform="rotate(151 228.9 745.6)" fill="#000000" fill-opacity="0.8"/><ellipse cx="267.4" cy="768" rx="1.8" ry="0.9" transform="rotate(50 267.4 768)" fill="#701010" fill-opacity="0.8"/><ellipse cx="205.8" cy="718.2" rx="2" ry="0.7" transform="rotate(-158 205.8 718.2)" fill="#901010" fill-opacity="0.7"/><ellipse cx="277.4" cy="763.9" rx="2.7" ry="0.7" transform="rotate(42 277.4 763.9)" fill="#c42020" fill-opacity="0.9"/><ellipse cx="268.7" cy="775.2" rx="1.6" ry="1" transform="rotate(50 268.7 775.2)" fill="#b81818" fill-opacity="0.8"/><ellipse cx="245.6" cy="737.3" rx="2.5" ry="0.8" transform="rotate(97 245.6 737.3)" fill="#000000" fill-opacity="0.9"/><ellipse cx="277.9" cy="728.8" rx="1.7" ry="0.8" transform="rotate(-13 277.9 728.8)" fill="#300404" fill-opacity="0.7"/><ellipse cx="208.5" cy="753.3" rx="2.4" ry="0.9" transform="rotate(150 208.5 753.3)" fill="#c42020" fill-opacity="0.6"/><ellipse cx="282.5" cy="715.9" rx="1.5" ry="1" transform="rotate(-11 282.5 715.9)" fill="#a81414" fill-opacity="0.6"/><ellipse cx="255.5" cy="744.9" rx="1.7" ry="0.8" transform="rotate(45 255.5 744.9)" fill="#000000" fill-opacity="0.8"/><ellipse cx="277.3" cy="757.2" rx="1.3" ry="0.7" transform="rotate(41 277.3 757.2)" fill="#a81414" fill-opacity="0.8"/><ellipse cx="242.8" cy="779.6" rx="2.7" ry="0.7" transform="rotate(85 242.8 779.6)" fill="#c42020" fill-opacity="0.8"/><ellipse cx="240.2" cy="776.8" rx="2.3" ry="0.7" transform="rotate(100 240.2 776.8)" fill="#a81414" fill-opacity="0.8"/><ellipse cx="259.6" cy="712.5" rx="1.5" ry="0.8" transform="rotate(-47 259.6 712.5)" fill="#701010" fill-opacity="0.6"/><ellipse cx="259.5" cy="769.7" rx="1.5" ry="0.7" transform="rotate(60 259.5 769.7)" fill="#000000" fill-opacity="0.7"/><ellipse cx="205.1" cy="741.9" rx="2.1" ry="0.7" transform="rotate(162 205.1 741.9)" fill="#b81818" fill-opacity="0.8"/><ellipse cx="222" cy="737.2" rx="1.8" ry="1" transform="rotate(168 222 737.2)" fill="#c42020" fill-opacity="0.6"/><ellipse cx="249.8" cy="764.1" rx="2.5" ry="0.6" transform="rotate(90 249.8 764.1)" fill="#a81414" fill-opacity="0.7"/><ellipse cx="268.3" cy="749.1" rx="2.7" ry="0.8" transform="rotate(51 268.3 749.1)" fill="#901010" fill-opacity="0.6"/><ellipse cx="276.4" cy="767.5" rx="2.4" ry="0.8" transform="rotate(41 276.4 767.5)" fill="#000000" fill-opacity="0.8"/><ellipse cx="223.2" cy="706.1" rx="2.8" ry="0.9" transform="rotate(-131 223.2 706.1)" fill="#901010" fill-opacity="0.7"/><ellipse cx="256.6" cy="752.3" rx="1.2" ry="0.8" transform="rotate(55 256.6 752.3)" fill="#b81818" fill-opacity="0.9"/><ellipse cx="234.1" cy="722" rx="1.3" ry="0.8" transform="rotate(-127 234.1 722)" fill="#901010" fill-opacity="0.9"/><ellipse cx="256.2" cy="776" rx="2.6" ry="1" transform="rotate(89 256.2 776)" fill="#a81414" fill-opacity="0.6"/><ellipse cx="256.5" cy="718.3" rx="1.4" ry="0.7" transform="rotate(-54 256.5 718.3)" fill="#701010" fill-opacity="0.6"/><ellipse cx="270.9" cy="769.5" rx="1.2" ry="0.7" transform="rotate(41 270.9 769.5)" fill="#c42020" fill-opacity="0.8"/><ellipse cx="230.2" cy="762.4" rx="2.8" ry="0.9" transform="rotate(127 230.2 762.4)" fill="#a81414" fill-opacity="0.8"/><ellipse cx="211.5" cy="782.5" rx="2.5" ry="0.7" transform="rotate(109 211.5 782.5)" fill="#300404" fill-opacity="0.7"/><ellipse cx="266" cy="719.8" rx="1.5" ry="0.6" transform="rotate(-19 266 719.8)" fill="#701010" fill-opacity="0.7"/><ellipse cx="233.4" cy="739.2" rx="1.8" ry="1" transform="rotate(147 233.4 739.2)" fill="#901010" fill-opacity="0.6"/><ellipse cx="204.1" cy="778.8" rx="2.3" ry="1" transform="rotate(117 204.1 778.8)" fill="#a81414" fill-opacity="0.7"/><ellipse cx="214.2" cy="730" rx="1.4" ry="1" transform="rotate(-169 214.2 730)" fill="#701010" fill-opacity="0.9"/><ellipse cx="253.6" cy="716.4" rx="1.3" ry="0.6" transform="rotate(-60 253.6 716.4)" fill="#701010" fill-opacity="0.7"/><ellipse cx="245.4" cy="740.9" rx="1.9" ry="0.9" transform="rotate(90 245.4 740.9)" fill="#701010" fill-opacity="0.7"/><ellipse cx="245.5" cy="780.7" rx="2.7" ry="0.8" transform="rotate(102 245.5 780.7)" fill="#701010" fill-opacity="0.6"/><ellipse cx="230.9" cy="781.4" rx="2.3" ry="0.7" transform="rotate(114 230.9 781.4)" fill="#c42020" fill-opacity="0.7"/><ellipse cx="264.5" cy="745.6" rx="1.6" ry="0.7" transform="rotate(40 264.5 745.6)" fill="#300404" fill-opacity="0.9"/><ellipse cx="247.1" cy="757.7" rx="2.2" ry="1" transform="rotate(83 247.1 757.7)" fill="#000000" fill-opacity="0.8"/><ellipse cx="217.7" cy="751.6" rx="2.6" ry="1.1" transform="rotate(155 217.7 751.6)" fill="#901010" fill-opacity="0.8"/><ellipse cx="251.4" cy="752.7" rx="2.1" ry="0.9" transform="rotate(84 251.4 752.7)" fill="#c42020" fill-opacity="0.6"/><ellipse cx="277.1" cy="757.6" rx="2.5" ry="0.7" transform="rotate(36 277.1 757.6)" fill="#701010" fill-opacity="0.6"/><ellipse cx="269.5" cy="731.1" rx="2.1" ry="1" transform="rotate(-17 269.5 731.1)" fill="#c42020" fill-opacity="0.6"/><ellipse cx="231.8" cy="745.3" rx="2.4" ry="1.1" transform="rotate(142 231.8 745.3)" fill="#c42020" fill-opacity="0.6"/><ellipse cx="259.6" cy="706.8" rx="1.7" ry="0.6" transform="rotate(-66 259.6 706.8)" fill="#000000" fill-opacity="0.8"/><ellipse cx="247.2" cy="755.9" rx="2.2" ry="1" transform="rotate(97 247.2 755.9)" fill="#a81414" fill-opacity="0.9"/><ellipse cx="230.5" cy="780.3" rx="1.6" ry="0.7" transform="rotate(112 230.5 780.3)" fill="#901010" fill-opacity="0.9"/><ellipse cx="272.8" cy="766.7" rx="1.3" ry="1.1" transform="rotate(62 272.8 766.7)" fill="#901010" fill-opacity="0.7"/><ellipse cx="269" cy="720" rx="1.5" ry="0.8" transform="rotate(-32 269 720)" fill="#701010" fill-opacity="0.7"/><ellipse cx="205.8" cy="718.2" rx="1.5" ry="0.7" transform="rotate(-174 205.8 718.2)" fill="#b81818" fill-opacity="0.9"/><ellipse cx="265.1" cy="748.7" rx="1.8" ry="1" transform="rotate(38 265.1 748.7)" fill="#b81818" fill-opacity="0.6"/><ellipse cx="261.7" cy="758.2" rx="2.3" ry="0.9" transform="rotate(59 261.7 758.2)" fill="#c42020" fill-opacity="0.6"/><ellipse cx="220" cy="757.5" rx="2.1" ry="0.8" transform="rotate(133 220 757.5)" fill="#a81414" fill-opacity="0.9"/><ellipse cx="242.1" cy="746.8" rx="2.5" ry="1" transform="rotate(111 242.1 746.8)" fill="#000000" fill-opacity="0.6"/><ellipse cx="231.5" cy="751.7" rx="2.8" ry="1" transform="rotate(136 231.5 751.7)" fill="#c42020" fill-opacity="0.6"/><ellipse cx="275" cy="758.1" rx="2.1" ry="0.7" transform="rotate(31 275 758.1)" fill="#a81414" fill-opacity="0.7"/><ellipse cx="237.8" cy="716.7" rx="2.8" ry="0.7" transform="rotate(-128 237.8 716.7)" fill="#701010" fill-opacity="0.9"/><ellipse cx="207" cy="765.7" rx="2.6" ry="0.8" transform="rotate(150 207 765.7)" fill="#c42020" fill-opacity="0.6"/><ellipse cx="272.6" cy="783.3" rx="2.1" ry="1" transform="rotate(47 272.6 783.3)" fill="#a81414" fill-opacity="0.7"/><ellipse cx="222.3" cy="731.8" rx="1.5" ry="0.7" transform="rotate(-169 222.3 731.8)" fill="#000000" fill-opacity="0.8"/><ellipse cx="231" cy="749.6" rx="2" ry="0.7" transform="rotate(131 231 749.6)" fill="#901010" fill-opacity="0.9"/><ellipse cx="249.9" cy="769.1" rx="1.4" ry="0.9" transform="rotate(96 249.9 769.1)" fill="#701010" fill-opacity="0.8"/><ellipse cx="229.4" cy="764.5" rx="1.8" ry="1" transform="rotate(117 229.4 764.5)" fill="#c42020" fill-opacity="0.6"/><ellipse cx="241" cy="707.3" rx="2.1" ry="1.1" transform="rotate(-102 241 707.3)" fill="#a81414" fill-opacity="0.6"/><ellipse cx="216.9" cy="783" rx="1.9" ry="0.8" transform="rotate(132 216.9 783)" fill="#901010" fill-opacity="0.7"/><ellipse cx="242.5" cy="707.4" rx="1.7" ry="1.1" transform="rotate(-103 242.5 707.4)" fill="#000000" fill-opacity="0.8"/><ellipse cx="263.4" cy="707" rx="1.5" ry="0.8" transform="rotate(-61 263.4 707)" fill="#a81414" fill-opacity="0.7"/><ellipse cx="221.4" cy="741.1" rx="2.5" ry="0.8" transform="rotate(145 221.4 741.1)" fill="#b81818" fill-opacity="0.7"/><ellipse cx="279.8" cy="727" rx="1.6" ry="0.9" transform="rotate(3 279.8 727)" fill="#000000" fill-opacity="0.7"/><ellipse cx="216.8" cy="740.1" rx="2.8" ry="0.6" transform="rotate(159 216.8 740.1)" fill="#a81414" fill-opacity="0.7"/><ellipse cx="265.8" cy="762" rx="1.4" ry="1.1" transform="rotate(43 265.8 762)" fill="#901010" fill-opacity="0.8"/><ellipse cx="229.6" cy="705.9" rx="2.8" ry="0.9" transform="rotate(-107 229.6 705.9)" fill="#c42020" fill-opacity="0.9"/><ellipse cx="282.4" cy="766" rx="2.1" ry="1" transform="rotate(52 282.4 766)" fill="#c42020" fill-opacity="0.7"/><ellipse cx="236.9" cy="711.7" rx="2" ry="0.8" transform="rotate(-122 236.9 711.7)" fill="#c42020" fill-opacity="0.7"/><ellipse cx="269.7" cy="742.2" rx="1.9" ry="1.1" transform="rotate(20 269.7 742.2)" fill="#300404" fill-opacity="0.9"/><ellipse cx="220" cy="710.3" rx="2.6" ry="0.6" transform="rotate(-139 220 710.3)" fill="#b81818" fill-opacity="0.8"/><ellipse cx="203.7" cy="728.6" rx="2.4" ry="0.9" transform="rotate(-187 203.7 728.6)" fill="#b81818" fill-opacity="0.9"/><ellipse cx="265" cy="760.5" rx="2.6" ry="0.8" transform="rotate(47 265 760.5)" fill="#a81414" fill-opacity="0.7"/><ellipse cx="274.6" cy="705.9" rx="1.9" ry="0.7" transform="rotate(-55 274.6 705.9)" fill="#701010" fill-opacity="0.9"/><ellipse cx="224.3" cy="735" rx="2.7" ry="0.9" transform="rotate(175 224.3 735)" fill="#b81818" fill-opacity="0.8"/><ellipse cx="210.2" cy="766.9" rx="2.7" ry="1" transform="rotate(140 210.2 766.9)" fill="#a81414" fill-opacity="0.7"/><ellipse cx="256.3" cy="745.7" rx="2.3" ry="1" transform="rotate(40 256.3 745.7)" fill="#300404" fill-opacity="0.9"/><ellipse cx="209.9" cy="740.9" rx="2.6" ry="0.9" transform="rotate(167 209.9 740.9)" fill="#c42020" fill-opacity="0.6"/><ellipse cx="232.8" cy="716.8" rx="2.7" ry="0.9" transform="rotate(-137 232.8 716.8)" fill="#300404" fill-opacity="0.9"/><ellipse cx="278.5" cy="765.6" rx="2.3" ry="1.1" transform="rotate(48 278.5 765.6)" fill="#701010" fill-opacity="0.6"/><ellipse cx="259.4" cy="770.6" rx="2.6" ry="0.7" transform="rotate(67 259.4 770.6)" fill="#901010" fill-opacity="0.7"/><ellipse cx="213.8" cy="764.2" rx="2.1" ry="1" transform="rotate(136 213.8 764.2)" fill="#000000" fill-opacity="0.9"/><ellipse cx="280.2" cy="753.4" rx="1.9" ry="0.6" transform="rotate(38 280.2 753.4)" fill="#b81818" fill-opacity="0.8"/><ellipse cx="224.4" cy="773.4" rx="2.4" ry="0.9" transform="rotate(112 224.4 773.4)" fill="#000000" fill-opacity="0.8"/><ellipse cx="214.1" cy="706.9" rx="1.3" ry="1" transform="rotate(-146 214.1 706.9)" fill="#701010" fill-opacity="0.7"/><ellipse cx="243.3" cy="715.1" rx="1.6" ry="0.9" transform="rotate(-108 243.3 715.1)" fill="#300404" fill-opacity="0.7"/><ellipse cx="228.7" cy="718.4" rx="1.6" ry="0.8" transform="rotate(-152 228.7 718.4)" fill="#701010" fill-opacity="0.8"/><ellipse cx="257.7" cy="768.3" rx="1.7" ry="0.6" transform="rotate(83 257.7 768.3)" fill="#000000" fill-opacity="0.8"/></g></g>
<g clip-path="url(#c22)"><g filter="url(#soft)"><rect x="283.1" y="707.3" width="74.2" height="74" fill="#0a0305"/><ellipse cx="324.4" cy="731.1" rx="2.1" ry="1.3" transform="rotate(71 324.4 731.1)" fill="#7a1018" fill-opacity="0.5"/><ellipse cx="333.9" cy="781.3" rx="1.8" ry="1.1" transform="rotate(156 333.9 781.3)" fill="#5a0a12" fill-opacity="0.6"/><ellipse cx="309.3" cy="768.4" rx="1" ry="0.8" transform="rotate(148 309.3 768.4)" fill="#7a1018" fill-opacity="0.6"/><ellipse cx="290.1" cy="721.3" rx="1.8" ry="1" transform="rotate(149 290.1 721.3)" fill="#3a0810" fill-opacity="0.6"/><ellipse cx="346.4" cy="717.6" rx="0.9" ry="0.5" transform="rotate(47 346.4 717.6)" fill="#3a0810" fill-opacity="0.4"/><ellipse cx="319.8" cy="711.7" rx="2" ry="1.2" transform="rotate(78 319.8 711.7)" fill="#6a0c14" fill-opacity="0.7"/><ellipse cx="327.6" cy="770.8" rx="0.7" ry="0.6" transform="rotate(56 327.6 770.8)" fill="#7a1018" fill-opacity="0.6"/><ellipse cx="319.6" cy="758.1" rx="1.3" ry="0.9" transform="rotate(51 319.6 758.1)" fill="#6a0c14" fill-opacity="0.4"/><ellipse cx="329.5" cy="711.9" rx="1.6" ry="0.9" transform="rotate(163 329.5 711.9)" fill="#6a0c14" fill-opacity="0.4"/><ellipse cx="330.4" cy="746.3" rx="0.7" ry="0.7" transform="rotate(139 330.4 746.3)" fill="#7a1018" fill-opacity="0.4"/><ellipse cx="338.6" cy="777.2" rx="1" ry="0.8" transform="rotate(121 338.6 777.2)" fill="#3a0810" fill-opacity="0.3"/><ellipse cx="306.3" cy="740.9" rx="1.3" ry="1" transform="rotate(132 306.3 740.9)" fill="#6a0c14" fill-opacity="0.7"/><ellipse cx="308.9" cy="750.2" rx="0.9" ry="0.8" transform="rotate(168 308.9 750.2)" fill="#5a0a12" fill-opacity="0.6"/><ellipse cx="318.6" cy="746.6" rx="1.2" ry="0.7" transform="rotate(52 318.6 746.6)" fill="#6a0c14" fill-opacity="0.7"/><ellipse cx="312.1" cy="723.3" rx="1.4" ry="1.1" transform="rotate(155 312.1 723.3)" fill="#3a0810" fill-opacity="0.7"/><ellipse cx="351.3" cy="729.4" rx="1.3" ry="0.8" transform="rotate(29 351.3 729.4)" fill="#3a0810" fill-opacity="0.6"/><ellipse cx="312.8" cy="739.3" rx="1.7" ry="1.1" transform="rotate(39 312.8 739.3)" fill="#7a1018" fill-opacity="0.6"/><ellipse cx="312.6" cy="723" rx="1" ry="0.8" transform="rotate(87 312.6 723)" fill="#7a1018" fill-opacity="0.7"/><ellipse cx="323.8" cy="718" rx="0.7" ry="0.7" transform="rotate(15 323.8 718)" fill="#3a0810" fill-opacity="0.5"/><ellipse cx="350.5" cy="779.8" rx="1" ry="1" transform="rotate(92 350.5 779.8)" fill="#6a0c14" fill-opacity="0.7"/><ellipse cx="349.1" cy="761.8" rx="0.7" ry="0.6" transform="rotate(135 349.1 761.8)" fill="#5a0a12" fill-opacity="0.5"/><ellipse cx="343.6" cy="781.2" rx="1.6" ry="1.3" transform="rotate(80 343.6 781.2)" fill="#3a0810" fill-opacity="0.4"/><ellipse cx="352.8" cy="764.1" rx="1.7" ry="1.3" transform="rotate(90 352.8 764.1)" fill="#5a0a12" fill-opacity="0.6"/><ellipse cx="294.9" cy="727.6" rx="1.8" ry="1.3" transform="rotate(124 294.9 727.6)" fill="#7a1018" fill-opacity="0.5"/><ellipse cx="302.7" cy="720" rx="0.8" ry="0.7" transform="rotate(50 302.7 720)" fill="#5a0a12" fill-opacity="0.4"/><ellipse cx="308.1" cy="772.4" rx="1.7" ry="1.1" transform="rotate(164 308.1 772.4)" fill="#5a0a12" fill-opacity="0.6"/><ellipse cx="345.9" cy="724.6" rx="1.2" ry="0.9" transform="rotate(176 345.9 724.6)" fill="#6a0c14" fill-opacity="0.3"/><ellipse cx="337.1" cy="762.3" rx="1.1" ry="1" transform="rotate(45 337.1 762.3)" fill="#5a0a12" fill-opacity="0.6"/><ellipse cx="314.9" cy="746.2" rx="1.7" ry="1" transform="rotate(169 314.9 746.2)" fill="#6a0c14" fill-opacity="0.3"/><ellipse cx="332.3" cy="732.2" rx="1.3" ry="0.9" transform="rotate(24 332.3 732.2)" fill="#5a0a12" fill-opacity="0.4"/><ellipse cx="350.3" cy="714.9" rx="2" ry="1.2" transform="rotate(72 350.3 714.9)" fill="#3a0810" fill-opacity="0.4"/><ellipse cx="321.7" cy="716.7" rx="0.8" ry="0.7" transform="rotate(32 321.7 716.7)" fill="#5a0a12" fill-opacity="0.5"/><ellipse cx="347.3" cy="741.3" rx="1" ry="0.7" transform="rotate(65 347.3 741.3)" fill="#6a0c14" fill-opacity="0.3"/><ellipse cx="297.8" cy="723.5" rx="1.2" ry="0.9" transform="rotate(21 297.8 723.5)" fill="#3a0810" fill-opacity="0.5"/><ellipse cx="312.9" cy="738.7" rx="1.7" ry="0.9" transform="rotate(35 312.9 738.7)" fill="#7a1018" fill-opacity="0.7"/><ellipse cx="348.3" cy="723.2" rx="0.9" ry="0.7" transform="rotate(32 348.3 723.2)" fill="#7a1018" fill-opacity="0.5"/><ellipse cx="320.6" cy="761.6" rx="1.1" ry="0.9" transform="rotate(170 320.6 761.6)" fill="#7a1018" fill-opacity="0.5"/><ellipse cx="308" cy="781" rx="0.9" ry="0.6" transform="rotate(51 308 781)" fill="#3a0810" fill-opacity="0.4"/><ellipse cx="330.9" cy="726.5" rx="1.8" ry="1.1" transform="rotate(96 330.9 726.5)" fill="#7a1018" fill-opacity="0.6"/><ellipse cx="302.4" cy="713" rx="1.3" ry="0.8" transform="rotate(62 302.4 713)" fill="#7a1018" fill-opacity="0.5"/><ellipse cx="348.5" cy="710.9" rx="1.1" ry="0.8" transform="rotate(97 348.5 710.9)" fill="#7a1018" fill-opacity="0.5"/><ellipse cx="353.8" cy="760.4" rx="2.1" ry="1.1" transform="rotate(7 353.8 760.4)" fill="#6a0c14" fill-opacity="0.6"/><ellipse cx="356.4" cy="773" rx="1.6" ry="1" transform="rotate(115 356.4 773)" fill="#7a1018" fill-opacity="0.4"/><ellipse cx="304.7" cy="708.2" rx="1.4" ry="1.2" transform="rotate(30 304.7 708.2)" fill="#3a0810" fill-opacity="0.6"/><ellipse cx="316" cy="725.2" rx="1.6" ry="1.3" transform="rotate(132 316 725.2)" fill="#3a0810" fill-opacity="0.5"/><ellipse cx="355.3" cy="738.1" rx="0.8" ry="0.7" transform="rotate(6 355.3 738.1)" fill="#7a1018" fill-opacity="0.5"/><ellipse cx="289" cy="711.2" rx="1.4" ry="1.3" transform="rotate(2 289 711.2)" fill="#3a0810" fill-opacity="0.5"/><ellipse cx="329" cy="721.4" rx="0.9" ry="0.8" transform="rotate(79 329 721.4)" fill="#3a0810" fill-opacity="0.3"/><ellipse cx="332.2" cy="725.2" rx="1.7" ry="1.2" transform="rotate(123 332.2 725.2)" fill="#5a0a12" fill-opacity="0.6"/><ellipse cx="343.7" cy="775.2" rx="1.4" ry="1.2" transform="rotate(134 343.7 775.2)" fill="#3a0810" fill-opacity="0.3"/><ellipse cx="301" cy="726.8" rx="1.2" ry="1.2" transform="rotate(156 301 726.8)" fill="#3a0810" fill-opacity="0.3"/><ellipse cx="347.5" cy="774.6" rx="1.1" ry="0.8" transform="rotate(103 347.5 774.6)" fill="#7a1018" fill-opacity="0.3"/><ellipse cx="355.3" cy="709.6" rx="0.9" ry="0.6" transform="rotate(59 355.3 709.6)" fill="#7a1018" fill-opacity="0.7"/><ellipse cx="332.9" cy="742.7" rx="1.6" ry="1.2" transform="rotate(1 332.9 742.7)" fill="#5a0a12" fill-opacity="0.7"/><ellipse cx="315.9" cy="748.2" rx="0.9" ry="0.6" transform="rotate(57 315.9 748.2)" fill="#5a0a12" fill-opacity="0.4"/><ellipse cx="298" cy="773.2" rx="1.3" ry="0.9" transform="rotate(102 298 773.2)" fill="#7a1018" fill-opacity="0.5"/><ellipse cx="292.1" cy="729.2" rx="1.7" ry="1" transform="rotate(8 292.1 729.2)" fill="#5a0a12" fill-opacity="0.4"/><ellipse cx="296.8" cy="768.1" rx="0.8" ry="0.7" transform="rotate(43 296.8 768.1)" fill="#3a0810" fill-opacity="0.6"/><ellipse cx="320.1" cy="775.8" rx="1.3" ry="1.2" transform="rotate(121 320.1 775.8)" fill="#6a0c14" fill-opacity="0.5"/><ellipse cx="312.5" cy="713.9" rx="0.8" ry="0.7" transform="rotate(12 312.5 713.9)" fill="#3a0810" fill-opacity="0.5"/><ellipse cx="296.7" cy="736" rx="1.9" ry="1.1" transform="rotate(166 296.7 736)" fill="#3a0810" fill-opacity="0.4"/><ellipse cx="352" cy="709.8" rx="1.4" ry="1.1" transform="rotate(40 352 709.8)" fill="#6a0c14" fill-opacity="0.4"/><ellipse cx="321.1" cy="741.3" rx="1.4" ry="0.8" transform="rotate(93 321.1 741.3)" fill="#6a0c14" fill-opacity="0.6"/><ellipse cx="298.8" cy="737.4" rx="1.3" ry="0.9" transform="rotate(119 298.8 737.4)" fill="#3a0810" fill-opacity="0.5"/><ellipse cx="348.7" cy="780.8" rx="1" ry="0.8" transform="rotate(47 348.7 780.8)" fill="#6a0c14" fill-opacity="0.6"/><ellipse cx="289.6" cy="734.5" rx="0.8" ry="0.7" transform="rotate(39 289.6 734.5)" fill="#6a0c14" fill-opacity="0.5"/><ellipse cx="293.5" cy="780.6" rx="1" ry="0.7" transform="rotate(100 293.5 780.6)" fill="#5a0a12" fill-opacity="0.7"/><ellipse cx="336.9" cy="773.7" rx="1" ry="0.9" transform="rotate(13 336.9 773.7)" fill="#6a0c14" fill-opacity="0.7"/><ellipse cx="314.1" cy="773" rx="1.5" ry="1.2" transform="rotate(136 314.1 773)" fill="#7a1018" fill-opacity="0.6"/><ellipse cx="300.3" cy="711.2" rx="0.9" ry="0.8" transform="rotate(94 300.3 711.2)" fill="#3a0810" fill-opacity="0.4"/></g></g>
<g clip-path="url(#c32)"><g filter="url(#soft)"><rect x="360.3" y="707.3" width="74.2" height="74" fill="#0a0305"/><ellipse cx="394.4" cy="777.4" rx="1.9" ry="1.2" transform="rotate(53 394.4 777.4)" fill="#7a1018" fill-opacity="0.6"/><ellipse cx="433.6" cy="729.5" rx="2.1" ry="1.2" transform="rotate(139 433.6 729.5)" fill="#5a0a12" fill-opacity="0.4"/><ellipse cx="405.6" cy="707.6" rx="1" ry="0.9" transform="rotate(15 405.6 707.6)" fill="#7a1018" fill-opacity="0.3"/><ellipse cx="390.5" cy="709.3" rx="1.4" ry="1.2" transform="rotate(146 390.5 709.3)" fill="#5a0a12" fill-opacity="0.6"/><ellipse cx="415.4" cy="751.9" rx="1.1" ry="0.7" transform="rotate(40 415.4 751.9)" fill="#3a0810" fill-opacity="0.4"/><ellipse cx="373.4" cy="772.7" rx="1.3" ry="1.2" transform="rotate(176 373.4 772.7)" fill="#7a1018" fill-opacity="0.3"/><ellipse cx="363.5" cy="747.5" rx="1.4" ry="0.8" transform="rotate(41 363.5 747.5)" fill="#3a0810" fill-opacity="0.7"/><ellipse cx="369.4" cy="745.2" rx="0.9" ry="0.5" transform="rotate(127 369.4 745.2)" fill="#6a0c14" fill-opacity="0.6"/><ellipse cx="372.5" cy="760.6" rx="1.5" ry="0.9" transform="rotate(35 372.5 760.6)" fill="#7a1018" fill-opacity="0.7"/><ellipse cx="405.4" cy="719.8" rx="1" ry="0.8" transform="rotate(158 405.4 719.8)" fill="#6a0c14" fill-opacity="0.4"/><ellipse cx="420.2" cy="772" rx="1.3" ry="0.9" transform="rotate(5 420.2 772)" fill="#7a1018" fill-opacity="0.3"/><ellipse cx="396.9" cy="755.2" rx="1.8" ry="1.1" transform="rotate(29 396.9 755.2)" fill="#6a0c14" fill-opacity="0.3"/><ellipse cx="374.7" cy="753.9" rx="1.3" ry="1" transform="rotate(122 374.7 753.9)" fill="#7a1018" fill-opacity="0.6"/><ellipse cx="394.7" cy="721.5" rx="1.2" ry="1" transform="rotate(154 394.7 721.5)" fill="#6a0c14" fill-opacity="0.5"/><ellipse cx="429.1" cy="767.5" rx="1.3" ry="1.2" transform="rotate(144 429.1 767.5)" fill="#5a0a12" fill-opacity="0.6"/><ellipse cx="422.1" cy="716.1" rx="1.2" ry="0.7" transform="rotate(88 422.1 716.1)" fill="#3a0810" fill-opacity="0.7"/><ellipse cx="400.8" cy="761" rx="1.5" ry="1" transform="rotate(79 400.8 761)" fill="#5a0a12" fill-opacity="0.6"/><ellipse cx="418.8" cy="772.3" rx="1.2" ry="0.9" transform="rotate(142 418.8 772.3)" fill="#7a1018" fill-opacity="0.7"/><ellipse cx="409" cy="741.8" rx="0.7" ry="0.6" transform="rotate(3 409 741.8)" fill="#5a0a12" fill-opacity="0.6"/><ellipse cx="389.1" cy="738.4" rx="1.3" ry="0.9" transform="rotate(124 389.1 738.4)" fill="#6a0c14" fill-opacity="0.5"/><ellipse cx="400.8" cy="712" rx="0.8" ry="0.5" transform="rotate(167 400.8 712)" fill="#5a0a12" fill-opacity="0.6"/><ellipse cx="433.8" cy="752" rx="1" ry="1" transform="rotate(23 433.8 752)" fill="#7a1018" fill-opacity="0.7"/><ellipse cx="383.7" cy="758.4" rx="2.1" ry="1.3" transform="rotate(83 383.7 758.4)" fill="#3a0810" fill-opacity="0.5"/><ellipse cx="402.2" cy="749.9" rx="0.9" ry="0.6" transform="rotate(90 402.2 749.9)" fill="#7a1018" fill-opacity="0.5"/><ellipse cx="386" cy="779.2" rx="0.6" ry="0.6" transform="rotate(62 386 779.2)" fill="#7a1018" fill-opacity="0.4"/><ellipse cx="421.7" cy="773.2" rx="1.3" ry="0.8" transform="rotate(47 421.7 773.2)" fill="#7a1018" fill-opacity="0.7"/><ellipse cx="405.1" cy="725.3" rx="1.1" ry="0.7" transform="rotate(47 405.1 725.3)" fill="#7a1018" fill-opacity="0.4"/><ellipse cx="401.2" cy="756.3" rx="1.2" ry="0.9" transform="rotate(140 401.2 756.3)" fill="#7a1018" fill-opacity="0.5"/><ellipse cx="428.2" cy="714.3" rx="1.1" ry="0.8" transform="rotate(112 428.2 714.3)" fill="#7a1018" fill-opacity="0.5"/><ellipse cx="372.7" cy="773.8" rx="1" ry="0.6" transform="rotate(151 372.7 773.8)" fill="#3a0810" fill-opacity="0.4"/><ellipse cx="386.8" cy="727.7" rx="1.2" ry="0.8" transform="rotate(42 386.8 727.7)" fill="#3a0810" fill-opacity="0.3"/><ellipse cx="382.2" cy="761" rx="1.3" ry="1" transform="rotate(51 382.2 761)" fill="#5a0a12" fill-opacity="0.5"/><ellipse cx="420.1" cy="774.5" rx="1" ry="0.6" transform="rotate(41 420.1 774.5)" fill="#5a0a12" fill-opacity="0.7"/><ellipse cx="385.5" cy="728.4" rx="1.2" ry="0.9" transform="rotate(94 385.5 728.4)" fill="#3a0810" fill-opacity="0.5"/><ellipse cx="417" cy="771.7" rx="1" ry="0.9" transform="rotate(119 417 771.7)" fill="#6a0c14" fill-opacity="0.4"/><ellipse cx="365.8" cy="720.6" rx="1.1" ry="0.9" transform="rotate(101 365.8 720.6)" fill="#3a0810" fill-opacity="0.4"/><ellipse cx="370.5" cy="720.9" rx="1.5" ry="1.1" transform="rotate(167 370.5 720.9)" fill="#6a0c14" fill-opacity="0.6"/><ellipse cx="376.8" cy="764.8" rx="1.5" ry="1.3" transform="rotate(123 376.8 764.8)" fill="#7a1018" fill-opacity="0.6"/><ellipse cx="406.3" cy="773.7" rx="1.3" ry="0.9" transform="rotate(9 406.3 773.7)" fill="#3a0810" fill-opacity="0.4"/><ellipse cx="373.9" cy="712.6" rx="1.4" ry="0.9" transform="rotate(153 373.9 712.6)" fill="#3a0810" fill-opacity="0.4"/><ellipse cx="406.1" cy="745.9" rx="1.1" ry="0.6" transform="rotate(28 406.1 745.9)" fill="#5a0a12" fill-opacity="0.7"/><ellipse cx="369.2" cy="769.4" rx="1" ry="0.6" transform="rotate(141 369.2 769.4)" fill="#3a0810" fill-opacity="0.4"/><ellipse cx="380.5" cy="744.4" rx="1.3" ry="0.8" transform="rotate(34 380.5 744.4)" fill="#7a1018" fill-opacity="0.5"/><ellipse cx="389.5" cy="778.9" rx="1.3" ry="0.8" transform="rotate(173 389.5 778.9)" fill="#7a1018" fill-opacity="0.4"/><ellipse cx="379.9" cy="776.4" rx="1.5" ry="1.1" transform="rotate(59 379.9 776.4)" fill="#5a0a12" fill-opacity="0.4"/><ellipse cx="417.7" cy="715.9" rx="1.2" ry="0.8" transform="rotate(55 417.7 715.9)" fill="#5a0a12" fill-opacity="0.4"/><ellipse cx="384.9" cy="736.1" rx="1.8" ry="1.1" transform="rotate(24 384.9 736.1)" fill="#6a0c14" fill-opacity="0.3"/><ellipse cx="375.4" cy="744.2" rx="1.2" ry="0.8" transform="rotate(24 375.4 744.2)" fill="#6a0c14" fill-opacity="0.5"/><ellipse cx="374.8" cy="774.6" rx="2.2" ry="1.2" transform="rotate(45 374.8 774.6)" fill="#5a0a12" fill-opacity="0.5"/><ellipse cx="414.1" cy="765.2" rx="0.8" ry="0.7" transform="rotate(165 414.1 765.2)" fill="#5a0a12" fill-opacity="0.5"/><ellipse cx="413" cy="745.9" rx="1.7" ry="1.2" transform="rotate(132 413 745.9)" fill="#5a0a12" fill-opacity="0.4"/><ellipse cx="400.1" cy="759.2" rx="0.9" ry="0.8" transform="rotate(118 400.1 759.2)" fill="#5a0a12" fill-opacity="0.4"/><ellipse cx="373.7" cy="713.4" rx="1.8" ry="1" transform="rotate(174 373.7 713.4)" fill="#6a0c14" fill-opacity="0.3"/><ellipse cx="412.3" cy="730.3" rx="1.2" ry="1" transform="rotate(70 412.3 730.3)" fill="#3a0810" fill-opacity="0.4"/><ellipse cx="394.1" cy="709.8" rx="0.9" ry="0.5" transform="rotate(51 394.1 709.8)" fill="#3a0810" fill-opacity="0.5"/><ellipse cx="418.4" cy="726.4" rx="1.4" ry="0.8" transform="rotate(74 418.4 726.4)" fill="#3a0810" fill-opacity="0.4"/><ellipse cx="369.7" cy="723.5" rx="1.6" ry="1.1" transform="rotate(119 369.7 723.5)" fill="#7a1018" fill-opacity="0.5"/><ellipse cx="410.8" cy="721.6" rx="0.9" ry="0.6" transform="rotate(151 410.8 721.6)" fill="#6a0c14" fill-opacity="0.6"/><ellipse cx="408" cy="766.4" rx="1.7" ry="1" transform="rotate(24 408 766.4)" fill="#6a0c14" fill-opacity="0.6"/><ellipse cx="417.8" cy="710.6" rx="0.7" ry="0.7" transform="rotate(94 417.8 710.6)" fill="#5a0a12" fill-opacity="0.4"/><ellipse cx="429.1" cy="727.1" rx="0.9" ry="0.9" transform="rotate(103 429.1 727.1)" fill="#3a0810" fill-opacity="0.6"/><ellipse cx="378.4" cy="743" rx="1.1" ry="0.8" transform="rotate(6 378.4 743)" fill="#3a0810" fill-opacity="0.6"/><ellipse cx="378" cy="777.3" rx="0.7" ry="0.6" transform="rotate(82 378 777.3)" fill="#5a0a12" fill-opacity="0.5"/><ellipse cx="405.8" cy="765.4" rx="1.5" ry="1.3" transform="rotate(172 405.8 765.4)" fill="#3a0810" fill-opacity="0.3"/><ellipse cx="375.9" cy="759" rx="2" ry="1.3" transform="rotate(11 375.9 759)" fill="#7a1018" fill-opacity="0.6"/><ellipse cx="381" cy="742.6" rx="0.9" ry="0.6" transform="rotate(164 381 742.6)" fill="#5a0a12" fill-opacity="0.7"/><ellipse cx="419.3" cy="714.5" rx="1.4" ry="1.2" transform="rotate(54 419.3 714.5)" fill="#5a0a12" fill-opacity="0.4"/><ellipse cx="398.6" cy="757.6" rx="1.6" ry="1.2" transform="rotate(38 398.6 757.6)" fill="#5a0a12" fill-opacity="0.5"/><ellipse cx="403.5" cy="750.7" rx="1.9" ry="1.3" transform="rotate(150 403.5 750.7)" fill="#6a0c14" fill-opacity="0.4"/><ellipse cx="371.4" cy="779.7" rx="0.9" ry="0.7" transform="rotate(8 371.4 779.7)" fill="#3a0810" fill-opacity="0.7"/><ellipse cx="399.6" cy="741.6" rx="2.1" ry="1.3" transform="rotate(80 399.6 741.6)" fill="#7a1018" fill-opacity="0.4"/><ellipse cx="412.4" cy="775.1" rx="1.2" ry="0.7" transform="rotate(57 412.4 775.1)" fill="#3a0810" fill-opacity="0.4"/><ellipse cx="373.3" cy="758.8" rx="1.1" ry="0.8" transform="rotate(154 373.3 758.8)" fill="#6a0c14" fill-opacity="0.5"/><ellipse cx="434.3" cy="736.1" rx="0.9" ry="0.8" transform="rotate(17 434.3 736.1)" fill="#7a1018" fill-opacity="0.6"/><ellipse cx="363.9" cy="765.6" rx="1.6" ry="1.2" transform="rotate(141 363.9 765.6)" fill="#3a0810" fill-opacity="0.4"/><ellipse cx="432.4" cy="727.7" rx="0.9" ry="0.7" transform="rotate(1 432.4 727.7)" fill="#6a0c14" fill-opacity="0.7"/><ellipse cx="429.4" cy="759.7" rx="1.6" ry="1.2" transform="rotate(14 429.4 759.7)" fill="#7a1018" fill-opacity="0.4"/><ellipse cx="411" cy="714.1" rx="0.8" ry="0.5" transform="rotate(121 411 714.1)" fill="#6a0c14" fill-opacity="0.7"/><ellipse cx="412.6" cy="748.7" rx="0.8" ry="0.7" transform="rotate(89 412.6 748.7)" fill="#5a0a12" fill-opacity="0.7"/><ellipse cx="364.4" cy="759.4" rx="1" ry="0.9" transform="rotate(3 364.4 759.4)" fill="#6a0c14" fill-opacity="0.4"/><ellipse cx="396.6" cy="777.4" rx="0.8" ry="0.7" transform="rotate(159 396.6 777.4)" fill="#5a0a12" fill-opacity="0.4"/><ellipse cx="373" cy="766.1" rx="1.6" ry="1" transform="rotate(65 373 766.1)" fill="#6a0c14" fill-opacity="0.4"/><ellipse cx="382.2" cy="777.4" rx="1" ry="0.7" transform="rotate(59 382.2 777.4)" fill="#7a1018" fill-opacity="0.5"/><ellipse cx="420.3" cy="743" rx="1.4" ry="0.8" transform="rotate(25 420.3 743)" fill="#7a1018" fill-opacity="0.6"/><ellipse cx="373.3" cy="773.1" rx="0.8" ry="0.5" transform="rotate(173 373.3 773.1)" fill="#7a1018" fill-opacity="0.7"/></g></g>
<text x="131.4" y="619.4" font-size="7.2" fill="#e6f5e0" text-anchor="start">50 µm</text>
<line x1="131.4" y1="623.3" x2="151.5" y2="623.3" stroke="#e6f5e0" stroke-width="1.1" stroke-linecap="butt"/>
<text x="208.7" y="619.4" font-size="7.2" fill="#e6f5e0" text-anchor="start">50 µm</text>
<line x1="208.7" y1="623.3" x2="228.8" y2="623.3" stroke="#e6f5e0" stroke-width="1.1" stroke-linecap="butt"/>
<text x="285.8" y="619.4" font-size="7.2" fill="#e6f5e0" text-anchor="start">50 µm</text>
<line x1="285.8" y1="623.3" x2="305.9" y2="623.3" stroke="#e6f5e0" stroke-width="1.1" stroke-linecap="butt"/>
<text x="363" y="619.4" font-size="7.2" fill="#e6f5e0" text-anchor="start">50 µm</text>
<line x1="363" y1="623.3" x2="383.1" y2="623.3" stroke="#e6f5e0" stroke-width="1.1" stroke-linecap="butt"/>
</svg>
<div class="frame"></div>
</body></html>
